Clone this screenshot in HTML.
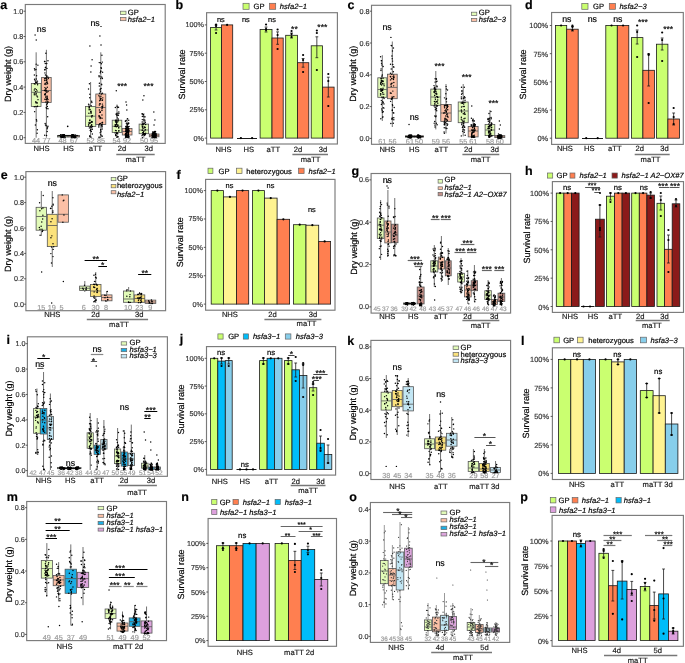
<!DOCTYPE html><html><head><meta charset="utf-8"><style>html,body{margin:0;padding:0;background:#fff;}svg{display:block;font-family:"Liberation Sans", sans-serif;will-change:transform;text-rendering:geometricPrecision;-webkit-font-smoothing:antialiased;}text{stroke:currentColor;stroke-width:0.18px;}</style></head><body><svg width="685" height="663" viewBox="0 0 685 663"><text x="0.3" y="9" font-size="12.5" text-anchor="start" fill="#000" color="#000" font-weight="bold">a</text>
<rect x="25.3" y="4.5" width="139.9" height="138.9" fill="none" stroke="#7a7a7a" stroke-width="1.15"/>
<line x1="23.5" y1="137.7" x2="25.3" y2="137.7" stroke="#333" stroke-width="0.8"/>
<text x="23.3" y="140.2" font-size="7.2" text-anchor="end" fill="#383838" color="#383838">0.0</text>
<line x1="23.5" y1="112.4" x2="25.3" y2="112.4" stroke="#333" stroke-width="0.8"/>
<text x="23.3" y="114.9" font-size="7.2" text-anchor="end" fill="#383838" color="#383838">0.2</text>
<line x1="23.5" y1="87.1" x2="25.3" y2="87.1" stroke="#333" stroke-width="0.8"/>
<text x="23.3" y="89.6" font-size="7.2" text-anchor="end" fill="#383838" color="#383838">0.4</text>
<line x1="23.5" y1="61.8" x2="25.3" y2="61.8" stroke="#333" stroke-width="0.8"/>
<text x="23.3" y="64.3" font-size="7.2" text-anchor="end" fill="#383838" color="#383838">0.6</text>
<line x1="23.5" y1="36.5" x2="25.3" y2="36.5" stroke="#333" stroke-width="0.8"/>
<text x="23.3" y="39" font-size="7.2" text-anchor="end" fill="#383838" color="#383838">0.8</text>
<line x1="23.5" y1="11.2" x2="25.3" y2="11.2" stroke="#333" stroke-width="0.8"/>
<text x="23.3" y="13.7" font-size="7.2" text-anchor="end" fill="#383838" color="#383838">1.0</text>
<text x="10.6" y="74" font-size="9" text-anchor="middle" fill="#000" color="#000" transform="rotate(-90 10.6 74)">Dry weight (g)</text>
<line x1="36.15" y1="52.3" x2="36.15" y2="83.4" stroke="#111" stroke-width="0.6"/>
<line x1="36.15" y1="106.5" x2="36.15" y2="137.7" stroke="#111" stroke-width="0.6"/>
<rect x="31.3" y="83.4" width="9.7" height="23.1" fill="#E2FBB8" stroke="#555" stroke-width="0.8"/>
<line x1="31.3" y1="92.3" x2="41" y2="92.3" stroke="#555" stroke-width="0.8"/>
<circle cx="37.17" cy="102.98" r="0.72" fill="#000"/>
<circle cx="35.95" cy="94.84" r="0.72" fill="#000"/>
<circle cx="34.57" cy="79.27" r="0.72" fill="#000"/>
<circle cx="35.89" cy="102.71" r="0.72" fill="#000"/>
<circle cx="35.94" cy="106.51" r="0.72" fill="#000"/>
<circle cx="37.88" cy="65.13" r="0.72" fill="#000"/>
<circle cx="34.31" cy="106.84" r="0.72" fill="#000"/>
<circle cx="35.69" cy="82.25" r="0.72" fill="#000"/>
<circle cx="34.32" cy="93.15" r="0.72" fill="#000"/>
<circle cx="36.13" cy="93.52" r="0.72" fill="#000"/>
<circle cx="35.06" cy="88.73" r="0.72" fill="#000"/>
<circle cx="34.29" cy="90.09" r="0.72" fill="#000"/>
<circle cx="36.7" cy="121.06" r="0.72" fill="#000"/>
<circle cx="37.55" cy="106.33" r="0.72" fill="#000"/>
<circle cx="37.01" cy="91.09" r="0.72" fill="#000"/>
<circle cx="35.85" cy="82.2" r="0.72" fill="#000"/>
<circle cx="35.39" cy="125.05" r="0.72" fill="#000"/>
<circle cx="37.49" cy="81.15" r="0.72" fill="#000"/>
<circle cx="34.34" cy="74.94" r="0.72" fill="#000"/>
<circle cx="35.82" cy="101.82" r="0.72" fill="#000"/>
<circle cx="36.94" cy="96.08" r="0.72" fill="#000"/>
<circle cx="35.91" cy="69.56" r="0.72" fill="#000"/>
<circle cx="36.23" cy="79.06" r="0.72" fill="#000"/>
<circle cx="34.32" cy="94.71" r="0.72" fill="#000"/>
<circle cx="38.02" cy="99.65" r="0.72" fill="#000"/>
<circle cx="34.87" cy="70.07" r="0.72" fill="#000"/>
<circle cx="37.2" cy="83.06" r="0.72" fill="#000"/>
<circle cx="35.11" cy="80.71" r="0.72" fill="#000"/>
<circle cx="36.45" cy="82.5" r="0.72" fill="#000"/>
<circle cx="36.34" cy="89.62" r="0.72" fill="#000"/>
<circle cx="37.25" cy="106.54" r="0.72" fill="#000"/>
<circle cx="37.08" cy="133.16" r="0.72" fill="#000"/>
<circle cx="36.39" cy="119.79" r="0.72" fill="#000"/>
<circle cx="37.59" cy="84.7" r="0.72" fill="#000"/>
<circle cx="36.17" cy="64.14" r="0.72" fill="#000"/>
<circle cx="35.55" cy="91.64" r="0.72" fill="#000"/>
<circle cx="36.59" cy="75.72" r="0.72" fill="#000"/>
<circle cx="35.1" cy="84.05" r="0.72" fill="#000"/>
<circle cx="37.55" cy="96.9" r="0.72" fill="#000"/>
<circle cx="37.38" cy="129.73" r="0.72" fill="#000"/>
<circle cx="36.82" cy="102.84" r="0.72" fill="#000"/>
<circle cx="34.27" cy="83.79" r="0.72" fill="#000"/>
<circle cx="34.63" cy="111.63" r="0.72" fill="#000"/>
<circle cx="34.48" cy="68.71" r="0.72" fill="#000"/>
<circle cx="35.09" cy="35" r="0.72" fill="#000"/>
<circle cx="36.23" cy="40" r="0.72" fill="#000"/>
<line x1="46.4" y1="49.8" x2="46.4" y2="77.4" stroke="#111" stroke-width="0.6"/>
<line x1="46.4" y1="102.4" x2="46.4" y2="137.7" stroke="#111" stroke-width="0.6"/>
<rect x="41.6" y="77.4" width="9.6" height="25" fill="#FBC0A6" stroke="#555" stroke-width="0.8"/>
<line x1="41.6" y1="90.5" x2="51.2" y2="90.5" stroke="#555" stroke-width="0.8"/>
<circle cx="44.7" cy="135.32" r="0.72" fill="#000"/>
<circle cx="47.31" cy="98.29" r="0.72" fill="#000"/>
<circle cx="46.81" cy="63.42" r="0.72" fill="#000"/>
<circle cx="45.09" cy="69.73" r="0.72" fill="#000"/>
<circle cx="47.26" cy="87.24" r="0.72" fill="#000"/>
<circle cx="46.57" cy="135.4" r="0.72" fill="#000"/>
<circle cx="44.62" cy="84.11" r="0.72" fill="#000"/>
<circle cx="45.7" cy="89.02" r="0.72" fill="#000"/>
<circle cx="46.5" cy="99.69" r="0.72" fill="#000"/>
<circle cx="44.57" cy="61.41" r="0.72" fill="#000"/>
<circle cx="46.44" cy="80.82" r="0.72" fill="#000"/>
<circle cx="45.18" cy="123.56" r="0.72" fill="#000"/>
<circle cx="47.3" cy="128.67" r="0.72" fill="#000"/>
<circle cx="47.51" cy="127.23" r="0.72" fill="#000"/>
<circle cx="48.17" cy="101.92" r="0.72" fill="#000"/>
<circle cx="47.23" cy="96.25" r="0.72" fill="#000"/>
<circle cx="46.36" cy="90.66" r="0.72" fill="#000"/>
<circle cx="47.67" cy="116.77" r="0.72" fill="#000"/>
<circle cx="47.93" cy="99.47" r="0.72" fill="#000"/>
<circle cx="48.01" cy="91.59" r="0.72" fill="#000"/>
<circle cx="45.33" cy="67.72" r="0.72" fill="#000"/>
<circle cx="45.12" cy="94.89" r="0.72" fill="#000"/>
<circle cx="47.98" cy="108.78" r="0.72" fill="#000"/>
<circle cx="47.19" cy="101.33" r="0.72" fill="#000"/>
<circle cx="46.98" cy="68.39" r="0.72" fill="#000"/>
<circle cx="45.28" cy="63.52" r="0.72" fill="#000"/>
<circle cx="46.87" cy="76.29" r="0.72" fill="#000"/>
<circle cx="47.27" cy="97.91" r="0.72" fill="#000"/>
<circle cx="47.34" cy="106.51" r="0.72" fill="#000"/>
<circle cx="45.53" cy="93.72" r="0.72" fill="#000"/>
<circle cx="44.89" cy="99.29" r="0.72" fill="#000"/>
<circle cx="45.42" cy="74.91" r="0.72" fill="#000"/>
<circle cx="46.1" cy="99.41" r="0.72" fill="#000"/>
<circle cx="45.87" cy="53.29" r="0.72" fill="#000"/>
<circle cx="44.8" cy="94.22" r="0.72" fill="#000"/>
<circle cx="47.28" cy="102.7" r="0.72" fill="#000"/>
<circle cx="47.6" cy="83.79" r="0.72" fill="#000"/>
<circle cx="47.14" cy="81.99" r="0.72" fill="#000"/>
<circle cx="48.28" cy="78.48" r="0.72" fill="#000"/>
<circle cx="45.8" cy="78.31" r="0.72" fill="#000"/>
<circle cx="44.91" cy="72.88" r="0.72" fill="#000"/>
<circle cx="46.2" cy="78.17" r="0.72" fill="#000"/>
<circle cx="47.94" cy="126.26" r="0.72" fill="#000"/>
<circle cx="47.19" cy="131.52" r="0.72" fill="#000"/>
<circle cx="47.02" cy="83.04" r="0.72" fill="#000"/>
<circle cx="46.2" cy="79.95" r="0.72" fill="#000"/>
<circle cx="46.73" cy="104.83" r="0.72" fill="#000"/>
<circle cx="45.03" cy="90.27" r="0.72" fill="#000"/>
<circle cx="46.81" cy="108.5" r="0.72" fill="#000"/>
<circle cx="46.62" cy="77.85" r="0.72" fill="#000"/>
<circle cx="44.61" cy="78.82" r="0.72" fill="#000"/>
<circle cx="46.92" cy="79.8" r="0.72" fill="#000"/>
<circle cx="48.07" cy="77.13" r="0.72" fill="#000"/>
<circle cx="46.19" cy="107.7" r="0.72" fill="#000"/>
<circle cx="46.88" cy="92.18" r="0.72" fill="#000"/>
<circle cx="45.47" cy="124.99" r="0.72" fill="#000"/>
<circle cx="44.5" cy="90.55" r="0.72" fill="#000"/>
<circle cx="44.91" cy="87.62" r="0.72" fill="#000"/>
<circle cx="44.86" cy="61.55" r="0.72" fill="#000"/>
<circle cx="45.31" cy="83.19" r="0.72" fill="#000"/>
<circle cx="45.67" cy="67.22" r="0.72" fill="#000"/>
<circle cx="47.96" cy="60.7" r="0.72" fill="#000"/>
<circle cx="46.15" cy="125.8" r="0.72" fill="#000"/>
<circle cx="44.68" cy="69.73" r="0.72" fill="#000"/>
<circle cx="45.18" cy="90.53" r="0.72" fill="#000"/>
<circle cx="45.89" cy="97.47" r="0.72" fill="#000"/>
<circle cx="46.82" cy="76.08" r="0.72" fill="#000"/>
<circle cx="45.91" cy="101.99" r="0.72" fill="#000"/>
<circle cx="44.87" cy="94.53" r="0.72" fill="#000"/>
<circle cx="47.06" cy="98.42" r="0.72" fill="#000"/>
<circle cx="46.06" cy="88.69" r="0.72" fill="#000"/>
<circle cx="46.74" cy="82.61" r="0.72" fill="#000"/>
<circle cx="45.91" cy="84.51" r="0.72" fill="#000"/>
<circle cx="47.38" cy="103.65" r="0.72" fill="#000"/>
<circle cx="45.98" cy="91.69" r="0.72" fill="#000"/>
<circle cx="46" cy="96.24" r="0.72" fill="#000"/>
<circle cx="44.79" cy="80.44" r="0.72" fill="#000"/>
<line x1="62.75" y1="134.6" x2="62.75" y2="135.4" stroke="#111" stroke-width="0.6"/>
<line x1="62.75" y1="137" x2="62.75" y2="137.7" stroke="#111" stroke-width="0.6"/>
<rect x="57.5" y="135.4" width="10.5" height="1.6" fill="#E2FBB8" stroke="#555" stroke-width="0.8"/>
<line x1="57.5" y1="136.2" x2="68" y2="136.2" stroke="#555" stroke-width="0.8"/>
<circle cx="62.2" cy="136.27" r="0.72" fill="#000"/>
<circle cx="60.93" cy="135.2" r="0.72" fill="#000"/>
<circle cx="61.74" cy="136.74" r="0.72" fill="#000"/>
<circle cx="62.63" cy="136.99" r="0.72" fill="#000"/>
<circle cx="63.33" cy="137.27" r="0.72" fill="#000"/>
<circle cx="64.3" cy="136.42" r="0.72" fill="#000"/>
<circle cx="63.47" cy="135.27" r="0.72" fill="#000"/>
<circle cx="63.13" cy="136.61" r="0.72" fill="#000"/>
<circle cx="64.29" cy="135.45" r="0.72" fill="#000"/>
<circle cx="64.34" cy="136.55" r="0.72" fill="#000"/>
<circle cx="62.31" cy="135.36" r="0.72" fill="#000"/>
<circle cx="64.58" cy="137.24" r="0.72" fill="#000"/>
<circle cx="61.22" cy="137.03" r="0.72" fill="#000"/>
<circle cx="62.48" cy="136.94" r="0.72" fill="#000"/>
<circle cx="62.78" cy="134.99" r="0.72" fill="#000"/>
<circle cx="63.11" cy="135.96" r="0.72" fill="#000"/>
<circle cx="63.51" cy="135.35" r="0.72" fill="#000"/>
<circle cx="64.81" cy="137.57" r="0.72" fill="#000"/>
<circle cx="64.26" cy="134.87" r="0.72" fill="#000"/>
<circle cx="63.04" cy="137.61" r="0.72" fill="#000"/>
<circle cx="64.14" cy="134.91" r="0.72" fill="#000"/>
<circle cx="60.92" cy="134.98" r="0.72" fill="#000"/>
<circle cx="61.02" cy="137.69" r="0.72" fill="#000"/>
<circle cx="61.28" cy="137.22" r="0.72" fill="#000"/>
<circle cx="64.32" cy="136.63" r="0.72" fill="#000"/>
<circle cx="60.84" cy="136.38" r="0.72" fill="#000"/>
<circle cx="64.35" cy="135.01" r="0.72" fill="#000"/>
<circle cx="64.84" cy="137.29" r="0.72" fill="#000"/>
<circle cx="63.17" cy="135.52" r="0.72" fill="#000"/>
<circle cx="62.36" cy="135.72" r="0.72" fill="#000"/>
<circle cx="60.83" cy="134.86" r="0.72" fill="#000"/>
<circle cx="64.68" cy="137.16" r="0.72" fill="#000"/>
<circle cx="62.58" cy="137.2" r="0.72" fill="#000"/>
<circle cx="63.15" cy="135.21" r="0.72" fill="#000"/>
<circle cx="64.6" cy="135.2" r="0.72" fill="#000"/>
<circle cx="63.68" cy="135.08" r="0.72" fill="#000"/>
<circle cx="64.76" cy="135.88" r="0.72" fill="#000"/>
<circle cx="60.7" cy="135.16" r="0.72" fill="#000"/>
<circle cx="60.73" cy="136.33" r="0.72" fill="#000"/>
<circle cx="60.9" cy="135.21" r="0.72" fill="#000"/>
<circle cx="63.5" cy="135.11" r="0.72" fill="#000"/>
<circle cx="63.75" cy="136.53" r="0.72" fill="#000"/>
<circle cx="63.49" cy="135.5" r="0.72" fill="#000"/>
<circle cx="62.57" cy="137.12" r="0.72" fill="#000"/>
<circle cx="62.18" cy="135" r="0.72" fill="#000"/>
<circle cx="63.15" cy="135.99" r="0.72" fill="#000"/>
<circle cx="63.89" cy="136" r="0.72" fill="#000"/>
<circle cx="63.74" cy="136.31" r="0.72" fill="#000"/>
<line x1="73.75" y1="134.6" x2="73.75" y2="135.4" stroke="#111" stroke-width="0.6"/>
<line x1="73.75" y1="137" x2="73.75" y2="137.7" stroke="#111" stroke-width="0.6"/>
<rect x="68" y="135.4" width="11.5" height="1.6" fill="#FBC0A6" stroke="#555" stroke-width="0.8"/>
<line x1="68" y1="136.2" x2="79.5" y2="136.2" stroke="#555" stroke-width="0.8"/>
<circle cx="73.27" cy="135.57" r="0.72" fill="#000"/>
<circle cx="73.3" cy="135.51" r="0.72" fill="#000"/>
<circle cx="74.97" cy="137.52" r="0.72" fill="#000"/>
<circle cx="72.72" cy="136.26" r="0.72" fill="#000"/>
<circle cx="72.44" cy="135.57" r="0.72" fill="#000"/>
<circle cx="75.16" cy="137.55" r="0.72" fill="#000"/>
<circle cx="72.88" cy="137.08" r="0.72" fill="#000"/>
<circle cx="75.38" cy="135.26" r="0.72" fill="#000"/>
<circle cx="74.24" cy="137.03" r="0.72" fill="#000"/>
<circle cx="72.27" cy="135.13" r="0.72" fill="#000"/>
<circle cx="75.75" cy="135.54" r="0.72" fill="#000"/>
<circle cx="72.83" cy="137.32" r="0.72" fill="#000"/>
<circle cx="75.51" cy="137.34" r="0.72" fill="#000"/>
<circle cx="73.35" cy="137.29" r="0.72" fill="#000"/>
<circle cx="72.19" cy="135.08" r="0.72" fill="#000"/>
<circle cx="71.65" cy="136.7" r="0.72" fill="#000"/>
<circle cx="72.74" cy="136.4" r="0.72" fill="#000"/>
<circle cx="73.03" cy="135.11" r="0.72" fill="#000"/>
<circle cx="73.35" cy="137.08" r="0.72" fill="#000"/>
<circle cx="72.72" cy="136.41" r="0.72" fill="#000"/>
<circle cx="72.93" cy="136.6" r="0.72" fill="#000"/>
<circle cx="71.91" cy="135.35" r="0.72" fill="#000"/>
<circle cx="74.97" cy="135.77" r="0.72" fill="#000"/>
<circle cx="72.97" cy="134.94" r="0.72" fill="#000"/>
<circle cx="71.65" cy="136.13" r="0.72" fill="#000"/>
<circle cx="75.84" cy="135.35" r="0.72" fill="#000"/>
<circle cx="71.53" cy="135.38" r="0.72" fill="#000"/>
<circle cx="75.02" cy="136.95" r="0.72" fill="#000"/>
<circle cx="74.3" cy="136.91" r="0.72" fill="#000"/>
<circle cx="72.33" cy="137.14" r="0.72" fill="#000"/>
<circle cx="73.21" cy="135.62" r="0.72" fill="#000"/>
<circle cx="71.49" cy="137.17" r="0.72" fill="#000"/>
<circle cx="75.06" cy="135.67" r="0.72" fill="#000"/>
<circle cx="71.9" cy="135.86" r="0.72" fill="#000"/>
<circle cx="72.41" cy="137.23" r="0.72" fill="#000"/>
<circle cx="72.23" cy="135.49" r="0.72" fill="#000"/>
<circle cx="71.64" cy="134.86" r="0.72" fill="#000"/>
<circle cx="76.04" cy="135.8" r="0.72" fill="#000"/>
<circle cx="75.01" cy="136.25" r="0.72" fill="#000"/>
<circle cx="73.65" cy="136.98" r="0.72" fill="#000"/>
<circle cx="71.62" cy="136.06" r="0.72" fill="#000"/>
<circle cx="75.54" cy="135.8" r="0.72" fill="#000"/>
<circle cx="71.6" cy="137.28" r="0.72" fill="#000"/>
<circle cx="72.41" cy="135.79" r="0.72" fill="#000"/>
<circle cx="72.1" cy="136.79" r="0.72" fill="#000"/>
<circle cx="74.05" cy="136.88" r="0.72" fill="#000"/>
<circle cx="75.59" cy="137.21" r="0.72" fill="#000"/>
<circle cx="74.88" cy="135.29" r="0.72" fill="#000"/>
<circle cx="72.42" cy="135.55" r="0.72" fill="#000"/>
<circle cx="75.7" cy="137.61" r="0.72" fill="#000"/>
<circle cx="75.13" cy="136.45" r="0.72" fill="#000"/>
<circle cx="73.88" cy="135.31" r="0.72" fill="#000"/>
<circle cx="72.68" cy="135.24" r="0.72" fill="#000"/>
<circle cx="71.79" cy="137.66" r="0.72" fill="#000"/>
<circle cx="74.52" cy="137.67" r="0.72" fill="#000"/>
<circle cx="72.04" cy="136.84" r="0.72" fill="#000"/>
<circle cx="71.73" cy="137.41" r="0.72" fill="#000"/>
<circle cx="74.07" cy="136.42" r="0.72" fill="#000"/>
<circle cx="72.46" cy="135.36" r="0.72" fill="#000"/>
<circle cx="71.51" cy="136.88" r="0.72" fill="#000"/>
<circle cx="75.18" cy="137.04" r="0.72" fill="#000"/>
<circle cx="73.98" cy="137.59" r="0.72" fill="#000"/>
<circle cx="74.54" cy="137.09" r="0.72" fill="#000"/>
<circle cx="75.01" cy="136.83" r="0.72" fill="#000"/>
<circle cx="71.57" cy="136.24" r="0.72" fill="#000"/>
<circle cx="73.7" cy="136.35" r="0.72" fill="#000"/>
<circle cx="72.09" cy="137.37" r="0.72" fill="#000"/>
<line x1="90.6" y1="82" x2="90.6" y2="106.5" stroke="#111" stroke-width="0.6"/>
<line x1="90.6" y1="126.4" x2="90.6" y2="137.7" stroke="#111" stroke-width="0.6"/>
<rect x="85.4" y="106.5" width="10.4" height="19.9" fill="#E2FBB8" stroke="#555" stroke-width="0.8"/>
<line x1="85.4" y1="116.2" x2="95.8" y2="116.2" stroke="#555" stroke-width="0.8"/>
<circle cx="91.83" cy="102.48" r="0.72" fill="#000"/>
<circle cx="92.36" cy="134.04" r="0.72" fill="#000"/>
<circle cx="92.44" cy="115.77" r="0.72" fill="#000"/>
<circle cx="88.99" cy="105.01" r="0.72" fill="#000"/>
<circle cx="90.78" cy="111.41" r="0.72" fill="#000"/>
<circle cx="89.42" cy="83.82" r="0.72" fill="#000"/>
<circle cx="91.71" cy="124.74" r="0.72" fill="#000"/>
<circle cx="89.1" cy="122.36" r="0.72" fill="#000"/>
<circle cx="88.53" cy="89.09" r="0.72" fill="#000"/>
<circle cx="89.42" cy="127.88" r="0.72" fill="#000"/>
<circle cx="89.72" cy="135.86" r="0.72" fill="#000"/>
<circle cx="91.34" cy="131.46" r="0.72" fill="#000"/>
<circle cx="91.39" cy="125.23" r="0.72" fill="#000"/>
<circle cx="89.76" cy="136.16" r="0.72" fill="#000"/>
<circle cx="89.13" cy="109.8" r="0.72" fill="#000"/>
<circle cx="91.03" cy="112.5" r="0.72" fill="#000"/>
<circle cx="89.93" cy="119.99" r="0.72" fill="#000"/>
<circle cx="90.52" cy="122.79" r="0.72" fill="#000"/>
<circle cx="91.45" cy="116.08" r="0.72" fill="#000"/>
<circle cx="88.62" cy="125.9" r="0.72" fill="#000"/>
<circle cx="88.6" cy="104.14" r="0.72" fill="#000"/>
<circle cx="90.93" cy="129.46" r="0.72" fill="#000"/>
<circle cx="89.27" cy="107.43" r="0.72" fill="#000"/>
<circle cx="91.66" cy="127.76" r="0.72" fill="#000"/>
<circle cx="89.95" cy="136.86" r="0.72" fill="#000"/>
<circle cx="91.75" cy="116.94" r="0.72" fill="#000"/>
<circle cx="91.84" cy="121.39" r="0.72" fill="#000"/>
<circle cx="92.45" cy="126.55" r="0.72" fill="#000"/>
<circle cx="91.06" cy="113.28" r="0.72" fill="#000"/>
<circle cx="92.36" cy="129.18" r="0.72" fill="#000"/>
<circle cx="89.84" cy="94.19" r="0.72" fill="#000"/>
<circle cx="89.14" cy="108.06" r="0.72" fill="#000"/>
<circle cx="89.19" cy="106.45" r="0.72" fill="#000"/>
<circle cx="90.74" cy="126.14" r="0.72" fill="#000"/>
<circle cx="90.99" cy="111.22" r="0.72" fill="#000"/>
<circle cx="90.27" cy="130.47" r="0.72" fill="#000"/>
<circle cx="88.66" cy="124.73" r="0.72" fill="#000"/>
<circle cx="89.06" cy="123.18" r="0.72" fill="#000"/>
<circle cx="91.14" cy="105.75" r="0.72" fill="#000"/>
<circle cx="90.33" cy="127.02" r="0.72" fill="#000"/>
<circle cx="89.75" cy="123.31" r="0.72" fill="#000"/>
<circle cx="92.07" cy="126.39" r="0.72" fill="#000"/>
<circle cx="90.55" cy="130.44" r="0.72" fill="#000"/>
<circle cx="89.73" cy="97.75" r="0.72" fill="#000"/>
<circle cx="90.09" cy="109.42" r="0.72" fill="#000"/>
<circle cx="91.13" cy="137.11" r="0.72" fill="#000"/>
<circle cx="88.89" cy="113.24" r="0.72" fill="#000"/>
<circle cx="92.13" cy="122.06" r="0.72" fill="#000"/>
<circle cx="91.74" cy="122.14" r="0.72" fill="#000"/>
<circle cx="91.68" cy="101.16" r="0.72" fill="#000"/>
<circle cx="89.69" cy="120.52" r="0.72" fill="#000"/>
<circle cx="91.39" cy="121.82" r="0.72" fill="#000"/>
<circle cx="89.91" cy="46" r="0.72" fill="#000"/>
<circle cx="92.08" cy="59.7" r="0.72" fill="#000"/>
<circle cx="91.1" cy="66" r="0.72" fill="#000"/>
<circle cx="90.87" cy="72" r="0.72" fill="#000"/>
<line x1="100.8" y1="52.3" x2="100.8" y2="94" stroke="#111" stroke-width="0.6"/>
<line x1="100.8" y1="124.4" x2="100.8" y2="137.7" stroke="#111" stroke-width="0.6"/>
<rect x="95.8" y="94" width="10" height="30.4" fill="#FBC0A6" stroke="#555" stroke-width="0.8"/>
<line x1="95.8" y1="107.5" x2="105.8" y2="107.5" stroke="#555" stroke-width="0.8"/>
<circle cx="100.74" cy="134.71" r="0.72" fill="#000"/>
<circle cx="101.45" cy="94.01" r="0.72" fill="#000"/>
<circle cx="100.29" cy="117.1" r="0.72" fill="#000"/>
<circle cx="102.01" cy="126.86" r="0.72" fill="#000"/>
<circle cx="100.95" cy="76.87" r="0.72" fill="#000"/>
<circle cx="101.01" cy="67.84" r="0.72" fill="#000"/>
<circle cx="102.01" cy="126.77" r="0.72" fill="#000"/>
<circle cx="100.14" cy="89.97" r="0.72" fill="#000"/>
<circle cx="102.02" cy="118.33" r="0.72" fill="#000"/>
<circle cx="99.59" cy="96.85" r="0.72" fill="#000"/>
<circle cx="102.61" cy="72.19" r="0.72" fill="#000"/>
<circle cx="101.42" cy="68.22" r="0.72" fill="#000"/>
<circle cx="102.44" cy="122.36" r="0.72" fill="#000"/>
<circle cx="101.59" cy="84.34" r="0.72" fill="#000"/>
<circle cx="98.91" cy="137.29" r="0.72" fill="#000"/>
<circle cx="100.02" cy="112.29" r="0.72" fill="#000"/>
<circle cx="102.32" cy="62.11" r="0.72" fill="#000"/>
<circle cx="101.45" cy="63.8" r="0.72" fill="#000"/>
<circle cx="100.73" cy="99.97" r="0.72" fill="#000"/>
<circle cx="102.26" cy="100.38" r="0.72" fill="#000"/>
<circle cx="101.91" cy="55.31" r="0.72" fill="#000"/>
<circle cx="102.42" cy="104.12" r="0.72" fill="#000"/>
<circle cx="100.31" cy="72.8" r="0.72" fill="#000"/>
<circle cx="102.8" cy="97.86" r="0.72" fill="#000"/>
<circle cx="101.79" cy="106.86" r="0.72" fill="#000"/>
<circle cx="99.78" cy="123.82" r="0.72" fill="#000"/>
<circle cx="101.48" cy="135.87" r="0.72" fill="#000"/>
<circle cx="102.13" cy="129.07" r="0.72" fill="#000"/>
<circle cx="100.68" cy="130.04" r="0.72" fill="#000"/>
<circle cx="99.14" cy="76.69" r="0.72" fill="#000"/>
<circle cx="100.75" cy="71.13" r="0.72" fill="#000"/>
<circle cx="98.89" cy="125.75" r="0.72" fill="#000"/>
<circle cx="100.24" cy="111.92" r="0.72" fill="#000"/>
<circle cx="102.51" cy="107.73" r="0.72" fill="#000"/>
<circle cx="102.32" cy="106.48" r="0.72" fill="#000"/>
<circle cx="100.7" cy="71.22" r="0.72" fill="#000"/>
<circle cx="100.31" cy="98.32" r="0.72" fill="#000"/>
<circle cx="100.09" cy="118.46" r="0.72" fill="#000"/>
<circle cx="102.49" cy="93.26" r="0.72" fill="#000"/>
<circle cx="100.08" cy="112.33" r="0.72" fill="#000"/>
<circle cx="101.97" cy="108.84" r="0.72" fill="#000"/>
<circle cx="98.82" cy="127.07" r="0.72" fill="#000"/>
<circle cx="98.92" cy="95.74" r="0.72" fill="#000"/>
<circle cx="101.67" cy="125.17" r="0.72" fill="#000"/>
<circle cx="102.21" cy="122.53" r="0.72" fill="#000"/>
<circle cx="102.59" cy="99.86" r="0.72" fill="#000"/>
<circle cx="101.93" cy="77.15" r="0.72" fill="#000"/>
<circle cx="100.68" cy="129.69" r="0.72" fill="#000"/>
<circle cx="99.38" cy="105" r="0.72" fill="#000"/>
<circle cx="99.38" cy="83.19" r="0.72" fill="#000"/>
<circle cx="99.22" cy="62.61" r="0.72" fill="#000"/>
<circle cx="102.4" cy="78.56" r="0.72" fill="#000"/>
<circle cx="99.31" cy="86.01" r="0.72" fill="#000"/>
<circle cx="101.27" cy="124.93" r="0.72" fill="#000"/>
<circle cx="102.37" cy="136.13" r="0.72" fill="#000"/>
<circle cx="101.97" cy="115.09" r="0.72" fill="#000"/>
<circle cx="102.44" cy="122.68" r="0.72" fill="#000"/>
<circle cx="100.59" cy="117.67" r="0.72" fill="#000"/>
<circle cx="99.05" cy="115.66" r="0.72" fill="#000"/>
<circle cx="99.94" cy="137.32" r="0.72" fill="#000"/>
<circle cx="102.23" cy="124.93" r="0.72" fill="#000"/>
<circle cx="100.52" cy="123.37" r="0.72" fill="#000"/>
<circle cx="99.14" cy="124.55" r="0.72" fill="#000"/>
<circle cx="100.94" cy="131.82" r="0.72" fill="#000"/>
<circle cx="100.28" cy="99.27" r="0.72" fill="#000"/>
<circle cx="101.86" cy="124.19" r="0.72" fill="#000"/>
<circle cx="100.17" cy="132.78" r="0.72" fill="#000"/>
<circle cx="99.26" cy="116.24" r="0.72" fill="#000"/>
<circle cx="100.78" cy="78.61" r="0.72" fill="#000"/>
<circle cx="100.88" cy="96.25" r="0.72" fill="#000"/>
<circle cx="99.4" cy="109.97" r="0.72" fill="#000"/>
<circle cx="101.07" cy="98.59" r="0.72" fill="#000"/>
<circle cx="99.69" cy="100.78" r="0.72" fill="#000"/>
<circle cx="100.48" cy="91.72" r="0.72" fill="#000"/>
<circle cx="99.76" cy="103.62" r="0.72" fill="#000"/>
<circle cx="101.08" cy="88.4" r="0.72" fill="#000"/>
<circle cx="100.32" cy="103.89" r="0.72" fill="#000"/>
<circle cx="102.79" cy="106.08" r="0.72" fill="#000"/>
<circle cx="101.67" cy="84.86" r="0.72" fill="#000"/>
<circle cx="100.29" cy="88.92" r="0.72" fill="#000"/>
<circle cx="99.46" cy="93.31" r="0.72" fill="#000"/>
<circle cx="99.04" cy="75.81" r="0.72" fill="#000"/>
<circle cx="99.26" cy="117.07" r="0.72" fill="#000"/>
<circle cx="100.27" cy="62.78" r="0.72" fill="#000"/>
<circle cx="101.95" cy="110.5" r="0.72" fill="#000"/>
<circle cx="99.92" cy="36" r="0.72" fill="#000"/>
<circle cx="101.01" cy="45" r="0.72" fill="#000"/>
<line x1="117" y1="104.5" x2="117" y2="120.2" stroke="#111" stroke-width="0.6"/>
<line x1="117" y1="132.5" x2="117" y2="137.7" stroke="#111" stroke-width="0.6"/>
<rect x="112.2" y="120.2" width="9.6" height="12.3" fill="#E2FBB8" stroke="#555" stroke-width="0.8"/>
<line x1="112.2" y1="126.3" x2="121.8" y2="126.3" stroke="#555" stroke-width="0.8"/>
<circle cx="117.58" cy="122.06" r="0.72" fill="#000"/>
<circle cx="116.48" cy="126.79" r="0.72" fill="#000"/>
<circle cx="115.22" cy="126.44" r="0.72" fill="#000"/>
<circle cx="115.43" cy="121.06" r="0.72" fill="#000"/>
<circle cx="115.56" cy="130.37" r="0.72" fill="#000"/>
<circle cx="118.72" cy="127.92" r="0.72" fill="#000"/>
<circle cx="118.83" cy="113.51" r="0.72" fill="#000"/>
<circle cx="116.19" cy="130.76" r="0.72" fill="#000"/>
<circle cx="116.26" cy="121.65" r="0.72" fill="#000"/>
<circle cx="117.31" cy="133.06" r="0.72" fill="#000"/>
<circle cx="117.18" cy="113.18" r="0.72" fill="#000"/>
<circle cx="115.87" cy="120.93" r="0.72" fill="#000"/>
<circle cx="116.29" cy="113.93" r="0.72" fill="#000"/>
<circle cx="116.23" cy="114.26" r="0.72" fill="#000"/>
<circle cx="116.02" cy="135.76" r="0.72" fill="#000"/>
<circle cx="118.44" cy="115.17" r="0.72" fill="#000"/>
<circle cx="118.84" cy="111.94" r="0.72" fill="#000"/>
<circle cx="117.99" cy="125.34" r="0.72" fill="#000"/>
<circle cx="115.23" cy="126.21" r="0.72" fill="#000"/>
<circle cx="117.28" cy="117.86" r="0.72" fill="#000"/>
<circle cx="117.75" cy="133.65" r="0.72" fill="#000"/>
<circle cx="116.83" cy="115.82" r="0.72" fill="#000"/>
<circle cx="116.9" cy="137.33" r="0.72" fill="#000"/>
<circle cx="117.77" cy="107.42" r="0.72" fill="#000"/>
<circle cx="118.24" cy="120.13" r="0.72" fill="#000"/>
<circle cx="117.65" cy="124.95" r="0.72" fill="#000"/>
<circle cx="115.73" cy="125.88" r="0.72" fill="#000"/>
<circle cx="118.03" cy="120.93" r="0.72" fill="#000"/>
<circle cx="116.58" cy="123.25" r="0.72" fill="#000"/>
<circle cx="116.8" cy="132.7" r="0.72" fill="#000"/>
<circle cx="118.23" cy="119.07" r="0.72" fill="#000"/>
<circle cx="116.67" cy="133.49" r="0.72" fill="#000"/>
<circle cx="118.76" cy="131.08" r="0.72" fill="#000"/>
<circle cx="115.97" cy="122.37" r="0.72" fill="#000"/>
<circle cx="117.34" cy="126.17" r="0.72" fill="#000"/>
<circle cx="116.69" cy="120.25" r="0.72" fill="#000"/>
<circle cx="118.74" cy="127.17" r="0.72" fill="#000"/>
<circle cx="117.45" cy="115.05" r="0.72" fill="#000"/>
<circle cx="118.53" cy="107.22" r="0.72" fill="#000"/>
<circle cx="118.14" cy="136.87" r="0.72" fill="#000"/>
<circle cx="115.48" cy="125.11" r="0.72" fill="#000"/>
<circle cx="115.34" cy="107.47" r="0.72" fill="#000"/>
<circle cx="116.39" cy="122.2" r="0.72" fill="#000"/>
<circle cx="115.66" cy="120.2" r="0.72" fill="#000"/>
<circle cx="115.18" cy="124.67" r="0.72" fill="#000"/>
<circle cx="115.65" cy="135.26" r="0.72" fill="#000"/>
<circle cx="116.48" cy="124.47" r="0.72" fill="#000"/>
<circle cx="118.89" cy="130.64" r="0.72" fill="#000"/>
<circle cx="115.41" cy="126.15" r="0.72" fill="#000"/>
<circle cx="116.1" cy="124.41" r="0.72" fill="#000"/>
<circle cx="115.17" cy="132.99" r="0.72" fill="#000"/>
<circle cx="115.64" cy="134.77" r="0.72" fill="#000"/>
<circle cx="117.11" cy="106.3" r="0.72" fill="#000"/>
<circle cx="117.75" cy="136.8" r="0.72" fill="#000"/>
<circle cx="116.27" cy="90.8" r="0.72" fill="#000"/>
<line x1="127.15" y1="118.2" x2="127.15" y2="128.4" stroke="#111" stroke-width="0.6"/>
<line x1="127.15" y1="135" x2="127.15" y2="137.7" stroke="#111" stroke-width="0.6"/>
<rect x="122.3" y="128.4" width="9.7" height="6.6" fill="#FBC0A6" stroke="#555" stroke-width="0.8"/>
<line x1="122.3" y1="131.5" x2="132" y2="131.5" stroke="#555" stroke-width="0.8"/>
<circle cx="125.7" cy="134.75" r="0.72" fill="#000"/>
<circle cx="126.17" cy="120.53" r="0.72" fill="#000"/>
<circle cx="127.7" cy="135.35" r="0.72" fill="#000"/>
<circle cx="127.13" cy="131.39" r="0.72" fill="#000"/>
<circle cx="125.56" cy="133.88" r="0.72" fill="#000"/>
<circle cx="126.25" cy="128.53" r="0.72" fill="#000"/>
<circle cx="126.68" cy="134.35" r="0.72" fill="#000"/>
<circle cx="129.06" cy="130.11" r="0.72" fill="#000"/>
<circle cx="126.67" cy="132.49" r="0.72" fill="#000"/>
<circle cx="127.89" cy="123.52" r="0.72" fill="#000"/>
<circle cx="128.71" cy="132.69" r="0.72" fill="#000"/>
<circle cx="125.46" cy="121.36" r="0.72" fill="#000"/>
<circle cx="125.96" cy="136.06" r="0.72" fill="#000"/>
<circle cx="128.04" cy="136.33" r="0.72" fill="#000"/>
<circle cx="126.59" cy="135.53" r="0.72" fill="#000"/>
<circle cx="128.18" cy="135.2" r="0.72" fill="#000"/>
<circle cx="127.93" cy="132.96" r="0.72" fill="#000"/>
<circle cx="127.16" cy="137.16" r="0.72" fill="#000"/>
<circle cx="127.26" cy="129.39" r="0.72" fill="#000"/>
<circle cx="128.71" cy="120.29" r="0.72" fill="#000"/>
<circle cx="126.06" cy="126.44" r="0.72" fill="#000"/>
<circle cx="126.54" cy="128.48" r="0.72" fill="#000"/>
<circle cx="126.67" cy="131.19" r="0.72" fill="#000"/>
<circle cx="125.89" cy="137.33" r="0.72" fill="#000"/>
<circle cx="127.78" cy="129.5" r="0.72" fill="#000"/>
<circle cx="128.18" cy="135.34" r="0.72" fill="#000"/>
<circle cx="128.18" cy="128.49" r="0.72" fill="#000"/>
<circle cx="126.9" cy="129.52" r="0.72" fill="#000"/>
<circle cx="126.94" cy="131.11" r="0.72" fill="#000"/>
<circle cx="126.33" cy="132.28" r="0.72" fill="#000"/>
<circle cx="125.62" cy="128.96" r="0.72" fill="#000"/>
<circle cx="128.34" cy="123.73" r="0.72" fill="#000"/>
<circle cx="129.01" cy="126.49" r="0.72" fill="#000"/>
<circle cx="125.75" cy="128.51" r="0.72" fill="#000"/>
<circle cx="128.1" cy="132.19" r="0.72" fill="#000"/>
<circle cx="125.22" cy="134.77" r="0.72" fill="#000"/>
<circle cx="128.61" cy="135.36" r="0.72" fill="#000"/>
<circle cx="128.16" cy="134.77" r="0.72" fill="#000"/>
<circle cx="125.9" cy="136.33" r="0.72" fill="#000"/>
<circle cx="125.53" cy="135.93" r="0.72" fill="#000"/>
<circle cx="127.05" cy="124.91" r="0.72" fill="#000"/>
<circle cx="127.46" cy="129.21" r="0.72" fill="#000"/>
<circle cx="126.92" cy="129.23" r="0.72" fill="#000"/>
<circle cx="127.04" cy="126.54" r="0.72" fill="#000"/>
<circle cx="126.09" cy="130.78" r="0.72" fill="#000"/>
<circle cx="125.63" cy="131.35" r="0.72" fill="#000"/>
<circle cx="127.58" cy="126.49" r="0.72" fill="#000"/>
<circle cx="126.89" cy="130.8" r="0.72" fill="#000"/>
<circle cx="128.14" cy="134.79" r="0.72" fill="#000"/>
<circle cx="125.99" cy="126.47" r="0.72" fill="#000"/>
<circle cx="128.1" cy="131.87" r="0.72" fill="#000"/>
<circle cx="127.59" cy="118.71" r="0.72" fill="#000"/>
<circle cx="128.81" cy="136.84" r="0.72" fill="#000"/>
<circle cx="126.36" cy="135.39" r="0.72" fill="#000"/>
<circle cx="126.64" cy="128.26" r="0.72" fill="#000"/>
<circle cx="127.21" cy="137.19" r="0.72" fill="#000"/>
<circle cx="128.25" cy="128.13" r="0.72" fill="#000"/>
<circle cx="125.97" cy="133.98" r="0.72" fill="#000"/>
<circle cx="128.5" cy="134.73" r="0.72" fill="#000"/>
<circle cx="127.59" cy="130.32" r="0.72" fill="#000"/>
<circle cx="128.84" cy="136.65" r="0.72" fill="#000"/>
<circle cx="127.56" cy="127.26" r="0.72" fill="#000"/>
<circle cx="127.11" cy="131.22" r="0.72" fill="#000"/>
<circle cx="126.25" cy="127.38" r="0.72" fill="#000"/>
<circle cx="126.26" cy="133.24" r="0.72" fill="#000"/>
<circle cx="128.43" cy="129.17" r="0.72" fill="#000"/>
<circle cx="128.33" cy="130.32" r="0.72" fill="#000"/>
<circle cx="128.66" cy="122.92" r="0.72" fill="#000"/>
<circle cx="128.96" cy="130.78" r="0.72" fill="#000"/>
<circle cx="126.18" cy="136.85" r="0.72" fill="#000"/>
<circle cx="128.43" cy="136.38" r="0.72" fill="#000"/>
<circle cx="128.29" cy="133.55" r="0.72" fill="#000"/>
<circle cx="128.24" cy="132.72" r="0.72" fill="#000"/>
<circle cx="128.26" cy="137.42" r="0.72" fill="#000"/>
<circle cx="127.87" cy="132.43" r="0.72" fill="#000"/>
<circle cx="128.58" cy="131.45" r="0.72" fill="#000"/>
<circle cx="125.57" cy="137.44" r="0.72" fill="#000"/>
<circle cx="127.74" cy="127.55" r="0.72" fill="#000"/>
<circle cx="128.78" cy="128.66" r="0.72" fill="#000"/>
<circle cx="126.63" cy="136.55" r="0.72" fill="#000"/>
<circle cx="128.02" cy="137.07" r="0.72" fill="#000"/>
<circle cx="126.36" cy="123.34" r="0.72" fill="#000"/>
<circle cx="127.23" cy="130.56" r="0.72" fill="#000"/>
<circle cx="126.56" cy="133.16" r="0.72" fill="#000"/>
<circle cx="126.72" cy="130.08" r="0.72" fill="#000"/>
<circle cx="125.6" cy="133.56" r="0.72" fill="#000"/>
<circle cx="125.9" cy="130.33" r="0.72" fill="#000"/>
<circle cx="125.41" cy="120.9" r="0.72" fill="#000"/>
<circle cx="128.41" cy="126.69" r="0.72" fill="#000"/>
<circle cx="128.63" cy="123.41" r="0.72" fill="#000"/>
<circle cx="127.39" cy="124.76" r="0.72" fill="#000"/>
<circle cx="128.82" cy="137.69" r="0.72" fill="#000"/>
<circle cx="126.01" cy="102" r="0.72" fill="#000"/>
<circle cx="126.61" cy="105" r="0.72" fill="#000"/>
<circle cx="126.86" cy="110" r="0.72" fill="#000"/>
<line x1="143.85" y1="113" x2="143.85" y2="124.1" stroke="#111" stroke-width="0.6"/>
<line x1="143.85" y1="133.7" x2="143.85" y2="137.7" stroke="#111" stroke-width="0.6"/>
<rect x="139.1" y="124.1" width="9.5" height="9.6" fill="#E2FBB8" stroke="#555" stroke-width="0.8"/>
<line x1="139.1" y1="130" x2="148.6" y2="130" stroke="#555" stroke-width="0.8"/>
<circle cx="142.48" cy="127.68" r="0.72" fill="#000"/>
<circle cx="143.86" cy="133.71" r="0.72" fill="#000"/>
<circle cx="144.06" cy="133.85" r="0.72" fill="#000"/>
<circle cx="143.39" cy="114.63" r="0.72" fill="#000"/>
<circle cx="144.71" cy="119.89" r="0.72" fill="#000"/>
<circle cx="142.37" cy="126.38" r="0.72" fill="#000"/>
<circle cx="144.19" cy="123.58" r="0.72" fill="#000"/>
<circle cx="144.79" cy="134.85" r="0.72" fill="#000"/>
<circle cx="144.51" cy="126.9" r="0.72" fill="#000"/>
<circle cx="142.28" cy="119.61" r="0.72" fill="#000"/>
<circle cx="143.02" cy="126.11" r="0.72" fill="#000"/>
<circle cx="145.32" cy="134.19" r="0.72" fill="#000"/>
<circle cx="143.39" cy="133.79" r="0.72" fill="#000"/>
<circle cx="143.56" cy="124.33" r="0.72" fill="#000"/>
<circle cx="144.22" cy="133.93" r="0.72" fill="#000"/>
<circle cx="145.35" cy="129.66" r="0.72" fill="#000"/>
<circle cx="142.27" cy="124.18" r="0.72" fill="#000"/>
<circle cx="142.27" cy="113.98" r="0.72" fill="#000"/>
<circle cx="143.55" cy="132.94" r="0.72" fill="#000"/>
<circle cx="142.3" cy="130.23" r="0.72" fill="#000"/>
<circle cx="144.26" cy="116.87" r="0.72" fill="#000"/>
<circle cx="144.06" cy="133.79" r="0.72" fill="#000"/>
<circle cx="142.97" cy="116.55" r="0.72" fill="#000"/>
<circle cx="142.41" cy="137.69" r="0.72" fill="#000"/>
<circle cx="142.85" cy="123.77" r="0.72" fill="#000"/>
<circle cx="143.34" cy="114.68" r="0.72" fill="#000"/>
<circle cx="144.89" cy="121.09" r="0.72" fill="#000"/>
<circle cx="145.23" cy="127.43" r="0.72" fill="#000"/>
<circle cx="143.48" cy="119.89" r="0.72" fill="#000"/>
<circle cx="142.02" cy="135.65" r="0.72" fill="#000"/>
<circle cx="143.6" cy="134.64" r="0.72" fill="#000"/>
<circle cx="143.18" cy="128.36" r="0.72" fill="#000"/>
<circle cx="142.34" cy="130.14" r="0.72" fill="#000"/>
<circle cx="144.92" cy="133.73" r="0.72" fill="#000"/>
<circle cx="144.65" cy="135.31" r="0.72" fill="#000"/>
<circle cx="143.57" cy="131.18" r="0.72" fill="#000"/>
<circle cx="143.47" cy="133.36" r="0.72" fill="#000"/>
<circle cx="143.35" cy="132.36" r="0.72" fill="#000"/>
<circle cx="145.15" cy="116.85" r="0.72" fill="#000"/>
<circle cx="145.66" cy="124.58" r="0.72" fill="#000"/>
<circle cx="145.7" cy="133.19" r="0.72" fill="#000"/>
<circle cx="142.18" cy="113.78" r="0.72" fill="#000"/>
<circle cx="144.27" cy="127.83" r="0.72" fill="#000"/>
<circle cx="142.48" cy="134.74" r="0.72" fill="#000"/>
<circle cx="142.28" cy="116.37" r="0.72" fill="#000"/>
<circle cx="142.2" cy="121.93" r="0.72" fill="#000"/>
<circle cx="144.85" cy="130.86" r="0.72" fill="#000"/>
<circle cx="142.59" cy="132.62" r="0.72" fill="#000"/>
<circle cx="145.29" cy="122.5" r="0.72" fill="#000"/>
<circle cx="142.13" cy="125.05" r="0.72" fill="#000"/>
<circle cx="143.94" cy="95.8" r="0.72" fill="#000"/>
<circle cx="142.86" cy="100" r="0.72" fill="#000"/>
<line x1="154.15" y1="131" x2="154.15" y2="134" stroke="#111" stroke-width="0.6"/>
<line x1="154.15" y1="136.8" x2="154.15" y2="137.7" stroke="#111" stroke-width="0.6"/>
<rect x="149.3" y="134" width="9.7" height="2.8" fill="#FBC0A6" stroke="#555" stroke-width="0.8"/>
<line x1="149.3" y1="135.3" x2="159" y2="135.3" stroke="#555" stroke-width="0.8"/>
<circle cx="154.45" cy="132.81" r="0.72" fill="#000"/>
<circle cx="155.41" cy="136.28" r="0.72" fill="#000"/>
<circle cx="154.23" cy="132" r="0.72" fill="#000"/>
<circle cx="155.91" cy="134.7" r="0.72" fill="#000"/>
<circle cx="155.55" cy="136.82" r="0.72" fill="#000"/>
<circle cx="153.31" cy="132.68" r="0.72" fill="#000"/>
<circle cx="154.87" cy="132.87" r="0.72" fill="#000"/>
<circle cx="155.19" cy="131.89" r="0.72" fill="#000"/>
<circle cx="154.59" cy="137.66" r="0.72" fill="#000"/>
<circle cx="152.73" cy="134.01" r="0.72" fill="#000"/>
<circle cx="153.63" cy="136.99" r="0.72" fill="#000"/>
<circle cx="154.34" cy="137" r="0.72" fill="#000"/>
<circle cx="154.48" cy="134.18" r="0.72" fill="#000"/>
<circle cx="153.08" cy="136.88" r="0.72" fill="#000"/>
<circle cx="154.14" cy="134.1" r="0.72" fill="#000"/>
<circle cx="154.28" cy="137.32" r="0.72" fill="#000"/>
<circle cx="154.41" cy="136.88" r="0.72" fill="#000"/>
<circle cx="152.65" cy="135.68" r="0.72" fill="#000"/>
<circle cx="152.86" cy="136.84" r="0.72" fill="#000"/>
<circle cx="153.89" cy="137.64" r="0.72" fill="#000"/>
<circle cx="153.28" cy="134.69" r="0.72" fill="#000"/>
<circle cx="152.67" cy="132.07" r="0.72" fill="#000"/>
<circle cx="154.73" cy="134.46" r="0.72" fill="#000"/>
<circle cx="154.07" cy="137.45" r="0.72" fill="#000"/>
<circle cx="152.23" cy="135.22" r="0.72" fill="#000"/>
<circle cx="153.45" cy="132.55" r="0.72" fill="#000"/>
<circle cx="154.47" cy="135.25" r="0.72" fill="#000"/>
<circle cx="154.82" cy="136.43" r="0.72" fill="#000"/>
<circle cx="155.74" cy="135.47" r="0.72" fill="#000"/>
<circle cx="152.45" cy="133.21" r="0.72" fill="#000"/>
<circle cx="153.77" cy="135.29" r="0.72" fill="#000"/>
<circle cx="154.3" cy="135.64" r="0.72" fill="#000"/>
<circle cx="153.92" cy="134.46" r="0.72" fill="#000"/>
<circle cx="152.35" cy="137.09" r="0.72" fill="#000"/>
<circle cx="152.41" cy="135.5" r="0.72" fill="#000"/>
<circle cx="153.97" cy="134.3" r="0.72" fill="#000"/>
<circle cx="153.99" cy="137.15" r="0.72" fill="#000"/>
<circle cx="153.94" cy="135.4" r="0.72" fill="#000"/>
<circle cx="154.92" cy="133.81" r="0.72" fill="#000"/>
<circle cx="155.74" cy="135.82" r="0.72" fill="#000"/>
<circle cx="154.61" cy="134.66" r="0.72" fill="#000"/>
<circle cx="154.49" cy="133.3" r="0.72" fill="#000"/>
<circle cx="155.34" cy="137.15" r="0.72" fill="#000"/>
<circle cx="155.54" cy="137.11" r="0.72" fill="#000"/>
<circle cx="152.39" cy="133.79" r="0.72" fill="#000"/>
<circle cx="155.94" cy="137.44" r="0.72" fill="#000"/>
<circle cx="154.81" cy="136.98" r="0.72" fill="#000"/>
<circle cx="155.78" cy="135.67" r="0.72" fill="#000"/>
<circle cx="152.52" cy="134.98" r="0.72" fill="#000"/>
<circle cx="152.58" cy="134.58" r="0.72" fill="#000"/>
<circle cx="154.01" cy="137.57" r="0.72" fill="#000"/>
<circle cx="154.24" cy="133.41" r="0.72" fill="#000"/>
<circle cx="154.37" cy="135.86" r="0.72" fill="#000"/>
<circle cx="154.64" cy="135.02" r="0.72" fill="#000"/>
<circle cx="154.58" cy="132.17" r="0.72" fill="#000"/>
<circle cx="154.74" cy="137.55" r="0.72" fill="#000"/>
<circle cx="152.56" cy="135.19" r="0.72" fill="#000"/>
<circle cx="153.98" cy="134.71" r="0.72" fill="#000"/>
<circle cx="153.31" cy="137.29" r="0.72" fill="#000"/>
<circle cx="154.18" cy="132.99" r="0.72" fill="#000"/>
<circle cx="153.54" cy="135.24" r="0.72" fill="#000"/>
<circle cx="153.94" cy="132.94" r="0.72" fill="#000"/>
<circle cx="154.89" cy="135.34" r="0.72" fill="#000"/>
<circle cx="153.78" cy="133.63" r="0.72" fill="#000"/>
<circle cx="156.06" cy="137.66" r="0.72" fill="#000"/>
<circle cx="155.5" cy="131.58" r="0.72" fill="#000"/>
<circle cx="153.48" cy="136.8" r="0.72" fill="#000"/>
<circle cx="154.58" cy="136.07" r="0.72" fill="#000"/>
<circle cx="152.86" cy="134.52" r="0.72" fill="#000"/>
<circle cx="155.84" cy="136.21" r="0.72" fill="#000"/>
<circle cx="155.9" cy="136.09" r="0.72" fill="#000"/>
<circle cx="153.91" cy="135.6" r="0.72" fill="#000"/>
<circle cx="152.27" cy="137.55" r="0.72" fill="#000"/>
<circle cx="154.44" cy="136.37" r="0.72" fill="#000"/>
<circle cx="155.17" cy="133.64" r="0.72" fill="#000"/>
<circle cx="152.39" cy="137.01" r="0.72" fill="#000"/>
<circle cx="154.4" cy="131.5" r="0.72" fill="#000"/>
<circle cx="154.54" cy="137.07" r="0.72" fill="#000"/>
<circle cx="154.56" cy="134.44" r="0.72" fill="#000"/>
<circle cx="152.33" cy="137.7" r="0.72" fill="#000"/>
<circle cx="153.57" cy="137.18" r="0.72" fill="#000"/>
<circle cx="153.56" cy="135.62" r="0.72" fill="#000"/>
<circle cx="154.95" cy="136.42" r="0.72" fill="#000"/>
<circle cx="156.04" cy="133.47" r="0.72" fill="#000"/>
<circle cx="155.4" cy="136.31" r="0.72" fill="#000"/>
<circle cx="153.99" cy="135.56" r="0.72" fill="#000"/>
<circle cx="152.8" cy="135.21" r="0.72" fill="#000"/>
<circle cx="154.67" cy="136.9" r="0.72" fill="#000"/>
<circle cx="155.29" cy="133.95" r="0.72" fill="#000"/>
<circle cx="152.4" cy="135.05" r="0.72" fill="#000"/>
<circle cx="155.9" cy="134.87" r="0.72" fill="#000"/>
<circle cx="154.68" cy="134.49" r="0.72" fill="#000"/>
<circle cx="155.89" cy="134.52" r="0.72" fill="#000"/>
<circle cx="153.87" cy="135.67" r="0.72" fill="#000"/>
<circle cx="152.84" cy="134.55" r="0.72" fill="#000"/>
<circle cx="153.86" cy="112" r="0.72" fill="#000"/>
<circle cx="154.93" cy="120" r="0.72" fill="#000"/>
<circle cx="154.05" cy="125" r="0.72" fill="#000"/>
<line x1="58.3" y1="135.5" x2="78.1" y2="135.5" stroke="#111" stroke-width="1.1"/>
<circle cx="63.5" cy="135.6" r="1.5" fill="#000"/>
<circle cx="72.9" cy="135.6" r="1.5" fill="#000"/>
<circle cx="67.7" cy="126.4" r="0.8" fill="#000"/>
<text x="36" y="143" font-size="7.3" text-anchor="middle" fill="#9c9c9c" color="#9c9c9c">44</text>
<text x="46.5" y="143" font-size="7.3" text-anchor="middle" fill="#9c9c9c" color="#9c9c9c">77</text>
<text x="62.5" y="143" font-size="7.3" text-anchor="middle" fill="#9c9c9c" color="#9c9c9c">48</text>
<text x="74" y="143" font-size="7.3" text-anchor="middle" fill="#9c9c9c" color="#9c9c9c">67</text>
<text x="90.5" y="143" font-size="7.3" text-anchor="middle" fill="#9c9c9c" color="#9c9c9c">52</text>
<text x="101" y="143" font-size="7.3" text-anchor="middle" fill="#9c9c9c" color="#9c9c9c">85</text>
<text x="116.5" y="143" font-size="7.3" text-anchor="middle" fill="#9c9c9c" color="#9c9c9c">54</text>
<text x="127" y="143" font-size="7.3" text-anchor="middle" fill="#9c9c9c" color="#9c9c9c">92</text>
<text x="144" y="143" font-size="7.3" text-anchor="middle" fill="#9c9c9c" color="#9c9c9c">50</text>
<text x="154" y="143" font-size="7.3" text-anchor="middle" fill="#9c9c9c" color="#9c9c9c">95</text>
<text x="41.5" y="151.4" font-size="7.6" text-anchor="middle" fill="#1a1a1a" color="#1a1a1a">NHS</text>
<text x="68.5" y="151.4" font-size="7.6" text-anchor="middle" fill="#1a1a1a" color="#1a1a1a">HS</text>
<text x="95.5" y="151.4" font-size="7.6" text-anchor="middle" fill="#1a1a1a" color="#1a1a1a">aTT</text>
<text x="122" y="151.4" font-size="7.6" text-anchor="middle" fill="#1a1a1a" color="#1a1a1a">2d</text>
<text x="148.8" y="151.4" font-size="7.6" text-anchor="middle" fill="#1a1a1a" color="#1a1a1a">3d</text>
<line x1="116.3" y1="154.5" x2="154.7" y2="154.5" stroke="#777" stroke-width="1.4"/>
<text x="135.5" y="161.6" font-size="7.6" text-anchor="middle" fill="#1a1a1a" color="#1a1a1a">maTT</text>
<text x="41.5" y="31.7" font-size="8.8" text-anchor="middle" fill="#000" color="#000">ns</text>
<text x="95.1" y="26.4" font-size="8.8" text-anchor="middle" fill="#000" color="#000">ns</text>
<line x1="100.2" y1="26.5" x2="101.8" y2="26.5" stroke="#333" stroke-width="0.9"/>
<text x="122.1" y="89.05" font-size="8.5" text-anchor="middle" fill="#000" color="#000">***</text>
<text x="148.5" y="89.05" font-size="8.5" text-anchor="middle" fill="#000" color="#000">***</text>
<rect x="120.5" y="11.2" width="5.5" height="3.3" fill="#E2FBB8" stroke="#666" stroke-width="0.7"/>
<text x="127.8" y="14.6" font-size="7.6" text-anchor="start" fill="#000" color="#000">GP</text>
<rect x="120.5" y="17.4" width="5.5" height="3.3" fill="#FBC0A6" stroke="#666" stroke-width="0.7"/>
<text x="127.8" y="22.2" font-size="7.6" text-anchor="start" fill="#000" color="#000" font-style="italic">hsfa2−1</text>
<text x="175.5" y="9.1" font-size="12.5" text-anchor="start" fill="#000" color="#000" font-weight="bold">b</text>
<rect x="243" y="3.3" width="6.1" height="6" fill="#CAFF70" stroke="#666" stroke-width="0.7"/>
<text x="253.6" y="8.9" font-size="7.6" text-anchor="start" fill="#000" color="#000">GP</text>
<rect x="269.5" y="3.3" width="6.2" height="6" fill="#FF7F50" stroke="#666" stroke-width="0.7"/>
<text x="279.8" y="8.9" font-size="7.6" text-anchor="start" fill="#000" color="#000" font-style="italic">hsfa2−1</text>
<rect x="206.6" y="12.7" width="130.8" height="131.3" fill="none" stroke="#7a7a7a" stroke-width="1.15"/>
<line x1="204.8" y1="138.1" x2="206.6" y2="138.1" stroke="#333" stroke-width="0.8"/>
<text x="204" y="140.6" font-size="7.2" text-anchor="end" fill="#383838" color="#383838">0%</text>
<line x1="204.8" y1="109.8" x2="206.6" y2="109.8" stroke="#333" stroke-width="0.8"/>
<text x="204" y="112.3" font-size="7.2" text-anchor="end" fill="#383838" color="#383838">25%</text>
<line x1="204.8" y1="81.5" x2="206.6" y2="81.5" stroke="#333" stroke-width="0.8"/>
<text x="204" y="84" font-size="7.2" text-anchor="end" fill="#383838" color="#383838">50%</text>
<line x1="204.8" y1="53.2" x2="206.6" y2="53.2" stroke="#333" stroke-width="0.8"/>
<text x="204" y="55.7" font-size="7.2" text-anchor="end" fill="#383838" color="#383838">75%</text>
<line x1="204.8" y1="24.9" x2="206.6" y2="24.9" stroke="#333" stroke-width="0.8"/>
<text x="204" y="27.4" font-size="7.2" text-anchor="end" fill="#383838" color="#383838">100%</text>
<text x="184.8" y="74.6" font-size="9" text-anchor="middle" fill="#000" color="#000" transform="rotate(-90 184.8 74.6)">Survival rate</text>
<rect x="210.6" y="27.4" width="10.9" height="110.7" fill="#CAFF70" stroke="#1a1a1a" stroke-width="0.8"/>
<line x1="216.05" y1="25" x2="216.05" y2="30" stroke="#1a1a1a" stroke-width="0.8"/>
<line x1="214.65" y1="25" x2="217.45" y2="25" stroke="#1a1a1a" stroke-width="0.8"/>
<line x1="214.65" y1="30" x2="217.45" y2="30" stroke="#1a1a1a" stroke-width="0.8"/>
<circle cx="216.05" cy="24.5" r="1.1" fill="#000"/>
<circle cx="216.05" cy="33" r="1.1" fill="#000"/>
<circle cx="216.05" cy="26" r="1.1" fill="#000"/>
<rect x="221.5" y="24.9" width="11.2" height="113.2" fill="#FF7F50" stroke="#1a1a1a" stroke-width="0.8"/>
<circle cx="227.1" cy="24.9" r="1.1" fill="#000"/>
<rect x="260.1" y="29.4" width="11.9" height="108.7" fill="#CAFF70" stroke="#1a1a1a" stroke-width="0.8"/>
<line x1="266.05" y1="27" x2="266.05" y2="32" stroke="#1a1a1a" stroke-width="0.8"/>
<line x1="264.65" y1="27" x2="267.45" y2="27" stroke="#1a1a1a" stroke-width="0.8"/>
<line x1="264.65" y1="32" x2="267.45" y2="32" stroke="#1a1a1a" stroke-width="0.8"/>
<circle cx="266.05" cy="24.5" r="1.1" fill="#000"/>
<circle cx="266.05" cy="29" r="1.1" fill="#000"/>
<circle cx="266.05" cy="30" r="1.1" fill="#000"/>
<rect x="272" y="38" width="11.2" height="100.1" fill="#FF7F50" stroke="#1a1a1a" stroke-width="0.8"/>
<line x1="277.6" y1="31.9" x2="277.6" y2="44.3" stroke="#1a1a1a" stroke-width="0.8"/>
<line x1="276.2" y1="31.9" x2="279" y2="31.9" stroke="#1a1a1a" stroke-width="0.8"/>
<line x1="276.2" y1="44.3" x2="279" y2="44.3" stroke="#1a1a1a" stroke-width="0.8"/>
<circle cx="277.6" cy="29.5" r="1.1" fill="#000"/>
<circle cx="277.6" cy="35" r="1.1" fill="#000"/>
<circle cx="277.6" cy="49" r="1.1" fill="#000"/>
<rect x="285.7" y="35.3" width="11.7" height="102.8" fill="#CAFF70" stroke="#1a1a1a" stroke-width="0.8"/>
<line x1="291.55" y1="33" x2="291.55" y2="38" stroke="#1a1a1a" stroke-width="0.8"/>
<line x1="290.15" y1="33" x2="292.95" y2="33" stroke="#1a1a1a" stroke-width="0.8"/>
<line x1="290.15" y1="38" x2="292.95" y2="38" stroke="#1a1a1a" stroke-width="0.8"/>
<circle cx="291.55" cy="31" r="1.1" fill="#000"/>
<circle cx="291.55" cy="34" r="1.1" fill="#000"/>
<circle cx="291.55" cy="37" r="1.1" fill="#000"/>
<rect x="297.4" y="62.7" width="11.4" height="75.4" fill="#FF7F50" stroke="#1a1a1a" stroke-width="0.8"/>
<line x1="303.1" y1="58.5" x2="303.1" y2="67.2" stroke="#1a1a1a" stroke-width="0.8"/>
<line x1="301.7" y1="58.5" x2="304.5" y2="58.5" stroke="#1a1a1a" stroke-width="0.8"/>
<line x1="301.7" y1="67.2" x2="304.5" y2="67.2" stroke="#1a1a1a" stroke-width="0.8"/>
<circle cx="303.1" cy="55" r="1.1" fill="#000"/>
<circle cx="303.1" cy="60" r="1.1" fill="#000"/>
<circle cx="303.1" cy="72" r="1.1" fill="#000"/>
<rect x="311.2" y="45.8" width="11.3" height="92.3" fill="#CAFF70" stroke="#1a1a1a" stroke-width="0.8"/>
<line x1="316.85" y1="36.8" x2="316.85" y2="57.7" stroke="#1a1a1a" stroke-width="0.8"/>
<line x1="315.45" y1="36.8" x2="318.25" y2="36.8" stroke="#1a1a1a" stroke-width="0.8"/>
<line x1="315.45" y1="57.7" x2="318.25" y2="57.7" stroke="#1a1a1a" stroke-width="0.8"/>
<circle cx="316.85" cy="30.5" r="1.1" fill="#000"/>
<circle cx="316.85" cy="33" r="1.1" fill="#000"/>
<circle cx="316.85" cy="70" r="1.1" fill="#000"/>
<rect x="322.5" y="87.1" width="11.6" height="51" fill="#FF7F50" stroke="#1a1a1a" stroke-width="0.8"/>
<line x1="328.3" y1="77.2" x2="328.3" y2="97" stroke="#1a1a1a" stroke-width="0.8"/>
<line x1="326.9" y1="77.2" x2="329.7" y2="77.2" stroke="#1a1a1a" stroke-width="0.8"/>
<line x1="326.9" y1="97" x2="329.7" y2="97" stroke="#1a1a1a" stroke-width="0.8"/>
<circle cx="328.3" cy="74" r="1.1" fill="#000"/>
<circle cx="328.3" cy="81" r="1.1" fill="#000"/>
<circle cx="328.3" cy="106" r="1.1" fill="#000"/>
<line x1="237" y1="138.5" x2="257" y2="138.5" stroke="#000" stroke-width="0.9"/>
<circle cx="240.9" cy="138.1" r="1.1" fill="#000"/>
<circle cx="252.1" cy="138.1" r="1.1" fill="#000"/>
<text x="220.9" y="21.7" font-size="7.4" text-anchor="middle" fill="#000" color="#000">ns</text>
<text x="245.9" y="21.7" font-size="7.4" text-anchor="middle" fill="#000" color="#000">ns</text>
<text x="272" y="21.7" font-size="7.4" text-anchor="middle" fill="#000" color="#000">ns</text>
<text x="294.4" y="31.54" font-size="8.5" text-anchor="middle" fill="#000" color="#000">**</text>
<text x="322.3" y="30.25" font-size="8.5" text-anchor="middle" fill="#000" color="#000">***</text>
<text x="223.6" y="151.8" font-size="7.6" text-anchor="middle" fill="#1a1a1a" color="#1a1a1a">NHS</text>
<text x="248.7" y="151.8" font-size="7.6" text-anchor="middle" fill="#1a1a1a" color="#1a1a1a">HS</text>
<text x="273.3" y="151.8" font-size="7.6" text-anchor="middle" fill="#1a1a1a" color="#1a1a1a">aTT</text>
<text x="298.1" y="151.8" font-size="7.6" text-anchor="middle" fill="#1a1a1a" color="#1a1a1a">2d</text>
<text x="322.9" y="151.8" font-size="7.6" text-anchor="middle" fill="#1a1a1a" color="#1a1a1a">3d</text>
<line x1="292.4" y1="154.5" x2="328" y2="154.5" stroke="#777" stroke-width="1.4"/>
<text x="310.6" y="161.6" font-size="7.6" text-anchor="middle" fill="#1a1a1a" color="#1a1a1a">maTT</text>
<text x="347.5" y="8.7" font-size="12.5" text-anchor="start" fill="#000" color="#000" font-weight="bold">c</text>
<rect x="371.5" y="5.3" width="139.3" height="139" fill="none" stroke="#7a7a7a" stroke-width="1.15"/>
<line x1="369.7" y1="138.4" x2="371.5" y2="138.4" stroke="#333" stroke-width="0.8"/>
<text x="369.5" y="140.9" font-size="7.2" text-anchor="end" fill="#383838" color="#383838">0.0</text>
<line x1="369.7" y1="106.6" x2="371.5" y2="106.6" stroke="#333" stroke-width="0.8"/>
<text x="369.5" y="109.1" font-size="7.2" text-anchor="end" fill="#383838" color="#383838">0.2</text>
<line x1="369.7" y1="74.8" x2="371.5" y2="74.8" stroke="#333" stroke-width="0.8"/>
<text x="369.5" y="77.3" font-size="7.2" text-anchor="end" fill="#383838" color="#383838">0.4</text>
<line x1="369.7" y1="43" x2="371.5" y2="43" stroke="#333" stroke-width="0.8"/>
<text x="369.5" y="45.5" font-size="7.2" text-anchor="end" fill="#383838" color="#383838">0.6</text>
<line x1="369.7" y1="11.2" x2="371.5" y2="11.2" stroke="#333" stroke-width="0.8"/>
<text x="369.5" y="13.7" font-size="7.2" text-anchor="end" fill="#383838" color="#383838">0.8</text>
<text x="356" y="73.8" font-size="9" text-anchor="middle" fill="#000" color="#000" transform="rotate(-90 356 73.8)">Dry weight (g)</text>
<line x1="382.3" y1="55.2" x2="382.3" y2="77.8" stroke="#111" stroke-width="0.6"/>
<line x1="382.3" y1="97.3" x2="382.3" y2="121" stroke="#111" stroke-width="0.6"/>
<rect x="377.8" y="77.8" width="9" height="19.5" fill="#E2FBB8" stroke="#555" stroke-width="0.8"/>
<line x1="377.8" y1="89.5" x2="386.8" y2="89.5" stroke="#555" stroke-width="0.8"/>
<circle cx="383.26" cy="111.83" r="0.72" fill="#000"/>
<circle cx="382.79" cy="101.41" r="0.72" fill="#000"/>
<circle cx="382.56" cy="117.14" r="0.72" fill="#000"/>
<circle cx="384.08" cy="85.82" r="0.72" fill="#000"/>
<circle cx="383.92" cy="84.02" r="0.72" fill="#000"/>
<circle cx="381.64" cy="81.87" r="0.72" fill="#000"/>
<circle cx="382.04" cy="103.03" r="0.72" fill="#000"/>
<circle cx="382.27" cy="75.05" r="0.72" fill="#000"/>
<circle cx="380.63" cy="88.98" r="0.72" fill="#000"/>
<circle cx="383" cy="81.51" r="0.72" fill="#000"/>
<circle cx="381.09" cy="91.26" r="0.72" fill="#000"/>
<circle cx="383.04" cy="78.26" r="0.72" fill="#000"/>
<circle cx="381.36" cy="100.6" r="0.72" fill="#000"/>
<circle cx="381.58" cy="90.37" r="0.72" fill="#000"/>
<circle cx="382.66" cy="90.41" r="0.72" fill="#000"/>
<circle cx="382.8" cy="80.78" r="0.72" fill="#000"/>
<circle cx="381.09" cy="68.88" r="0.72" fill="#000"/>
<circle cx="382.98" cy="116.87" r="0.72" fill="#000"/>
<circle cx="381.74" cy="108.98" r="0.72" fill="#000"/>
<circle cx="382.37" cy="89.65" r="0.72" fill="#000"/>
<circle cx="383.52" cy="97.16" r="0.72" fill="#000"/>
<circle cx="380.51" cy="95.04" r="0.72" fill="#000"/>
<circle cx="383.13" cy="66.51" r="0.72" fill="#000"/>
<circle cx="383.25" cy="107.69" r="0.72" fill="#000"/>
<circle cx="380.92" cy="90.81" r="0.72" fill="#000"/>
<circle cx="380.76" cy="84.3" r="0.72" fill="#000"/>
<circle cx="381.43" cy="60.64" r="0.72" fill="#000"/>
<circle cx="381.58" cy="90.71" r="0.72" fill="#000"/>
<circle cx="381.29" cy="78.33" r="0.72" fill="#000"/>
<circle cx="380.59" cy="56.8" r="0.72" fill="#000"/>
<circle cx="380.99" cy="70.59" r="0.72" fill="#000"/>
<circle cx="381.49" cy="80.26" r="0.72" fill="#000"/>
<circle cx="381.21" cy="82.05" r="0.72" fill="#000"/>
<circle cx="382.5" cy="83.68" r="0.72" fill="#000"/>
<circle cx="382.11" cy="110.78" r="0.72" fill="#000"/>
<circle cx="382.78" cy="81.48" r="0.72" fill="#000"/>
<circle cx="383.77" cy="94.32" r="0.72" fill="#000"/>
<circle cx="381.57" cy="84.91" r="0.72" fill="#000"/>
<circle cx="381.49" cy="60.83" r="0.72" fill="#000"/>
<circle cx="383.99" cy="103.88" r="0.72" fill="#000"/>
<circle cx="382.17" cy="94.12" r="0.72" fill="#000"/>
<circle cx="381.26" cy="89.06" r="0.72" fill="#000"/>
<circle cx="382.41" cy="112.23" r="0.72" fill="#000"/>
<circle cx="383.98" cy="108.12" r="0.72" fill="#000"/>
<circle cx="381.56" cy="63.25" r="0.72" fill="#000"/>
<circle cx="384.03" cy="98.49" r="0.72" fill="#000"/>
<circle cx="382.73" cy="92.42" r="0.72" fill="#000"/>
<circle cx="382.6" cy="89.52" r="0.72" fill="#000"/>
<circle cx="380.68" cy="83.32" r="0.72" fill="#000"/>
<circle cx="381.85" cy="76.14" r="0.72" fill="#000"/>
<circle cx="381.42" cy="104.44" r="0.72" fill="#000"/>
<circle cx="380.83" cy="118.76" r="0.72" fill="#000"/>
<circle cx="383.29" cy="102.67" r="0.72" fill="#000"/>
<circle cx="381.71" cy="97.11" r="0.72" fill="#000"/>
<circle cx="380.99" cy="78.82" r="0.72" fill="#000"/>
<circle cx="380.57" cy="93.79" r="0.72" fill="#000"/>
<circle cx="381.01" cy="82.47" r="0.72" fill="#000"/>
<circle cx="382.95" cy="97.34" r="0.72" fill="#000"/>
<circle cx="381.33" cy="80.66" r="0.72" fill="#000"/>
<circle cx="381.91" cy="64.97" r="0.72" fill="#000"/>
<circle cx="383.03" cy="88.25" r="0.72" fill="#000"/>
<line x1="392.3" y1="41.5" x2="392.3" y2="74.2" stroke="#111" stroke-width="0.6"/>
<line x1="392.3" y1="98.7" x2="392.3" y2="127" stroke="#111" stroke-width="0.6"/>
<rect x="387.4" y="74.2" width="9.8" height="24.5" fill="#FBC0A6" stroke="#555" stroke-width="0.8"/>
<line x1="387.4" y1="87.4" x2="397.2" y2="87.4" stroke="#555" stroke-width="0.8"/>
<circle cx="392.83" cy="91.1" r="0.72" fill="#000"/>
<circle cx="393.45" cy="79.49" r="0.72" fill="#000"/>
<circle cx="392.32" cy="110.57" r="0.72" fill="#000"/>
<circle cx="391.79" cy="74.28" r="0.72" fill="#000"/>
<circle cx="393.45" cy="48.09" r="0.72" fill="#000"/>
<circle cx="390.51" cy="79.9" r="0.72" fill="#000"/>
<circle cx="393.77" cy="117.79" r="0.72" fill="#000"/>
<circle cx="391.63" cy="45.8" r="0.72" fill="#000"/>
<circle cx="394.07" cy="77.04" r="0.72" fill="#000"/>
<circle cx="393.54" cy="77.99" r="0.72" fill="#000"/>
<circle cx="392.12" cy="96.93" r="0.72" fill="#000"/>
<circle cx="392.24" cy="58.71" r="0.72" fill="#000"/>
<circle cx="393.73" cy="75.11" r="0.72" fill="#000"/>
<circle cx="391.16" cy="93.32" r="0.72" fill="#000"/>
<circle cx="393.3" cy="123.16" r="0.72" fill="#000"/>
<circle cx="393.2" cy="112.66" r="0.72" fill="#000"/>
<circle cx="393.58" cy="85.87" r="0.72" fill="#000"/>
<circle cx="393.82" cy="96.82" r="0.72" fill="#000"/>
<circle cx="392.11" cy="83.15" r="0.72" fill="#000"/>
<circle cx="391.86" cy="98.57" r="0.72" fill="#000"/>
<circle cx="393.15" cy="76.48" r="0.72" fill="#000"/>
<circle cx="392.27" cy="110.07" r="0.72" fill="#000"/>
<circle cx="391.21" cy="68.98" r="0.72" fill="#000"/>
<circle cx="392.78" cy="64.5" r="0.72" fill="#000"/>
<circle cx="391.7" cy="78.37" r="0.72" fill="#000"/>
<circle cx="392.68" cy="105.84" r="0.72" fill="#000"/>
<circle cx="390.6" cy="76.73" r="0.72" fill="#000"/>
<circle cx="391.81" cy="119.09" r="0.72" fill="#000"/>
<circle cx="393.86" cy="67.35" r="0.72" fill="#000"/>
<circle cx="394.22" cy="107.5" r="0.72" fill="#000"/>
<circle cx="393.8" cy="112.97" r="0.72" fill="#000"/>
<circle cx="391.31" cy="83.4" r="0.72" fill="#000"/>
<circle cx="390.61" cy="101.36" r="0.72" fill="#000"/>
<circle cx="392.23" cy="118.98" r="0.72" fill="#000"/>
<circle cx="391.35" cy="99.31" r="0.72" fill="#000"/>
<circle cx="391.01" cy="84.48" r="0.72" fill="#000"/>
<circle cx="393.86" cy="82.48" r="0.72" fill="#000"/>
<circle cx="392.22" cy="118.03" r="0.72" fill="#000"/>
<circle cx="392.4" cy="97.69" r="0.72" fill="#000"/>
<circle cx="391.17" cy="45.35" r="0.72" fill="#000"/>
<circle cx="393.8" cy="119.71" r="0.72" fill="#000"/>
<circle cx="392.62" cy="61.1" r="0.72" fill="#000"/>
<circle cx="392.43" cy="104.82" r="0.72" fill="#000"/>
<circle cx="390.38" cy="93.02" r="0.72" fill="#000"/>
<circle cx="390.43" cy="73.29" r="0.72" fill="#000"/>
<circle cx="393.68" cy="66.61" r="0.72" fill="#000"/>
<circle cx="391.93" cy="55.98" r="0.72" fill="#000"/>
<circle cx="390.86" cy="123.58" r="0.72" fill="#000"/>
<circle cx="390.44" cy="76.5" r="0.72" fill="#000"/>
<circle cx="393.74" cy="77.65" r="0.72" fill="#000"/>
<circle cx="392.45" cy="50.96" r="0.72" fill="#000"/>
<circle cx="391.2" cy="86.3" r="0.72" fill="#000"/>
<circle cx="391.82" cy="78.71" r="0.72" fill="#000"/>
<circle cx="390.52" cy="64.34" r="0.72" fill="#000"/>
<circle cx="393.38" cy="71.66" r="0.72" fill="#000"/>
<circle cx="392.16" cy="98.75" r="0.72" fill="#000"/>
<circle cx="390.93" cy="37.4" r="0.72" fill="#000"/>
<line x1="409.9" y1="135" x2="409.9" y2="135.8" stroke="#111" stroke-width="0.6"/>
<line x1="409.9" y1="137.2" x2="409.9" y2="137.9" stroke="#111" stroke-width="0.6"/>
<rect x="405.5" y="135.8" width="8.8" height="1.4" fill="#E2FBB8" stroke="#555" stroke-width="0.8"/>
<line x1="405.5" y1="136.5" x2="414.3" y2="136.5" stroke="#555" stroke-width="0.8"/>
<circle cx="408.22" cy="137.25" r="0.72" fill="#000"/>
<circle cx="408.56" cy="137.28" r="0.72" fill="#000"/>
<circle cx="411.27" cy="135.42" r="0.72" fill="#000"/>
<circle cx="409.26" cy="137.14" r="0.72" fill="#000"/>
<circle cx="410.55" cy="135.77" r="0.72" fill="#000"/>
<circle cx="408.31" cy="137.65" r="0.72" fill="#000"/>
<circle cx="409.23" cy="137.55" r="0.72" fill="#000"/>
<circle cx="410.19" cy="136.99" r="0.72" fill="#000"/>
<circle cx="411.52" cy="137.7" r="0.72" fill="#000"/>
<circle cx="410.3" cy="135.64" r="0.72" fill="#000"/>
<circle cx="409.24" cy="137.14" r="0.72" fill="#000"/>
<circle cx="410.43" cy="137.86" r="0.72" fill="#000"/>
<circle cx="410.49" cy="136.96" r="0.72" fill="#000"/>
<circle cx="410.01" cy="135.87" r="0.72" fill="#000"/>
<circle cx="409.92" cy="137.1" r="0.72" fill="#000"/>
<circle cx="410.47" cy="135.47" r="0.72" fill="#000"/>
<circle cx="409.46" cy="137.35" r="0.72" fill="#000"/>
<circle cx="410.24" cy="135.39" r="0.72" fill="#000"/>
<circle cx="410.51" cy="135.48" r="0.72" fill="#000"/>
<circle cx="411.65" cy="135.19" r="0.72" fill="#000"/>
<circle cx="409.56" cy="136.4" r="0.72" fill="#000"/>
<circle cx="409.94" cy="137.86" r="0.72" fill="#000"/>
<circle cx="411.29" cy="135.94" r="0.72" fill="#000"/>
<circle cx="409.37" cy="136.57" r="0.72" fill="#000"/>
<circle cx="408.81" cy="136.3" r="0.72" fill="#000"/>
<circle cx="410.94" cy="136.55" r="0.72" fill="#000"/>
<circle cx="410.58" cy="135.31" r="0.72" fill="#000"/>
<circle cx="411.05" cy="136.38" r="0.72" fill="#000"/>
<circle cx="411.12" cy="137.46" r="0.72" fill="#000"/>
<circle cx="410.2" cy="136.53" r="0.72" fill="#000"/>
<circle cx="409.81" cy="137.68" r="0.72" fill="#000"/>
<circle cx="409.39" cy="135.61" r="0.72" fill="#000"/>
<circle cx="410.28" cy="137.74" r="0.72" fill="#000"/>
<circle cx="409.9" cy="137.2" r="0.72" fill="#000"/>
<circle cx="408.74" cy="135.42" r="0.72" fill="#000"/>
<circle cx="409.09" cy="135.49" r="0.72" fill="#000"/>
<circle cx="409.38" cy="137.15" r="0.72" fill="#000"/>
<circle cx="409.04" cy="136.1" r="0.72" fill="#000"/>
<circle cx="409.11" cy="137.28" r="0.72" fill="#000"/>
<circle cx="408.87" cy="136.46" r="0.72" fill="#000"/>
<circle cx="411.4" cy="136.83" r="0.72" fill="#000"/>
<circle cx="409.47" cy="137.21" r="0.72" fill="#000"/>
<circle cx="408.86" cy="137.21" r="0.72" fill="#000"/>
<circle cx="410.78" cy="136.34" r="0.72" fill="#000"/>
<circle cx="409.02" cy="135.5" r="0.72" fill="#000"/>
<circle cx="408.37" cy="136.17" r="0.72" fill="#000"/>
<circle cx="411.27" cy="135.26" r="0.72" fill="#000"/>
<circle cx="409.9" cy="135.14" r="0.72" fill="#000"/>
<circle cx="409.85" cy="135.12" r="0.72" fill="#000"/>
<circle cx="408.15" cy="136.87" r="0.72" fill="#000"/>
<circle cx="411.12" cy="135.79" r="0.72" fill="#000"/>
<circle cx="408.63" cy="136.55" r="0.72" fill="#000"/>
<circle cx="411.02" cy="137.01" r="0.72" fill="#000"/>
<circle cx="410.39" cy="136.33" r="0.72" fill="#000"/>
<circle cx="411.28" cy="136.92" r="0.72" fill="#000"/>
<circle cx="411.13" cy="135.43" r="0.72" fill="#000"/>
<circle cx="409.12" cy="135.29" r="0.72" fill="#000"/>
<circle cx="409.93" cy="136.97" r="0.72" fill="#000"/>
<circle cx="411.57" cy="135.71" r="0.72" fill="#000"/>
<circle cx="411.22" cy="136.37" r="0.72" fill="#000"/>
<circle cx="410.45" cy="137.4" r="0.72" fill="#000"/>
<circle cx="409.04" cy="124.5" r="0.72" fill="#000"/>
<line x1="418.85" y1="135" x2="418.85" y2="135.8" stroke="#111" stroke-width="0.6"/>
<line x1="418.85" y1="137.2" x2="418.85" y2="137.9" stroke="#111" stroke-width="0.6"/>
<rect x="414.3" y="135.8" width="9.1" height="1.4" fill="#FBC0A6" stroke="#555" stroke-width="0.8"/>
<line x1="414.3" y1="136.5" x2="423.4" y2="136.5" stroke="#555" stroke-width="0.8"/>
<circle cx="420.28" cy="137.85" r="0.72" fill="#000"/>
<circle cx="418.57" cy="136.63" r="0.72" fill="#000"/>
<circle cx="417.73" cy="135.24" r="0.72" fill="#000"/>
<circle cx="418.69" cy="136.11" r="0.72" fill="#000"/>
<circle cx="419.61" cy="135.92" r="0.72" fill="#000"/>
<circle cx="419.7" cy="136.52" r="0.72" fill="#000"/>
<circle cx="419.88" cy="135.88" r="0.72" fill="#000"/>
<circle cx="419.29" cy="135.62" r="0.72" fill="#000"/>
<circle cx="419.8" cy="137.39" r="0.72" fill="#000"/>
<circle cx="419.43" cy="136.6" r="0.72" fill="#000"/>
<circle cx="418.76" cy="135.92" r="0.72" fill="#000"/>
<circle cx="418.66" cy="135.58" r="0.72" fill="#000"/>
<circle cx="417.68" cy="135.29" r="0.72" fill="#000"/>
<circle cx="417.74" cy="136.94" r="0.72" fill="#000"/>
<circle cx="417.17" cy="135.94" r="0.72" fill="#000"/>
<circle cx="420.02" cy="136.6" r="0.72" fill="#000"/>
<circle cx="418.08" cy="136.32" r="0.72" fill="#000"/>
<circle cx="419.03" cy="136.89" r="0.72" fill="#000"/>
<circle cx="419.88" cy="135.95" r="0.72" fill="#000"/>
<circle cx="417.9" cy="135.71" r="0.72" fill="#000"/>
<circle cx="419.19" cy="135.76" r="0.72" fill="#000"/>
<circle cx="420.58" cy="137.27" r="0.72" fill="#000"/>
<circle cx="417.12" cy="136.38" r="0.72" fill="#000"/>
<circle cx="420.57" cy="137.63" r="0.72" fill="#000"/>
<circle cx="418.99" cy="137.85" r="0.72" fill="#000"/>
<circle cx="418.29" cy="137.68" r="0.72" fill="#000"/>
<circle cx="417.73" cy="137.4" r="0.72" fill="#000"/>
<circle cx="417.75" cy="136.45" r="0.72" fill="#000"/>
<circle cx="417.82" cy="137.86" r="0.72" fill="#000"/>
<circle cx="417.65" cy="136.54" r="0.72" fill="#000"/>
<circle cx="417.95" cy="135.71" r="0.72" fill="#000"/>
<circle cx="418.65" cy="137.06" r="0.72" fill="#000"/>
<circle cx="419.99" cy="137.05" r="0.72" fill="#000"/>
<circle cx="418.53" cy="137.63" r="0.72" fill="#000"/>
<circle cx="419.36" cy="135.72" r="0.72" fill="#000"/>
<circle cx="418.52" cy="136.21" r="0.72" fill="#000"/>
<circle cx="419.03" cy="137.53" r="0.72" fill="#000"/>
<circle cx="419.33" cy="137.24" r="0.72" fill="#000"/>
<circle cx="420.07" cy="136.58" r="0.72" fill="#000"/>
<circle cx="417.32" cy="137.13" r="0.72" fill="#000"/>
<circle cx="417.89" cy="135.55" r="0.72" fill="#000"/>
<circle cx="418.67" cy="135.51" r="0.72" fill="#000"/>
<circle cx="418.4" cy="135.03" r="0.72" fill="#000"/>
<circle cx="420.19" cy="137.26" r="0.72" fill="#000"/>
<circle cx="417.66" cy="136.75" r="0.72" fill="#000"/>
<circle cx="417.33" cy="136.39" r="0.72" fill="#000"/>
<circle cx="419.54" cy="135.52" r="0.72" fill="#000"/>
<circle cx="418.95" cy="135.56" r="0.72" fill="#000"/>
<circle cx="417.34" cy="137.06" r="0.72" fill="#000"/>
<circle cx="418.84" cy="137.78" r="0.72" fill="#000"/>
<line x1="435.8" y1="71" x2="435.8" y2="89.1" stroke="#111" stroke-width="0.6"/>
<line x1="435.8" y1="105.3" x2="435.8" y2="129.4" stroke="#111" stroke-width="0.6"/>
<rect x="430.8" y="89.1" width="10" height="16.2" fill="#E2FBB8" stroke="#555" stroke-width="0.8"/>
<line x1="430.8" y1="97" x2="440.8" y2="97" stroke="#555" stroke-width="0.8"/>
<circle cx="434.53" cy="87.3" r="0.72" fill="#000"/>
<circle cx="436.48" cy="108.16" r="0.72" fill="#000"/>
<circle cx="434.41" cy="101.38" r="0.72" fill="#000"/>
<circle cx="436.86" cy="85.92" r="0.72" fill="#000"/>
<circle cx="437.75" cy="103.13" r="0.72" fill="#000"/>
<circle cx="437.63" cy="97.47" r="0.72" fill="#000"/>
<circle cx="435.02" cy="82.12" r="0.72" fill="#000"/>
<circle cx="436.84" cy="106.28" r="0.72" fill="#000"/>
<circle cx="435.11" cy="107.48" r="0.72" fill="#000"/>
<circle cx="435.27" cy="97.88" r="0.72" fill="#000"/>
<circle cx="435.06" cy="127.07" r="0.72" fill="#000"/>
<circle cx="434.19" cy="106.05" r="0.72" fill="#000"/>
<circle cx="437.08" cy="86.82" r="0.72" fill="#000"/>
<circle cx="434.87" cy="125.1" r="0.72" fill="#000"/>
<circle cx="434.17" cy="88.27" r="0.72" fill="#000"/>
<circle cx="434.37" cy="91.6" r="0.72" fill="#000"/>
<circle cx="437.7" cy="99.96" r="0.72" fill="#000"/>
<circle cx="437.79" cy="97.29" r="0.72" fill="#000"/>
<circle cx="434.77" cy="115.91" r="0.72" fill="#000"/>
<circle cx="436.38" cy="79.08" r="0.72" fill="#000"/>
<circle cx="436.98" cy="81.31" r="0.72" fill="#000"/>
<circle cx="437.13" cy="96.7" r="0.72" fill="#000"/>
<circle cx="436.1" cy="92.11" r="0.72" fill="#000"/>
<circle cx="434.8" cy="103.26" r="0.72" fill="#000"/>
<circle cx="435.6" cy="90.04" r="0.72" fill="#000"/>
<circle cx="436.86" cy="96.37" r="0.72" fill="#000"/>
<circle cx="436.65" cy="105.13" r="0.72" fill="#000"/>
<circle cx="436.11" cy="116.09" r="0.72" fill="#000"/>
<circle cx="434.68" cy="95.52" r="0.72" fill="#000"/>
<circle cx="435.14" cy="93.86" r="0.72" fill="#000"/>
<circle cx="436.36" cy="123.29" r="0.72" fill="#000"/>
<circle cx="435.97" cy="93.35" r="0.72" fill="#000"/>
<circle cx="436.33" cy="81.74" r="0.72" fill="#000"/>
<circle cx="435.33" cy="109.64" r="0.72" fill="#000"/>
<circle cx="436.69" cy="110.75" r="0.72" fill="#000"/>
<circle cx="435.65" cy="89.41" r="0.72" fill="#000"/>
<circle cx="437.18" cy="101.81" r="0.72" fill="#000"/>
<circle cx="434.65" cy="87.98" r="0.72" fill="#000"/>
<circle cx="433.99" cy="91.95" r="0.72" fill="#000"/>
<circle cx="437.54" cy="105.82" r="0.72" fill="#000"/>
<circle cx="434" cy="85.62" r="0.72" fill="#000"/>
<circle cx="434.22" cy="123.15" r="0.72" fill="#000"/>
<circle cx="435.82" cy="91.38" r="0.72" fill="#000"/>
<circle cx="435.79" cy="102.04" r="0.72" fill="#000"/>
<circle cx="436.42" cy="78.97" r="0.72" fill="#000"/>
<circle cx="435.44" cy="99.6" r="0.72" fill="#000"/>
<circle cx="437.13" cy="124.7" r="0.72" fill="#000"/>
<circle cx="434.41" cy="92.2" r="0.72" fill="#000"/>
<circle cx="434.93" cy="104.77" r="0.72" fill="#000"/>
<circle cx="436.28" cy="108.91" r="0.72" fill="#000"/>
<circle cx="436.79" cy="94.08" r="0.72" fill="#000"/>
<circle cx="434.75" cy="88.51" r="0.72" fill="#000"/>
<circle cx="434.66" cy="90.12" r="0.72" fill="#000"/>
<circle cx="435.7" cy="116.74" r="0.72" fill="#000"/>
<circle cx="436.56" cy="101.41" r="0.72" fill="#000"/>
<circle cx="434.49" cy="89.85" r="0.72" fill="#000"/>
<circle cx="434.71" cy="121.39" r="0.72" fill="#000"/>
<circle cx="436.52" cy="94.08" r="0.72" fill="#000"/>
<circle cx="435.12" cy="78.66" r="0.72" fill="#000"/>
<line x1="446" y1="84" x2="446" y2="104.5" stroke="#111" stroke-width="0.6"/>
<line x1="446" y1="121.5" x2="446" y2="133.4" stroke="#111" stroke-width="0.6"/>
<rect x="440.8" y="104.5" width="10.4" height="17" fill="#FBC0A6" stroke="#555" stroke-width="0.8"/>
<line x1="440.8" y1="113" x2="451.2" y2="113" stroke="#555" stroke-width="0.8"/>
<circle cx="447.43" cy="120.26" r="0.72" fill="#000"/>
<circle cx="446.57" cy="119.32" r="0.72" fill="#000"/>
<circle cx="444.98" cy="120.7" r="0.72" fill="#000"/>
<circle cx="446.37" cy="111.71" r="0.72" fill="#000"/>
<circle cx="447.38" cy="116.17" r="0.72" fill="#000"/>
<circle cx="446.52" cy="101.86" r="0.72" fill="#000"/>
<circle cx="445.41" cy="122.79" r="0.72" fill="#000"/>
<circle cx="447.97" cy="106.27" r="0.72" fill="#000"/>
<circle cx="446.34" cy="89.09" r="0.72" fill="#000"/>
<circle cx="444.59" cy="107.72" r="0.72" fill="#000"/>
<circle cx="446.26" cy="105.7" r="0.72" fill="#000"/>
<circle cx="447.56" cy="89.95" r="0.72" fill="#000"/>
<circle cx="447.32" cy="107.43" r="0.72" fill="#000"/>
<circle cx="446.25" cy="111.71" r="0.72" fill="#000"/>
<circle cx="446.02" cy="112.9" r="0.72" fill="#000"/>
<circle cx="447.32" cy="105.48" r="0.72" fill="#000"/>
<circle cx="445.62" cy="105.31" r="0.72" fill="#000"/>
<circle cx="445.82" cy="128.01" r="0.72" fill="#000"/>
<circle cx="446.49" cy="108.23" r="0.72" fill="#000"/>
<circle cx="444.46" cy="105.59" r="0.72" fill="#000"/>
<circle cx="447.59" cy="116.14" r="0.72" fill="#000"/>
<circle cx="444.53" cy="123.16" r="0.72" fill="#000"/>
<circle cx="444.62" cy="124.81" r="0.72" fill="#000"/>
<circle cx="446.17" cy="99.37" r="0.72" fill="#000"/>
<circle cx="445.98" cy="109.66" r="0.72" fill="#000"/>
<circle cx="445.78" cy="116.08" r="0.72" fill="#000"/>
<circle cx="444.38" cy="121.26" r="0.72" fill="#000"/>
<circle cx="447.27" cy="125.32" r="0.72" fill="#000"/>
<circle cx="446.46" cy="98.57" r="0.72" fill="#000"/>
<circle cx="447.03" cy="104.77" r="0.72" fill="#000"/>
<circle cx="447.3" cy="106.39" r="0.72" fill="#000"/>
<circle cx="446.08" cy="86.62" r="0.72" fill="#000"/>
<circle cx="445.05" cy="119.21" r="0.72" fill="#000"/>
<circle cx="444.25" cy="127.79" r="0.72" fill="#000"/>
<circle cx="446.84" cy="120.93" r="0.72" fill="#000"/>
<circle cx="445.06" cy="110.75" r="0.72" fill="#000"/>
<circle cx="446.81" cy="114.59" r="0.72" fill="#000"/>
<circle cx="447.5" cy="113.88" r="0.72" fill="#000"/>
<circle cx="444.23" cy="122.7" r="0.72" fill="#000"/>
<circle cx="444.61" cy="124.28" r="0.72" fill="#000"/>
<circle cx="446.91" cy="123.61" r="0.72" fill="#000"/>
<circle cx="445.84" cy="93.81" r="0.72" fill="#000"/>
<circle cx="445.1" cy="118.21" r="0.72" fill="#000"/>
<circle cx="445.07" cy="119.08" r="0.72" fill="#000"/>
<circle cx="443.93" cy="113.27" r="0.72" fill="#000"/>
<circle cx="448" cy="117.14" r="0.72" fill="#000"/>
<circle cx="444.16" cy="112.61" r="0.72" fill="#000"/>
<circle cx="446.01" cy="110.62" r="0.72" fill="#000"/>
<circle cx="447.72" cy="109.84" r="0.72" fill="#000"/>
<circle cx="444.21" cy="124.65" r="0.72" fill="#000"/>
<circle cx="444.46" cy="106.14" r="0.72" fill="#000"/>
<circle cx="444.46" cy="97.86" r="0.72" fill="#000"/>
<circle cx="446.87" cy="128.58" r="0.72" fill="#000"/>
<circle cx="447.68" cy="124.14" r="0.72" fill="#000"/>
<circle cx="444.11" cy="132.01" r="0.72" fill="#000"/>
<circle cx="444.36" cy="133.16" r="0.72" fill="#000"/>
<line x1="463.2" y1="84" x2="463.2" y2="102" stroke="#111" stroke-width="0.6"/>
<line x1="463.2" y1="122.7" x2="463.2" y2="136.4" stroke="#111" stroke-width="0.6"/>
<rect x="458.2" y="102" width="10" height="20.7" fill="#E2FBB8" stroke="#555" stroke-width="0.8"/>
<line x1="458.2" y1="111" x2="468.2" y2="111" stroke="#555" stroke-width="0.8"/>
<circle cx="462.02" cy="90.91" r="0.72" fill="#000"/>
<circle cx="464.31" cy="87.22" r="0.72" fill="#000"/>
<circle cx="463.93" cy="122.92" r="0.72" fill="#000"/>
<circle cx="465.01" cy="97.71" r="0.72" fill="#000"/>
<circle cx="464.58" cy="126.99" r="0.72" fill="#000"/>
<circle cx="461.32" cy="135.9" r="0.72" fill="#000"/>
<circle cx="461.72" cy="124.64" r="0.72" fill="#000"/>
<circle cx="465.03" cy="100.2" r="0.72" fill="#000"/>
<circle cx="461.32" cy="119.13" r="0.72" fill="#000"/>
<circle cx="463.37" cy="125.48" r="0.72" fill="#000"/>
<circle cx="461.23" cy="102.91" r="0.72" fill="#000"/>
<circle cx="464.46" cy="96.73" r="0.72" fill="#000"/>
<circle cx="464.59" cy="127.18" r="0.72" fill="#000"/>
<circle cx="462.2" cy="120.23" r="0.72" fill="#000"/>
<circle cx="462.91" cy="126.65" r="0.72" fill="#000"/>
<circle cx="461.5" cy="87.29" r="0.72" fill="#000"/>
<circle cx="461.38" cy="98.71" r="0.72" fill="#000"/>
<circle cx="464.32" cy="109.66" r="0.72" fill="#000"/>
<circle cx="463.37" cy="123.3" r="0.72" fill="#000"/>
<circle cx="464.97" cy="118.22" r="0.72" fill="#000"/>
<circle cx="461.36" cy="97" r="0.72" fill="#000"/>
<circle cx="461.53" cy="106.96" r="0.72" fill="#000"/>
<circle cx="462.59" cy="121.86" r="0.72" fill="#000"/>
<circle cx="464.3" cy="132.3" r="0.72" fill="#000"/>
<circle cx="462.59" cy="131.28" r="0.72" fill="#000"/>
<circle cx="461.33" cy="110.07" r="0.72" fill="#000"/>
<circle cx="463.29" cy="113.75" r="0.72" fill="#000"/>
<circle cx="464.47" cy="130.07" r="0.72" fill="#000"/>
<circle cx="464.46" cy="114.05" r="0.72" fill="#000"/>
<circle cx="462.92" cy="102.4" r="0.72" fill="#000"/>
<circle cx="461.46" cy="110.86" r="0.72" fill="#000"/>
<circle cx="463.63" cy="104.04" r="0.72" fill="#000"/>
<circle cx="463.92" cy="102.42" r="0.72" fill="#000"/>
<circle cx="464.96" cy="102.47" r="0.72" fill="#000"/>
<circle cx="463.79" cy="121.4" r="0.72" fill="#000"/>
<circle cx="461.6" cy="94.31" r="0.72" fill="#000"/>
<circle cx="462.42" cy="127.41" r="0.72" fill="#000"/>
<circle cx="465.13" cy="114.33" r="0.72" fill="#000"/>
<circle cx="464" cy="118.71" r="0.72" fill="#000"/>
<circle cx="464.13" cy="97.94" r="0.72" fill="#000"/>
<circle cx="461.78" cy="122.94" r="0.72" fill="#000"/>
<circle cx="462.32" cy="103.39" r="0.72" fill="#000"/>
<circle cx="463.2" cy="106.52" r="0.72" fill="#000"/>
<circle cx="464.06" cy="120.92" r="0.72" fill="#000"/>
<circle cx="464.23" cy="106.41" r="0.72" fill="#000"/>
<circle cx="461.35" cy="117.2" r="0.72" fill="#000"/>
<circle cx="463.37" cy="98.29" r="0.72" fill="#000"/>
<circle cx="465.14" cy="135.33" r="0.72" fill="#000"/>
<circle cx="461.66" cy="112.03" r="0.72" fill="#000"/>
<circle cx="461.87" cy="90.97" r="0.72" fill="#000"/>
<circle cx="462.25" cy="102.32" r="0.72" fill="#000"/>
<circle cx="464.48" cy="112.84" r="0.72" fill="#000"/>
<circle cx="462.22" cy="93.16" r="0.72" fill="#000"/>
<circle cx="463.79" cy="125.26" r="0.72" fill="#000"/>
<circle cx="463.09" cy="129.45" r="0.72" fill="#000"/>
<line x1="473.15" y1="118" x2="473.15" y2="126.4" stroke="#111" stroke-width="0.6"/>
<line x1="473.15" y1="136.9" x2="473.15" y2="137.4" stroke="#111" stroke-width="0.6"/>
<rect x="468.2" y="126.4" width="9.9" height="10.5" fill="#FBC0A6" stroke="#555" stroke-width="0.8"/>
<line x1="468.2" y1="131" x2="478.1" y2="131" stroke="#555" stroke-width="0.8"/>
<circle cx="474.96" cy="124.79" r="0.72" fill="#000"/>
<circle cx="474.43" cy="127.09" r="0.72" fill="#000"/>
<circle cx="474.4" cy="130.31" r="0.72" fill="#000"/>
<circle cx="473.12" cy="135.95" r="0.72" fill="#000"/>
<circle cx="473.44" cy="136.04" r="0.72" fill="#000"/>
<circle cx="474.24" cy="135.21" r="0.72" fill="#000"/>
<circle cx="475.1" cy="124.53" r="0.72" fill="#000"/>
<circle cx="473.72" cy="136.63" r="0.72" fill="#000"/>
<circle cx="472.51" cy="132.83" r="0.72" fill="#000"/>
<circle cx="473.25" cy="124.81" r="0.72" fill="#000"/>
<circle cx="472.37" cy="130.52" r="0.72" fill="#000"/>
<circle cx="474.24" cy="126.05" r="0.72" fill="#000"/>
<circle cx="473.97" cy="120.9" r="0.72" fill="#000"/>
<circle cx="471.85" cy="136.87" r="0.72" fill="#000"/>
<circle cx="474.26" cy="136.9" r="0.72" fill="#000"/>
<circle cx="472.82" cy="132.43" r="0.72" fill="#000"/>
<circle cx="474.4" cy="131" r="0.72" fill="#000"/>
<circle cx="474.26" cy="130.19" r="0.72" fill="#000"/>
<circle cx="473.22" cy="130.15" r="0.72" fill="#000"/>
<circle cx="474.2" cy="120.9" r="0.72" fill="#000"/>
<circle cx="472.51" cy="127.36" r="0.72" fill="#000"/>
<circle cx="471.62" cy="130.01" r="0.72" fill="#000"/>
<circle cx="473.9" cy="132.24" r="0.72" fill="#000"/>
<circle cx="473.2" cy="131.27" r="0.72" fill="#000"/>
<circle cx="472.03" cy="125.92" r="0.72" fill="#000"/>
<circle cx="474.71" cy="137.13" r="0.72" fill="#000"/>
<circle cx="471.4" cy="118.3" r="0.72" fill="#000"/>
<circle cx="473.6" cy="137" r="0.72" fill="#000"/>
<circle cx="472.8" cy="132.3" r="0.72" fill="#000"/>
<circle cx="474.72" cy="126.44" r="0.72" fill="#000"/>
<circle cx="473.63" cy="137.24" r="0.72" fill="#000"/>
<circle cx="474.49" cy="128.41" r="0.72" fill="#000"/>
<circle cx="474.65" cy="130.43" r="0.72" fill="#000"/>
<circle cx="471.9" cy="136.83" r="0.72" fill="#000"/>
<circle cx="471.71" cy="137" r="0.72" fill="#000"/>
<circle cx="471.58" cy="135.06" r="0.72" fill="#000"/>
<circle cx="471.29" cy="125.65" r="0.72" fill="#000"/>
<circle cx="473.02" cy="129.68" r="0.72" fill="#000"/>
<circle cx="472.37" cy="137.07" r="0.72" fill="#000"/>
<circle cx="471.76" cy="134.98" r="0.72" fill="#000"/>
<circle cx="473.91" cy="126.38" r="0.72" fill="#000"/>
<circle cx="473.58" cy="136.93" r="0.72" fill="#000"/>
<circle cx="472.89" cy="119.84" r="0.72" fill="#000"/>
<circle cx="472.76" cy="127.72" r="0.72" fill="#000"/>
<circle cx="471.83" cy="136.06" r="0.72" fill="#000"/>
<circle cx="471.25" cy="124.84" r="0.72" fill="#000"/>
<circle cx="473.47" cy="137.35" r="0.72" fill="#000"/>
<circle cx="473.55" cy="125.62" r="0.72" fill="#000"/>
<circle cx="471.97" cy="136.17" r="0.72" fill="#000"/>
<circle cx="474.2" cy="123.84" r="0.72" fill="#000"/>
<circle cx="472" cy="133.07" r="0.72" fill="#000"/>
<circle cx="472.55" cy="120.82" r="0.72" fill="#000"/>
<circle cx="474.77" cy="124.93" r="0.72" fill="#000"/>
<circle cx="471.43" cy="137.09" r="0.72" fill="#000"/>
<circle cx="474.07" cy="124.07" r="0.72" fill="#000"/>
<circle cx="471.69" cy="134.76" r="0.72" fill="#000"/>
<circle cx="473.33" cy="137.39" r="0.72" fill="#000"/>
<circle cx="471.7" cy="133.32" r="0.72" fill="#000"/>
<circle cx="474.87" cy="125.62" r="0.72" fill="#000"/>
<circle cx="474.99" cy="124.89" r="0.72" fill="#000"/>
<circle cx="475.1" cy="129.93" r="0.72" fill="#000"/>
<circle cx="471.77" cy="106" r="0.72" fill="#000"/>
<line x1="489.95" y1="110" x2="489.95" y2="124.4" stroke="#111" stroke-width="0.6"/>
<line x1="489.95" y1="135.6" x2="489.95" y2="137.9" stroke="#111" stroke-width="0.6"/>
<rect x="485.1" y="124.4" width="9.7" height="11.2" fill="#E2FBB8" stroke="#555" stroke-width="0.8"/>
<line x1="485.1" y1="130" x2="494.8" y2="130" stroke="#555" stroke-width="0.8"/>
<circle cx="490.33" cy="125.87" r="0.72" fill="#000"/>
<circle cx="489.81" cy="125.88" r="0.72" fill="#000"/>
<circle cx="489.53" cy="126.79" r="0.72" fill="#000"/>
<circle cx="488.74" cy="135.76" r="0.72" fill="#000"/>
<circle cx="488.38" cy="127.09" r="0.72" fill="#000"/>
<circle cx="491.85" cy="136.11" r="0.72" fill="#000"/>
<circle cx="489.98" cy="134.52" r="0.72" fill="#000"/>
<circle cx="489.06" cy="121.25" r="0.72" fill="#000"/>
<circle cx="488.52" cy="132.01" r="0.72" fill="#000"/>
<circle cx="490.47" cy="133.04" r="0.72" fill="#000"/>
<circle cx="491.54" cy="130.23" r="0.72" fill="#000"/>
<circle cx="489.63" cy="125.79" r="0.72" fill="#000"/>
<circle cx="488.14" cy="128.52" r="0.72" fill="#000"/>
<circle cx="489.46" cy="137.34" r="0.72" fill="#000"/>
<circle cx="491.71" cy="127.28" r="0.72" fill="#000"/>
<circle cx="488.69" cy="136.95" r="0.72" fill="#000"/>
<circle cx="488.75" cy="132.99" r="0.72" fill="#000"/>
<circle cx="488.13" cy="118.57" r="0.72" fill="#000"/>
<circle cx="489.26" cy="134.63" r="0.72" fill="#000"/>
<circle cx="489.56" cy="122.23" r="0.72" fill="#000"/>
<circle cx="490.83" cy="134.03" r="0.72" fill="#000"/>
<circle cx="489.75" cy="120" r="0.72" fill="#000"/>
<circle cx="488.96" cy="131.92" r="0.72" fill="#000"/>
<circle cx="488.91" cy="136.07" r="0.72" fill="#000"/>
<circle cx="489.59" cy="135.61" r="0.72" fill="#000"/>
<circle cx="491.23" cy="118.8" r="0.72" fill="#000"/>
<circle cx="488.02" cy="119.55" r="0.72" fill="#000"/>
<circle cx="489.41" cy="136.22" r="0.72" fill="#000"/>
<circle cx="488.41" cy="126.6" r="0.72" fill="#000"/>
<circle cx="489.16" cy="131.93" r="0.72" fill="#000"/>
<circle cx="488.29" cy="121.15" r="0.72" fill="#000"/>
<circle cx="491.13" cy="135.87" r="0.72" fill="#000"/>
<circle cx="489.25" cy="136.42" r="0.72" fill="#000"/>
<circle cx="491.81" cy="123.52" r="0.72" fill="#000"/>
<circle cx="489.56" cy="118.32" r="0.72" fill="#000"/>
<circle cx="491.07" cy="117.4" r="0.72" fill="#000"/>
<circle cx="490.03" cy="130.85" r="0.72" fill="#000"/>
<circle cx="491.46" cy="122.98" r="0.72" fill="#000"/>
<circle cx="489.55" cy="136.9" r="0.72" fill="#000"/>
<circle cx="491.31" cy="129.56" r="0.72" fill="#000"/>
<circle cx="488.96" cy="113.42" r="0.72" fill="#000"/>
<circle cx="491.22" cy="127.81" r="0.72" fill="#000"/>
<circle cx="490.92" cy="111.46" r="0.72" fill="#000"/>
<circle cx="488.13" cy="119.23" r="0.72" fill="#000"/>
<circle cx="491.41" cy="125.2" r="0.72" fill="#000"/>
<circle cx="491.16" cy="125.05" r="0.72" fill="#000"/>
<circle cx="489.53" cy="128.23" r="0.72" fill="#000"/>
<circle cx="491.07" cy="124.79" r="0.72" fill="#000"/>
<circle cx="490.24" cy="136.19" r="0.72" fill="#000"/>
<circle cx="491.88" cy="135.62" r="0.72" fill="#000"/>
<circle cx="488.25" cy="128.58" r="0.72" fill="#000"/>
<circle cx="489" cy="126.19" r="0.72" fill="#000"/>
<circle cx="489.94" cy="131.53" r="0.72" fill="#000"/>
<circle cx="488.87" cy="123.92" r="0.72" fill="#000"/>
<circle cx="488.8" cy="130.95" r="0.72" fill="#000"/>
<circle cx="489.99" cy="133.7" r="0.72" fill="#000"/>
<circle cx="489.08" cy="131.64" r="0.72" fill="#000"/>
<circle cx="489.67" cy="126.07" r="0.72" fill="#000"/>
<line x1="499.8" y1="134" x2="499.8" y2="135.6" stroke="#111" stroke-width="0.6"/>
<line x1="499.8" y1="137.6" x2="499.8" y2="138.4" stroke="#111" stroke-width="0.6"/>
<rect x="494.8" y="135.6" width="10" height="2" fill="#FBC0A6" stroke="#555" stroke-width="0.8"/>
<line x1="494.8" y1="136.8" x2="504.8" y2="136.8" stroke="#555" stroke-width="0.8"/>
<circle cx="501.18" cy="134.85" r="0.72" fill="#000"/>
<circle cx="499.18" cy="136.62" r="0.72" fill="#000"/>
<circle cx="498.21" cy="137.55" r="0.72" fill="#000"/>
<circle cx="499.2" cy="136.05" r="0.72" fill="#000"/>
<circle cx="500.23" cy="137.79" r="0.72" fill="#000"/>
<circle cx="499.59" cy="137.06" r="0.72" fill="#000"/>
<circle cx="499.43" cy="136.47" r="0.72" fill="#000"/>
<circle cx="498.59" cy="137.98" r="0.72" fill="#000"/>
<circle cx="499.85" cy="134.77" r="0.72" fill="#000"/>
<circle cx="500.94" cy="136.42" r="0.72" fill="#000"/>
<circle cx="500.83" cy="135.35" r="0.72" fill="#000"/>
<circle cx="499.39" cy="135.23" r="0.72" fill="#000"/>
<circle cx="498.2" cy="135.38" r="0.72" fill="#000"/>
<circle cx="498.36" cy="137.82" r="0.72" fill="#000"/>
<circle cx="498.08" cy="136.28" r="0.72" fill="#000"/>
<circle cx="500.42" cy="136.43" r="0.72" fill="#000"/>
<circle cx="500.44" cy="137.47" r="0.72" fill="#000"/>
<circle cx="500.6" cy="137.35" r="0.72" fill="#000"/>
<circle cx="501.66" cy="138.14" r="0.72" fill="#000"/>
<circle cx="501.69" cy="136.16" r="0.72" fill="#000"/>
<circle cx="501.44" cy="137.45" r="0.72" fill="#000"/>
<circle cx="501.46" cy="135.9" r="0.72" fill="#000"/>
<circle cx="500.7" cy="138.27" r="0.72" fill="#000"/>
<circle cx="497.83" cy="137.77" r="0.72" fill="#000"/>
<circle cx="501.6" cy="135.48" r="0.72" fill="#000"/>
<circle cx="498.5" cy="134.09" r="0.72" fill="#000"/>
<circle cx="497.91" cy="136.06" r="0.72" fill="#000"/>
<circle cx="498.31" cy="136.6" r="0.72" fill="#000"/>
<circle cx="497.93" cy="135.93" r="0.72" fill="#000"/>
<circle cx="498.61" cy="138.26" r="0.72" fill="#000"/>
<circle cx="498.77" cy="135.48" r="0.72" fill="#000"/>
<circle cx="500.85" cy="137.36" r="0.72" fill="#000"/>
<circle cx="500.09" cy="135.39" r="0.72" fill="#000"/>
<circle cx="500.94" cy="136.97" r="0.72" fill="#000"/>
<circle cx="498.98" cy="136.24" r="0.72" fill="#000"/>
<circle cx="500.49" cy="137.76" r="0.72" fill="#000"/>
<circle cx="499.8" cy="136.36" r="0.72" fill="#000"/>
<circle cx="499.36" cy="138.06" r="0.72" fill="#000"/>
<circle cx="499.68" cy="136.29" r="0.72" fill="#000"/>
<circle cx="499.1" cy="135.6" r="0.72" fill="#000"/>
<circle cx="499.57" cy="138.31" r="0.72" fill="#000"/>
<circle cx="501.49" cy="136.07" r="0.72" fill="#000"/>
<circle cx="500.41" cy="136.9" r="0.72" fill="#000"/>
<circle cx="500.35" cy="135.66" r="0.72" fill="#000"/>
<circle cx="501.69" cy="136.7" r="0.72" fill="#000"/>
<circle cx="498.22" cy="136.22" r="0.72" fill="#000"/>
<circle cx="498.27" cy="136.24" r="0.72" fill="#000"/>
<circle cx="500.67" cy="135.18" r="0.72" fill="#000"/>
<circle cx="501.5" cy="136.1" r="0.72" fill="#000"/>
<circle cx="501.07" cy="136.34" r="0.72" fill="#000"/>
<circle cx="500.35" cy="136.04" r="0.72" fill="#000"/>
<circle cx="499.37" cy="136.27" r="0.72" fill="#000"/>
<circle cx="500.74" cy="136.92" r="0.72" fill="#000"/>
<circle cx="498.09" cy="138.38" r="0.72" fill="#000"/>
<circle cx="500.99" cy="137.57" r="0.72" fill="#000"/>
<circle cx="498.31" cy="137.71" r="0.72" fill="#000"/>
<circle cx="500.8" cy="137.39" r="0.72" fill="#000"/>
<circle cx="500.74" cy="136.92" r="0.72" fill="#000"/>
<circle cx="501.04" cy="135.81" r="0.72" fill="#000"/>
<circle cx="500.77" cy="135.41" r="0.72" fill="#000"/>
<circle cx="499.37" cy="121" r="0.72" fill="#000"/>
<circle cx="500.29" cy="125" r="0.72" fill="#000"/>
<circle cx="499.37" cy="129" r="0.72" fill="#000"/>
<line x1="405.2" y1="136.5" x2="423.4" y2="136.5" stroke="#111" stroke-width="1.1"/>
<circle cx="410.2" cy="136.4" r="1.5" fill="#000"/>
<circle cx="419.1" cy="136.4" r="1.5" fill="#000"/>
<text x="382.3" y="143.6" font-size="7.3" text-anchor="middle" fill="#9c9c9c" color="#9c9c9c">61</text>
<text x="392.5" y="143.6" font-size="7.3" text-anchor="middle" fill="#9c9c9c" color="#9c9c9c">56</text>
<text x="409.9" y="143.6" font-size="7.3" text-anchor="middle" fill="#9c9c9c" color="#9c9c9c">61</text>
<text x="418.9" y="143.6" font-size="7.3" text-anchor="middle" fill="#9c9c9c" color="#9c9c9c">50</text>
<text x="435.8" y="143.6" font-size="7.3" text-anchor="middle" fill="#9c9c9c" color="#9c9c9c">59</text>
<text x="446" y="143.6" font-size="7.3" text-anchor="middle" fill="#9c9c9c" color="#9c9c9c">56</text>
<text x="463.2" y="143.6" font-size="7.3" text-anchor="middle" fill="#9c9c9c" color="#9c9c9c">55</text>
<text x="473.2" y="143.6" font-size="7.3" text-anchor="middle" fill="#9c9c9c" color="#9c9c9c">61</text>
<text x="490" y="143.6" font-size="7.3" text-anchor="middle" fill="#9c9c9c" color="#9c9c9c">58</text>
<text x="499.8" y="143.6" font-size="7.3" text-anchor="middle" fill="#9c9c9c" color="#9c9c9c">60</text>
<text x="387.4" y="152" font-size="7.6" text-anchor="middle" fill="#1a1a1a" color="#1a1a1a">NHS</text>
<text x="414.3" y="152" font-size="7.6" text-anchor="middle" fill="#1a1a1a" color="#1a1a1a">HS</text>
<text x="441.3" y="152" font-size="7.6" text-anchor="middle" fill="#1a1a1a" color="#1a1a1a">aTT</text>
<text x="468.2" y="152" font-size="7.6" text-anchor="middle" fill="#1a1a1a" color="#1a1a1a">2d</text>
<text x="494.8" y="152" font-size="7.6" text-anchor="middle" fill="#1a1a1a" color="#1a1a1a">3d</text>
<line x1="462.4" y1="154.5" x2="499.3" y2="154.5" stroke="#777" stroke-width="1.4"/>
<text x="480.6" y="161.6" font-size="7.6" text-anchor="middle" fill="#1a1a1a" color="#1a1a1a">maTT</text>
<text x="387.1" y="30.2" font-size="8.8" text-anchor="middle" fill="#000" color="#000">ns</text>
<text x="414.3" y="119.5" font-size="8.8" text-anchor="middle" fill="#000" color="#000">ns</text>
<text x="439.5" y="68.64" font-size="8.5" text-anchor="middle" fill="#000" color="#000">***</text>
<text x="466.6" y="79.94" font-size="8.5" text-anchor="middle" fill="#000" color="#000">***</text>
<text x="493.4" y="105.55" font-size="8.5" text-anchor="middle" fill="#000" color="#000">***</text>
<rect x="471.6" y="12.2" width="5.2" height="3.3" fill="#E2FBB8" stroke="#666" stroke-width="0.7"/>
<text x="478.8" y="15.3" font-size="7.6" text-anchor="start" fill="#000" color="#000">GP</text>
<rect x="471.6" y="18.5" width="5.2" height="2.9" fill="#FBC0A6" stroke="#666" stroke-width="0.7"/>
<text x="478.8" y="21.6" font-size="7.6" text-anchor="start" fill="#000" color="#000" font-style="italic">hsfa2−3</text>
<text x="525" y="8.9" font-size="12.5" text-anchor="start" fill="#000" color="#000" font-weight="bold">d</text>
<rect x="581.8" y="3.5" width="6.2" height="5.8" fill="#CAFF70" stroke="#666" stroke-width="0.7"/>
<text x="593.1" y="9" font-size="7.6" text-anchor="start" fill="#000" color="#000">GP</text>
<rect x="609.3" y="3.5" width="6.1" height="5.8" fill="#FF7F50" stroke="#666" stroke-width="0.7"/>
<text x="619.4" y="9" font-size="7.6" text-anchor="start" fill="#000" color="#000" font-style="italic">hsfa2−3</text>
<rect x="551.6" y="12.5" width="131.7" height="131.9" fill="none" stroke="#7a7a7a" stroke-width="1.15"/>
<line x1="549.8" y1="138.2" x2="551.6" y2="138.2" stroke="#333" stroke-width="0.8"/>
<text x="548.2" y="141.1" font-size="7.4" text-anchor="end" fill="#383838" color="#383838">0%</text>
<line x1="549.8" y1="110.02" x2="551.6" y2="110.02" stroke="#333" stroke-width="0.8"/>
<text x="548.2" y="112.92" font-size="7.4" text-anchor="end" fill="#383838" color="#383838">25%</text>
<line x1="549.8" y1="81.85" x2="551.6" y2="81.85" stroke="#333" stroke-width="0.8"/>
<text x="548.2" y="84.75" font-size="7.4" text-anchor="end" fill="#383838" color="#383838">50%</text>
<line x1="549.8" y1="53.67" x2="551.6" y2="53.67" stroke="#333" stroke-width="0.8"/>
<text x="548.2" y="56.57" font-size="7.4" text-anchor="end" fill="#383838" color="#383838">75%</text>
<line x1="549.8" y1="25.5" x2="551.6" y2="25.5" stroke="#333" stroke-width="0.8"/>
<text x="548.2" y="28.4" font-size="7.4" text-anchor="end" fill="#383838" color="#383838">100%</text>
<text x="526.1" y="74.5" font-size="9" text-anchor="middle" fill="#000" color="#000" transform="rotate(-90 526.1 74.5)">Survival rate</text>
<rect x="555.5" y="25.5" width="11.2" height="112.7" fill="#CAFF70" stroke="#1a1a1a" stroke-width="0.8"/>
<circle cx="561.1" cy="25.5" r="1.1" fill="#000"/>
<rect x="566.7" y="29.2" width="11.5" height="109" fill="#FF7F50" stroke="#1a1a1a" stroke-width="0.8"/>
<line x1="572.45" y1="26.5" x2="572.45" y2="31" stroke="#1a1a1a" stroke-width="0.8"/>
<line x1="571.05" y1="26.5" x2="573.85" y2="26.5" stroke="#1a1a1a" stroke-width="0.8"/>
<line x1="571.05" y1="31" x2="573.85" y2="31" stroke="#1a1a1a" stroke-width="0.8"/>
<circle cx="572.45" cy="25.5" r="1.1" fill="#000"/>
<circle cx="572.45" cy="27" r="1.1" fill="#000"/>
<circle cx="572.45" cy="30" r="1.1" fill="#000"/>
<rect x="605.8" y="25.5" width="11.5" height="112.7" fill="#CAFF70" stroke="#1a1a1a" stroke-width="0.8"/>
<circle cx="611.55" cy="25.5" r="1.1" fill="#000"/>
<rect x="617.3" y="25.5" width="11.5" height="112.7" fill="#FF7F50" stroke="#1a1a1a" stroke-width="0.8"/>
<circle cx="623.05" cy="25.5" r="1.1" fill="#000"/>
<rect x="631.4" y="37.6" width="11.5" height="100.6" fill="#CAFF70" stroke="#1a1a1a" stroke-width="0.8"/>
<line x1="637.15" y1="30" x2="637.15" y2="44" stroke="#1a1a1a" stroke-width="0.8"/>
<line x1="635.75" y1="30" x2="638.55" y2="30" stroke="#1a1a1a" stroke-width="0.8"/>
<line x1="635.75" y1="44" x2="638.55" y2="44" stroke="#1a1a1a" stroke-width="0.8"/>
<circle cx="637.15" cy="25.5" r="1.1" fill="#000"/>
<circle cx="637.15" cy="32" r="1.1" fill="#000"/>
<circle cx="637.15" cy="57" r="1.1" fill="#000"/>
<rect x="642.9" y="70.3" width="11.5" height="67.9" fill="#FF7F50" stroke="#1a1a1a" stroke-width="0.8"/>
<line x1="648.65" y1="54" x2="648.65" y2="86" stroke="#1a1a1a" stroke-width="0.8"/>
<line x1="647.25" y1="54" x2="650.05" y2="54" stroke="#1a1a1a" stroke-width="0.8"/>
<line x1="647.25" y1="86" x2="650.05" y2="86" stroke="#1a1a1a" stroke-width="0.8"/>
<circle cx="648.65" cy="54" r="1.1" fill="#000"/>
<circle cx="648.65" cy="55" r="1.1" fill="#000"/>
<circle cx="648.65" cy="103" r="1.1" fill="#000"/>
<rect x="656.4" y="44.2" width="11.5" height="94" fill="#CAFF70" stroke="#1a1a1a" stroke-width="0.8"/>
<line x1="662.15" y1="38" x2="662.15" y2="50" stroke="#1a1a1a" stroke-width="0.8"/>
<line x1="660.75" y1="38" x2="663.55" y2="38" stroke="#1a1a1a" stroke-width="0.8"/>
<line x1="660.75" y1="50" x2="663.55" y2="50" stroke="#1a1a1a" stroke-width="0.8"/>
<circle cx="662.15" cy="32.5" r="1.1" fill="#000"/>
<circle cx="662.15" cy="40" r="1.1" fill="#000"/>
<circle cx="662.15" cy="61" r="1.1" fill="#000"/>
<rect x="667.9" y="119" width="11.5" height="19.2" fill="#FF7F50" stroke="#1a1a1a" stroke-width="0.8"/>
<line x1="673.65" y1="113" x2="673.65" y2="125" stroke="#1a1a1a" stroke-width="0.8"/>
<line x1="672.25" y1="113" x2="675.05" y2="113" stroke="#1a1a1a" stroke-width="0.8"/>
<line x1="672.25" y1="125" x2="675.05" y2="125" stroke="#1a1a1a" stroke-width="0.8"/>
<circle cx="673.65" cy="108" r="1.1" fill="#000"/>
<circle cx="673.65" cy="117" r="1.1" fill="#000"/>
<circle cx="673.65" cy="124" r="1.1" fill="#000"/>
<line x1="582" y1="138.5" x2="603" y2="138.5" stroke="#000" stroke-width="0.9"/>
<circle cx="586.2" cy="138.2" r="1.1" fill="#000"/>
<circle cx="597.7" cy="138.2" r="1.1" fill="#000"/>
<text x="566.8" y="21.7" font-size="8.8" text-anchor="middle" fill="#000" color="#000">ns</text>
<text x="592.3" y="21.7" font-size="8.8" text-anchor="middle" fill="#000" color="#000">ns</text>
<text x="617.8" y="21.7" font-size="8.8" text-anchor="middle" fill="#000" color="#000">ns</text>
<text x="642.9" y="24.54" font-size="8.5" text-anchor="middle" fill="#000" color="#000">***</text>
<text x="668.1" y="32.24" font-size="8.5" text-anchor="middle" fill="#000" color="#000">***</text>
<text x="564.9" y="151.4" font-size="7.6" text-anchor="middle" fill="#1a1a1a" color="#1a1a1a">NHS</text>
<text x="589.2" y="151.4" font-size="7.6" text-anchor="middle" fill="#1a1a1a" color="#1a1a1a">HS</text>
<text x="614.8" y="151.4" font-size="7.6" text-anchor="middle" fill="#1a1a1a" color="#1a1a1a">aTT</text>
<text x="639.8" y="151.4" font-size="7.6" text-anchor="middle" fill="#1a1a1a" color="#1a1a1a">2d</text>
<text x="664.6" y="151.4" font-size="7.6" text-anchor="middle" fill="#1a1a1a" color="#1a1a1a">3d</text>
<line x1="634.7" y1="154.5" x2="669.7" y2="154.5" stroke="#777" stroke-width="1.4"/>
<text x="650.5" y="161.6" font-size="7.6" text-anchor="middle" fill="#1a1a1a" color="#1a1a1a">maTT</text>
<text x="0.8" y="178.5" font-size="12.5" text-anchor="start" fill="#000" color="#000" font-weight="bold">e</text>
<rect x="25.9" y="171.6" width="139.7" height="139.1" fill="none" stroke="#7a7a7a" stroke-width="1.15"/>
<line x1="24.1" y1="304.2" x2="25.9" y2="304.2" stroke="#333" stroke-width="0.8"/>
<text x="23.9" y="306.7" font-size="7.2" text-anchor="end" fill="#383838" color="#383838">0.0</text>
<line x1="24.1" y1="278.8" x2="25.9" y2="278.8" stroke="#333" stroke-width="0.8"/>
<text x="23.9" y="281.3" font-size="7.2" text-anchor="end" fill="#383838" color="#383838">0.2</text>
<line x1="24.1" y1="253.4" x2="25.9" y2="253.4" stroke="#333" stroke-width="0.8"/>
<text x="23.9" y="255.9" font-size="7.2" text-anchor="end" fill="#383838" color="#383838">0.4</text>
<line x1="24.1" y1="228" x2="25.9" y2="228" stroke="#333" stroke-width="0.8"/>
<text x="23.9" y="230.5" font-size="7.2" text-anchor="end" fill="#383838" color="#383838">0.6</text>
<line x1="24.1" y1="202.6" x2="25.9" y2="202.6" stroke="#333" stroke-width="0.8"/>
<text x="23.9" y="205.1" font-size="7.2" text-anchor="end" fill="#383838" color="#383838">0.8</text>
<line x1="24.1" y1="177.2" x2="25.9" y2="177.2" stroke="#333" stroke-width="0.8"/>
<text x="23.9" y="179.7" font-size="7.2" text-anchor="end" fill="#383838" color="#383838">1.0</text>
<text x="10.6" y="244" font-size="9" text-anchor="middle" fill="#000" color="#000" transform="rotate(-90 10.6 244)">Dry weight (g)</text>
<line x1="41.3" y1="191" x2="41.3" y2="207.3" stroke="#111" stroke-width="0.6"/>
<line x1="41.3" y1="230.2" x2="41.3" y2="236" stroke="#111" stroke-width="0.6"/>
<rect x="36.1" y="207.3" width="10.4" height="22.9" fill="#E2FBB8" stroke="#555" stroke-width="0.8"/>
<line x1="36.1" y1="216.5" x2="46.5" y2="216.5" stroke="#555" stroke-width="0.8"/>
<circle cx="39.35" cy="227.4" r="0.72" fill="#000"/>
<circle cx="41.98" cy="229.33" r="0.72" fill="#000"/>
<circle cx="42.88" cy="215.28" r="0.72" fill="#000"/>
<circle cx="42.95" cy="207.96" r="0.72" fill="#000"/>
<circle cx="41.8" cy="221.98" r="0.72" fill="#000"/>
<circle cx="39.95" cy="229.33" r="0.72" fill="#000"/>
<circle cx="43.24" cy="195.42" r="0.72" fill="#000"/>
<circle cx="42.68" cy="219.05" r="0.72" fill="#000"/>
<circle cx="42.87" cy="230.48" r="0.72" fill="#000"/>
<circle cx="42.37" cy="231.5" r="0.72" fill="#000"/>
<circle cx="39.9" cy="210.82" r="0.72" fill="#000"/>
<circle cx="41.14" cy="226.22" r="0.72" fill="#000"/>
<circle cx="40.1" cy="235.21" r="0.72" fill="#000"/>
<circle cx="41.65" cy="208.77" r="0.72" fill="#000"/>
<circle cx="39.59" cy="202.82" r="0.72" fill="#000"/>
<circle cx="41.67" cy="272" r="0.72" fill="#000"/>
<line x1="52.25" y1="191" x2="52.25" y2="214.3" stroke="#111" stroke-width="0.6"/>
<line x1="52.25" y1="246.6" x2="52.25" y2="267" stroke="#111" stroke-width="0.6"/>
<rect x="47.3" y="214.3" width="9.9" height="32.3" fill="#FBE27C" stroke="#555" stroke-width="0.8"/>
<line x1="47.3" y1="225.5" x2="57.2" y2="225.5" stroke="#555" stroke-width="0.8"/>
<circle cx="50.93" cy="221.75" r="0.72" fill="#000"/>
<circle cx="53" cy="256.6" r="0.72" fill="#000"/>
<circle cx="53.17" cy="204.11" r="0.72" fill="#000"/>
<circle cx="52.89" cy="211.09" r="0.72" fill="#000"/>
<circle cx="50.88" cy="253.6" r="0.72" fill="#000"/>
<circle cx="50.93" cy="237.66" r="0.72" fill="#000"/>
<circle cx="50.51" cy="208.5" r="0.72" fill="#000"/>
<circle cx="53.7" cy="246.84" r="0.72" fill="#000"/>
<circle cx="53.15" cy="249.38" r="0.72" fill="#000"/>
<circle cx="52.92" cy="197.69" r="0.72" fill="#000"/>
<circle cx="53" cy="243.8" r="0.72" fill="#000"/>
<circle cx="51.53" cy="247.05" r="0.72" fill="#000"/>
<circle cx="50.99" cy="208.29" r="0.72" fill="#000"/>
<circle cx="51.46" cy="263.03" r="0.72" fill="#000"/>
<circle cx="51.88" cy="235.87" r="0.72" fill="#000"/>
<circle cx="51.83" cy="206.25" r="0.72" fill="#000"/>
<circle cx="52.09" cy="218.66" r="0.72" fill="#000"/>
<circle cx="53.22" cy="204.96" r="0.72" fill="#000"/>
<circle cx="52.86" cy="212.58" r="0.72" fill="#000"/>
<circle cx="51.69" cy="303" r="0.72" fill="#000"/>
<line x1="63.2" y1="194.9" x2="63.2" y2="194.9" stroke="#111" stroke-width="0.6"/>
<line x1="63.2" y1="222.2" x2="63.2" y2="222.2" stroke="#111" stroke-width="0.6"/>
<rect x="58" y="194.9" width="10.4" height="27.3" fill="#FBC0A6" stroke="#555" stroke-width="0.8"/>
<line x1="58" y1="214.3" x2="68.4" y2="214.3" stroke="#555" stroke-width="0.8"/>
<circle cx="62.26" cy="194.9" r="0.72" fill="#000"/>
<circle cx="63.94" cy="215.01" r="0.72" fill="#000"/>
<circle cx="62.88" cy="222.2" r="0.72" fill="#000"/>
<circle cx="63.22" cy="200.87" r="0.72" fill="#000"/>
<circle cx="63.82" cy="200.33" r="0.72" fill="#000"/>
<circle cx="63.35" cy="281.5" r="0.72" fill="#000"/>
<line x1="84.8" y1="281" x2="84.8" y2="286.1" stroke="#111" stroke-width="0.6"/>
<line x1="84.8" y1="290.5" x2="84.8" y2="292" stroke="#111" stroke-width="0.6"/>
<rect x="79.6" y="286.1" width="10.4" height="4.4" fill="#E2FBB8" stroke="#555" stroke-width="0.8"/>
<line x1="79.6" y1="288.3" x2="90" y2="288.3" stroke="#555" stroke-width="0.8"/>
<circle cx="83.32" cy="289.16" r="0.72" fill="#000"/>
<circle cx="86.02" cy="289.06" r="0.72" fill="#000"/>
<circle cx="82.8" cy="288.29" r="0.72" fill="#000"/>
<circle cx="86.27" cy="287.74" r="0.72" fill="#000"/>
<circle cx="84.53" cy="285.31" r="0.72" fill="#000"/>
<circle cx="86.13" cy="289.84" r="0.72" fill="#000"/>
<line x1="95.75" y1="272" x2="95.75" y2="284.4" stroke="#111" stroke-width="0.6"/>
<line x1="95.75" y1="296.4" x2="95.75" y2="303" stroke="#111" stroke-width="0.6"/>
<rect x="90.5" y="284.4" width="10.5" height="12" fill="#FBE27C" stroke="#555" stroke-width="0.8"/>
<line x1="90.5" y1="291" x2="101" y2="291" stroke="#555" stroke-width="0.8"/>
<circle cx="97.27" cy="290.9" r="0.72" fill="#000"/>
<circle cx="93.77" cy="287.1" r="0.72" fill="#000"/>
<circle cx="94.31" cy="284.51" r="0.72" fill="#000"/>
<circle cx="96.56" cy="284.32" r="0.72" fill="#000"/>
<circle cx="96.55" cy="289.26" r="0.72" fill="#000"/>
<circle cx="97.18" cy="285.28" r="0.72" fill="#000"/>
<circle cx="93.94" cy="275.33" r="0.72" fill="#000"/>
<circle cx="94.1" cy="295.91" r="0.72" fill="#000"/>
<circle cx="93.8" cy="284.17" r="0.72" fill="#000"/>
<circle cx="97.5" cy="290.13" r="0.72" fill="#000"/>
<circle cx="94.69" cy="287.5" r="0.72" fill="#000"/>
<circle cx="97.08" cy="292.48" r="0.72" fill="#000"/>
<circle cx="96.65" cy="284.85" r="0.72" fill="#000"/>
<circle cx="95.03" cy="281.61" r="0.72" fill="#000"/>
<circle cx="96.13" cy="300.02" r="0.72" fill="#000"/>
<circle cx="95.56" cy="277.18" r="0.72" fill="#000"/>
<circle cx="95.1" cy="300.43" r="0.72" fill="#000"/>
<circle cx="93.83" cy="301.66" r="0.72" fill="#000"/>
<circle cx="93.71" cy="287.08" r="0.72" fill="#000"/>
<circle cx="95.93" cy="300.15" r="0.72" fill="#000"/>
<circle cx="94.49" cy="298.13" r="0.72" fill="#000"/>
<circle cx="97.17" cy="288.48" r="0.72" fill="#000"/>
<circle cx="95.47" cy="274.28" r="0.72" fill="#000"/>
<circle cx="94.16" cy="291.88" r="0.72" fill="#000"/>
<circle cx="97.16" cy="292.11" r="0.72" fill="#000"/>
<circle cx="96.36" cy="277.95" r="0.72" fill="#000"/>
<circle cx="94.8" cy="284.48" r="0.72" fill="#000"/>
<circle cx="94.46" cy="281.37" r="0.72" fill="#000"/>
<circle cx="94.82" cy="301.59" r="0.72" fill="#000"/>
<circle cx="93.92" cy="297.56" r="0.72" fill="#000"/>
<line x1="106.75" y1="291" x2="106.75" y2="294.9" stroke="#111" stroke-width="0.6"/>
<line x1="106.75" y1="300.8" x2="106.75" y2="302" stroke="#111" stroke-width="0.6"/>
<rect x="101.5" y="294.9" width="10.5" height="5.9" fill="#FBC0A6" stroke="#555" stroke-width="0.8"/>
<line x1="101.5" y1="297.5" x2="112" y2="297.5" stroke="#555" stroke-width="0.8"/>
<circle cx="104.99" cy="297.78" r="0.72" fill="#000"/>
<circle cx="104.7" cy="295.33" r="0.72" fill="#000"/>
<circle cx="105.96" cy="295.59" r="0.72" fill="#000"/>
<circle cx="107.27" cy="291.53" r="0.72" fill="#000"/>
<circle cx="107.75" cy="299.59" r="0.72" fill="#000"/>
<circle cx="107.66" cy="299.9" r="0.72" fill="#000"/>
<circle cx="107.59" cy="297.31" r="0.72" fill="#000"/>
<circle cx="105.71" cy="300.92" r="0.72" fill="#000"/>
<line x1="128.65" y1="287" x2="128.65" y2="291" stroke="#111" stroke-width="0.6"/>
<line x1="128.65" y1="302.3" x2="128.65" y2="303" stroke="#111" stroke-width="0.6"/>
<rect x="123.4" y="291" width="10.5" height="11.3" fill="#E2FBB8" stroke="#555" stroke-width="0.8"/>
<line x1="123.4" y1="299" x2="133.9" y2="299" stroke="#555" stroke-width="0.8"/>
<circle cx="129.02" cy="302.51" r="0.72" fill="#000"/>
<circle cx="128.72" cy="302.4" r="0.72" fill="#000"/>
<circle cx="126.69" cy="290.87" r="0.72" fill="#000"/>
<circle cx="130.02" cy="294.62" r="0.72" fill="#000"/>
<circle cx="130.41" cy="302.35" r="0.72" fill="#000"/>
<circle cx="130.47" cy="290.92" r="0.72" fill="#000"/>
<circle cx="128.56" cy="302.01" r="0.72" fill="#000"/>
<circle cx="126.86" cy="296.26" r="0.72" fill="#000"/>
<circle cx="127.01" cy="289.78" r="0.72" fill="#000"/>
<circle cx="129.82" cy="296.72" r="0.72" fill="#000"/>
<line x1="139.55" y1="292" x2="139.55" y2="294.9" stroke="#111" stroke-width="0.6"/>
<line x1="139.55" y1="302.3" x2="139.55" y2="303" stroke="#111" stroke-width="0.6"/>
<rect x="134.3" y="294.9" width="10.5" height="7.4" fill="#FBE27C" stroke="#555" stroke-width="0.8"/>
<line x1="134.3" y1="298.5" x2="144.8" y2="298.5" stroke="#555" stroke-width="0.8"/>
<circle cx="139.36" cy="298.08" r="0.72" fill="#000"/>
<circle cx="139.1" cy="298.69" r="0.72" fill="#000"/>
<circle cx="137.55" cy="298" r="0.72" fill="#000"/>
<circle cx="141.51" cy="296.85" r="0.72" fill="#000"/>
<circle cx="141.3" cy="298.95" r="0.72" fill="#000"/>
<circle cx="138.42" cy="302.64" r="0.72" fill="#000"/>
<circle cx="141.47" cy="293.57" r="0.72" fill="#000"/>
<circle cx="140.34" cy="297.67" r="0.72" fill="#000"/>
<circle cx="140.65" cy="294.04" r="0.72" fill="#000"/>
<circle cx="141.29" cy="301.12" r="0.72" fill="#000"/>
<circle cx="138.97" cy="297.37" r="0.72" fill="#000"/>
<circle cx="138.51" cy="298.9" r="0.72" fill="#000"/>
<circle cx="141.34" cy="294.69" r="0.72" fill="#000"/>
<circle cx="140.58" cy="302.4" r="0.72" fill="#000"/>
<circle cx="140.28" cy="302.66" r="0.72" fill="#000"/>
<circle cx="138.45" cy="300.62" r="0.72" fill="#000"/>
<circle cx="139.69" cy="293.3" r="0.72" fill="#000"/>
<circle cx="140.72" cy="297.21" r="0.72" fill="#000"/>
<circle cx="140.81" cy="300.3" r="0.72" fill="#000"/>
<circle cx="138.32" cy="294.19" r="0.72" fill="#000"/>
<circle cx="141.59" cy="302.02" r="0.72" fill="#000"/>
<circle cx="141.57" cy="293.78" r="0.72" fill="#000"/>
<circle cx="137.8" cy="294.54" r="0.72" fill="#000"/>
<line x1="150.5" y1="300" x2="150.5" y2="300.1" stroke="#111" stroke-width="0.6"/>
<line x1="150.5" y1="303.4" x2="150.5" y2="303.5" stroke="#111" stroke-width="0.6"/>
<rect x="145.2" y="300.1" width="10.6" height="3.3" fill="#FBC0A6" stroke="#555" stroke-width="0.8"/>
<line x1="145.2" y1="302" x2="155.8" y2="302" stroke="#555" stroke-width="0.8"/>
<circle cx="151.4" cy="300.03" r="0.72" fill="#000"/>
<circle cx="149.2" cy="303.2" r="0.72" fill="#000"/>
<circle cx="152.48" cy="303.41" r="0.72" fill="#000"/>
<circle cx="151.13" cy="303.41" r="0.72" fill="#000"/>
<circle cx="151.99" cy="301.79" r="0.72" fill="#000"/>
<circle cx="148.69" cy="300.82" r="0.72" fill="#000"/>
<circle cx="149.07" cy="301.75" r="0.72" fill="#000"/>
<circle cx="149.62" cy="302.4" r="0.72" fill="#000"/>
<circle cx="151.95" cy="301.21" r="0.72" fill="#000"/>
<text x="41.2" y="310.2" font-size="7.3" text-anchor="middle" fill="#9c9c9c" color="#9c9c9c">15</text>
<text x="51.7" y="310.2" font-size="7.3" text-anchor="middle" fill="#9c9c9c" color="#9c9c9c">19</text>
<text x="61.6" y="310.2" font-size="7.3" text-anchor="middle" fill="#9c9c9c" color="#9c9c9c">5</text>
<text x="83.9" y="310.2" font-size="7.3" text-anchor="middle" fill="#9c9c9c" color="#9c9c9c">6</text>
<text x="95.5" y="310.2" font-size="7.3" text-anchor="middle" fill="#9c9c9c" color="#9c9c9c">30</text>
<text x="106" y="310.2" font-size="7.3" text-anchor="middle" fill="#9c9c9c" color="#9c9c9c">8</text>
<text x="128" y="310.2" font-size="7.3" text-anchor="middle" fill="#9c9c9c" color="#9c9c9c">10</text>
<text x="139.3" y="310.2" font-size="7.3" text-anchor="middle" fill="#9c9c9c" color="#9c9c9c">23</text>
<text x="150.3" y="310.2" font-size="7.3" text-anchor="middle" fill="#9c9c9c" color="#9c9c9c">9</text>
<text x="52.2" y="317.1" font-size="7.6" text-anchor="middle" fill="#1a1a1a" color="#1a1a1a">NHS</text>
<text x="95.5" y="317.1" font-size="7.6" text-anchor="middle" fill="#1a1a1a" color="#1a1a1a">2d</text>
<text x="139.3" y="317.1" font-size="7.6" text-anchor="middle" fill="#1a1a1a" color="#1a1a1a">3d</text>
<line x1="86.8" y1="319.5" x2="148.1" y2="319.5" stroke="#777" stroke-width="1.4"/>
<text x="119" y="326.7" font-size="7.6" text-anchor="middle" fill="#1a1a1a" color="#1a1a1a">maTT</text>
<text x="52.3" y="186" font-size="8.8" text-anchor="middle" fill="#000" color="#000">ns</text>
<line x1="84.6" y1="260.5" x2="107" y2="260.5" stroke="#000" stroke-width="1"/>
<text x="95.8" y="261.65" font-size="8.5" text-anchor="middle" fill="#000" color="#000">**</text>
<line x1="98.3" y1="266.5" x2="107" y2="266.5" stroke="#000" stroke-width="1"/>
<text x="102.6" y="268.15" font-size="8.5" text-anchor="middle" fill="#000" color="#000">*</text>
<line x1="138.1" y1="274.5" x2="151.3" y2="274.5" stroke="#000" stroke-width="1"/>
<text x="144.7" y="276.15" font-size="8.5" text-anchor="middle" fill="#000" color="#000">**</text>
<rect x="111.2" y="177.4" width="4.7" height="3.3" fill="#E2FBB8" stroke="#666" stroke-width="0.7"/>
<text x="116.9" y="181.2" font-size="7.6" text-anchor="start" fill="#000" color="#000">GP</text>
<rect x="111.2" y="184.5" width="4.7" height="3.3" fill="#FBE27C" stroke="#666" stroke-width="0.7"/>
<text x="116.9" y="188.2" font-size="7.6" text-anchor="start" fill="#000" color="#000">heterozygous</text>
<rect x="111.2" y="190.7" width="4.7" height="3.1" fill="#FBC0A6" stroke="#666" stroke-width="0.7"/>
<text x="116.9" y="197" font-size="7.6" text-anchor="start" fill="#000" color="#000" font-style="italic">hsfa2−1</text>
<text x="176.4" y="178.7" font-size="12.5" text-anchor="start" fill="#000" color="#000" font-weight="bold">f</text>
<rect x="208" y="168.2" width="4.9" height="5.4" fill="#CAFF70" stroke="#666" stroke-width="0.7"/>
<text x="218.6" y="174.3" font-size="7.6" text-anchor="start" fill="#000" color="#000">GP</text>
<rect x="236.5" y="168.2" width="5.5" height="5.4" fill="#FFF391" stroke="#666" stroke-width="0.7"/>
<text x="246.3" y="174.3" font-size="7.6" text-anchor="start" fill="#000" color="#000">heterozygous</text>
<rect x="298.6" y="168.2" width="5.5" height="5.4" fill="#FF7F50" stroke="#666" stroke-width="0.7"/>
<text x="308.5" y="174.3" font-size="7.6" text-anchor="start" fill="#000" color="#000" font-style="italic">hsfa2−1</text>
<rect x="205.6" y="179.4" width="129.4" height="130.8" fill="none" stroke="#7a7a7a" stroke-width="1.15"/>
<line x1="203.8" y1="304.1" x2="205.6" y2="304.1" stroke="#333" stroke-width="0.8"/>
<text x="203" y="306.6" font-size="7.2" text-anchor="end" fill="#383838" color="#383838">0%</text>
<line x1="203.8" y1="275.73" x2="205.6" y2="275.73" stroke="#333" stroke-width="0.8"/>
<text x="203" y="278.23" font-size="7.2" text-anchor="end" fill="#383838" color="#383838">25%</text>
<line x1="203.8" y1="247.35" x2="205.6" y2="247.35" stroke="#333" stroke-width="0.8"/>
<text x="203" y="249.85" font-size="7.2" text-anchor="end" fill="#383838" color="#383838">50%</text>
<line x1="203.8" y1="218.98" x2="205.6" y2="218.98" stroke="#333" stroke-width="0.8"/>
<text x="203" y="221.48" font-size="7.2" text-anchor="end" fill="#383838" color="#383838">75%</text>
<line x1="203.8" y1="190.6" x2="205.6" y2="190.6" stroke="#333" stroke-width="0.8"/>
<text x="203" y="193.1" font-size="7.2" text-anchor="end" fill="#383838" color="#383838">100%</text>
<text x="183" y="242.2" font-size="9" text-anchor="middle" fill="#000" color="#000" transform="rotate(-90 183 242.2)">Survival rate</text>
<rect x="211.2" y="190.6" width="12.3" height="113.5" fill="#CAFF70" stroke="#1a1a1a" stroke-width="0.8"/>
<circle cx="217.35" cy="190.6" r="1.1" fill="#000"/>
<rect x="223.5" y="196.9" width="12.9" height="107.2" fill="#FFF391" stroke="#1a1a1a" stroke-width="0.8"/>
<circle cx="229.95" cy="196.9" r="1.1" fill="#000"/>
<rect x="236.4" y="190.6" width="12.3" height="113.5" fill="#FF7F50" stroke="#1a1a1a" stroke-width="0.8"/>
<circle cx="242.55" cy="190.6" r="1.1" fill="#000"/>
<rect x="252.4" y="190.6" width="12" height="113.5" fill="#CAFF70" stroke="#1a1a1a" stroke-width="0.8"/>
<circle cx="258.4" cy="190.6" r="1.1" fill="#000"/>
<rect x="264.4" y="198.1" width="12.7" height="106" fill="#FFF391" stroke="#1a1a1a" stroke-width="0.8"/>
<circle cx="270.75" cy="198.1" r="1.1" fill="#000"/>
<rect x="277.1" y="219.3" width="12.5" height="84.8" fill="#FF7F50" stroke="#1a1a1a" stroke-width="0.8"/>
<circle cx="283.35" cy="219.3" r="1.1" fill="#000"/>
<rect x="293.4" y="224.7" width="12.6" height="79.4" fill="#CAFF70" stroke="#1a1a1a" stroke-width="0.8"/>
<circle cx="299.7" cy="224.7" r="1.1" fill="#000"/>
<rect x="306" y="225.2" width="12.7" height="78.9" fill="#FFF391" stroke="#1a1a1a" stroke-width="0.8"/>
<circle cx="312.35" cy="225.2" r="1.1" fill="#000"/>
<rect x="318.7" y="241.4" width="11.9" height="62.7" fill="#FF7F50" stroke="#1a1a1a" stroke-width="0.8"/>
<circle cx="324.65" cy="241.4" r="1.1" fill="#000"/>
<text x="229.5" y="188" font-size="7.4" text-anchor="middle" fill="#000" color="#000">ns</text>
<text x="270.5" y="188" font-size="7.4" text-anchor="middle" fill="#000" color="#000">ns</text>
<text x="311.9" y="212.3" font-size="7.4" text-anchor="middle" fill="#000" color="#000">ns</text>
<text x="229.9" y="317.1" font-size="7.6" text-anchor="middle" fill="#1a1a1a" color="#1a1a1a">NHS</text>
<text x="272.5" y="317.1" font-size="7.6" text-anchor="middle" fill="#1a1a1a" color="#1a1a1a">2d</text>
<text x="313.1" y="317.1" font-size="7.6" text-anchor="middle" fill="#1a1a1a" color="#1a1a1a">3d</text>
<line x1="264.4" y1="319.5" x2="321.4" y2="319.5" stroke="#777" stroke-width="1.4"/>
<text x="306.5" y="326.2" font-size="7.6" text-anchor="middle" fill="#1a1a1a" color="#1a1a1a">maTT</text>
<text x="351.5" y="174.7" font-size="12.5" text-anchor="start" fill="#000" color="#000" font-weight="bold">g</text>
<rect x="371.1" y="173.5" width="139.5" height="139.6" fill="none" stroke="#7a7a7a" stroke-width="1.15"/>
<line x1="369.3" y1="306.9" x2="371.1" y2="306.9" stroke="#333" stroke-width="0.8"/>
<text x="369.1" y="309.4" font-size="7.2" text-anchor="end" fill="#383838" color="#383838">0.0</text>
<line x1="369.3" y1="264.56" x2="371.1" y2="264.56" stroke="#333" stroke-width="0.8"/>
<text x="369.1" y="267.06" font-size="7.2" text-anchor="end" fill="#383838" color="#383838">0.2</text>
<line x1="369.3" y1="222.22" x2="371.1" y2="222.22" stroke="#333" stroke-width="0.8"/>
<text x="369.1" y="224.72" font-size="7.2" text-anchor="end" fill="#383838" color="#383838">0.4</text>
<line x1="369.3" y1="179.88" x2="371.1" y2="179.88" stroke="#333" stroke-width="0.8"/>
<text x="369.1" y="182.38" font-size="7.2" text-anchor="end" fill="#383838" color="#383838">0.6</text>
<text x="356.6" y="246.7" font-size="9" text-anchor="middle" fill="#000" color="#000" transform="rotate(-90 356.6 246.7)">Dry weight (g)</text>
<line x1="380.65" y1="200" x2="380.65" y2="218" stroke="#111" stroke-width="0.6"/>
<line x1="380.65" y1="238.4" x2="380.65" y2="260" stroke="#111" stroke-width="0.6"/>
<rect x="377.3" y="218" width="6.7" height="20.4" fill="#E2FBB8" stroke="#555" stroke-width="0.8"/>
<line x1="377.3" y1="225.2" x2="384" y2="225.2" stroke="#555" stroke-width="0.8"/>
<circle cx="380.02" cy="229.79" r="0.72" fill="#000"/>
<circle cx="380.2" cy="246.43" r="0.72" fill="#000"/>
<circle cx="381.61" cy="254.36" r="0.72" fill="#000"/>
<circle cx="380.36" cy="206.55" r="0.72" fill="#000"/>
<circle cx="379.33" cy="234.18" r="0.72" fill="#000"/>
<circle cx="380.13" cy="240.5" r="0.72" fill="#000"/>
<circle cx="380.68" cy="214.22" r="0.72" fill="#000"/>
<circle cx="380.92" cy="213.1" r="0.72" fill="#000"/>
<circle cx="379.36" cy="224.16" r="0.72" fill="#000"/>
<circle cx="379.96" cy="208.64" r="0.72" fill="#000"/>
<circle cx="379.65" cy="237.2" r="0.72" fill="#000"/>
<circle cx="379.86" cy="257.32" r="0.72" fill="#000"/>
<circle cx="381.04" cy="240.99" r="0.72" fill="#000"/>
<circle cx="380.63" cy="224.5" r="0.72" fill="#000"/>
<circle cx="381.04" cy="234.84" r="0.72" fill="#000"/>
<circle cx="379.55" cy="229.39" r="0.72" fill="#000"/>
<circle cx="380.15" cy="225.95" r="0.72" fill="#000"/>
<circle cx="381.4" cy="217.82" r="0.72" fill="#000"/>
<circle cx="379.76" cy="216.21" r="0.72" fill="#000"/>
<circle cx="381.83" cy="217.69" r="0.72" fill="#000"/>
<circle cx="380.34" cy="213.15" r="0.72" fill="#000"/>
<circle cx="379.67" cy="238.18" r="0.72" fill="#000"/>
<circle cx="380.8" cy="241.5" r="0.72" fill="#000"/>
<circle cx="380.6" cy="202.84" r="0.72" fill="#000"/>
<circle cx="381.83" cy="237.22" r="0.72" fill="#000"/>
<circle cx="381.27" cy="215.38" r="0.72" fill="#000"/>
<circle cx="380.31" cy="219.39" r="0.72" fill="#000"/>
<circle cx="381.11" cy="228.05" r="0.72" fill="#000"/>
<circle cx="379.32" cy="248.64" r="0.72" fill="#000"/>
<circle cx="381.69" cy="230.81" r="0.72" fill="#000"/>
<circle cx="380.59" cy="232.76" r="0.72" fill="#000"/>
<circle cx="380.09" cy="235.72" r="0.72" fill="#000"/>
<circle cx="381.05" cy="229.26" r="0.72" fill="#000"/>
<circle cx="380.03" cy="228.6" r="0.72" fill="#000"/>
<circle cx="381.58" cy="238.93" r="0.72" fill="#000"/>
<circle cx="380.16" cy="222.18" r="0.72" fill="#000"/>
<circle cx="379.62" cy="212.21" r="0.72" fill="#000"/>
<circle cx="380.74" cy="219.46" r="0.72" fill="#000"/>
<circle cx="381.56" cy="204.6" r="0.72" fill="#000"/>
<circle cx="379.96" cy="216.17" r="0.72" fill="#000"/>
<circle cx="381.73" cy="229.62" r="0.72" fill="#000"/>
<circle cx="380.82" cy="226.17" r="0.72" fill="#000"/>
<circle cx="380.29" cy="221.67" r="0.72" fill="#000"/>
<circle cx="381.1" cy="246.01" r="0.72" fill="#000"/>
<circle cx="380.82" cy="229.98" r="0.72" fill="#000"/>
<line x1="387.9" y1="190" x2="387.9" y2="221" stroke="#111" stroke-width="0.6"/>
<line x1="387.9" y1="242.9" x2="387.9" y2="256" stroke="#111" stroke-width="0.6"/>
<rect x="384.8" y="221" width="6.2" height="21.9" fill="#FBC0A6" stroke="#555" stroke-width="0.8"/>
<line x1="384.8" y1="232" x2="391" y2="232" stroke="#555" stroke-width="0.8"/>
<circle cx="388.67" cy="233.19" r="0.72" fill="#000"/>
<circle cx="388.38" cy="228.03" r="0.72" fill="#000"/>
<circle cx="387.67" cy="228.87" r="0.72" fill="#000"/>
<circle cx="388.23" cy="224.67" r="0.72" fill="#000"/>
<circle cx="388.23" cy="250.97" r="0.72" fill="#000"/>
<circle cx="387.02" cy="230.49" r="0.72" fill="#000"/>
<circle cx="387.38" cy="204.95" r="0.72" fill="#000"/>
<circle cx="389.09" cy="246.13" r="0.72" fill="#000"/>
<circle cx="388.22" cy="216.32" r="0.72" fill="#000"/>
<circle cx="387.3" cy="236.61" r="0.72" fill="#000"/>
<circle cx="386.8" cy="223.86" r="0.72" fill="#000"/>
<circle cx="387.62" cy="221.31" r="0.72" fill="#000"/>
<circle cx="387.71" cy="255.97" r="0.72" fill="#000"/>
<circle cx="386.82" cy="228.58" r="0.72" fill="#000"/>
<circle cx="388.19" cy="234.61" r="0.72" fill="#000"/>
<circle cx="387.71" cy="231.68" r="0.72" fill="#000"/>
<circle cx="387.64" cy="223.96" r="0.72" fill="#000"/>
<circle cx="388.27" cy="236.03" r="0.72" fill="#000"/>
<circle cx="389.03" cy="208.09" r="0.72" fill="#000"/>
<circle cx="387.59" cy="225.46" r="0.72" fill="#000"/>
<circle cx="388.55" cy="244.09" r="0.72" fill="#000"/>
<circle cx="387.81" cy="253.54" r="0.72" fill="#000"/>
<circle cx="388.42" cy="240.09" r="0.72" fill="#000"/>
<circle cx="388.17" cy="244.29" r="0.72" fill="#000"/>
<circle cx="387.17" cy="203.11" r="0.72" fill="#000"/>
<circle cx="387.68" cy="249.18" r="0.72" fill="#000"/>
<circle cx="387.27" cy="226.63" r="0.72" fill="#000"/>
<circle cx="387.02" cy="229.8" r="0.72" fill="#000"/>
<circle cx="388.13" cy="255.25" r="0.72" fill="#000"/>
<circle cx="387.05" cy="234.11" r="0.72" fill="#000"/>
<circle cx="387.89" cy="223.8" r="0.72" fill="#000"/>
<circle cx="387.24" cy="227.13" r="0.72" fill="#000"/>
<circle cx="388.1" cy="241.38" r="0.72" fill="#000"/>
<circle cx="387.98" cy="251.53" r="0.72" fill="#000"/>
<circle cx="386.99" cy="222.27" r="0.72" fill="#000"/>
<circle cx="388.97" cy="206.22" r="0.72" fill="#000"/>
<circle cx="388.25" cy="223.88" r="0.72" fill="#000"/>
<circle cx="388.11" cy="188" r="0.72" fill="#000"/>
<circle cx="387.01" cy="186" r="0.72" fill="#000"/>
<circle cx="387.59" cy="182" r="0.72" fill="#000"/>
<line x1="394.75" y1="198" x2="394.75" y2="224.2" stroke="#111" stroke-width="0.6"/>
<line x1="394.75" y1="242.7" x2="394.75" y2="256" stroke="#111" stroke-width="0.6"/>
<rect x="391.5" y="224.2" width="6.5" height="18.5" fill="#C49088" stroke="#555" stroke-width="0.8"/>
<line x1="391.5" y1="235" x2="398" y2="235" stroke="#555" stroke-width="0.8"/>
<circle cx="395.97" cy="244.06" r="0.72" fill="#000"/>
<circle cx="395.78" cy="232.8" r="0.72" fill="#000"/>
<circle cx="393.87" cy="233.6" r="0.72" fill="#000"/>
<circle cx="393.9" cy="255.75" r="0.72" fill="#000"/>
<circle cx="394.8" cy="232.94" r="0.72" fill="#000"/>
<circle cx="394.98" cy="246.01" r="0.72" fill="#000"/>
<circle cx="393.65" cy="228.13" r="0.72" fill="#000"/>
<circle cx="395.05" cy="216.56" r="0.72" fill="#000"/>
<circle cx="394.34" cy="245.56" r="0.72" fill="#000"/>
<circle cx="394.25" cy="241.7" r="0.72" fill="#000"/>
<circle cx="395.24" cy="232.09" r="0.72" fill="#000"/>
<circle cx="395.35" cy="227.4" r="0.72" fill="#000"/>
<circle cx="393.49" cy="216.88" r="0.72" fill="#000"/>
<circle cx="394.4" cy="226.08" r="0.72" fill="#000"/>
<circle cx="395.65" cy="255.81" r="0.72" fill="#000"/>
<circle cx="395.78" cy="234.67" r="0.72" fill="#000"/>
<circle cx="395.31" cy="231.58" r="0.72" fill="#000"/>
<circle cx="394.39" cy="232.97" r="0.72" fill="#000"/>
<circle cx="393.7" cy="248.36" r="0.72" fill="#000"/>
<circle cx="393.75" cy="236.09" r="0.72" fill="#000"/>
<circle cx="394.83" cy="208.63" r="0.72" fill="#000"/>
<circle cx="393.8" cy="236.31" r="0.72" fill="#000"/>
<circle cx="394.13" cy="236.35" r="0.72" fill="#000"/>
<circle cx="395.97" cy="255.85" r="0.72" fill="#000"/>
<circle cx="394.93" cy="255" r="0.72" fill="#000"/>
<circle cx="393.62" cy="246.82" r="0.72" fill="#000"/>
<circle cx="394.12" cy="254.62" r="0.72" fill="#000"/>
<circle cx="395.3" cy="228.54" r="0.72" fill="#000"/>
<circle cx="393.55" cy="239.25" r="0.72" fill="#000"/>
<circle cx="394.71" cy="238.67" r="0.72" fill="#000"/>
<circle cx="395.22" cy="224.75" r="0.72" fill="#000"/>
<circle cx="395.02" cy="229.41" r="0.72" fill="#000"/>
<circle cx="395.52" cy="224.88" r="0.72" fill="#000"/>
<circle cx="393.71" cy="217.52" r="0.72" fill="#000"/>
<circle cx="394.78" cy="242.04" r="0.72" fill="#000"/>
<circle cx="394.35" cy="241.53" r="0.72" fill="#000"/>
<line x1="406.6" y1="302.5" x2="406.6" y2="303" stroke="#111" stroke-width="0.6"/>
<line x1="406.6" y1="304.2" x2="406.6" y2="305" stroke="#111" stroke-width="0.6"/>
<rect x="403.5" y="303" width="6.2" height="1.2" fill="#E2FBB8" stroke="#555" stroke-width="0.8"/>
<line x1="403.5" y1="303.6" x2="409.7" y2="303.6" stroke="#555" stroke-width="0.8"/>
<circle cx="407.62" cy="303.35" r="0.72" fill="#000"/>
<circle cx="407.22" cy="303.1" r="0.72" fill="#000"/>
<circle cx="405.54" cy="303.24" r="0.72" fill="#000"/>
<circle cx="406.88" cy="302.95" r="0.72" fill="#000"/>
<circle cx="407.52" cy="304.01" r="0.72" fill="#000"/>
<circle cx="407.03" cy="303.33" r="0.72" fill="#000"/>
<circle cx="407.53" cy="304.91" r="0.72" fill="#000"/>
<circle cx="406.88" cy="302.71" r="0.72" fill="#000"/>
<circle cx="406.57" cy="303.77" r="0.72" fill="#000"/>
<circle cx="405.45" cy="304.08" r="0.72" fill="#000"/>
<circle cx="407.76" cy="303.4" r="0.72" fill="#000"/>
<circle cx="407.7" cy="303.69" r="0.72" fill="#000"/>
<circle cx="406.34" cy="302.98" r="0.72" fill="#000"/>
<circle cx="406.27" cy="303.44" r="0.72" fill="#000"/>
<circle cx="407.8" cy="303.09" r="0.72" fill="#000"/>
<circle cx="406.68" cy="302.9" r="0.72" fill="#000"/>
<circle cx="407.76" cy="303.27" r="0.72" fill="#000"/>
<circle cx="407.2" cy="304.49" r="0.72" fill="#000"/>
<circle cx="406.27" cy="304.21" r="0.72" fill="#000"/>
<circle cx="406.7" cy="303.41" r="0.72" fill="#000"/>
<circle cx="407.52" cy="303.15" r="0.72" fill="#000"/>
<circle cx="405.68" cy="303.96" r="0.72" fill="#000"/>
<circle cx="405.45" cy="303.59" r="0.72" fill="#000"/>
<circle cx="406.34" cy="303.21" r="0.72" fill="#000"/>
<circle cx="406.62" cy="303.93" r="0.72" fill="#000"/>
<circle cx="406.54" cy="303.71" r="0.72" fill="#000"/>
<circle cx="406.8" cy="303.93" r="0.72" fill="#000"/>
<circle cx="406.35" cy="303.65" r="0.72" fill="#000"/>
<circle cx="406.9" cy="304.17" r="0.72" fill="#000"/>
<circle cx="406.44" cy="304.51" r="0.72" fill="#000"/>
<circle cx="406.56" cy="303.8" r="0.72" fill="#000"/>
<circle cx="406.82" cy="304.01" r="0.72" fill="#000"/>
<circle cx="406.4" cy="304.18" r="0.72" fill="#000"/>
<circle cx="405.49" cy="304.45" r="0.72" fill="#000"/>
<circle cx="407.3" cy="302.79" r="0.72" fill="#000"/>
<circle cx="406.38" cy="303.44" r="0.72" fill="#000"/>
<circle cx="407.35" cy="303.88" r="0.72" fill="#000"/>
<circle cx="405.39" cy="303.17" r="0.72" fill="#000"/>
<circle cx="407.47" cy="302.71" r="0.72" fill="#000"/>
<line x1="412.8" y1="302.5" x2="412.8" y2="303" stroke="#111" stroke-width="0.6"/>
<line x1="412.8" y1="304.2" x2="412.8" y2="305" stroke="#111" stroke-width="0.6"/>
<rect x="409.7" y="303" width="6.2" height="1.2" fill="#FBC0A6" stroke="#555" stroke-width="0.8"/>
<line x1="409.7" y1="303.6" x2="415.9" y2="303.6" stroke="#555" stroke-width="0.8"/>
<circle cx="412.56" cy="303.76" r="0.72" fill="#000"/>
<circle cx="414.01" cy="304.2" r="0.72" fill="#000"/>
<circle cx="413.55" cy="302.94" r="0.72" fill="#000"/>
<circle cx="413.18" cy="303.98" r="0.72" fill="#000"/>
<circle cx="412.65" cy="304.03" r="0.72" fill="#000"/>
<circle cx="413.25" cy="302.61" r="0.72" fill="#000"/>
<circle cx="411.82" cy="303.08" r="0.72" fill="#000"/>
<circle cx="412.1" cy="303.71" r="0.72" fill="#000"/>
<circle cx="413.47" cy="303.98" r="0.72" fill="#000"/>
<circle cx="413.4" cy="303.26" r="0.72" fill="#000"/>
<circle cx="412.32" cy="302.77" r="0.72" fill="#000"/>
<circle cx="412" cy="303.58" r="0.72" fill="#000"/>
<circle cx="412.09" cy="303.56" r="0.72" fill="#000"/>
<circle cx="413.23" cy="303.34" r="0.72" fill="#000"/>
<circle cx="413.56" cy="304.21" r="0.72" fill="#000"/>
<circle cx="413.76" cy="304.03" r="0.72" fill="#000"/>
<circle cx="412.97" cy="303.77" r="0.72" fill="#000"/>
<circle cx="413.19" cy="304.15" r="0.72" fill="#000"/>
<circle cx="412.2" cy="304.27" r="0.72" fill="#000"/>
<circle cx="412.48" cy="304.37" r="0.72" fill="#000"/>
<circle cx="412.3" cy="303.99" r="0.72" fill="#000"/>
<circle cx="413.84" cy="303.13" r="0.72" fill="#000"/>
<circle cx="412.39" cy="303.2" r="0.72" fill="#000"/>
<circle cx="413.97" cy="302.95" r="0.72" fill="#000"/>
<circle cx="412.35" cy="303.81" r="0.72" fill="#000"/>
<circle cx="413.41" cy="302.57" r="0.72" fill="#000"/>
<circle cx="413.65" cy="302.89" r="0.72" fill="#000"/>
<circle cx="413.37" cy="304.98" r="0.72" fill="#000"/>
<circle cx="413.11" cy="303.39" r="0.72" fill="#000"/>
<circle cx="412.52" cy="303.47" r="0.72" fill="#000"/>
<circle cx="413.24" cy="303.5" r="0.72" fill="#000"/>
<circle cx="413.08" cy="304.67" r="0.72" fill="#000"/>
<circle cx="413.46" cy="304.18" r="0.72" fill="#000"/>
<circle cx="412.96" cy="302.82" r="0.72" fill="#000"/>
<circle cx="411.62" cy="303.36" r="0.72" fill="#000"/>
<circle cx="413.17" cy="304.41" r="0.72" fill="#000"/>
<circle cx="413.99" cy="304.5" r="0.72" fill="#000"/>
<circle cx="411.67" cy="304.52" r="0.72" fill="#000"/>
<circle cx="411.62" cy="304.54" r="0.72" fill="#000"/>
<circle cx="413.98" cy="302.87" r="0.72" fill="#000"/>
<circle cx="411.84" cy="302.79" r="0.72" fill="#000"/>
<circle cx="413.63" cy="303.88" r="0.72" fill="#000"/>
<line x1="420.65" y1="267" x2="420.65" y2="287" stroke="#111" stroke-width="0.6"/>
<line x1="420.65" y1="303.9" x2="420.65" y2="306" stroke="#111" stroke-width="0.6"/>
<rect x="417.2" y="287" width="6.9" height="16.9" fill="#C49088" stroke="#555" stroke-width="0.8"/>
<line x1="417.2" y1="296" x2="424.1" y2="296" stroke="#555" stroke-width="0.8"/>
<circle cx="421.6" cy="291.86" r="0.72" fill="#000"/>
<circle cx="420.79" cy="295.94" r="0.72" fill="#000"/>
<circle cx="421.75" cy="297.81" r="0.72" fill="#000"/>
<circle cx="420" cy="296.48" r="0.72" fill="#000"/>
<circle cx="419.4" cy="282.06" r="0.72" fill="#000"/>
<circle cx="421.64" cy="295.93" r="0.72" fill="#000"/>
<circle cx="419.65" cy="305.53" r="0.72" fill="#000"/>
<circle cx="420.28" cy="296.75" r="0.72" fill="#000"/>
<circle cx="421.02" cy="302.58" r="0.72" fill="#000"/>
<circle cx="421.2" cy="295.05" r="0.72" fill="#000"/>
<circle cx="420.19" cy="305.42" r="0.72" fill="#000"/>
<circle cx="420.02" cy="305.38" r="0.72" fill="#000"/>
<circle cx="419.99" cy="294.27" r="0.72" fill="#000"/>
<circle cx="421.53" cy="303.9" r="0.72" fill="#000"/>
<circle cx="420.46" cy="300.72" r="0.72" fill="#000"/>
<circle cx="420.43" cy="303.65" r="0.72" fill="#000"/>
<circle cx="419.93" cy="304.38" r="0.72" fill="#000"/>
<circle cx="420.86" cy="274.49" r="0.72" fill="#000"/>
<circle cx="419.29" cy="282.32" r="0.72" fill="#000"/>
<circle cx="420.52" cy="276.08" r="0.72" fill="#000"/>
<circle cx="419.63" cy="305.64" r="0.72" fill="#000"/>
<circle cx="420.46" cy="299.73" r="0.72" fill="#000"/>
<circle cx="422" cy="282.4" r="0.72" fill="#000"/>
<circle cx="421.76" cy="305.99" r="0.72" fill="#000"/>
<circle cx="419.72" cy="278.66" r="0.72" fill="#000"/>
<circle cx="420.61" cy="304.74" r="0.72" fill="#000"/>
<circle cx="420.66" cy="292.58" r="0.72" fill="#000"/>
<circle cx="419.68" cy="276.9" r="0.72" fill="#000"/>
<circle cx="420.82" cy="286.32" r="0.72" fill="#000"/>
<circle cx="421.47" cy="304.13" r="0.72" fill="#000"/>
<circle cx="419.75" cy="269.52" r="0.72" fill="#000"/>
<circle cx="419.63" cy="284.74" r="0.72" fill="#000"/>
<circle cx="419.93" cy="285.62" r="0.72" fill="#000"/>
<circle cx="419.65" cy="304.09" r="0.72" fill="#000"/>
<circle cx="421.2" cy="305.69" r="0.72" fill="#000"/>
<circle cx="420.83" cy="282.53" r="0.72" fill="#000"/>
<circle cx="420.58" cy="286.13" r="0.72" fill="#000"/>
<circle cx="420.72" cy="290.7" r="0.72" fill="#000"/>
<circle cx="420" cy="304.51" r="0.72" fill="#000"/>
<circle cx="419.29" cy="299.17" r="0.72" fill="#000"/>
<circle cx="421.27" cy="289.74" r="0.72" fill="#000"/>
<circle cx="419.53" cy="282.96" r="0.72" fill="#000"/>
<circle cx="421.78" cy="291.65" r="0.72" fill="#000"/>
<circle cx="420.86" cy="305.42" r="0.72" fill="#000"/>
<circle cx="420.79" cy="296.95" r="0.72" fill="#000"/>
<circle cx="419.43" cy="290.47" r="0.72" fill="#000"/>
<circle cx="421.28" cy="289.69" r="0.72" fill="#000"/>
<circle cx="421.71" cy="304.09" r="0.72" fill="#000"/>
<line x1="434.3" y1="245" x2="434.3" y2="260.8" stroke="#111" stroke-width="0.6"/>
<line x1="434.3" y1="272" x2="434.3" y2="287" stroke="#111" stroke-width="0.6"/>
<rect x="430.8" y="260.8" width="7" height="11.2" fill="#E2FBB8" stroke="#555" stroke-width="0.8"/>
<line x1="430.8" y1="266" x2="437.8" y2="266" stroke="#555" stroke-width="0.8"/>
<circle cx="433.59" cy="265.67" r="0.72" fill="#000"/>
<circle cx="435.31" cy="263.67" r="0.72" fill="#000"/>
<circle cx="435.49" cy="258.23" r="0.72" fill="#000"/>
<circle cx="433.26" cy="266.05" r="0.72" fill="#000"/>
<circle cx="433.92" cy="272.47" r="0.72" fill="#000"/>
<circle cx="434.18" cy="268.96" r="0.72" fill="#000"/>
<circle cx="435.26" cy="255.77" r="0.72" fill="#000"/>
<circle cx="435.37" cy="276.12" r="0.72" fill="#000"/>
<circle cx="435.64" cy="257.73" r="0.72" fill="#000"/>
<circle cx="434.25" cy="264.37" r="0.72" fill="#000"/>
<circle cx="433.46" cy="264.06" r="0.72" fill="#000"/>
<circle cx="435.35" cy="286.42" r="0.72" fill="#000"/>
<circle cx="433.77" cy="276.65" r="0.72" fill="#000"/>
<circle cx="433.23" cy="260.99" r="0.72" fill="#000"/>
<circle cx="434.73" cy="265.45" r="0.72" fill="#000"/>
<circle cx="435.28" cy="248.96" r="0.72" fill="#000"/>
<circle cx="433.94" cy="266.16" r="0.72" fill="#000"/>
<circle cx="435.61" cy="271.1" r="0.72" fill="#000"/>
<circle cx="435.17" cy="271.08" r="0.72" fill="#000"/>
<circle cx="435.41" cy="274.9" r="0.72" fill="#000"/>
<circle cx="433" cy="254.89" r="0.72" fill="#000"/>
<circle cx="433.71" cy="250.54" r="0.72" fill="#000"/>
<circle cx="435.18" cy="275.74" r="0.72" fill="#000"/>
<circle cx="434.01" cy="262.08" r="0.72" fill="#000"/>
<circle cx="434.79" cy="262.52" r="0.72" fill="#000"/>
<circle cx="434.94" cy="250.7" r="0.72" fill="#000"/>
<circle cx="433.18" cy="248.97" r="0.72" fill="#000"/>
<circle cx="435.21" cy="259.95" r="0.72" fill="#000"/>
<circle cx="434.98" cy="248.11" r="0.72" fill="#000"/>
<circle cx="433.15" cy="269.53" r="0.72" fill="#000"/>
<circle cx="433.5" cy="277.79" r="0.72" fill="#000"/>
<circle cx="434.87" cy="263.76" r="0.72" fill="#000"/>
<circle cx="435.01" cy="261.68" r="0.72" fill="#000"/>
<circle cx="433.49" cy="262.69" r="0.72" fill="#000"/>
<circle cx="433.1" cy="263.54" r="0.72" fill="#000"/>
<circle cx="434" cy="262.15" r="0.72" fill="#000"/>
<circle cx="434.44" cy="283.89" r="0.72" fill="#000"/>
<circle cx="433.65" cy="271.21" r="0.72" fill="#000"/>
<circle cx="434.07" cy="256.17" r="0.72" fill="#000"/>
<circle cx="433.2" cy="270.86" r="0.72" fill="#000"/>
<circle cx="433.69" cy="268.53" r="0.72" fill="#000"/>
<circle cx="434.93" cy="261.72" r="0.72" fill="#000"/>
<circle cx="435.26" cy="253.6" r="0.72" fill="#000"/>
<circle cx="434.63" cy="300" r="0.72" fill="#000"/>
<line x1="441.4" y1="236" x2="441.4" y2="257.1" stroke="#111" stroke-width="0.6"/>
<line x1="441.4" y1="269" x2="441.4" y2="282" stroke="#111" stroke-width="0.6"/>
<rect x="438.3" y="257.1" width="6.2" height="11.9" fill="#FBC0A6" stroke="#555" stroke-width="0.8"/>
<line x1="438.3" y1="262" x2="444.5" y2="262" stroke="#555" stroke-width="0.8"/>
<circle cx="442.57" cy="266.22" r="0.72" fill="#000"/>
<circle cx="441.23" cy="268.34" r="0.72" fill="#000"/>
<circle cx="440.67" cy="256.06" r="0.72" fill="#000"/>
<circle cx="440.25" cy="259.2" r="0.72" fill="#000"/>
<circle cx="440.4" cy="258.56" r="0.72" fill="#000"/>
<circle cx="442.35" cy="261.87" r="0.72" fill="#000"/>
<circle cx="442.41" cy="264.83" r="0.72" fill="#000"/>
<circle cx="440.54" cy="243.04" r="0.72" fill="#000"/>
<circle cx="442.56" cy="257.18" r="0.72" fill="#000"/>
<circle cx="441.77" cy="278.86" r="0.72" fill="#000"/>
<circle cx="440.26" cy="272.81" r="0.72" fill="#000"/>
<circle cx="442.16" cy="262.28" r="0.72" fill="#000"/>
<circle cx="441.03" cy="267.29" r="0.72" fill="#000"/>
<circle cx="442.32" cy="264.3" r="0.72" fill="#000"/>
<circle cx="441.25" cy="253.55" r="0.72" fill="#000"/>
<circle cx="442.32" cy="257.39" r="0.72" fill="#000"/>
<circle cx="440.63" cy="242.31" r="0.72" fill="#000"/>
<circle cx="442.52" cy="252.92" r="0.72" fill="#000"/>
<circle cx="441.89" cy="263.61" r="0.72" fill="#000"/>
<circle cx="441.11" cy="268.54" r="0.72" fill="#000"/>
<circle cx="442.24" cy="279.93" r="0.72" fill="#000"/>
<circle cx="441.37" cy="262.51" r="0.72" fill="#000"/>
<circle cx="440.91" cy="262.83" r="0.72" fill="#000"/>
<circle cx="441.85" cy="253.26" r="0.72" fill="#000"/>
<circle cx="441.05" cy="278.63" r="0.72" fill="#000"/>
<circle cx="440.34" cy="254.05" r="0.72" fill="#000"/>
<circle cx="440.51" cy="249.26" r="0.72" fill="#000"/>
<circle cx="441.81" cy="266.26" r="0.72" fill="#000"/>
<circle cx="441.65" cy="255.84" r="0.72" fill="#000"/>
<circle cx="441.43" cy="264.77" r="0.72" fill="#000"/>
<circle cx="442.04" cy="276.02" r="0.72" fill="#000"/>
<circle cx="440.72" cy="265.31" r="0.72" fill="#000"/>
<circle cx="442.18" cy="266.11" r="0.72" fill="#000"/>
<circle cx="442.52" cy="272.28" r="0.72" fill="#000"/>
<circle cx="442.2" cy="252.83" r="0.72" fill="#000"/>
<circle cx="441.7" cy="269.36" r="0.72" fill="#000"/>
<circle cx="441.04" cy="252.37" r="0.72" fill="#000"/>
<circle cx="442.22" cy="270.59" r="0.72" fill="#000"/>
<circle cx="440.4" cy="258.29" r="0.72" fill="#000"/>
<circle cx="440.88" cy="269.15" r="0.72" fill="#000"/>
<circle cx="442.49" cy="246.42" r="0.72" fill="#000"/>
<circle cx="441.88" cy="273.62" r="0.72" fill="#000"/>
<circle cx="442.48" cy="276.94" r="0.72" fill="#000"/>
<circle cx="440.75" cy="263.88" r="0.72" fill="#000"/>
<circle cx="440.95" cy="265.88" r="0.72" fill="#000"/>
<line x1="448.25" y1="248" x2="448.25" y2="260.8" stroke="#111" stroke-width="0.6"/>
<line x1="448.25" y1="275.8" x2="448.25" y2="285" stroke="#111" stroke-width="0.6"/>
<rect x="445.3" y="260.8" width="5.9" height="15" fill="#C49088" stroke="#555" stroke-width="0.8"/>
<line x1="445.3" y1="268" x2="451.2" y2="268" stroke="#555" stroke-width="0.8"/>
<circle cx="448.83" cy="260.34" r="0.72" fill="#000"/>
<circle cx="448.44" cy="276.33" r="0.72" fill="#000"/>
<circle cx="449.1" cy="264.78" r="0.72" fill="#000"/>
<circle cx="447.92" cy="275.41" r="0.72" fill="#000"/>
<circle cx="448.91" cy="258.98" r="0.72" fill="#000"/>
<circle cx="447.32" cy="271.8" r="0.72" fill="#000"/>
<circle cx="448.5" cy="262.2" r="0.72" fill="#000"/>
<circle cx="448.32" cy="263.68" r="0.72" fill="#000"/>
<circle cx="448.31" cy="268.84" r="0.72" fill="#000"/>
<circle cx="449.36" cy="260" r="0.72" fill="#000"/>
<circle cx="448.47" cy="257.66" r="0.72" fill="#000"/>
<circle cx="447.36" cy="272.55" r="0.72" fill="#000"/>
<circle cx="448.84" cy="279.32" r="0.72" fill="#000"/>
<circle cx="448.07" cy="250.81" r="0.72" fill="#000"/>
<circle cx="448.82" cy="262.64" r="0.72" fill="#000"/>
<circle cx="447.17" cy="270.71" r="0.72" fill="#000"/>
<circle cx="449.04" cy="278.69" r="0.72" fill="#000"/>
<circle cx="448.84" cy="276.21" r="0.72" fill="#000"/>
<circle cx="448.91" cy="259.23" r="0.72" fill="#000"/>
<circle cx="449.36" cy="269.66" r="0.72" fill="#000"/>
<circle cx="448.15" cy="266.43" r="0.72" fill="#000"/>
<circle cx="447.97" cy="258.85" r="0.72" fill="#000"/>
<circle cx="447.14" cy="259.59" r="0.72" fill="#000"/>
<circle cx="449.09" cy="251.22" r="0.72" fill="#000"/>
<circle cx="448.97" cy="253.58" r="0.72" fill="#000"/>
<circle cx="449.13" cy="266.04" r="0.72" fill="#000"/>
<circle cx="447.23" cy="259.06" r="0.72" fill="#000"/>
<circle cx="449.33" cy="272.71" r="0.72" fill="#000"/>
<circle cx="448.45" cy="265.15" r="0.72" fill="#000"/>
<circle cx="448.84" cy="268.86" r="0.72" fill="#000"/>
<circle cx="447.67" cy="276.29" r="0.72" fill="#000"/>
<circle cx="448.83" cy="261.9" r="0.72" fill="#000"/>
<circle cx="447.85" cy="272.86" r="0.72" fill="#000"/>
<circle cx="448.06" cy="257.53" r="0.72" fill="#000"/>
<circle cx="449.25" cy="273.36" r="0.72" fill="#000"/>
<circle cx="449.34" cy="271.11" r="0.72" fill="#000"/>
<circle cx="447.11" cy="272.12" r="0.72" fill="#000"/>
<line x1="461.05" y1="258" x2="461.05" y2="273.3" stroke="#111" stroke-width="0.6"/>
<line x1="461.05" y1="282" x2="461.05" y2="293" stroke="#111" stroke-width="0.6"/>
<rect x="457.7" y="273.3" width="6.7" height="8.7" fill="#E2FBB8" stroke="#555" stroke-width="0.8"/>
<line x1="457.7" y1="277" x2="464.4" y2="277" stroke="#555" stroke-width="0.8"/>
<circle cx="460.16" cy="261.75" r="0.72" fill="#000"/>
<circle cx="462.16" cy="265.84" r="0.72" fill="#000"/>
<circle cx="460.82" cy="291.11" r="0.72" fill="#000"/>
<circle cx="461.94" cy="287.26" r="0.72" fill="#000"/>
<circle cx="460.89" cy="278.07" r="0.72" fill="#000"/>
<circle cx="460.82" cy="276.71" r="0.72" fill="#000"/>
<circle cx="460.54" cy="274.54" r="0.72" fill="#000"/>
<circle cx="461.73" cy="269.93" r="0.72" fill="#000"/>
<circle cx="459.99" cy="271.55" r="0.72" fill="#000"/>
<circle cx="459.89" cy="278.71" r="0.72" fill="#000"/>
<circle cx="460.71" cy="289.22" r="0.72" fill="#000"/>
<circle cx="459.79" cy="274.12" r="0.72" fill="#000"/>
<circle cx="460.11" cy="275.43" r="0.72" fill="#000"/>
<circle cx="461.59" cy="280.29" r="0.72" fill="#000"/>
<circle cx="461.1" cy="272.66" r="0.72" fill="#000"/>
<circle cx="460.04" cy="274.04" r="0.72" fill="#000"/>
<circle cx="462.2" cy="278.96" r="0.72" fill="#000"/>
<circle cx="461.44" cy="277.55" r="0.72" fill="#000"/>
<circle cx="460.21" cy="275.71" r="0.72" fill="#000"/>
<circle cx="460.29" cy="291.39" r="0.72" fill="#000"/>
<circle cx="460.84" cy="277.52" r="0.72" fill="#000"/>
<circle cx="460.66" cy="260.96" r="0.72" fill="#000"/>
<circle cx="459.86" cy="287.31" r="0.72" fill="#000"/>
<circle cx="460.05" cy="289.15" r="0.72" fill="#000"/>
<circle cx="460.27" cy="268.01" r="0.72" fill="#000"/>
<circle cx="462.28" cy="290.61" r="0.72" fill="#000"/>
<circle cx="461.38" cy="281.32" r="0.72" fill="#000"/>
<circle cx="460.02" cy="273.81" r="0.72" fill="#000"/>
<circle cx="461.89" cy="260.77" r="0.72" fill="#000"/>
<circle cx="461.34" cy="263.78" r="0.72" fill="#000"/>
<circle cx="460.04" cy="266.06" r="0.72" fill="#000"/>
<circle cx="461.73" cy="292.12" r="0.72" fill="#000"/>
<circle cx="461.54" cy="282.31" r="0.72" fill="#000"/>
<circle cx="461.74" cy="288.91" r="0.72" fill="#000"/>
<circle cx="461.01" cy="292.75" r="0.72" fill="#000"/>
<circle cx="461.6" cy="268.51" r="0.72" fill="#000"/>
<circle cx="460.39" cy="276.66" r="0.72" fill="#000"/>
<circle cx="461.91" cy="283.72" r="0.72" fill="#000"/>
<circle cx="460.48" cy="282.5" r="0.72" fill="#000"/>
<circle cx="461.51" cy="261.21" r="0.72" fill="#000"/>
<circle cx="462.1" cy="274.26" r="0.72" fill="#000"/>
<circle cx="461.28" cy="281.6" r="0.72" fill="#000"/>
<circle cx="461.24" cy="278.06" r="0.72" fill="#000"/>
<circle cx="460.49" cy="278.03" r="0.72" fill="#000"/>
<circle cx="461.7" cy="272.84" r="0.72" fill="#000"/>
<circle cx="461.12" cy="279.05" r="0.72" fill="#000"/>
<circle cx="461.64" cy="283.04" r="0.72" fill="#000"/>
<line x1="467.8" y1="270" x2="467.8" y2="285.2" stroke="#111" stroke-width="0.6"/>
<line x1="467.8" y1="296.9" x2="467.8" y2="304" stroke="#111" stroke-width="0.6"/>
<rect x="464.4" y="285.2" width="6.8" height="11.7" fill="#FBC0A6" stroke="#555" stroke-width="0.8"/>
<line x1="464.4" y1="290" x2="471.2" y2="290" stroke="#555" stroke-width="0.8"/>
<circle cx="467.69" cy="298.35" r="0.72" fill="#000"/>
<circle cx="466.86" cy="296.84" r="0.72" fill="#000"/>
<circle cx="468.38" cy="281.17" r="0.72" fill="#000"/>
<circle cx="467.53" cy="289.65" r="0.72" fill="#000"/>
<circle cx="467.19" cy="288.94" r="0.72" fill="#000"/>
<circle cx="466.7" cy="299.38" r="0.72" fill="#000"/>
<circle cx="469.12" cy="289.25" r="0.72" fill="#000"/>
<circle cx="468.53" cy="290.47" r="0.72" fill="#000"/>
<circle cx="468.84" cy="294.6" r="0.72" fill="#000"/>
<circle cx="468.97" cy="297.42" r="0.72" fill="#000"/>
<circle cx="468.61" cy="294.56" r="0.72" fill="#000"/>
<circle cx="468.54" cy="282.81" r="0.72" fill="#000"/>
<circle cx="469.06" cy="298.45" r="0.72" fill="#000"/>
<circle cx="466.77" cy="278.19" r="0.72" fill="#000"/>
<circle cx="468.81" cy="303.86" r="0.72" fill="#000"/>
<circle cx="467.51" cy="282.57" r="0.72" fill="#000"/>
<circle cx="468.54" cy="296.05" r="0.72" fill="#000"/>
<circle cx="466.85" cy="284.01" r="0.72" fill="#000"/>
<circle cx="468.88" cy="288.39" r="0.72" fill="#000"/>
<circle cx="466.94" cy="286.27" r="0.72" fill="#000"/>
<circle cx="469.09" cy="295.7" r="0.72" fill="#000"/>
<circle cx="467.03" cy="293.01" r="0.72" fill="#000"/>
<circle cx="468.48" cy="298.13" r="0.72" fill="#000"/>
<circle cx="467.6" cy="291.9" r="0.72" fill="#000"/>
<circle cx="467.71" cy="295.98" r="0.72" fill="#000"/>
<circle cx="467.3" cy="275.59" r="0.72" fill="#000"/>
<circle cx="469.07" cy="299.93" r="0.72" fill="#000"/>
<circle cx="467.38" cy="285.04" r="0.72" fill="#000"/>
<circle cx="466.57" cy="284.33" r="0.72" fill="#000"/>
<circle cx="467.09" cy="271.33" r="0.72" fill="#000"/>
<circle cx="466.64" cy="288.12" r="0.72" fill="#000"/>
<circle cx="468.81" cy="293.02" r="0.72" fill="#000"/>
<circle cx="468.43" cy="277.93" r="0.72" fill="#000"/>
<circle cx="467.98" cy="294.23" r="0.72" fill="#000"/>
<circle cx="466.79" cy="281.13" r="0.72" fill="#000"/>
<circle cx="467.66" cy="291.49" r="0.72" fill="#000"/>
<circle cx="468.09" cy="278.51" r="0.72" fill="#000"/>
<circle cx="467.14" cy="296.22" r="0.72" fill="#000"/>
<circle cx="468.82" cy="300.13" r="0.72" fill="#000"/>
<circle cx="469.15" cy="299.54" r="0.72" fill="#000"/>
<circle cx="467.28" cy="297.56" r="0.72" fill="#000"/>
<circle cx="467.87" cy="290.54" r="0.72" fill="#000"/>
<circle cx="467.43" cy="284.22" r="0.72" fill="#000"/>
<circle cx="468.29" cy="299.35" r="0.72" fill="#000"/>
<circle cx="467.09" cy="293.95" r="0.72" fill="#000"/>
<circle cx="468.6" cy="277.89" r="0.72" fill="#000"/>
<line x1="474.4" y1="265" x2="474.4" y2="280.7" stroke="#111" stroke-width="0.6"/>
<line x1="474.4" y1="290.7" x2="474.4" y2="302" stroke="#111" stroke-width="0.6"/>
<rect x="471.2" y="280.7" width="6.4" height="10" fill="#C49088" stroke="#555" stroke-width="0.8"/>
<line x1="471.2" y1="285" x2="477.6" y2="285" stroke="#555" stroke-width="0.8"/>
<circle cx="473.14" cy="286.9" r="0.72" fill="#000"/>
<circle cx="475.68" cy="299.46" r="0.72" fill="#000"/>
<circle cx="473.26" cy="282.69" r="0.72" fill="#000"/>
<circle cx="474.89" cy="280.94" r="0.72" fill="#000"/>
<circle cx="475.07" cy="288.86" r="0.72" fill="#000"/>
<circle cx="474.01" cy="282.37" r="0.72" fill="#000"/>
<circle cx="473.61" cy="287.18" r="0.72" fill="#000"/>
<circle cx="474.24" cy="289.58" r="0.72" fill="#000"/>
<circle cx="474.82" cy="301.71" r="0.72" fill="#000"/>
<circle cx="473.75" cy="282.18" r="0.72" fill="#000"/>
<circle cx="473.88" cy="275.5" r="0.72" fill="#000"/>
<circle cx="474.13" cy="284.21" r="0.72" fill="#000"/>
<circle cx="473.88" cy="283.19" r="0.72" fill="#000"/>
<circle cx="474.57" cy="285.64" r="0.72" fill="#000"/>
<circle cx="473.36" cy="293.01" r="0.72" fill="#000"/>
<circle cx="474.59" cy="282.86" r="0.72" fill="#000"/>
<circle cx="473.36" cy="283.91" r="0.72" fill="#000"/>
<circle cx="474.72" cy="296.82" r="0.72" fill="#000"/>
<circle cx="473.21" cy="279.29" r="0.72" fill="#000"/>
<circle cx="474.91" cy="285.42" r="0.72" fill="#000"/>
<circle cx="473.91" cy="275.42" r="0.72" fill="#000"/>
<circle cx="475.64" cy="289.44" r="0.72" fill="#000"/>
<circle cx="473.45" cy="285.37" r="0.72" fill="#000"/>
<circle cx="474.72" cy="271.19" r="0.72" fill="#000"/>
<circle cx="475.34" cy="285.37" r="0.72" fill="#000"/>
<circle cx="473.94" cy="286.05" r="0.72" fill="#000"/>
<circle cx="474.38" cy="289.37" r="0.72" fill="#000"/>
<circle cx="474.28" cy="294.22" r="0.72" fill="#000"/>
<circle cx="474.84" cy="275.37" r="0.72" fill="#000"/>
<circle cx="474.2" cy="280.84" r="0.72" fill="#000"/>
<circle cx="474.65" cy="283.18" r="0.72" fill="#000"/>
<circle cx="474.86" cy="279.83" r="0.72" fill="#000"/>
<circle cx="474.34" cy="273.28" r="0.72" fill="#000"/>
<circle cx="474.49" cy="281.73" r="0.72" fill="#000"/>
<circle cx="475.01" cy="272.74" r="0.72" fill="#000"/>
<circle cx="475.3" cy="272.77" r="0.72" fill="#000"/>
<circle cx="473.94" cy="283.39" r="0.72" fill="#000"/>
<circle cx="475.63" cy="271.88" r="0.72" fill="#000"/>
<circle cx="474.32" cy="285.2" r="0.72" fill="#000"/>
<circle cx="473.54" cy="271.9" r="0.72" fill="#000"/>
<circle cx="474.59" cy="278.6" r="0.72" fill="#000"/>
<circle cx="474.27" cy="294.08" r="0.72" fill="#000"/>
<circle cx="475.24" cy="281.97" r="0.72" fill="#000"/>
<circle cx="475.45" cy="281.47" r="0.72" fill="#000"/>
<circle cx="475.39" cy="282.16" r="0.72" fill="#000"/>
<circle cx="473.16" cy="285.23" r="0.72" fill="#000"/>
<line x1="488.05" y1="280" x2="488.05" y2="290.7" stroke="#111" stroke-width="0.6"/>
<line x1="488.05" y1="299.4" x2="488.05" y2="305" stroke="#111" stroke-width="0.6"/>
<rect x="484.8" y="290.7" width="6.5" height="8.7" fill="#E2FBB8" stroke="#555" stroke-width="0.8"/>
<line x1="484.8" y1="295" x2="491.3" y2="295" stroke="#555" stroke-width="0.8"/>
<circle cx="489.32" cy="295.87" r="0.72" fill="#000"/>
<circle cx="487.72" cy="295.43" r="0.72" fill="#000"/>
<circle cx="488.31" cy="288.53" r="0.72" fill="#000"/>
<circle cx="487.64" cy="302.94" r="0.72" fill="#000"/>
<circle cx="488.55" cy="296.21" r="0.72" fill="#000"/>
<circle cx="487.91" cy="297.74" r="0.72" fill="#000"/>
<circle cx="487.58" cy="299.65" r="0.72" fill="#000"/>
<circle cx="487.41" cy="294.33" r="0.72" fill="#000"/>
<circle cx="488.96" cy="292.62" r="0.72" fill="#000"/>
<circle cx="488.04" cy="285.7" r="0.72" fill="#000"/>
<circle cx="489.1" cy="298.9" r="0.72" fill="#000"/>
<circle cx="489.23" cy="283.47" r="0.72" fill="#000"/>
<circle cx="487.84" cy="291.18" r="0.72" fill="#000"/>
<circle cx="487.13" cy="298.1" r="0.72" fill="#000"/>
<circle cx="486.86" cy="294.54" r="0.72" fill="#000"/>
<circle cx="489.02" cy="286.96" r="0.72" fill="#000"/>
<circle cx="488.8" cy="300.25" r="0.72" fill="#000"/>
<circle cx="486.96" cy="298.97" r="0.72" fill="#000"/>
<circle cx="486.9" cy="299.23" r="0.72" fill="#000"/>
<circle cx="487.69" cy="293.39" r="0.72" fill="#000"/>
<circle cx="488.89" cy="300.05" r="0.72" fill="#000"/>
<circle cx="487.13" cy="298.31" r="0.72" fill="#000"/>
<circle cx="486.78" cy="299.28" r="0.72" fill="#000"/>
<circle cx="488.25" cy="284.12" r="0.72" fill="#000"/>
<circle cx="488.51" cy="296.13" r="0.72" fill="#000"/>
<circle cx="488.91" cy="283.02" r="0.72" fill="#000"/>
<circle cx="488.85" cy="295.86" r="0.72" fill="#000"/>
<circle cx="488.04" cy="301.86" r="0.72" fill="#000"/>
<circle cx="488.3" cy="298.35" r="0.72" fill="#000"/>
<circle cx="488.57" cy="304.76" r="0.72" fill="#000"/>
<circle cx="487.2" cy="294.88" r="0.72" fill="#000"/>
<circle cx="488.49" cy="298.16" r="0.72" fill="#000"/>
<circle cx="487.81" cy="295.24" r="0.72" fill="#000"/>
<circle cx="487.67" cy="303.81" r="0.72" fill="#000"/>
<circle cx="488.22" cy="292.34" r="0.72" fill="#000"/>
<circle cx="488.69" cy="291.01" r="0.72" fill="#000"/>
<circle cx="486.83" cy="285.47" r="0.72" fill="#000"/>
<circle cx="486.91" cy="295.8" r="0.72" fill="#000"/>
<circle cx="486.83" cy="291.06" r="0.72" fill="#000"/>
<circle cx="488.41" cy="288.74" r="0.72" fill="#000"/>
<circle cx="486.78" cy="293.78" r="0.72" fill="#000"/>
<circle cx="487.24" cy="301.84" r="0.72" fill="#000"/>
<circle cx="487.75" cy="293.12" r="0.72" fill="#000"/>
<circle cx="488.77" cy="282.21" r="0.72" fill="#000"/>
<circle cx="488.37" cy="292.04" r="0.72" fill="#000"/>
<circle cx="488.51" cy="299.29" r="0.72" fill="#000"/>
<line x1="494.4" y1="294" x2="494.4" y2="299.4" stroke="#111" stroke-width="0.6"/>
<line x1="494.4" y1="304.4" x2="494.4" y2="306" stroke="#111" stroke-width="0.6"/>
<rect x="491.3" y="299.4" width="6.2" height="5" fill="#FBC0A6" stroke="#555" stroke-width="0.8"/>
<line x1="491.3" y1="302" x2="497.5" y2="302" stroke="#555" stroke-width="0.8"/>
<circle cx="494.56" cy="301.91" r="0.72" fill="#000"/>
<circle cx="494.37" cy="302.33" r="0.72" fill="#000"/>
<circle cx="493.43" cy="296.07" r="0.72" fill="#000"/>
<circle cx="493.22" cy="303.3" r="0.72" fill="#000"/>
<circle cx="494.53" cy="301.51" r="0.72" fill="#000"/>
<circle cx="495.48" cy="303.68" r="0.72" fill="#000"/>
<circle cx="495.33" cy="296.07" r="0.72" fill="#000"/>
<circle cx="495.14" cy="304.99" r="0.72" fill="#000"/>
<circle cx="493.73" cy="305.9" r="0.72" fill="#000"/>
<circle cx="493.83" cy="303.41" r="0.72" fill="#000"/>
<circle cx="495.05" cy="299.64" r="0.72" fill="#000"/>
<circle cx="494.68" cy="300.25" r="0.72" fill="#000"/>
<circle cx="493.36" cy="303.32" r="0.72" fill="#000"/>
<circle cx="493.51" cy="304.51" r="0.72" fill="#000"/>
<circle cx="494.37" cy="303.23" r="0.72" fill="#000"/>
<circle cx="495.29" cy="296.3" r="0.72" fill="#000"/>
<circle cx="495.15" cy="301.45" r="0.72" fill="#000"/>
<circle cx="494.94" cy="299.69" r="0.72" fill="#000"/>
<circle cx="494.01" cy="301.45" r="0.72" fill="#000"/>
<circle cx="495.45" cy="300.08" r="0.72" fill="#000"/>
<circle cx="493.9" cy="305.13" r="0.72" fill="#000"/>
<circle cx="494.17" cy="300.69" r="0.72" fill="#000"/>
<circle cx="493.4" cy="303.15" r="0.72" fill="#000"/>
<circle cx="494.49" cy="305.79" r="0.72" fill="#000"/>
<circle cx="493.7" cy="295.28" r="0.72" fill="#000"/>
<circle cx="494.95" cy="299.95" r="0.72" fill="#000"/>
<circle cx="495.09" cy="302.87" r="0.72" fill="#000"/>
<circle cx="494.62" cy="302.8" r="0.72" fill="#000"/>
<circle cx="494.76" cy="297.94" r="0.72" fill="#000"/>
<circle cx="493.67" cy="304.38" r="0.72" fill="#000"/>
<circle cx="495.19" cy="300.59" r="0.72" fill="#000"/>
<circle cx="493.49" cy="305.98" r="0.72" fill="#000"/>
<circle cx="493.43" cy="303.17" r="0.72" fill="#000"/>
<circle cx="493.84" cy="302.23" r="0.72" fill="#000"/>
<circle cx="493.49" cy="301.77" r="0.72" fill="#000"/>
<circle cx="493.58" cy="305" r="0.72" fill="#000"/>
<circle cx="494.74" cy="301.22" r="0.72" fill="#000"/>
<circle cx="493.33" cy="301.24" r="0.72" fill="#000"/>
<circle cx="495.13" cy="297.52" r="0.72" fill="#000"/>
<circle cx="494.71" cy="297.64" r="0.72" fill="#000"/>
<circle cx="494.12" cy="302.03" r="0.72" fill="#000"/>
<circle cx="493.16" cy="301.46" r="0.72" fill="#000"/>
<circle cx="493.46" cy="302.28" r="0.72" fill="#000"/>
<circle cx="494.36" cy="303.45" r="0.72" fill="#000"/>
<circle cx="493.16" cy="304.78" r="0.72" fill="#000"/>
<circle cx="494.36" cy="303.19" r="0.72" fill="#000"/>
<circle cx="494.07" cy="303.7" r="0.72" fill="#000"/>
<line x1="501.4" y1="278" x2="501.4" y2="293.2" stroke="#111" stroke-width="0.6"/>
<line x1="501.4" y1="301.4" x2="501.4" y2="306" stroke="#111" stroke-width="0.6"/>
<rect x="498" y="293.2" width="6.8" height="8.2" fill="#C49088" stroke="#555" stroke-width="0.8"/>
<line x1="498" y1="297" x2="504.8" y2="297" stroke="#555" stroke-width="0.8"/>
<circle cx="500.35" cy="303.34" r="0.72" fill="#000"/>
<circle cx="502.42" cy="295.73" r="0.72" fill="#000"/>
<circle cx="501.24" cy="302.58" r="0.72" fill="#000"/>
<circle cx="501.25" cy="300.78" r="0.72" fill="#000"/>
<circle cx="500.05" cy="297.32" r="0.72" fill="#000"/>
<circle cx="502.28" cy="282.41" r="0.72" fill="#000"/>
<circle cx="501.18" cy="301.02" r="0.72" fill="#000"/>
<circle cx="502.41" cy="301.36" r="0.72" fill="#000"/>
<circle cx="502.38" cy="301.26" r="0.72" fill="#000"/>
<circle cx="502.04" cy="303.6" r="0.72" fill="#000"/>
<circle cx="500.1" cy="285.87" r="0.72" fill="#000"/>
<circle cx="500.33" cy="292.78" r="0.72" fill="#000"/>
<circle cx="501.12" cy="287.96" r="0.72" fill="#000"/>
<circle cx="502.16" cy="289.17" r="0.72" fill="#000"/>
<circle cx="501.74" cy="297" r="0.72" fill="#000"/>
<circle cx="500.19" cy="300.71" r="0.72" fill="#000"/>
<circle cx="500.46" cy="301.71" r="0.72" fill="#000"/>
<circle cx="500.82" cy="304.08" r="0.72" fill="#000"/>
<circle cx="501.99" cy="285.48" r="0.72" fill="#000"/>
<circle cx="500.34" cy="296.27" r="0.72" fill="#000"/>
<circle cx="501.49" cy="283.32" r="0.72" fill="#000"/>
<circle cx="500.66" cy="299.07" r="0.72" fill="#000"/>
<circle cx="502.44" cy="281.59" r="0.72" fill="#000"/>
<circle cx="500.39" cy="297.17" r="0.72" fill="#000"/>
<circle cx="500.42" cy="302.32" r="0.72" fill="#000"/>
<circle cx="501.73" cy="291.43" r="0.72" fill="#000"/>
<circle cx="502.53" cy="290.09" r="0.72" fill="#000"/>
<circle cx="502.64" cy="293.9" r="0.72" fill="#000"/>
<circle cx="502.4" cy="290.3" r="0.72" fill="#000"/>
<circle cx="501.37" cy="298.59" r="0.72" fill="#000"/>
<circle cx="501.59" cy="304.04" r="0.72" fill="#000"/>
<circle cx="501.42" cy="304.46" r="0.72" fill="#000"/>
<circle cx="501.56" cy="284.68" r="0.72" fill="#000"/>
<circle cx="502.28" cy="297.93" r="0.72" fill="#000"/>
<circle cx="501.89" cy="304.87" r="0.72" fill="#000"/>
<circle cx="501.09" cy="304.5" r="0.72" fill="#000"/>
<circle cx="500.46" cy="282.26" r="0.72" fill="#000"/>
<circle cx="500.31" cy="283.28" r="0.72" fill="#000"/>
<circle cx="502.7" cy="299.65" r="0.72" fill="#000"/>
<circle cx="500.55" cy="293.47" r="0.72" fill="#000"/>
<circle cx="500.61" cy="281.38" r="0.72" fill="#000"/>
<circle cx="500.08" cy="304.62" r="0.72" fill="#000"/>
<circle cx="501.08" cy="301.68" r="0.72" fill="#000"/>
<line x1="404.6" y1="303.5" x2="416" y2="303.5" stroke="#111" stroke-width="1.1"/>
<circle cx="407.2" cy="303.6" r="1.3" fill="#000"/>
<circle cx="413.8" cy="303.6" r="1.3" fill="#000"/>
<text x="377" y="311.2" font-size="6.5" text-anchor="middle" fill="#9c9c9c" color="#9c9c9c">45</text>
<text x="385.6" y="311.2" font-size="6.5" text-anchor="middle" fill="#9c9c9c" color="#9c9c9c">37</text>
<text x="394.1" y="311.2" font-size="6.5" text-anchor="middle" fill="#9c9c9c" color="#9c9c9c">36</text>
<text x="404.8" y="311.2" font-size="6.5" text-anchor="middle" fill="#9c9c9c" color="#9c9c9c">39</text>
<text x="413" y="311.2" font-size="6.5" text-anchor="middle" fill="#9c9c9c" color="#9c9c9c">42</text>
<text x="422.8" y="311.2" font-size="6.5" text-anchor="middle" fill="#9c9c9c" color="#9c9c9c">48</text>
<text x="432.4" y="311.2" font-size="6.5" text-anchor="middle" fill="#9c9c9c" color="#9c9c9c">43</text>
<text x="441" y="311.2" font-size="6.5" text-anchor="middle" fill="#9c9c9c" color="#9c9c9c">45</text>
<text x="449.6" y="311.2" font-size="6.5" text-anchor="middle" fill="#9c9c9c" color="#9c9c9c">37</text>
<text x="459" y="311.2" font-size="6.5" text-anchor="middle" fill="#9c9c9c" color="#9c9c9c">47</text>
<text x="467.6" y="311.2" font-size="6.5" text-anchor="middle" fill="#9c9c9c" color="#9c9c9c">46</text>
<text x="476.2" y="311.2" font-size="6.5" text-anchor="middle" fill="#9c9c9c" color="#9c9c9c">46</text>
<text x="485.6" y="311.2" font-size="6.5" text-anchor="middle" fill="#9c9c9c" color="#9c9c9c">46</text>
<text x="494.3" y="311.2" font-size="6.5" text-anchor="middle" fill="#9c9c9c" color="#9c9c9c">47</text>
<text x="503" y="311.2" font-size="6.5" text-anchor="middle" fill="#9c9c9c" color="#9c9c9c">43</text>
<text x="387.3" y="318.9" font-size="7.6" text-anchor="middle" fill="#1a1a1a" color="#1a1a1a">NHS</text>
<text x="413.4" y="318.9" font-size="7.6" text-anchor="middle" fill="#1a1a1a" color="#1a1a1a">HS</text>
<text x="440.8" y="318.9" font-size="7.6" text-anchor="middle" fill="#1a1a1a" color="#1a1a1a">aTT</text>
<text x="467.4" y="318.9" font-size="7.6" text-anchor="middle" fill="#1a1a1a" color="#1a1a1a">2d</text>
<text x="494.3" y="318.9" font-size="7.6" text-anchor="middle" fill="#1a1a1a" color="#1a1a1a">3d</text>
<line x1="462.4" y1="320.5" x2="499.3" y2="320.5" stroke="#777" stroke-width="1.4"/>
<text x="480.6" y="328.2" font-size="7.6" text-anchor="middle" fill="#1a1a1a" color="#1a1a1a">maTT</text>
<text x="387.3" y="183" font-size="8.8" text-anchor="middle" fill="#000" color="#000">ns</text>
<line x1="407.7" y1="260.5" x2="422.1" y2="260.5" stroke="#666" stroke-width="1.2"/>
<text x="414.9" y="261.95" font-size="8.5" text-anchor="middle" fill="#000" color="#000">***</text>
<line x1="414.7" y1="266.5" x2="422.1" y2="266.5" stroke="#666" stroke-width="1.2"/>
<text x="418.4" y="268.15" font-size="8.5" text-anchor="middle" fill="#000" color="#000">***</text>
<line x1="430.8" y1="219.5" x2="439.6" y2="219.5" stroke="#666" stroke-width="1.2"/>
<text x="435.2" y="220.95" font-size="8.5" text-anchor="middle" fill="#000" color="#000">**</text>
<line x1="440.8" y1="219.5" x2="450.8" y2="219.5" stroke="#666" stroke-width="1.2"/>
<text x="445.8" y="220.95" font-size="8.5" text-anchor="middle" fill="#000" color="#000">***</text>
<line x1="460.7" y1="244.5" x2="474.4" y2="244.5" stroke="#666" stroke-width="1.2"/>
<text x="467.5" y="245.75" font-size="8.5" text-anchor="middle" fill="#000" color="#000">***</text>
<line x1="454.5" y1="252.5" x2="465.7" y2="252.5" stroke="#666" stroke-width="1.2"/>
<text x="460.1" y="254.25" font-size="8.5" text-anchor="middle" fill="#000" color="#000">***</text>
<line x1="466.9" y1="252.5" x2="476.4" y2="252.5" stroke="#666" stroke-width="1.2"/>
<text x="471.6" y="254.25" font-size="8.5" text-anchor="middle" fill="#000" color="#000">***</text>
<line x1="481.9" y1="270.5" x2="491.8" y2="270.5" stroke="#666" stroke-width="1.2"/>
<text x="486.8" y="272.45" font-size="8.5" text-anchor="middle" fill="#000" color="#000">***</text>
<line x1="494.3" y1="270.5" x2="504.3" y2="270.5" stroke="#666" stroke-width="1.2"/>
<text x="499.3" y="272.45" font-size="8.5" text-anchor="middle" fill="#000" color="#000">***</text>
<rect x="438.1" y="179.5" width="4.5" height="3.6" fill="#E2FBB8" stroke="#666" stroke-width="0.7"/>
<text x="444.6" y="181.8" font-size="7.6" text-anchor="start" fill="#000" color="#000">GP</text>
<rect x="438.1" y="186.8" width="4.5" height="2.8" fill="#FBC0A6" stroke="#666" stroke-width="0.7"/>
<text x="444.6" y="189.6" font-size="7.6" text-anchor="start" fill="#000" color="#000" font-style="italic">hsfa2−1</text>
<rect x="438.1" y="192.4" width="4.5" height="3.4" fill="#C49088" stroke="#666" stroke-width="0.7"/>
<text x="444.6" y="196.9" font-size="7.6" text-anchor="start" fill="#000" color="#000" font-style="italic">hsfa2−1 A2−OX#7</text>
<text x="525" y="174.6" font-size="12.5" text-anchor="start" fill="#000" color="#000" font-weight="bold">h</text>
<rect x="547.4" y="173" width="5.3" height="5.1" fill="#CAFF70" stroke="#666" stroke-width="0.7"/>
<text x="556.6" y="178.4" font-size="7.6" text-anchor="start" fill="#000" color="#000">GP</text>
<rect x="570" y="173" width="4.9" height="5.1" fill="#FF7F50" stroke="#666" stroke-width="0.7"/>
<text x="579.6" y="178.4" font-size="7.6" text-anchor="start" fill="#000" color="#000" font-style="italic">hsfa2−1</text>
<rect x="612" y="173" width="5.3" height="5.1" fill="#8B1A1A" stroke="#666" stroke-width="0.7"/>
<text x="621.5" y="178.4" font-size="7.6" text-anchor="start" fill="#000" color="#000" font-style="italic">hsfa2−1 A2−OX#7</text>
<rect x="552.4" y="181.6" width="131.1" height="130.8" fill="none" stroke="#7a7a7a" stroke-width="1.15"/>
<line x1="550.6" y1="306.5" x2="552.4" y2="306.5" stroke="#333" stroke-width="0.8"/>
<text x="549" y="309.5" font-size="7.4" text-anchor="end" fill="#383838" color="#383838">0%</text>
<line x1="550.6" y1="278.15" x2="552.4" y2="278.15" stroke="#333" stroke-width="0.8"/>
<text x="549" y="281.15" font-size="7.4" text-anchor="end" fill="#383838" color="#383838">25%</text>
<line x1="550.6" y1="249.8" x2="552.4" y2="249.8" stroke="#333" stroke-width="0.8"/>
<text x="549" y="252.8" font-size="7.4" text-anchor="end" fill="#383838" color="#383838">50%</text>
<line x1="550.6" y1="221.45" x2="552.4" y2="221.45" stroke="#333" stroke-width="0.8"/>
<text x="549" y="224.45" font-size="7.4" text-anchor="end" fill="#383838" color="#383838">75%</text>
<line x1="550.6" y1="193.1" x2="552.4" y2="193.1" stroke="#333" stroke-width="0.8"/>
<text x="549" y="196.1" font-size="7.4" text-anchor="end" fill="#383838" color="#383838">100%</text>
<text x="529.6" y="238.4" font-size="9" text-anchor="middle" fill="#000" color="#000" transform="rotate(-90 529.6 238.4)">Survival rate</text>
<rect x="556.3" y="193.1" width="7.6" height="113.4" fill="#CAFF70" stroke="#1a1a1a" stroke-width="0.8"/>
<circle cx="560.1" cy="193.1" r="1.1" fill="#000"/>
<rect x="563.9" y="193.1" width="7.6" height="113.4" fill="#FF7F50" stroke="#1a1a1a" stroke-width="0.8"/>
<circle cx="567.7" cy="193.1" r="1.1" fill="#000"/>
<rect x="571.5" y="193.1" width="7.6" height="113.4" fill="#8B1A1A" stroke="#1a1a1a" stroke-width="0.8"/>
<circle cx="575.3" cy="193.1" r="1.1" fill="#000"/>
<rect x="595.5" y="219.2" width="8.8" height="87.3" fill="#8B1A1A" stroke="#1a1a1a" stroke-width="0.8"/>
<line x1="599.9" y1="205" x2="599.9" y2="237" stroke="#1a1a1a" stroke-width="0.8"/>
<line x1="598.5" y1="205" x2="601.3" y2="205" stroke="#1a1a1a" stroke-width="0.8"/>
<line x1="598.5" y1="237" x2="601.3" y2="237" stroke="#1a1a1a" stroke-width="0.8"/>
<circle cx="599.9" cy="205" r="1.1" fill="#000"/>
<circle cx="599.9" cy="228" r="1.1" fill="#000"/>
<circle cx="599.9" cy="230" r="1.1" fill="#000"/>
<rect x="606.4" y="196.2" width="8.1" height="110.3" fill="#CAFF70" stroke="#1a1a1a" stroke-width="0.8"/>
<line x1="610.45" y1="193" x2="610.45" y2="200" stroke="#1a1a1a" stroke-width="0.8"/>
<line x1="609.05" y1="193" x2="611.85" y2="193" stroke="#1a1a1a" stroke-width="0.8"/>
<line x1="609.05" y1="200" x2="611.85" y2="200" stroke="#1a1a1a" stroke-width="0.8"/>
<circle cx="610.45" cy="193" r="1.1" fill="#000"/>
<circle cx="610.45" cy="202" r="1.1" fill="#000"/>
<rect x="614.5" y="193.1" width="7.6" height="113.4" fill="#FF7F50" stroke="#1a1a1a" stroke-width="0.8"/>
<circle cx="618.3" cy="193.1" r="1.1" fill="#000"/>
<rect x="622.1" y="193.1" width="7.6" height="113.4" fill="#8B1A1A" stroke="#1a1a1a" stroke-width="0.8"/>
<circle cx="625.9" cy="193.1" r="1.1" fill="#000"/>
<rect x="631.7" y="193.1" width="7.6" height="113.4" fill="#CAFF70" stroke="#1a1a1a" stroke-width="0.8"/>
<circle cx="635.5" cy="193.1" r="1.1" fill="#000"/>
<rect x="639.3" y="193.1" width="7.6" height="113.4" fill="#FF7F50" stroke="#1a1a1a" stroke-width="0.8"/>
<circle cx="643.1" cy="193.1" r="1.1" fill="#000"/>
<rect x="646.9" y="195.1" width="7.5" height="111.4" fill="#8B1A1A" stroke="#1a1a1a" stroke-width="0.8"/>
<line x1="650.65" y1="193" x2="650.65" y2="198" stroke="#1a1a1a" stroke-width="0.8"/>
<line x1="649.25" y1="193" x2="652.05" y2="193" stroke="#1a1a1a" stroke-width="0.8"/>
<line x1="649.25" y1="198" x2="652.05" y2="198" stroke="#1a1a1a" stroke-width="0.8"/>
<circle cx="650.65" cy="192" r="1.1" fill="#000"/>
<circle cx="650.65" cy="198" r="1.1" fill="#000"/>
<rect x="657" y="203.3" width="7.6" height="103.2" fill="#CAFF70" stroke="#1a1a1a" stroke-width="0.8"/>
<line x1="660.8" y1="196" x2="660.8" y2="210" stroke="#1a1a1a" stroke-width="0.8"/>
<line x1="659.4" y1="196" x2="662.2" y2="196" stroke="#1a1a1a" stroke-width="0.8"/>
<line x1="659.4" y1="210" x2="662.2" y2="210" stroke="#1a1a1a" stroke-width="0.8"/>
<circle cx="660.8" cy="193" r="1.1" fill="#000"/>
<circle cx="660.8" cy="200" r="1.1" fill="#000"/>
<circle cx="660.8" cy="216" r="1.1" fill="#000"/>
<rect x="664.6" y="249.3" width="7.6" height="57.2" fill="#FF7F50" stroke="#1a1a1a" stroke-width="0.8"/>
<line x1="668.4" y1="235" x2="668.4" y2="263" stroke="#1a1a1a" stroke-width="0.8"/>
<line x1="667" y1="235" x2="669.8" y2="235" stroke="#1a1a1a" stroke-width="0.8"/>
<line x1="667" y1="263" x2="669.8" y2="263" stroke="#1a1a1a" stroke-width="0.8"/>
<circle cx="668.4" cy="230" r="1.1" fill="#000"/>
<circle cx="668.4" cy="240" r="1.1" fill="#000"/>
<circle cx="668.4" cy="272" r="1.1" fill="#000"/>
<rect x="672.2" y="203.8" width="7.6" height="102.7" fill="#8B1A1A" stroke="#1a1a1a" stroke-width="0.8"/>
<line x1="676" y1="200" x2="676" y2="207" stroke="#1a1a1a" stroke-width="0.8"/>
<line x1="674.6" y1="200" x2="677.4" y2="200" stroke="#1a1a1a" stroke-width="0.8"/>
<line x1="674.6" y1="207" x2="677.4" y2="207" stroke="#1a1a1a" stroke-width="0.8"/>
<circle cx="676" cy="199" r="1.1" fill="#000"/>
<circle cx="676" cy="206" r="1.1" fill="#000"/>
<line x1="581" y1="306.5" x2="594.5" y2="306.5" stroke="#000" stroke-width="0.9"/>
<circle cx="583.5" cy="306.5" r="1.1" fill="#000"/>
<circle cx="590" cy="306.5" r="1.1" fill="#000"/>
<text x="567" y="190.2" font-size="7.7" text-anchor="middle" fill="#000" color="#000">ns</text>
<text x="617.9" y="190.2" font-size="7.7" text-anchor="middle" fill="#000" color="#000">ns</text>
<text x="643.7" y="190.2" font-size="7.7" text-anchor="middle" fill="#000" color="#000">ns</text>
<line x1="585.1" y1="187.5" x2="600" y2="187.5" stroke="#555" stroke-width="1"/>
<text x="592.1" y="188.18" font-size="7.5" text-anchor="middle" fill="#000" color="#000">***</text>
<line x1="594.3" y1="192.5" x2="600" y2="192.5" stroke="#555" stroke-width="1"/>
<text x="596" y="193.28" font-size="7.5" text-anchor="middle" fill="#000" color="#000">***</text>
<circle cx="600" cy="193" r="1" fill="#000"/>
<line x1="659" y1="187.5" x2="669" y2="187.5" stroke="#555" stroke-width="1"/>
<text x="663" y="189.15" font-size="8.5" text-anchor="middle" fill="#000" color="#000">***</text>
<line x1="669.5" y1="187.5" x2="679.5" y2="187.5" stroke="#555" stroke-width="1"/>
<text x="675" y="189.15" font-size="8.5" text-anchor="middle" fill="#000" color="#000">***</text>
<text x="570" y="319.2" font-size="7.6" text-anchor="middle" fill="#1a1a1a" color="#1a1a1a">NHS</text>
<text x="593" y="319.2" font-size="7.6" text-anchor="middle" fill="#1a1a1a" color="#1a1a1a">HS</text>
<text x="615.3" y="319.2" font-size="7.6" text-anchor="middle" fill="#1a1a1a" color="#1a1a1a">aTT</text>
<text x="640.3" y="319.2" font-size="7.6" text-anchor="middle" fill="#1a1a1a" color="#1a1a1a">2d</text>
<text x="664.6" y="319.2" font-size="7.6" text-anchor="middle" fill="#1a1a1a" color="#1a1a1a">3d</text>
<line x1="635.7" y1="320.5" x2="669.7" y2="320.5" stroke="#777" stroke-width="1.4"/>
<text x="651.8" y="328.4" font-size="7.6" text-anchor="middle" fill="#1a1a1a" color="#1a1a1a">maTT</text>
<text x="6.5" y="343.7" font-size="12.5" text-anchor="start" fill="#000" color="#000" font-weight="bold">i</text>
<rect x="27.4" y="336.8" width="140" height="139.5" fill="none" stroke="#7a7a7a" stroke-width="1.15"/>
<line x1="25.6" y1="470.6" x2="27.4" y2="470.6" stroke="#333" stroke-width="0.8"/>
<text x="25.4" y="473.1" font-size="7.2" text-anchor="end" fill="#383838" color="#383838">0.0</text>
<line x1="25.6" y1="445.22" x2="27.4" y2="445.22" stroke="#333" stroke-width="0.8"/>
<text x="25.4" y="447.72" font-size="7.2" text-anchor="end" fill="#383838" color="#383838">0.2</text>
<line x1="25.6" y1="419.84" x2="27.4" y2="419.84" stroke="#333" stroke-width="0.8"/>
<text x="25.4" y="422.34" font-size="7.2" text-anchor="end" fill="#383838" color="#383838">0.4</text>
<line x1="25.6" y1="394.46" x2="27.4" y2="394.46" stroke="#333" stroke-width="0.8"/>
<text x="25.4" y="396.96" font-size="7.2" text-anchor="end" fill="#383838" color="#383838">0.6</text>
<line x1="25.6" y1="369.08" x2="27.4" y2="369.08" stroke="#333" stroke-width="0.8"/>
<text x="25.4" y="371.58" font-size="7.2" text-anchor="end" fill="#383838" color="#383838">0.8</text>
<line x1="25.6" y1="343.7" x2="27.4" y2="343.7" stroke="#333" stroke-width="0.8"/>
<text x="25.4" y="346.2" font-size="7.2" text-anchor="end" fill="#383838" color="#383838">1.0</text>
<text x="12.1" y="408.6" font-size="9" text-anchor="middle" fill="#000" color="#000" transform="rotate(-90 12.1 408.6)">Dry weight (g)</text>
<line x1="36.95" y1="388.5" x2="36.95" y2="408.4" stroke="#111" stroke-width="0.6"/>
<line x1="36.95" y1="433.3" x2="36.95" y2="454.4" stroke="#111" stroke-width="0.6"/>
<rect x="33.6" y="408.4" width="6.7" height="24.9" fill="#E2FBB8" stroke="#555" stroke-width="0.8"/>
<line x1="33.6" y1="417" x2="40.3" y2="417" stroke="#555" stroke-width="0.8"/>
<circle cx="37.51" cy="421.89" r="0.72" fill="#000"/>
<circle cx="37.04" cy="439.07" r="0.72" fill="#000"/>
<circle cx="37.87" cy="422.1" r="0.72" fill="#000"/>
<circle cx="38.12" cy="452.46" r="0.72" fill="#000"/>
<circle cx="38.15" cy="414.41" r="0.72" fill="#000"/>
<circle cx="37.27" cy="394.74" r="0.72" fill="#000"/>
<circle cx="36.56" cy="436.44" r="0.72" fill="#000"/>
<circle cx="36.16" cy="432.73" r="0.72" fill="#000"/>
<circle cx="35.88" cy="410.37" r="0.72" fill="#000"/>
<circle cx="37.02" cy="408.5" r="0.72" fill="#000"/>
<circle cx="37.16" cy="417.56" r="0.72" fill="#000"/>
<circle cx="36.26" cy="426.86" r="0.72" fill="#000"/>
<circle cx="37.59" cy="417.6" r="0.72" fill="#000"/>
<circle cx="38.1" cy="415.32" r="0.72" fill="#000"/>
<circle cx="37.42" cy="438.62" r="0.72" fill="#000"/>
<circle cx="36.18" cy="391.42" r="0.72" fill="#000"/>
<circle cx="35.71" cy="389.87" r="0.72" fill="#000"/>
<circle cx="35.62" cy="420.37" r="0.72" fill="#000"/>
<circle cx="37.69" cy="454.1" r="0.72" fill="#000"/>
<circle cx="37.88" cy="451.99" r="0.72" fill="#000"/>
<circle cx="36.78" cy="412.33" r="0.72" fill="#000"/>
<circle cx="37.65" cy="406.44" r="0.72" fill="#000"/>
<circle cx="36.67" cy="412.16" r="0.72" fill="#000"/>
<circle cx="37.73" cy="416.86" r="0.72" fill="#000"/>
<circle cx="38.28" cy="403.83" r="0.72" fill="#000"/>
<circle cx="38.26" cy="422.94" r="0.72" fill="#000"/>
<circle cx="37.67" cy="406.02" r="0.72" fill="#000"/>
<circle cx="37.13" cy="415.33" r="0.72" fill="#000"/>
<circle cx="35.64" cy="418.02" r="0.72" fill="#000"/>
<circle cx="35.8" cy="453.13" r="0.72" fill="#000"/>
<circle cx="36.47" cy="415.36" r="0.72" fill="#000"/>
<circle cx="37.21" cy="417.13" r="0.72" fill="#000"/>
<circle cx="37.52" cy="411.4" r="0.72" fill="#000"/>
<circle cx="36.07" cy="428.12" r="0.72" fill="#000"/>
<circle cx="36.86" cy="434.51" r="0.72" fill="#000"/>
<circle cx="37.71" cy="449.63" r="0.72" fill="#000"/>
<circle cx="36.11" cy="407.54" r="0.72" fill="#000"/>
<circle cx="35.87" cy="452.55" r="0.72" fill="#000"/>
<circle cx="37.95" cy="406.81" r="0.72" fill="#000"/>
<circle cx="37.51" cy="437.22" r="0.72" fill="#000"/>
<circle cx="38.01" cy="416.74" r="0.72" fill="#000"/>
<circle cx="37.86" cy="416.5" r="0.72" fill="#000"/>
<line x1="43.55" y1="372" x2="43.55" y2="408.4" stroke="#111" stroke-width="0.6"/>
<line x1="43.55" y1="434" x2="43.55" y2="470" stroke="#111" stroke-width="0.6"/>
<rect x="40.3" y="408.4" width="6.5" height="25.6" fill="#1CAEE4" stroke="#555" stroke-width="0.8"/>
<line x1="40.3" y1="420" x2="46.8" y2="420" stroke="#555" stroke-width="0.8"/>
<circle cx="43.7" cy="394.64" r="0.72" fill="#000"/>
<circle cx="42.66" cy="429.76" r="0.72" fill="#000"/>
<circle cx="43.83" cy="427.93" r="0.72" fill="#000"/>
<circle cx="43.18" cy="441.16" r="0.72" fill="#000"/>
<circle cx="42.45" cy="411.79" r="0.72" fill="#000"/>
<circle cx="43.76" cy="389.6" r="0.72" fill="#000"/>
<circle cx="44.27" cy="469.75" r="0.72" fill="#000"/>
<circle cx="44.59" cy="418.23" r="0.72" fill="#000"/>
<circle cx="42.89" cy="429.49" r="0.72" fill="#000"/>
<circle cx="44.75" cy="422.67" r="0.72" fill="#000"/>
<circle cx="43.16" cy="404.77" r="0.72" fill="#000"/>
<circle cx="43.77" cy="430.67" r="0.72" fill="#000"/>
<circle cx="42.41" cy="381.04" r="0.72" fill="#000"/>
<circle cx="42.94" cy="416.26" r="0.72" fill="#000"/>
<circle cx="42.83" cy="466.3" r="0.72" fill="#000"/>
<circle cx="42.73" cy="413.24" r="0.72" fill="#000"/>
<circle cx="44.79" cy="392.43" r="0.72" fill="#000"/>
<circle cx="42.6" cy="422.1" r="0.72" fill="#000"/>
<circle cx="42.88" cy="444.28" r="0.72" fill="#000"/>
<circle cx="42.29" cy="405.54" r="0.72" fill="#000"/>
<circle cx="43.34" cy="431.51" r="0.72" fill="#000"/>
<circle cx="44.71" cy="432.24" r="0.72" fill="#000"/>
<circle cx="42.32" cy="413.42" r="0.72" fill="#000"/>
<circle cx="44.17" cy="403.15" r="0.72" fill="#000"/>
<circle cx="43" cy="391.5" r="0.72" fill="#000"/>
<circle cx="43.47" cy="403.68" r="0.72" fill="#000"/>
<circle cx="44.39" cy="392.65" r="0.72" fill="#000"/>
<circle cx="44.75" cy="440.7" r="0.72" fill="#000"/>
<circle cx="42.91" cy="445.09" r="0.72" fill="#000"/>
<circle cx="43.79" cy="397.22" r="0.72" fill="#000"/>
<circle cx="44.08" cy="469.11" r="0.72" fill="#000"/>
<circle cx="42.45" cy="384.42" r="0.72" fill="#000"/>
<circle cx="44.02" cy="440.11" r="0.72" fill="#000"/>
<circle cx="44.03" cy="413.89" r="0.72" fill="#000"/>
<circle cx="44.84" cy="410.2" r="0.72" fill="#000"/>
<circle cx="44.3" cy="417.63" r="0.72" fill="#000"/>
<circle cx="42.85" cy="428.72" r="0.72" fill="#000"/>
<circle cx="42.53" cy="402.67" r="0.72" fill="#000"/>
<circle cx="43.53" cy="430.07" r="0.72" fill="#000"/>
<circle cx="42.65" cy="410.1" r="0.72" fill="#000"/>
<circle cx="43.6" cy="469.5" r="0.72" fill="#000"/>
<circle cx="44.71" cy="382.83" r="0.72" fill="#000"/>
<circle cx="44.48" cy="402.11" r="0.72" fill="#000"/>
<circle cx="43.47" cy="426.26" r="0.72" fill="#000"/>
<circle cx="44.11" cy="412.84" r="0.72" fill="#000"/>
<circle cx="43.24" cy="412.66" r="0.72" fill="#000"/>
<circle cx="42.83" cy="419.73" r="0.72" fill="#000"/>
<line x1="50.4" y1="393.5" x2="50.4" y2="416.4" stroke="#111" stroke-width="0.6"/>
<line x1="50.4" y1="439.5" x2="50.4" y2="470" stroke="#111" stroke-width="0.6"/>
<rect x="47.3" y="416.4" width="6.2" height="23.1" fill="#C2E6F4" stroke="#555" stroke-width="0.8"/>
<line x1="47.3" y1="428" x2="53.5" y2="428" stroke="#555" stroke-width="0.8"/>
<circle cx="50.41" cy="427.72" r="0.72" fill="#000"/>
<circle cx="51.12" cy="462.77" r="0.72" fill="#000"/>
<circle cx="51.42" cy="401.03" r="0.72" fill="#000"/>
<circle cx="49.41" cy="429.86" r="0.72" fill="#000"/>
<circle cx="49.47" cy="435.85" r="0.72" fill="#000"/>
<circle cx="50.03" cy="423.92" r="0.72" fill="#000"/>
<circle cx="49.61" cy="427.6" r="0.72" fill="#000"/>
<circle cx="49.91" cy="424.65" r="0.72" fill="#000"/>
<circle cx="50.93" cy="409.68" r="0.72" fill="#000"/>
<circle cx="50.76" cy="425.28" r="0.72" fill="#000"/>
<circle cx="49.23" cy="457.34" r="0.72" fill="#000"/>
<circle cx="51.55" cy="438.66" r="0.72" fill="#000"/>
<circle cx="49.17" cy="421.32" r="0.72" fill="#000"/>
<circle cx="51.6" cy="418.07" r="0.72" fill="#000"/>
<circle cx="49.23" cy="446.92" r="0.72" fill="#000"/>
<circle cx="51.4" cy="455.91" r="0.72" fill="#000"/>
<circle cx="51.15" cy="436.28" r="0.72" fill="#000"/>
<circle cx="50.9" cy="411.5" r="0.72" fill="#000"/>
<circle cx="49.41" cy="438.43" r="0.72" fill="#000"/>
<circle cx="50.36" cy="424.95" r="0.72" fill="#000"/>
<circle cx="50.19" cy="440.55" r="0.72" fill="#000"/>
<circle cx="50.68" cy="425.11" r="0.72" fill="#000"/>
<circle cx="50.41" cy="410.79" r="0.72" fill="#000"/>
<circle cx="51.18" cy="439.24" r="0.72" fill="#000"/>
<circle cx="50.13" cy="398.64" r="0.72" fill="#000"/>
<circle cx="50.22" cy="401.93" r="0.72" fill="#000"/>
<circle cx="51.25" cy="419.62" r="0.72" fill="#000"/>
<circle cx="49.56" cy="445.31" r="0.72" fill="#000"/>
<circle cx="49.7" cy="432.93" r="0.72" fill="#000"/>
<circle cx="49.38" cy="415.16" r="0.72" fill="#000"/>
<circle cx="50.7" cy="411.96" r="0.72" fill="#000"/>
<circle cx="49.51" cy="404.38" r="0.72" fill="#000"/>
<circle cx="51.43" cy="442.88" r="0.72" fill="#000"/>
<circle cx="50.36" cy="448.46" r="0.72" fill="#000"/>
<circle cx="51.16" cy="421.72" r="0.72" fill="#000"/>
<circle cx="51.57" cy="421.18" r="0.72" fill="#000"/>
<circle cx="50.69" cy="429.99" r="0.72" fill="#000"/>
<circle cx="51.14" cy="414.15" r="0.72" fill="#000"/>
<circle cx="51.62" cy="424.29" r="0.72" fill="#000"/>
<circle cx="49.87" cy="449.69" r="0.72" fill="#000"/>
<circle cx="49.72" cy="435.4" r="0.72" fill="#000"/>
<circle cx="49.68" cy="418.92" r="0.72" fill="#000"/>
<circle cx="49.5" cy="442.09" r="0.72" fill="#000"/>
<circle cx="51.58" cy="414.83" r="0.72" fill="#000"/>
<circle cx="51.22" cy="467.06" r="0.72" fill="#000"/>
<line x1="61.45" y1="467" x2="61.45" y2="467.5" stroke="#111" stroke-width="0.6"/>
<line x1="61.45" y1="468.7" x2="61.45" y2="469" stroke="#111" stroke-width="0.6"/>
<rect x="57.5" y="467.5" width="7.9" height="1.2" fill="#E2FBB8" stroke="#555" stroke-width="0.8"/>
<line x1="57.5" y1="468.1" x2="65.4" y2="468.1" stroke="#555" stroke-width="0.8"/>
<circle cx="60.15" cy="468.53" r="0.72" fill="#000"/>
<circle cx="61.92" cy="467.56" r="0.72" fill="#000"/>
<circle cx="62.46" cy="467.87" r="0.72" fill="#000"/>
<circle cx="60.82" cy="467.68" r="0.72" fill="#000"/>
<circle cx="61.85" cy="468.81" r="0.72" fill="#000"/>
<circle cx="61.28" cy="468.74" r="0.72" fill="#000"/>
<circle cx="59.93" cy="468.44" r="0.72" fill="#000"/>
<circle cx="61.68" cy="468.78" r="0.72" fill="#000"/>
<circle cx="60.87" cy="468.62" r="0.72" fill="#000"/>
<circle cx="61.75" cy="468.63" r="0.72" fill="#000"/>
<circle cx="62.75" cy="467.78" r="0.72" fill="#000"/>
<circle cx="61.62" cy="467.38" r="0.72" fill="#000"/>
<circle cx="61.04" cy="468.72" r="0.72" fill="#000"/>
<circle cx="61.83" cy="468.87" r="0.72" fill="#000"/>
<circle cx="61.64" cy="467.32" r="0.72" fill="#000"/>
<circle cx="60.73" cy="468.64" r="0.72" fill="#000"/>
<circle cx="60.37" cy="467.88" r="0.72" fill="#000"/>
<circle cx="60.09" cy="467.36" r="0.72" fill="#000"/>
<circle cx="60.72" cy="468.56" r="0.72" fill="#000"/>
<circle cx="60.38" cy="467.29" r="0.72" fill="#000"/>
<circle cx="60.66" cy="468.87" r="0.72" fill="#000"/>
<circle cx="62.37" cy="467.24" r="0.72" fill="#000"/>
<circle cx="61.87" cy="468.02" r="0.72" fill="#000"/>
<circle cx="60.03" cy="467.13" r="0.72" fill="#000"/>
<circle cx="61.33" cy="468.21" r="0.72" fill="#000"/>
<circle cx="62.09" cy="467.82" r="0.72" fill="#000"/>
<circle cx="60.03" cy="467.48" r="0.72" fill="#000"/>
<circle cx="61.28" cy="467.36" r="0.72" fill="#000"/>
<circle cx="60.87" cy="467.95" r="0.72" fill="#000"/>
<circle cx="60.16" cy="468.5" r="0.72" fill="#000"/>
<circle cx="62.88" cy="468.58" r="0.72" fill="#000"/>
<circle cx="62.13" cy="467.33" r="0.72" fill="#000"/>
<circle cx="61.42" cy="467.81" r="0.72" fill="#000"/>
<circle cx="61.73" cy="468.56" r="0.72" fill="#000"/>
<circle cx="62.53" cy="468.23" r="0.72" fill="#000"/>
<circle cx="62.31" cy="467.46" r="0.72" fill="#000"/>
<line x1="69.35" y1="467" x2="69.35" y2="467.5" stroke="#111" stroke-width="0.6"/>
<line x1="69.35" y1="468.7" x2="69.35" y2="469" stroke="#111" stroke-width="0.6"/>
<rect x="65.4" y="467.5" width="7.9" height="1.2" fill="#1CAEE4" stroke="#555" stroke-width="0.8"/>
<line x1="65.4" y1="468.1" x2="73.3" y2="468.1" stroke="#555" stroke-width="0.8"/>
<circle cx="67.89" cy="467.47" r="0.72" fill="#000"/>
<circle cx="68.78" cy="468.69" r="0.72" fill="#000"/>
<circle cx="69.51" cy="468.1" r="0.72" fill="#000"/>
<circle cx="69.49" cy="467.37" r="0.72" fill="#000"/>
<circle cx="69.25" cy="468.75" r="0.72" fill="#000"/>
<circle cx="69.68" cy="468.9" r="0.72" fill="#000"/>
<circle cx="67.91" cy="468.63" r="0.72" fill="#000"/>
<circle cx="69.35" cy="468.73" r="0.72" fill="#000"/>
<circle cx="67.81" cy="467.34" r="0.72" fill="#000"/>
<circle cx="68.69" cy="468.01" r="0.72" fill="#000"/>
<circle cx="70.08" cy="467.65" r="0.72" fill="#000"/>
<circle cx="67.86" cy="467.32" r="0.72" fill="#000"/>
<circle cx="70.07" cy="469" r="0.72" fill="#000"/>
<circle cx="69.76" cy="468.35" r="0.72" fill="#000"/>
<circle cx="69.72" cy="468.16" r="0.72" fill="#000"/>
<circle cx="68.78" cy="467.82" r="0.72" fill="#000"/>
<circle cx="70.8" cy="467.87" r="0.72" fill="#000"/>
<circle cx="68.32" cy="468.82" r="0.72" fill="#000"/>
<circle cx="67.82" cy="468.94" r="0.72" fill="#000"/>
<circle cx="70.46" cy="468.7" r="0.72" fill="#000"/>
<circle cx="69.78" cy="467.48" r="0.72" fill="#000"/>
<circle cx="70.58" cy="468.13" r="0.72" fill="#000"/>
<circle cx="68.89" cy="468.24" r="0.72" fill="#000"/>
<circle cx="68.63" cy="467.27" r="0.72" fill="#000"/>
<circle cx="69.69" cy="468.6" r="0.72" fill="#000"/>
<circle cx="68.74" cy="468.89" r="0.72" fill="#000"/>
<circle cx="70.66" cy="468.67" r="0.72" fill="#000"/>
<circle cx="69.63" cy="468.78" r="0.72" fill="#000"/>
<circle cx="68.6" cy="468.77" r="0.72" fill="#000"/>
<circle cx="69.05" cy="468.1" r="0.72" fill="#000"/>
<circle cx="68.19" cy="468.93" r="0.72" fill="#000"/>
<circle cx="70.79" cy="468.05" r="0.72" fill="#000"/>
<circle cx="70.38" cy="468.8" r="0.72" fill="#000"/>
<circle cx="70.64" cy="467.59" r="0.72" fill="#000"/>
<circle cx="70.65" cy="468.49" r="0.72" fill="#000"/>
<circle cx="67.9" cy="467.91" r="0.72" fill="#000"/>
<circle cx="70.52" cy="468.63" r="0.72" fill="#000"/>
<circle cx="69.88" cy="467.94" r="0.72" fill="#000"/>
<circle cx="70.73" cy="467.52" r="0.72" fill="#000"/>
<circle cx="70.62" cy="467.23" r="0.72" fill="#000"/>
<circle cx="69.91" cy="468.69" r="0.72" fill="#000"/>
<circle cx="69.69" cy="468.78" r="0.72" fill="#000"/>
<line x1="77.15" y1="467" x2="77.15" y2="467.5" stroke="#111" stroke-width="0.6"/>
<line x1="77.15" y1="468.7" x2="77.15" y2="469" stroke="#111" stroke-width="0.6"/>
<rect x="73.3" y="467.5" width="7.7" height="1.2" fill="#C2E6F4" stroke="#555" stroke-width="0.8"/>
<line x1="73.3" y1="468.1" x2="81" y2="468.1" stroke="#555" stroke-width="0.8"/>
<circle cx="75.94" cy="468.24" r="0.72" fill="#000"/>
<circle cx="77.03" cy="468.74" r="0.72" fill="#000"/>
<circle cx="77.4" cy="468.96" r="0.72" fill="#000"/>
<circle cx="78.22" cy="467.34" r="0.72" fill="#000"/>
<circle cx="77.46" cy="468.32" r="0.72" fill="#000"/>
<circle cx="75.63" cy="468.02" r="0.72" fill="#000"/>
<circle cx="77.52" cy="467.3" r="0.72" fill="#000"/>
<circle cx="77.72" cy="468.61" r="0.72" fill="#000"/>
<circle cx="76.89" cy="467.2" r="0.72" fill="#000"/>
<circle cx="76.11" cy="468.78" r="0.72" fill="#000"/>
<circle cx="78.16" cy="467.67" r="0.72" fill="#000"/>
<circle cx="78.52" cy="467.21" r="0.72" fill="#000"/>
<circle cx="78.34" cy="467.9" r="0.72" fill="#000"/>
<circle cx="76.89" cy="467.81" r="0.72" fill="#000"/>
<circle cx="77.32" cy="468.78" r="0.72" fill="#000"/>
<circle cx="76.72" cy="467.8" r="0.72" fill="#000"/>
<circle cx="78.01" cy="467.44" r="0.72" fill="#000"/>
<circle cx="76.1" cy="468.04" r="0.72" fill="#000"/>
<circle cx="78.6" cy="467.25" r="0.72" fill="#000"/>
<circle cx="76.67" cy="468.96" r="0.72" fill="#000"/>
<circle cx="76.03" cy="468.92" r="0.72" fill="#000"/>
<circle cx="78.66" cy="468.72" r="0.72" fill="#000"/>
<circle cx="77.25" cy="467.81" r="0.72" fill="#000"/>
<circle cx="77.9" cy="468.39" r="0.72" fill="#000"/>
<circle cx="77.17" cy="468.42" r="0.72" fill="#000"/>
<circle cx="77.86" cy="467.34" r="0.72" fill="#000"/>
<circle cx="76.31" cy="468.86" r="0.72" fill="#000"/>
<circle cx="76.97" cy="467.3" r="0.72" fill="#000"/>
<circle cx="76.38" cy="468.26" r="0.72" fill="#000"/>
<circle cx="77.66" cy="468.8" r="0.72" fill="#000"/>
<circle cx="77.71" cy="467.87" r="0.72" fill="#000"/>
<circle cx="76.05" cy="468.11" r="0.72" fill="#000"/>
<circle cx="76.11" cy="467.31" r="0.72" fill="#000"/>
<circle cx="75.82" cy="467.74" r="0.72" fill="#000"/>
<circle cx="76.59" cy="467.73" r="0.72" fill="#000"/>
<circle cx="78.14" cy="468.62" r="0.72" fill="#000"/>
<circle cx="76.88" cy="467.43" r="0.72" fill="#000"/>
<circle cx="76.82" cy="467.53" r="0.72" fill="#000"/>
<line x1="90.2" y1="413" x2="90.2" y2="432.8" stroke="#111" stroke-width="0.6"/>
<line x1="90.2" y1="448.2" x2="90.2" y2="470" stroke="#111" stroke-width="0.6"/>
<rect x="87.1" y="432.8" width="6.2" height="15.4" fill="#E2FBB8" stroke="#555" stroke-width="0.8"/>
<line x1="87.1" y1="440" x2="93.3" y2="440" stroke="#555" stroke-width="0.8"/>
<circle cx="91.04" cy="448.44" r="0.72" fill="#000"/>
<circle cx="89.13" cy="432.99" r="0.72" fill="#000"/>
<circle cx="91" cy="428.03" r="0.72" fill="#000"/>
<circle cx="91.1" cy="449.33" r="0.72" fill="#000"/>
<circle cx="90.1" cy="445.42" r="0.72" fill="#000"/>
<circle cx="89.48" cy="429.79" r="0.72" fill="#000"/>
<circle cx="89.39" cy="446.43" r="0.72" fill="#000"/>
<circle cx="89.94" cy="434.1" r="0.72" fill="#000"/>
<circle cx="91.3" cy="440.19" r="0.72" fill="#000"/>
<circle cx="90.85" cy="439.39" r="0.72" fill="#000"/>
<circle cx="91.05" cy="420.62" r="0.72" fill="#000"/>
<circle cx="90.26" cy="451.93" r="0.72" fill="#000"/>
<circle cx="90.63" cy="423.83" r="0.72" fill="#000"/>
<circle cx="90.89" cy="425.02" r="0.72" fill="#000"/>
<circle cx="90.9" cy="443.64" r="0.72" fill="#000"/>
<circle cx="90.95" cy="431.61" r="0.72" fill="#000"/>
<circle cx="89.21" cy="433.65" r="0.72" fill="#000"/>
<circle cx="90.9" cy="435.57" r="0.72" fill="#000"/>
<circle cx="91.23" cy="465.11" r="0.72" fill="#000"/>
<circle cx="90.56" cy="430.52" r="0.72" fill="#000"/>
<circle cx="90.95" cy="448.69" r="0.72" fill="#000"/>
<circle cx="90.96" cy="436.5" r="0.72" fill="#000"/>
<circle cx="89.78" cy="429.95" r="0.72" fill="#000"/>
<circle cx="90.63" cy="443.87" r="0.72" fill="#000"/>
<circle cx="90.75" cy="426.54" r="0.72" fill="#000"/>
<circle cx="90.88" cy="429.02" r="0.72" fill="#000"/>
<circle cx="89.71" cy="447.18" r="0.72" fill="#000"/>
<circle cx="90.86" cy="453.23" r="0.72" fill="#000"/>
<circle cx="89.51" cy="438.41" r="0.72" fill="#000"/>
<circle cx="90.04" cy="437.53" r="0.72" fill="#000"/>
<circle cx="91.16" cy="439.36" r="0.72" fill="#000"/>
<circle cx="91.36" cy="433.94" r="0.72" fill="#000"/>
<circle cx="89.09" cy="437.08" r="0.72" fill="#000"/>
<circle cx="91.39" cy="455.14" r="0.72" fill="#000"/>
<circle cx="89.51" cy="441.64" r="0.72" fill="#000"/>
<circle cx="89.29" cy="428.77" r="0.72" fill="#000"/>
<circle cx="89.95" cy="441.34" r="0.72" fill="#000"/>
<circle cx="90.85" cy="441.67" r="0.72" fill="#000"/>
<circle cx="89.94" cy="454.08" r="0.72" fill="#000"/>
<circle cx="89.22" cy="448.57" r="0.72" fill="#000"/>
<circle cx="90.8" cy="448.18" r="0.72" fill="#000"/>
<circle cx="89.6" cy="423.78" r="0.72" fill="#000"/>
<circle cx="90.97" cy="436.63" r="0.72" fill="#000"/>
<circle cx="89.64" cy="417.28" r="0.72" fill="#000"/>
<line x1="97.2" y1="418" x2="97.2" y2="445.2" stroke="#111" stroke-width="0.6"/>
<line x1="97.2" y1="454.4" x2="97.2" y2="470" stroke="#111" stroke-width="0.6"/>
<rect x="94.1" y="445.2" width="6.2" height="9.2" fill="#1CAEE4" stroke="#555" stroke-width="0.8"/>
<line x1="94.1" y1="450" x2="100.3" y2="450" stroke="#555" stroke-width="0.8"/>
<circle cx="98.04" cy="446.94" r="0.72" fill="#000"/>
<circle cx="96.79" cy="430.7" r="0.72" fill="#000"/>
<circle cx="97.72" cy="431.93" r="0.72" fill="#000"/>
<circle cx="96.64" cy="448.55" r="0.72" fill="#000"/>
<circle cx="97.23" cy="466.76" r="0.72" fill="#000"/>
<circle cx="97.63" cy="454.89" r="0.72" fill="#000"/>
<circle cx="97.34" cy="446.92" r="0.72" fill="#000"/>
<circle cx="96.65" cy="445.46" r="0.72" fill="#000"/>
<circle cx="97.97" cy="439.08" r="0.72" fill="#000"/>
<circle cx="98.38" cy="451.21" r="0.72" fill="#000"/>
<circle cx="96.82" cy="456.41" r="0.72" fill="#000"/>
<circle cx="97.15" cy="450.68" r="0.72" fill="#000"/>
<circle cx="98.26" cy="431.08" r="0.72" fill="#000"/>
<circle cx="98.03" cy="454.32" r="0.72" fill="#000"/>
<circle cx="98.34" cy="462.94" r="0.72" fill="#000"/>
<circle cx="98.3" cy="453.99" r="0.72" fill="#000"/>
<circle cx="96.25" cy="450.11" r="0.72" fill="#000"/>
<circle cx="98.29" cy="423.08" r="0.72" fill="#000"/>
<circle cx="96" cy="449.15" r="0.72" fill="#000"/>
<circle cx="98.19" cy="441.27" r="0.72" fill="#000"/>
<circle cx="96.93" cy="447.84" r="0.72" fill="#000"/>
<circle cx="96.83" cy="447.32" r="0.72" fill="#000"/>
<circle cx="98.38" cy="428.13" r="0.72" fill="#000"/>
<circle cx="97.65" cy="447.91" r="0.72" fill="#000"/>
<circle cx="97.02" cy="450.18" r="0.72" fill="#000"/>
<circle cx="96.58" cy="449.01" r="0.72" fill="#000"/>
<circle cx="96.05" cy="431.95" r="0.72" fill="#000"/>
<circle cx="96.83" cy="456.44" r="0.72" fill="#000"/>
<circle cx="95.99" cy="450.7" r="0.72" fill="#000"/>
<circle cx="96.05" cy="443.5" r="0.72" fill="#000"/>
<circle cx="96.51" cy="452.47" r="0.72" fill="#000"/>
<circle cx="96.88" cy="462.03" r="0.72" fill="#000"/>
<circle cx="98" cy="446.92" r="0.72" fill="#000"/>
<circle cx="96.45" cy="446.74" r="0.72" fill="#000"/>
<circle cx="96.83" cy="447.94" r="0.72" fill="#000"/>
<circle cx="97.82" cy="460.29" r="0.72" fill="#000"/>
<circle cx="97.63" cy="453.11" r="0.72" fill="#000"/>
<circle cx="97.81" cy="435.84" r="0.72" fill="#000"/>
<circle cx="97.34" cy="447.78" r="0.72" fill="#000"/>
<circle cx="97.03" cy="450.55" r="0.72" fill="#000"/>
<circle cx="96.16" cy="447.76" r="0.72" fill="#000"/>
<circle cx="96.7" cy="451.86" r="0.72" fill="#000"/>
<circle cx="96.56" cy="446.29" r="0.72" fill="#000"/>
<circle cx="96.2" cy="469.13" r="0.72" fill="#000"/>
<circle cx="96" cy="443.89" r="0.72" fill="#000"/>
<circle cx="97.51" cy="446.91" r="0.72" fill="#000"/>
<circle cx="97.34" cy="434.48" r="0.72" fill="#000"/>
<circle cx="97.66" cy="453.06" r="0.72" fill="#000"/>
<circle cx="97.89" cy="434.08" r="0.72" fill="#000"/>
<circle cx="98.42" cy="461.48" r="0.72" fill="#000"/>
<circle cx="96.25" cy="366" r="0.72" fill="#000"/>
<line x1="103.9" y1="420" x2="103.9" y2="439.5" stroke="#111" stroke-width="0.6"/>
<line x1="103.9" y1="449" x2="103.9" y2="465" stroke="#111" stroke-width="0.6"/>
<rect x="100.8" y="439.5" width="6.2" height="9.5" fill="#C2E6F4" stroke="#555" stroke-width="0.8"/>
<line x1="100.8" y1="444" x2="107" y2="444" stroke="#555" stroke-width="0.8"/>
<circle cx="104.9" cy="441.3" r="0.72" fill="#000"/>
<circle cx="104.39" cy="433.27" r="0.72" fill="#000"/>
<circle cx="103" cy="458.8" r="0.72" fill="#000"/>
<circle cx="103.01" cy="450.04" r="0.72" fill="#000"/>
<circle cx="104.32" cy="443.4" r="0.72" fill="#000"/>
<circle cx="103.81" cy="441.06" r="0.72" fill="#000"/>
<circle cx="104.9" cy="449.42" r="0.72" fill="#000"/>
<circle cx="103.2" cy="447.85" r="0.72" fill="#000"/>
<circle cx="105.08" cy="464.75" r="0.72" fill="#000"/>
<circle cx="104.6" cy="438.93" r="0.72" fill="#000"/>
<circle cx="103.6" cy="444.23" r="0.72" fill="#000"/>
<circle cx="103.88" cy="444.26" r="0.72" fill="#000"/>
<circle cx="103.72" cy="440.82" r="0.72" fill="#000"/>
<circle cx="102.71" cy="447.6" r="0.72" fill="#000"/>
<circle cx="102.87" cy="444.76" r="0.72" fill="#000"/>
<circle cx="105.08" cy="446.22" r="0.72" fill="#000"/>
<circle cx="103.81" cy="439.73" r="0.72" fill="#000"/>
<circle cx="104.21" cy="442.61" r="0.72" fill="#000"/>
<circle cx="104.36" cy="442.79" r="0.72" fill="#000"/>
<circle cx="103.49" cy="433.94" r="0.72" fill="#000"/>
<circle cx="105.04" cy="445.48" r="0.72" fill="#000"/>
<circle cx="104.7" cy="463.49" r="0.72" fill="#000"/>
<circle cx="103.26" cy="442.56" r="0.72" fill="#000"/>
<circle cx="104.42" cy="446.81" r="0.72" fill="#000"/>
<circle cx="103.43" cy="440" r="0.72" fill="#000"/>
<circle cx="103.16" cy="444.81" r="0.72" fill="#000"/>
<circle cx="104.51" cy="458.37" r="0.72" fill="#000"/>
<circle cx="103" cy="443.99" r="0.72" fill="#000"/>
<circle cx="105.04" cy="448.73" r="0.72" fill="#000"/>
<circle cx="103" cy="435.46" r="0.72" fill="#000"/>
<circle cx="103.4" cy="462.83" r="0.72" fill="#000"/>
<circle cx="104.86" cy="429.13" r="0.72" fill="#000"/>
<circle cx="104.93" cy="447.86" r="0.72" fill="#000"/>
<circle cx="102.77" cy="446.56" r="0.72" fill="#000"/>
<circle cx="103.63" cy="441.4" r="0.72" fill="#000"/>
<circle cx="103.97" cy="427" r="0.72" fill="#000"/>
<circle cx="104.39" cy="446.06" r="0.72" fill="#000"/>
<circle cx="102.75" cy="447.73" r="0.72" fill="#000"/>
<circle cx="103.44" cy="453.33" r="0.72" fill="#000"/>
<circle cx="103.76" cy="453.24" r="0.72" fill="#000"/>
<circle cx="104.67" cy="431.29" r="0.72" fill="#000"/>
<circle cx="103.43" cy="443.25" r="0.72" fill="#000"/>
<circle cx="103.41" cy="441.25" r="0.72" fill="#000"/>
<circle cx="104.48" cy="448.73" r="0.72" fill="#000"/>
<circle cx="103.17" cy="462.59" r="0.72" fill="#000"/>
<circle cx="103.12" cy="450.1" r="0.72" fill="#000"/>
<circle cx="103.78" cy="446.5" r="0.72" fill="#000"/>
<line x1="117.6" y1="428" x2="117.6" y2="449" stroke="#111" stroke-width="0.6"/>
<line x1="117.6" y1="463.6" x2="117.6" y2="470" stroke="#111" stroke-width="0.6"/>
<rect x="114.5" y="449" width="6.2" height="14.6" fill="#E2FBB8" stroke="#555" stroke-width="0.8"/>
<line x1="114.5" y1="456" x2="120.7" y2="456" stroke="#555" stroke-width="0.8"/>
<circle cx="118.83" cy="457.86" r="0.72" fill="#000"/>
<circle cx="116.73" cy="461.44" r="0.72" fill="#000"/>
<circle cx="117.1" cy="462.08" r="0.72" fill="#000"/>
<circle cx="118.49" cy="432.49" r="0.72" fill="#000"/>
<circle cx="116.72" cy="449.05" r="0.72" fill="#000"/>
<circle cx="117.74" cy="460.47" r="0.72" fill="#000"/>
<circle cx="117.38" cy="463.88" r="0.72" fill="#000"/>
<circle cx="118.19" cy="461.22" r="0.72" fill="#000"/>
<circle cx="118.56" cy="463.61" r="0.72" fill="#000"/>
<circle cx="116.59" cy="452.28" r="0.72" fill="#000"/>
<circle cx="117.23" cy="460.51" r="0.72" fill="#000"/>
<circle cx="118.44" cy="445.25" r="0.72" fill="#000"/>
<circle cx="117.35" cy="442.49" r="0.72" fill="#000"/>
<circle cx="118.76" cy="466" r="0.72" fill="#000"/>
<circle cx="118.8" cy="464.87" r="0.72" fill="#000"/>
<circle cx="118.6" cy="466.6" r="0.72" fill="#000"/>
<circle cx="117.87" cy="456.5" r="0.72" fill="#000"/>
<circle cx="118.25" cy="460.73" r="0.72" fill="#000"/>
<circle cx="118.35" cy="452.87" r="0.72" fill="#000"/>
<circle cx="117.72" cy="452.53" r="0.72" fill="#000"/>
<circle cx="117.13" cy="450.95" r="0.72" fill="#000"/>
<circle cx="116.53" cy="447.38" r="0.72" fill="#000"/>
<circle cx="116.83" cy="465.72" r="0.72" fill="#000"/>
<circle cx="118.07" cy="445.26" r="0.72" fill="#000"/>
<circle cx="116.67" cy="461.53" r="0.72" fill="#000"/>
<circle cx="118.72" cy="453.55" r="0.72" fill="#000"/>
<circle cx="116.51" cy="466.36" r="0.72" fill="#000"/>
<circle cx="117.3" cy="452.69" r="0.72" fill="#000"/>
<circle cx="118.22" cy="463.77" r="0.72" fill="#000"/>
<circle cx="116.37" cy="464" r="0.72" fill="#000"/>
<circle cx="118.56" cy="469.55" r="0.72" fill="#000"/>
<circle cx="116.57" cy="439.67" r="0.72" fill="#000"/>
<circle cx="118.81" cy="460.72" r="0.72" fill="#000"/>
<circle cx="116.99" cy="460.55" r="0.72" fill="#000"/>
<circle cx="118.69" cy="457.54" r="0.72" fill="#000"/>
<circle cx="116.46" cy="447.12" r="0.72" fill="#000"/>
<circle cx="117.37" cy="453.77" r="0.72" fill="#000"/>
<circle cx="118.69" cy="455.86" r="0.72" fill="#000"/>
<circle cx="117.17" cy="449.58" r="0.72" fill="#000"/>
<circle cx="116.61" cy="468.98" r="0.72" fill="#000"/>
<circle cx="116.76" cy="455.63" r="0.72" fill="#000"/>
<circle cx="118.27" cy="456.94" r="0.72" fill="#000"/>
<circle cx="117.63" cy="446.56" r="0.72" fill="#000"/>
<circle cx="117.83" cy="455.1" r="0.72" fill="#000"/>
<circle cx="118.66" cy="447.17" r="0.72" fill="#000"/>
<circle cx="118.47" cy="452.42" r="0.72" fill="#000"/>
<circle cx="116.49" cy="461.54" r="0.72" fill="#000"/>
<circle cx="118.12" cy="453.72" r="0.72" fill="#000"/>
<circle cx="118.11" cy="461.52" r="0.72" fill="#000"/>
<circle cx="116.85" cy="452.06" r="0.72" fill="#000"/>
<line x1="124.3" y1="430" x2="124.3" y2="452" stroke="#111" stroke-width="0.6"/>
<line x1="124.3" y1="466.1" x2="124.3" y2="470" stroke="#111" stroke-width="0.6"/>
<rect x="121.2" y="452" width="6.2" height="14.1" fill="#1CAEE4" stroke="#555" stroke-width="0.8"/>
<line x1="121.2" y1="459" x2="127.4" y2="459" stroke="#555" stroke-width="0.8"/>
<circle cx="124.7" cy="453.31" r="0.72" fill="#000"/>
<circle cx="123.94" cy="446.74" r="0.72" fill="#000"/>
<circle cx="125.09" cy="464.53" r="0.72" fill="#000"/>
<circle cx="123.24" cy="455.85" r="0.72" fill="#000"/>
<circle cx="124.74" cy="433.24" r="0.72" fill="#000"/>
<circle cx="123.98" cy="469.24" r="0.72" fill="#000"/>
<circle cx="124.97" cy="466.38" r="0.72" fill="#000"/>
<circle cx="123.12" cy="461.58" r="0.72" fill="#000"/>
<circle cx="123.59" cy="451.03" r="0.72" fill="#000"/>
<circle cx="123.08" cy="457.98" r="0.72" fill="#000"/>
<circle cx="125.5" cy="461.18" r="0.72" fill="#000"/>
<circle cx="124.14" cy="469.07" r="0.72" fill="#000"/>
<circle cx="124.96" cy="468.73" r="0.72" fill="#000"/>
<circle cx="123.9" cy="462.56" r="0.72" fill="#000"/>
<circle cx="123.98" cy="454.48" r="0.72" fill="#000"/>
<circle cx="125.23" cy="456.5" r="0.72" fill="#000"/>
<circle cx="125.44" cy="443.14" r="0.72" fill="#000"/>
<circle cx="123.91" cy="466.19" r="0.72" fill="#000"/>
<circle cx="125.44" cy="443.24" r="0.72" fill="#000"/>
<circle cx="124.74" cy="451.07" r="0.72" fill="#000"/>
<circle cx="124.06" cy="452.79" r="0.72" fill="#000"/>
<circle cx="124.96" cy="459.86" r="0.72" fill="#000"/>
<circle cx="123.38" cy="447.87" r="0.72" fill="#000"/>
<circle cx="123.81" cy="469.97" r="0.72" fill="#000"/>
<circle cx="124.63" cy="447.51" r="0.72" fill="#000"/>
<circle cx="123.94" cy="457.36" r="0.72" fill="#000"/>
<circle cx="124.77" cy="464.3" r="0.72" fill="#000"/>
<circle cx="123.36" cy="430.91" r="0.72" fill="#000"/>
<circle cx="124.04" cy="462.42" r="0.72" fill="#000"/>
<circle cx="124.85" cy="466.45" r="0.72" fill="#000"/>
<circle cx="124.8" cy="469.21" r="0.72" fill="#000"/>
<circle cx="124" cy="456.43" r="0.72" fill="#000"/>
<circle cx="125.44" cy="456.28" r="0.72" fill="#000"/>
<circle cx="123.54" cy="462.82" r="0.72" fill="#000"/>
<circle cx="123.97" cy="453.09" r="0.72" fill="#000"/>
<circle cx="123.48" cy="468.72" r="0.72" fill="#000"/>
<circle cx="124.06" cy="454.93" r="0.72" fill="#000"/>
<circle cx="123.21" cy="464.17" r="0.72" fill="#000"/>
<circle cx="124.71" cy="442.41" r="0.72" fill="#000"/>
<circle cx="124.23" cy="466.76" r="0.72" fill="#000"/>
<circle cx="124.27" cy="468.27" r="0.72" fill="#000"/>
<circle cx="124.68" cy="460.2" r="0.72" fill="#000"/>
<circle cx="124.03" cy="455.65" r="0.72" fill="#000"/>
<circle cx="124.8" cy="456.79" r="0.72" fill="#000"/>
<circle cx="123.97" cy="467.09" r="0.72" fill="#000"/>
<circle cx="123.71" cy="449.94" r="0.72" fill="#000"/>
<circle cx="125.04" cy="466.19" r="0.72" fill="#000"/>
<circle cx="123.58" cy="459.26" r="0.72" fill="#000"/>
<circle cx="124.32" cy="437.66" r="0.72" fill="#000"/>
<circle cx="123.9" cy="455.21" r="0.72" fill="#000"/>
<circle cx="125.11" cy="458.1" r="0.72" fill="#000"/>
<circle cx="123.09" cy="460.75" r="0.72" fill="#000"/>
<circle cx="125.12" cy="459.05" r="0.72" fill="#000"/>
<circle cx="123.17" cy="455.47" r="0.72" fill="#000"/>
<circle cx="123.72" cy="469.29" r="0.72" fill="#000"/>
<line x1="131.3" y1="424.6" x2="131.3" y2="453.2" stroke="#111" stroke-width="0.6"/>
<line x1="131.3" y1="465.6" x2="131.3" y2="470" stroke="#111" stroke-width="0.6"/>
<rect x="128.2" y="453.2" width="6.2" height="12.4" fill="#C2E6F4" stroke="#555" stroke-width="0.8"/>
<line x1="128.2" y1="459" x2="134.4" y2="459" stroke="#555" stroke-width="0.8"/>
<circle cx="131.76" cy="455.34" r="0.72" fill="#000"/>
<circle cx="132.15" cy="464.97" r="0.72" fill="#000"/>
<circle cx="132.11" cy="442.68" r="0.72" fill="#000"/>
<circle cx="130.98" cy="460.68" r="0.72" fill="#000"/>
<circle cx="130.6" cy="465.15" r="0.72" fill="#000"/>
<circle cx="130.28" cy="468.71" r="0.72" fill="#000"/>
<circle cx="131.41" cy="467.15" r="0.72" fill="#000"/>
<circle cx="132.44" cy="460.11" r="0.72" fill="#000"/>
<circle cx="132" cy="462.29" r="0.72" fill="#000"/>
<circle cx="131.13" cy="468.32" r="0.72" fill="#000"/>
<circle cx="130.99" cy="457.97" r="0.72" fill="#000"/>
<circle cx="130.59" cy="469.04" r="0.72" fill="#000"/>
<circle cx="132.37" cy="453.75" r="0.72" fill="#000"/>
<circle cx="130.52" cy="458.05" r="0.72" fill="#000"/>
<circle cx="131.14" cy="464.87" r="0.72" fill="#000"/>
<circle cx="131.36" cy="450.18" r="0.72" fill="#000"/>
<circle cx="131.56" cy="468.74" r="0.72" fill="#000"/>
<circle cx="131.74" cy="451.22" r="0.72" fill="#000"/>
<circle cx="132.1" cy="464.35" r="0.72" fill="#000"/>
<circle cx="131.16" cy="468.2" r="0.72" fill="#000"/>
<circle cx="130.51" cy="460.94" r="0.72" fill="#000"/>
<circle cx="132.24" cy="447.84" r="0.72" fill="#000"/>
<circle cx="131.43" cy="460.4" r="0.72" fill="#000"/>
<circle cx="130.08" cy="441.33" r="0.72" fill="#000"/>
<circle cx="130.45" cy="469.46" r="0.72" fill="#000"/>
<circle cx="130.08" cy="467.85" r="0.72" fill="#000"/>
<circle cx="130.99" cy="438.49" r="0.72" fill="#000"/>
<circle cx="131.67" cy="463.52" r="0.72" fill="#000"/>
<circle cx="131.11" cy="460.25" r="0.72" fill="#000"/>
<circle cx="131.76" cy="466.18" r="0.72" fill="#000"/>
<circle cx="130.72" cy="469.37" r="0.72" fill="#000"/>
<circle cx="130.43" cy="466.07" r="0.72" fill="#000"/>
<circle cx="131.08" cy="451.47" r="0.72" fill="#000"/>
<circle cx="131.08" cy="454.43" r="0.72" fill="#000"/>
<circle cx="131.26" cy="468.01" r="0.72" fill="#000"/>
<circle cx="130.64" cy="435.76" r="0.72" fill="#000"/>
<circle cx="131.68" cy="462.3" r="0.72" fill="#000"/>
<circle cx="132.44" cy="460.21" r="0.72" fill="#000"/>
<circle cx="132.46" cy="455.19" r="0.72" fill="#000"/>
<circle cx="132.13" cy="451.48" r="0.72" fill="#000"/>
<circle cx="130.71" cy="465.48" r="0.72" fill="#000"/>
<circle cx="131.93" cy="455.99" r="0.72" fill="#000"/>
<circle cx="131.98" cy="458.7" r="0.72" fill="#000"/>
<circle cx="130.45" cy="438.88" r="0.72" fill="#000"/>
<circle cx="131.65" cy="469.14" r="0.72" fill="#000"/>
<circle cx="130.91" cy="431.94" r="0.72" fill="#000"/>
<circle cx="130.75" cy="459.42" r="0.72" fill="#000"/>
<circle cx="132.47" cy="442.71" r="0.72" fill="#000"/>
<circle cx="130.41" cy="453.67" r="0.72" fill="#000"/>
<line x1="144.75" y1="455" x2="144.75" y2="463.2" stroke="#111" stroke-width="0.6"/>
<line x1="144.75" y1="468.1" x2="144.75" y2="470" stroke="#111" stroke-width="0.6"/>
<rect x="141.4" y="463.2" width="6.7" height="4.9" fill="#E2FBB8" stroke="#555" stroke-width="0.8"/>
<line x1="141.4" y1="466" x2="148.1" y2="466" stroke="#555" stroke-width="0.8"/>
<circle cx="144.91" cy="465.97" r="0.72" fill="#000"/>
<circle cx="146" cy="462.18" r="0.72" fill="#000"/>
<circle cx="144.94" cy="462.22" r="0.72" fill="#000"/>
<circle cx="146.08" cy="467.31" r="0.72" fill="#000"/>
<circle cx="143.58" cy="461.22" r="0.72" fill="#000"/>
<circle cx="145.11" cy="469.17" r="0.72" fill="#000"/>
<circle cx="145.03" cy="466.05" r="0.72" fill="#000"/>
<circle cx="145.4" cy="465.22" r="0.72" fill="#000"/>
<circle cx="145.22" cy="469.32" r="0.72" fill="#000"/>
<circle cx="143.59" cy="469.5" r="0.72" fill="#000"/>
<circle cx="145.84" cy="463.37" r="0.72" fill="#000"/>
<circle cx="143.89" cy="458.3" r="0.72" fill="#000"/>
<circle cx="144.7" cy="466.18" r="0.72" fill="#000"/>
<circle cx="144.18" cy="466.4" r="0.72" fill="#000"/>
<circle cx="145.83" cy="468.09" r="0.72" fill="#000"/>
<circle cx="144.94" cy="469.73" r="0.72" fill="#000"/>
<circle cx="145.04" cy="465.05" r="0.72" fill="#000"/>
<circle cx="143.6" cy="468.54" r="0.72" fill="#000"/>
<circle cx="145.66" cy="469.33" r="0.72" fill="#000"/>
<circle cx="144.27" cy="464.65" r="0.72" fill="#000"/>
<circle cx="144.92" cy="465" r="0.72" fill="#000"/>
<circle cx="144.71" cy="469.91" r="0.72" fill="#000"/>
<circle cx="143.43" cy="467.92" r="0.72" fill="#000"/>
<circle cx="145.02" cy="466.52" r="0.72" fill="#000"/>
<circle cx="145.59" cy="469.26" r="0.72" fill="#000"/>
<circle cx="145.78" cy="469.88" r="0.72" fill="#000"/>
<circle cx="145.47" cy="461.28" r="0.72" fill="#000"/>
<circle cx="144.51" cy="465.77" r="0.72" fill="#000"/>
<circle cx="145.65" cy="468.33" r="0.72" fill="#000"/>
<circle cx="144.89" cy="465.46" r="0.72" fill="#000"/>
<circle cx="145.56" cy="466.73" r="0.72" fill="#000"/>
<circle cx="145.88" cy="468.69" r="0.72" fill="#000"/>
<circle cx="143.89" cy="462.17" r="0.72" fill="#000"/>
<circle cx="145.12" cy="466.94" r="0.72" fill="#000"/>
<circle cx="145.47" cy="466.09" r="0.72" fill="#000"/>
<circle cx="143.66" cy="468.13" r="0.72" fill="#000"/>
<circle cx="145.74" cy="463.22" r="0.72" fill="#000"/>
<circle cx="144.91" cy="469.49" r="0.72" fill="#000"/>
<circle cx="143.59" cy="465.46" r="0.72" fill="#000"/>
<circle cx="145.42" cy="468.34" r="0.72" fill="#000"/>
<circle cx="144.44" cy="463.97" r="0.72" fill="#000"/>
<circle cx="143.51" cy="467.81" r="0.72" fill="#000"/>
<circle cx="144.78" cy="465.28" r="0.72" fill="#000"/>
<circle cx="144.39" cy="467.12" r="0.72" fill="#000"/>
<circle cx="144.1" cy="458.45" r="0.72" fill="#000"/>
<circle cx="145.77" cy="464.77" r="0.72" fill="#000"/>
<circle cx="145.99" cy="463.24" r="0.72" fill="#000"/>
<circle cx="145.22" cy="467.81" r="0.72" fill="#000"/>
<circle cx="144.66" cy="468.75" r="0.72" fill="#000"/>
<circle cx="144.64" cy="468.75" r="0.72" fill="#000"/>
<circle cx="144.13" cy="466.31" r="0.72" fill="#000"/>
<circle cx="145.55" cy="418.4" r="0.72" fill="#000"/>
<circle cx="144.19" cy="432" r="0.72" fill="#000"/>
<circle cx="145.51" cy="440" r="0.72" fill="#000"/>
<line x1="151.2" y1="462" x2="151.2" y2="467" stroke="#111" stroke-width="0.6"/>
<line x1="151.2" y1="469.5" x2="151.2" y2="470" stroke="#111" stroke-width="0.6"/>
<rect x="148.1" y="467" width="6.2" height="2.5" fill="#1CAEE4" stroke="#555" stroke-width="0.8"/>
<line x1="148.1" y1="468" x2="154.3" y2="468" stroke="#555" stroke-width="0.8"/>
<circle cx="151.36" cy="469.7" r="0.72" fill="#000"/>
<circle cx="150.84" cy="467.28" r="0.72" fill="#000"/>
<circle cx="150.36" cy="467.3" r="0.72" fill="#000"/>
<circle cx="150.26" cy="468.38" r="0.72" fill="#000"/>
<circle cx="152.21" cy="464.74" r="0.72" fill="#000"/>
<circle cx="151.57" cy="466.28" r="0.72" fill="#000"/>
<circle cx="152.43" cy="469.96" r="0.72" fill="#000"/>
<circle cx="150.69" cy="467.74" r="0.72" fill="#000"/>
<circle cx="152.24" cy="468.92" r="0.72" fill="#000"/>
<circle cx="152.24" cy="467.42" r="0.72" fill="#000"/>
<circle cx="152.18" cy="467.2" r="0.72" fill="#000"/>
<circle cx="151.37" cy="467.04" r="0.72" fill="#000"/>
<circle cx="150.77" cy="467.97" r="0.72" fill="#000"/>
<circle cx="152.34" cy="469.96" r="0.72" fill="#000"/>
<circle cx="151.67" cy="469.32" r="0.72" fill="#000"/>
<circle cx="151.59" cy="465.85" r="0.72" fill="#000"/>
<circle cx="152.23" cy="469.58" r="0.72" fill="#000"/>
<circle cx="151.22" cy="469.76" r="0.72" fill="#000"/>
<circle cx="151" cy="469.4" r="0.72" fill="#000"/>
<circle cx="151.49" cy="469.48" r="0.72" fill="#000"/>
<circle cx="150.99" cy="467.04" r="0.72" fill="#000"/>
<circle cx="150.3" cy="469.96" r="0.72" fill="#000"/>
<circle cx="151.7" cy="469.47" r="0.72" fill="#000"/>
<circle cx="151.52" cy="463.51" r="0.72" fill="#000"/>
<circle cx="151.73" cy="467.1" r="0.72" fill="#000"/>
<circle cx="150.5" cy="469.48" r="0.72" fill="#000"/>
<circle cx="150.63" cy="467.88" r="0.72" fill="#000"/>
<circle cx="150.79" cy="469.66" r="0.72" fill="#000"/>
<circle cx="150" cy="464.34" r="0.72" fill="#000"/>
<circle cx="151.27" cy="468.68" r="0.72" fill="#000"/>
<circle cx="151.32" cy="469.48" r="0.72" fill="#000"/>
<circle cx="152.33" cy="467.82" r="0.72" fill="#000"/>
<circle cx="152.12" cy="467.01" r="0.72" fill="#000"/>
<circle cx="150.71" cy="466.74" r="0.72" fill="#000"/>
<circle cx="150.66" cy="469.51" r="0.72" fill="#000"/>
<circle cx="151.97" cy="468.1" r="0.72" fill="#000"/>
<circle cx="151.53" cy="468.22" r="0.72" fill="#000"/>
<circle cx="150.32" cy="469.47" r="0.72" fill="#000"/>
<circle cx="151.89" cy="468.81" r="0.72" fill="#000"/>
<circle cx="151.16" cy="468.17" r="0.72" fill="#000"/>
<circle cx="151.65" cy="467.46" r="0.72" fill="#000"/>
<circle cx="151.68" cy="467.99" r="0.72" fill="#000"/>
<circle cx="150.97" cy="468.2" r="0.72" fill="#000"/>
<circle cx="149.96" cy="469.58" r="0.72" fill="#000"/>
<circle cx="150.05" cy="467.87" r="0.72" fill="#000"/>
<circle cx="150.47" cy="465.39" r="0.72" fill="#000"/>
<circle cx="151.57" cy="463.78" r="0.72" fill="#000"/>
<circle cx="150.57" cy="468.71" r="0.72" fill="#000"/>
<circle cx="150.15" cy="469.94" r="0.72" fill="#000"/>
<circle cx="152.3" cy="469.54" r="0.72" fill="#000"/>
<circle cx="151.59" cy="469.57" r="0.72" fill="#000"/>
<circle cx="150.64" cy="469.45" r="0.72" fill="#000"/>
<circle cx="150.56" cy="464.8" r="0.72" fill="#000"/>
<circle cx="152.21" cy="467.53" r="0.72" fill="#000"/>
<circle cx="150.72" cy="442" r="0.72" fill="#000"/>
<circle cx="150.83" cy="450" r="0.72" fill="#000"/>
<line x1="157.4" y1="462" x2="157.4" y2="467" stroke="#111" stroke-width="0.6"/>
<line x1="157.4" y1="469.5" x2="157.4" y2="470" stroke="#111" stroke-width="0.6"/>
<rect x="154.3" y="467" width="6.2" height="2.5" fill="#C2E6F4" stroke="#555" stroke-width="0.8"/>
<line x1="154.3" y1="468" x2="160.5" y2="468" stroke="#555" stroke-width="0.8"/>
<circle cx="156.85" cy="463.43" r="0.72" fill="#000"/>
<circle cx="157.4" cy="467.04" r="0.72" fill="#000"/>
<circle cx="158.23" cy="469.67" r="0.72" fill="#000"/>
<circle cx="156.19" cy="469.5" r="0.72" fill="#000"/>
<circle cx="157.29" cy="469.4" r="0.72" fill="#000"/>
<circle cx="156.27" cy="469.8" r="0.72" fill="#000"/>
<circle cx="156.56" cy="468.61" r="0.72" fill="#000"/>
<circle cx="156.9" cy="468.67" r="0.72" fill="#000"/>
<circle cx="156.35" cy="464.32" r="0.72" fill="#000"/>
<circle cx="157.03" cy="468.97" r="0.72" fill="#000"/>
<circle cx="156.85" cy="466.29" r="0.72" fill="#000"/>
<circle cx="157.28" cy="469.51" r="0.72" fill="#000"/>
<circle cx="158.39" cy="467.43" r="0.72" fill="#000"/>
<circle cx="157.33" cy="468.95" r="0.72" fill="#000"/>
<circle cx="156.2" cy="469.93" r="0.72" fill="#000"/>
<circle cx="157.96" cy="469.73" r="0.72" fill="#000"/>
<circle cx="157.95" cy="468.8" r="0.72" fill="#000"/>
<circle cx="156.26" cy="469.75" r="0.72" fill="#000"/>
<circle cx="156.48" cy="465.92" r="0.72" fill="#000"/>
<circle cx="157.62" cy="469.51" r="0.72" fill="#000"/>
<circle cx="156.58" cy="466.84" r="0.72" fill="#000"/>
<circle cx="157.36" cy="468.69" r="0.72" fill="#000"/>
<circle cx="157.8" cy="469.55" r="0.72" fill="#000"/>
<circle cx="157.07" cy="469.33" r="0.72" fill="#000"/>
<circle cx="158.47" cy="468.28" r="0.72" fill="#000"/>
<circle cx="156.95" cy="469.77" r="0.72" fill="#000"/>
<circle cx="157.32" cy="466.63" r="0.72" fill="#000"/>
<circle cx="158.61" cy="468.97" r="0.72" fill="#000"/>
<circle cx="156.96" cy="467.13" r="0.72" fill="#000"/>
<circle cx="157.41" cy="468.62" r="0.72" fill="#000"/>
<circle cx="157.75" cy="469.56" r="0.72" fill="#000"/>
<circle cx="157.39" cy="463.46" r="0.72" fill="#000"/>
<circle cx="157.13" cy="467.06" r="0.72" fill="#000"/>
<circle cx="158.18" cy="467" r="0.72" fill="#000"/>
<circle cx="156.77" cy="469.54" r="0.72" fill="#000"/>
<circle cx="157.99" cy="469.19" r="0.72" fill="#000"/>
<circle cx="158.14" cy="469.67" r="0.72" fill="#000"/>
<circle cx="156.9" cy="464.27" r="0.72" fill="#000"/>
<circle cx="157.75" cy="465.04" r="0.72" fill="#000"/>
<circle cx="157.78" cy="467.04" r="0.72" fill="#000"/>
<circle cx="158.08" cy="466.34" r="0.72" fill="#000"/>
<circle cx="156.23" cy="469.66" r="0.72" fill="#000"/>
<circle cx="158.11" cy="466.84" r="0.72" fill="#000"/>
<circle cx="157.44" cy="469.73" r="0.72" fill="#000"/>
<circle cx="157.38" cy="469.11" r="0.72" fill="#000"/>
<circle cx="158.02" cy="469.86" r="0.72" fill="#000"/>
<circle cx="156.2" cy="467.73" r="0.72" fill="#000"/>
<circle cx="156.79" cy="466.18" r="0.72" fill="#000"/>
<circle cx="158.6" cy="469.57" r="0.72" fill="#000"/>
<circle cx="156.66" cy="464.81" r="0.72" fill="#000"/>
<circle cx="158.41" cy="469.75" r="0.72" fill="#000"/>
<circle cx="157.07" cy="469.23" r="0.72" fill="#000"/>
<circle cx="156.87" cy="455" r="0.72" fill="#000"/>
<circle cx="158.34" cy="460" r="0.72" fill="#000"/>
<line x1="60.1" y1="468.5" x2="80.6" y2="468.5" stroke="#111" stroke-width="1.1"/>
<circle cx="63.8" cy="468.4" r="1.5" fill="#000"/>
<circle cx="70.1" cy="468.4" r="1.5" fill="#000"/>
<circle cx="76.4" cy="468.4" r="1.5" fill="#000"/>
<text x="33.1" y="474.5" font-size="6.6" text-anchor="middle" fill="#9c9c9c" color="#9c9c9c">42</text>
<text x="42.6" y="474.5" font-size="6.6" text-anchor="middle" fill="#9c9c9c" color="#9c9c9c">47</text>
<text x="50.7" y="474.5" font-size="6.6" text-anchor="middle" fill="#9c9c9c" color="#9c9c9c">45</text>
<text x="61.2" y="474.5" font-size="6.6" text-anchor="middle" fill="#9c9c9c" color="#9c9c9c">36</text>
<text x="69.9" y="474.5" font-size="6.6" text-anchor="middle" fill="#9c9c9c" color="#9c9c9c">42</text>
<text x="78.7" y="474.5" font-size="6.6" text-anchor="middle" fill="#9c9c9c" color="#9c9c9c">38</text>
<text x="89" y="474.5" font-size="6.6" text-anchor="middle" fill="#9c9c9c" color="#9c9c9c">44</text>
<text x="97.1" y="474.5" font-size="6.6" text-anchor="middle" fill="#9c9c9c" color="#9c9c9c">50</text>
<text x="105.8" y="474.5" font-size="6.6" text-anchor="middle" fill="#9c9c9c" color="#9c9c9c">47</text>
<text x="115.2" y="474.5" font-size="6.6" text-anchor="middle" fill="#9c9c9c" color="#9c9c9c">50</text>
<text x="123.6" y="474.5" font-size="6.6" text-anchor="middle" fill="#9c9c9c" color="#9c9c9c">55</text>
<text x="131.7" y="474.5" font-size="6.6" text-anchor="middle" fill="#9c9c9c" color="#9c9c9c">49</text>
<text x="142.6" y="474.5" font-size="6.6" text-anchor="middle" fill="#9c9c9c" color="#9c9c9c">51</text>
<text x="150.9" y="474.5" font-size="6.6" text-anchor="middle" fill="#9c9c9c" color="#9c9c9c">54</text>
<text x="159" y="474.5" font-size="6.6" text-anchor="middle" fill="#9c9c9c" color="#9c9c9c">52</text>
<text x="43.6" y="482.7" font-size="7.6" text-anchor="middle" fill="#1a1a1a" color="#1a1a1a">NHS</text>
<text x="70.4" y="482.7" font-size="7.6" text-anchor="middle" fill="#1a1a1a" color="#1a1a1a">HS</text>
<text x="97.1" y="482.7" font-size="7.6" text-anchor="middle" fill="#1a1a1a" color="#1a1a1a">aTT</text>
<text x="124" y="482.7" font-size="7.6" text-anchor="middle" fill="#1a1a1a" color="#1a1a1a">2d</text>
<text x="150.9" y="482.7" font-size="7.6" text-anchor="middle" fill="#1a1a1a" color="#1a1a1a">3d</text>
<line x1="118.1" y1="485.5" x2="156.9" y2="485.5" stroke="#777" stroke-width="1.4"/>
<text x="137.1" y="494.5" font-size="7.6" text-anchor="middle" fill="#1a1a1a" color="#1a1a1a">maTT</text>
<line x1="37.3" y1="358.5" x2="49.8" y2="358.5" stroke="#000" stroke-width="1"/>
<text x="43.6" y="359.65" font-size="8.5" text-anchor="middle" fill="#000" color="#000">*</text>
<text x="39.8" y="367.1" font-size="8.8" text-anchor="middle" fill="#000" color="#000">ns</text>
<line x1="37.3" y1="368.5" x2="43.6" y2="368.5" stroke="#555" stroke-width="1"/>
<text x="97.1" y="352.2" font-size="8.8" text-anchor="middle" fill="#000" color="#000">ns</text>
<line x1="90.8" y1="354.5" x2="103.3" y2="354.5" stroke="#888" stroke-width="1.2"/>
<text x="93.3" y="363.55" font-size="8.5" text-anchor="middle" fill="#000" color="#000">*</text>
<line x1="90.8" y1="361.5" x2="97.1" y2="361.5" stroke="#555" stroke-width="1"/>
<text x="70.4" y="465.8" font-size="8.8" text-anchor="middle" fill="#000" color="#000">ns</text>
<text x="124.4" y="409.9" font-size="8.8" text-anchor="middle" fill="#000" color="#000">ns</text>
<line x1="144.3" y1="411.5" x2="157.3" y2="411.5" stroke="#000" stroke-width="1"/>
<text x="150.8" y="412.75" font-size="8.5" text-anchor="middle" fill="#000" color="#000">***</text>
<line x1="144.3" y1="418.5" x2="150.6" y2="418.5" stroke="#000" stroke-width="1"/>
<text x="147.5" y="420.05" font-size="8.5" text-anchor="middle" fill="#000" color="#000">**</text>
<rect x="121.2" y="341.8" width="5.5" height="3.3" fill="#E2FBB8" stroke="#666" stroke-width="0.7"/>
<text x="129.6" y="345.1" font-size="7.6" text-anchor="start" fill="#000" color="#000">GP</text>
<rect x="121.2" y="348.4" width="5.5" height="3.3" fill="#1CAEE4" stroke="#666" stroke-width="0.7"/>
<text x="129.6" y="351.8" font-size="7.6" text-anchor="start" fill="#000" color="#000" font-style="italic">hsfa3−1</text>
<rect x="121.2" y="354.6" width="5.5" height="3.3" fill="#C2E6F4" stroke="#666" stroke-width="0.7"/>
<text x="129.6" y="358.3" font-size="7.6" text-anchor="start" fill="#000" color="#000" font-style="italic">hsfa3−3</text>
<text x="179.7" y="342.5" font-size="12.5" text-anchor="start" fill="#000" color="#000" font-weight="bold">j</text>
<rect x="217.9" y="333.9" width="5.2" height="5.2" fill="#CAFF70" stroke="#666" stroke-width="0.7"/>
<text x="228.2" y="339.4" font-size="7.6" text-anchor="start" fill="#000" color="#000">GP</text>
<rect x="243.3" y="333.9" width="5.2" height="5.2" fill="#00BDFA" stroke="#666" stroke-width="0.7"/>
<text x="252.9" y="339.4" font-size="7.6" text-anchor="start" fill="#000" color="#000" font-style="italic">hsfa3−1</text>
<rect x="285.3" y="333.9" width="5.6" height="5.2" fill="#87CEEB" stroke="#666" stroke-width="0.7"/>
<text x="295.8" y="339.4" font-size="7.6" text-anchor="start" fill="#000" color="#000" font-style="italic">hsfa3−3</text>
<rect x="206.5" y="346.6" width="129.1" height="128.5" fill="none" stroke="#7a7a7a" stroke-width="1.15"/>
<line x1="204.7" y1="469.4" x2="206.5" y2="469.4" stroke="#333" stroke-width="0.8"/>
<text x="203.9" y="471.9" font-size="7.2" text-anchor="end" fill="#383838" color="#383838">0%</text>
<line x1="204.7" y1="441.62" x2="206.5" y2="441.62" stroke="#333" stroke-width="0.8"/>
<text x="203.9" y="444.12" font-size="7.2" text-anchor="end" fill="#383838" color="#383838">25%</text>
<line x1="204.7" y1="413.85" x2="206.5" y2="413.85" stroke="#333" stroke-width="0.8"/>
<text x="203.9" y="416.35" font-size="7.2" text-anchor="end" fill="#383838" color="#383838">50%</text>
<line x1="204.7" y1="386.07" x2="206.5" y2="386.07" stroke="#333" stroke-width="0.8"/>
<text x="203.9" y="388.57" font-size="7.2" text-anchor="end" fill="#383838" color="#383838">75%</text>
<line x1="204.7" y1="358.3" x2="206.5" y2="358.3" stroke="#333" stroke-width="0.8"/>
<text x="203.9" y="360.8" font-size="7.2" text-anchor="end" fill="#383838" color="#383838">100%</text>
<text x="184.5" y="409.6" font-size="9" text-anchor="middle" fill="#000" color="#000" transform="rotate(-90 184.5 409.6)">Survival rate</text>
<rect x="210.6" y="358.3" width="7.2" height="111.1" fill="#CAFF70" stroke="#1a1a1a" stroke-width="0.8"/>
<circle cx="214.2" cy="358.3" r="1.1" fill="#000"/>
<rect x="217.8" y="361.1" width="7.5" height="108.3" fill="#00BDFA" stroke="#1a1a1a" stroke-width="0.8"/>
<line x1="221.55" y1="358" x2="221.55" y2="364" stroke="#1a1a1a" stroke-width="0.8"/>
<line x1="220.15" y1="358" x2="222.95" y2="358" stroke="#1a1a1a" stroke-width="0.8"/>
<line x1="220.15" y1="364" x2="222.95" y2="364" stroke="#1a1a1a" stroke-width="0.8"/>
<circle cx="221.55" cy="358" r="1.1" fill="#000"/>
<circle cx="221.55" cy="366" r="1.1" fill="#000"/>
<rect x="225.3" y="360.6" width="6.9" height="108.8" fill="#87CEEB" stroke="#1a1a1a" stroke-width="0.8"/>
<line x1="228.75" y1="358" x2="228.75" y2="364" stroke="#1a1a1a" stroke-width="0.8"/>
<line x1="227.35" y1="358" x2="230.15" y2="358" stroke="#1a1a1a" stroke-width="0.8"/>
<line x1="227.35" y1="364" x2="230.15" y2="364" stroke="#1a1a1a" stroke-width="0.8"/>
<circle cx="228.75" cy="358" r="1.1" fill="#000"/>
<circle cx="228.75" cy="366" r="1.1" fill="#000"/>
<rect x="259.6" y="360.6" width="7.5" height="108.8" fill="#CAFF70" stroke="#1a1a1a" stroke-width="0.8"/>
<line x1="263.35" y1="358" x2="263.35" y2="364" stroke="#1a1a1a" stroke-width="0.8"/>
<line x1="261.95" y1="358" x2="264.75" y2="358" stroke="#1a1a1a" stroke-width="0.8"/>
<line x1="261.95" y1="364" x2="264.75" y2="364" stroke="#1a1a1a" stroke-width="0.8"/>
<circle cx="263.35" cy="358" r="1.1" fill="#000"/>
<circle cx="263.35" cy="364" r="1.1" fill="#000"/>
<rect x="267.1" y="358.3" width="7.4" height="111.1" fill="#00BDFA" stroke="#1a1a1a" stroke-width="0.8"/>
<circle cx="270.8" cy="358.3" r="1.1" fill="#000"/>
<rect x="274.5" y="358.3" width="7.5" height="111.1" fill="#87CEEB" stroke="#1a1a1a" stroke-width="0.8"/>
<circle cx="278.25" cy="358.3" r="1.1" fill="#000"/>
<rect x="284.5" y="360.6" width="7.5" height="108.8" fill="#CAFF70" stroke="#1a1a1a" stroke-width="0.8"/>
<line x1="288.25" y1="358" x2="288.25" y2="364" stroke="#1a1a1a" stroke-width="0.8"/>
<line x1="286.85" y1="358" x2="289.65" y2="358" stroke="#1a1a1a" stroke-width="0.8"/>
<line x1="286.85" y1="364" x2="289.65" y2="364" stroke="#1a1a1a" stroke-width="0.8"/>
<circle cx="288.25" cy="358" r="1.1" fill="#000"/>
<circle cx="288.25" cy="364" r="1.1" fill="#000"/>
<rect x="292" y="369.8" width="7.4" height="99.6" fill="#00BDFA" stroke="#1a1a1a" stroke-width="0.8"/>
<line x1="295.7" y1="363" x2="295.7" y2="377" stroke="#1a1a1a" stroke-width="0.8"/>
<line x1="294.3" y1="363" x2="297.1" y2="363" stroke="#1a1a1a" stroke-width="0.8"/>
<line x1="294.3" y1="377" x2="297.1" y2="377" stroke="#1a1a1a" stroke-width="0.8"/>
<circle cx="295.7" cy="357" r="1.1" fill="#000"/>
<circle cx="295.7" cy="381" r="1.1" fill="#000"/>
<rect x="299.4" y="375.5" width="7.5" height="93.9" fill="#87CEEB" stroke="#1a1a1a" stroke-width="0.8"/>
<line x1="303.15" y1="364" x2="303.15" y2="388" stroke="#1a1a1a" stroke-width="0.8"/>
<line x1="301.75" y1="364" x2="304.55" y2="364" stroke="#1a1a1a" stroke-width="0.8"/>
<line x1="301.75" y1="388" x2="304.55" y2="388" stroke="#1a1a1a" stroke-width="0.8"/>
<circle cx="303.15" cy="363" r="1.1" fill="#000"/>
<circle cx="303.15" cy="365" r="1.1" fill="#000"/>
<circle cx="303.15" cy="397" r="1.1" fill="#000"/>
<rect x="309.4" y="387.7" width="7.4" height="81.7" fill="#CAFF70" stroke="#1a1a1a" stroke-width="0.8"/>
<line x1="313.1" y1="384" x2="313.1" y2="391" stroke="#1a1a1a" stroke-width="0.8"/>
<line x1="311.7" y1="384" x2="314.5" y2="384" stroke="#1a1a1a" stroke-width="0.8"/>
<line x1="311.7" y1="391" x2="314.5" y2="391" stroke="#1a1a1a" stroke-width="0.8"/>
<circle cx="313.1" cy="382" r="1.1" fill="#000"/>
<circle cx="313.1" cy="384" r="1.1" fill="#000"/>
<circle cx="313.1" cy="395" r="1.1" fill="#000"/>
<rect x="316.8" y="443.2" width="7.5" height="26.2" fill="#00BDFA" stroke="#1a1a1a" stroke-width="0.8"/>
<line x1="320.55" y1="436" x2="320.55" y2="450" stroke="#1a1a1a" stroke-width="0.8"/>
<line x1="319.15" y1="436" x2="321.95" y2="436" stroke="#1a1a1a" stroke-width="0.8"/>
<line x1="319.15" y1="450" x2="321.95" y2="450" stroke="#1a1a1a" stroke-width="0.8"/>
<circle cx="320.55" cy="430" r="1.1" fill="#000"/>
<circle cx="320.55" cy="448" r="1.1" fill="#000"/>
<circle cx="320.55" cy="451" r="1.1" fill="#000"/>
<rect x="324.3" y="454.4" width="7.5" height="15" fill="#87CEEB" stroke="#1a1a1a" stroke-width="0.8"/>
<line x1="328.05" y1="445" x2="328.05" y2="463" stroke="#1a1a1a" stroke-width="0.8"/>
<line x1="326.65" y1="445" x2="329.45" y2="445" stroke="#1a1a1a" stroke-width="0.8"/>
<line x1="326.65" y1="463" x2="329.45" y2="463" stroke="#1a1a1a" stroke-width="0.8"/>
<circle cx="328.05" cy="439" r="1.1" fill="#000"/>
<circle cx="328.05" cy="463" r="1.1" fill="#000"/>
<line x1="236.5" y1="469.5" x2="256.5" y2="469.5" stroke="#000" stroke-width="0.9"/>
<circle cx="240" cy="469.4" r="1.1" fill="#000"/>
<circle cx="246.5" cy="469.4" r="1.1" fill="#000"/>
<circle cx="253" cy="469.4" r="1.1" fill="#000"/>
<text x="221" y="355.2" font-size="7.7" text-anchor="middle" fill="#000" color="#000">ns</text>
<text x="244.7" y="466.6" font-size="7.7" text-anchor="middle" fill="#000" color="#000">ns</text>
<text x="271" y="355.2" font-size="7.7" text-anchor="middle" fill="#000" color="#000">ns</text>
<line x1="288.3" y1="355.5" x2="294.5" y2="355.5" stroke="#444" stroke-width="1"/>
<text x="291.4" y="357.05" font-size="8.5" text-anchor="middle" fill="#000" color="#000">*</text>
<line x1="313.3" y1="374.5" x2="327.6" y2="374.5" stroke="#444" stroke-width="1"/>
<text x="320.4" y="376.15" font-size="8.5" text-anchor="middle" fill="#000" color="#000">***</text>
<line x1="313.3" y1="380.5" x2="318.9" y2="380.5" stroke="#444" stroke-width="1"/>
<text x="316.8" y="382.05" font-size="8.5" text-anchor="middle" fill="#000" color="#000">***</text>
<text x="219.8" y="484" font-size="7.6" text-anchor="middle" fill="#1a1a1a" color="#1a1a1a">NHS</text>
<text x="244.7" y="484" font-size="7.6" text-anchor="middle" fill="#1a1a1a" color="#1a1a1a">HS</text>
<text x="271.5" y="484" font-size="7.6" text-anchor="middle" fill="#1a1a1a" color="#1a1a1a">aTT</text>
<text x="295.7" y="484" font-size="7.6" text-anchor="middle" fill="#1a1a1a" color="#1a1a1a">2d</text>
<text x="320.6" y="484" font-size="7.6" text-anchor="middle" fill="#1a1a1a" color="#1a1a1a">3d</text>
<line x1="290.7" y1="485.5" x2="325.5" y2="485.5" stroke="#777" stroke-width="1.4"/>
<text x="308.1" y="492.8" font-size="7.6" text-anchor="middle" fill="#1a1a1a" color="#1a1a1a">maTT</text>
<text x="347.3" y="345.3" font-size="12.5" text-anchor="start" fill="#000" color="#000" font-weight="bold">k</text>
<rect x="370.9" y="340.4" width="139.7" height="139.1" fill="none" stroke="#7a7a7a" stroke-width="1.15"/>
<line x1="369.1" y1="473.6" x2="370.9" y2="473.6" stroke="#333" stroke-width="0.8"/>
<text x="368.9" y="476.1" font-size="7.2" text-anchor="end" fill="#383838" color="#383838">0.0</text>
<line x1="369.1" y1="441.92" x2="370.9" y2="441.92" stroke="#333" stroke-width="0.8"/>
<text x="368.9" y="444.42" font-size="7.2" text-anchor="end" fill="#383838" color="#383838">0.2</text>
<line x1="369.1" y1="410.24" x2="370.9" y2="410.24" stroke="#333" stroke-width="0.8"/>
<text x="368.9" y="412.74" font-size="7.2" text-anchor="end" fill="#383838" color="#383838">0.4</text>
<line x1="369.1" y1="378.56" x2="370.9" y2="378.56" stroke="#333" stroke-width="0.8"/>
<text x="368.9" y="381.06" font-size="7.2" text-anchor="end" fill="#383838" color="#383838">0.6</text>
<line x1="369.1" y1="346.88" x2="370.9" y2="346.88" stroke="#333" stroke-width="0.8"/>
<text x="368.9" y="349.38" font-size="7.2" text-anchor="end" fill="#383838" color="#383838">0.8</text>
<text x="355.6" y="412.4" font-size="9" text-anchor="middle" fill="#000" color="#000" transform="rotate(-90 355.6 412.4)">Dry weight (g)</text>
<line x1="386.3" y1="375" x2="386.3" y2="392.2" stroke="#111" stroke-width="0.6"/>
<line x1="386.3" y1="410.1" x2="386.3" y2="438" stroke="#111" stroke-width="0.6"/>
<rect x="381.1" y="392.2" width="10.4" height="17.9" fill="#E2FBB8" stroke="#555" stroke-width="0.8"/>
<line x1="381.1" y1="400.9" x2="391.5" y2="400.9" stroke="#555" stroke-width="0.8"/>
<circle cx="387.43" cy="400.34" r="0.72" fill="#000"/>
<circle cx="386.02" cy="389.26" r="0.72" fill="#000"/>
<circle cx="384.55" cy="422.41" r="0.72" fill="#000"/>
<circle cx="388.1" cy="393.06" r="0.72" fill="#000"/>
<circle cx="385.51" cy="416.84" r="0.72" fill="#000"/>
<circle cx="384.96" cy="413.63" r="0.72" fill="#000"/>
<circle cx="386.83" cy="398.41" r="0.72" fill="#000"/>
<circle cx="388.2" cy="413.79" r="0.72" fill="#000"/>
<circle cx="387.62" cy="391.16" r="0.72" fill="#000"/>
<circle cx="384.74" cy="403.81" r="0.72" fill="#000"/>
<circle cx="387.44" cy="399.28" r="0.72" fill="#000"/>
<circle cx="387.72" cy="381.4" r="0.72" fill="#000"/>
<circle cx="386.08" cy="414.4" r="0.72" fill="#000"/>
<circle cx="384.75" cy="391.17" r="0.72" fill="#000"/>
<circle cx="386.75" cy="391.87" r="0.72" fill="#000"/>
<circle cx="386.33" cy="389.76" r="0.72" fill="#000"/>
<circle cx="386.42" cy="402.77" r="0.72" fill="#000"/>
<circle cx="385.73" cy="407.49" r="0.72" fill="#000"/>
<circle cx="387.61" cy="405.83" r="0.72" fill="#000"/>
<circle cx="385.27" cy="426.08" r="0.72" fill="#000"/>
<circle cx="387.19" cy="434.76" r="0.72" fill="#000"/>
<circle cx="386.27" cy="421.83" r="0.72" fill="#000"/>
<circle cx="387.03" cy="380.45" r="0.72" fill="#000"/>
<circle cx="387.36" cy="412.77" r="0.72" fill="#000"/>
<circle cx="384.43" cy="379.84" r="0.72" fill="#000"/>
<circle cx="385.51" cy="381.92" r="0.72" fill="#000"/>
<circle cx="387.33" cy="388.29" r="0.72" fill="#000"/>
<circle cx="384.27" cy="383.9" r="0.72" fill="#000"/>
<circle cx="386.41" cy="395.65" r="0.72" fill="#000"/>
<circle cx="385.84" cy="381.73" r="0.72" fill="#000"/>
<circle cx="387.19" cy="418.59" r="0.72" fill="#000"/>
<circle cx="386.2" cy="388.4" r="0.72" fill="#000"/>
<circle cx="384.89" cy="388.9" r="0.72" fill="#000"/>
<circle cx="384.42" cy="433.48" r="0.72" fill="#000"/>
<circle cx="384.61" cy="396.65" r="0.72" fill="#000"/>
<circle cx="384.73" cy="403.68" r="0.72" fill="#000"/>
<circle cx="385.89" cy="409.13" r="0.72" fill="#000"/>
<circle cx="385.65" cy="385.99" r="0.72" fill="#000"/>
<circle cx="386.15" cy="466.4" r="0.72" fill="#000"/>
<line x1="397.25" y1="375" x2="397.25" y2="390.5" stroke="#111" stroke-width="0.6"/>
<line x1="397.25" y1="406.7" x2="397.25" y2="435" stroke="#111" stroke-width="0.6"/>
<rect x="392.3" y="390.5" width="9.9" height="16.2" fill="#FBE27C" stroke="#555" stroke-width="0.8"/>
<line x1="392.3" y1="399.5" x2="402.2" y2="399.5" stroke="#555" stroke-width="0.8"/>
<circle cx="399.09" cy="380.81" r="0.72" fill="#000"/>
<circle cx="397.9" cy="417.22" r="0.72" fill="#000"/>
<circle cx="396.41" cy="394.09" r="0.72" fill="#000"/>
<circle cx="399.12" cy="381.12" r="0.72" fill="#000"/>
<circle cx="395.62" cy="393.63" r="0.72" fill="#000"/>
<circle cx="397.14" cy="414.38" r="0.72" fill="#000"/>
<circle cx="396.87" cy="400.83" r="0.72" fill="#000"/>
<circle cx="396.47" cy="397.47" r="0.72" fill="#000"/>
<circle cx="397.96" cy="403.84" r="0.72" fill="#000"/>
<circle cx="396.83" cy="389.38" r="0.72" fill="#000"/>
<circle cx="396.87" cy="397.35" r="0.72" fill="#000"/>
<circle cx="397.11" cy="375.76" r="0.72" fill="#000"/>
<circle cx="395.36" cy="383.19" r="0.72" fill="#000"/>
<circle cx="397.51" cy="375.94" r="0.72" fill="#000"/>
<circle cx="395.99" cy="391.06" r="0.72" fill="#000"/>
<circle cx="397.98" cy="392.94" r="0.72" fill="#000"/>
<circle cx="397.85" cy="383.44" r="0.72" fill="#000"/>
<circle cx="398.74" cy="398.57" r="0.72" fill="#000"/>
<circle cx="398.01" cy="404.59" r="0.72" fill="#000"/>
<circle cx="395.6" cy="375.72" r="0.72" fill="#000"/>
<circle cx="399.02" cy="396.1" r="0.72" fill="#000"/>
<circle cx="395.74" cy="429.21" r="0.72" fill="#000"/>
<circle cx="398.47" cy="388.3" r="0.72" fill="#000"/>
<circle cx="395.98" cy="408.9" r="0.72" fill="#000"/>
<circle cx="398.8" cy="425.77" r="0.72" fill="#000"/>
<circle cx="395.82" cy="404.91" r="0.72" fill="#000"/>
<circle cx="396.61" cy="430.83" r="0.72" fill="#000"/>
<circle cx="398" cy="399.39" r="0.72" fill="#000"/>
<circle cx="396.37" cy="391.43" r="0.72" fill="#000"/>
<circle cx="398.98" cy="407.95" r="0.72" fill="#000"/>
<circle cx="395.71" cy="393.81" r="0.72" fill="#000"/>
<circle cx="396.53" cy="431.41" r="0.72" fill="#000"/>
<circle cx="398.78" cy="401.08" r="0.72" fill="#000"/>
<circle cx="398.66" cy="400.76" r="0.72" fill="#000"/>
<circle cx="398.45" cy="399.72" r="0.72" fill="#000"/>
<circle cx="397.89" cy="394.93" r="0.72" fill="#000"/>
<circle cx="396.59" cy="385.65" r="0.72" fill="#000"/>
<circle cx="397.96" cy="412.31" r="0.72" fill="#000"/>
<circle cx="395.49" cy="415.32" r="0.72" fill="#000"/>
<circle cx="395.86" cy="391.57" r="0.72" fill="#000"/>
<circle cx="396.73" cy="396.05" r="0.72" fill="#000"/>
<circle cx="397.95" cy="401.27" r="0.72" fill="#000"/>
<circle cx="397.89" cy="383.46" r="0.72" fill="#000"/>
<circle cx="397.43" cy="379.5" r="0.72" fill="#000"/>
<circle cx="398.18" cy="401.45" r="0.72" fill="#000"/>
<circle cx="396.43" cy="466.4" r="0.72" fill="#000"/>
<line x1="408.2" y1="378" x2="408.2" y2="386.7" stroke="#111" stroke-width="0.6"/>
<line x1="408.2" y1="410.9" x2="408.2" y2="437" stroke="#111" stroke-width="0.6"/>
<rect x="403" y="386.7" width="10.4" height="24.2" fill="#C2E6F4" stroke="#555" stroke-width="0.8"/>
<line x1="403" y1="404.2" x2="413.4" y2="404.2" stroke="#555" stroke-width="0.8"/>
<circle cx="406.83" cy="401.61" r="0.72" fill="#000"/>
<circle cx="407.72" cy="384.45" r="0.72" fill="#000"/>
<circle cx="406.3" cy="384.18" r="0.72" fill="#000"/>
<circle cx="408.28" cy="384.53" r="0.72" fill="#000"/>
<circle cx="407.69" cy="428.4" r="0.72" fill="#000"/>
<circle cx="409.49" cy="389.8" r="0.72" fill="#000"/>
<circle cx="407.96" cy="384.46" r="0.72" fill="#000"/>
<circle cx="408.33" cy="381.53" r="0.72" fill="#000"/>
<circle cx="408.74" cy="401.73" r="0.72" fill="#000"/>
<circle cx="406.5" cy="381.75" r="0.72" fill="#000"/>
<circle cx="408.24" cy="403.34" r="0.72" fill="#000"/>
<circle cx="407.78" cy="383.25" r="0.72" fill="#000"/>
<circle cx="406.98" cy="413.45" r="0.72" fill="#000"/>
<circle cx="407.92" cy="384.6" r="0.72" fill="#000"/>
<circle cx="408.9" cy="383.32" r="0.72" fill="#000"/>
<circle cx="408.78" cy="431.23" r="0.72" fill="#000"/>
<circle cx="407.98" cy="409.63" r="0.72" fill="#000"/>
<circle cx="408.96" cy="385.99" r="0.72" fill="#000"/>
<circle cx="408.62" cy="404.68" r="0.72" fill="#000"/>
<circle cx="408.34" cy="425.01" r="0.72" fill="#000"/>
<circle cx="407.78" cy="422.27" r="0.72" fill="#000"/>
<circle cx="406.84" cy="435.12" r="0.72" fill="#000"/>
<circle cx="409.79" cy="407.47" r="0.72" fill="#000"/>
<circle cx="408.97" cy="392.86" r="0.72" fill="#000"/>
<circle cx="407.98" cy="414.4" r="0.72" fill="#000"/>
<circle cx="407.85" cy="381.52" r="0.72" fill="#000"/>
<circle cx="407.08" cy="398.31" r="0.72" fill="#000"/>
<circle cx="406.74" cy="396.12" r="0.72" fill="#000"/>
<circle cx="407.86" cy="390.34" r="0.72" fill="#000"/>
<circle cx="407.84" cy="404.32" r="0.72" fill="#000"/>
<circle cx="407.36" cy="391.25" r="0.72" fill="#000"/>
<circle cx="408.06" cy="381.33" r="0.72" fill="#000"/>
<circle cx="408.04" cy="431.38" r="0.72" fill="#000"/>
<circle cx="407.06" cy="425.58" r="0.72" fill="#000"/>
<line x1="429.6" y1="414" x2="429.6" y2="438.8" stroke="#111" stroke-width="0.6"/>
<line x1="429.6" y1="448.7" x2="429.6" y2="465" stroke="#111" stroke-width="0.6"/>
<rect x="424.6" y="438.8" width="10" height="9.9" fill="#E2FBB8" stroke="#555" stroke-width="0.8"/>
<line x1="424.6" y1="444" x2="434.6" y2="444" stroke="#555" stroke-width="0.8"/>
<circle cx="430.48" cy="454.58" r="0.72" fill="#000"/>
<circle cx="427.91" cy="423.86" r="0.72" fill="#000"/>
<circle cx="429.13" cy="421.02" r="0.72" fill="#000"/>
<circle cx="428.07" cy="462.34" r="0.72" fill="#000"/>
<circle cx="430.91" cy="441" r="0.72" fill="#000"/>
<circle cx="428.03" cy="441.03" r="0.72" fill="#000"/>
<circle cx="428.33" cy="443.98" r="0.72" fill="#000"/>
<circle cx="430.49" cy="446.06" r="0.72" fill="#000"/>
<circle cx="429.89" cy="446.58" r="0.72" fill="#000"/>
<circle cx="429.08" cy="451.37" r="0.72" fill="#000"/>
<circle cx="430.07" cy="437.99" r="0.72" fill="#000"/>
<circle cx="428.73" cy="441.28" r="0.72" fill="#000"/>
<circle cx="431.15" cy="448.57" r="0.72" fill="#000"/>
<circle cx="430.43" cy="455.82" r="0.72" fill="#000"/>
<circle cx="428.18" cy="443.57" r="0.72" fill="#000"/>
<circle cx="428" cy="441.3" r="0.72" fill="#000"/>
<circle cx="430.85" cy="449.48" r="0.72" fill="#000"/>
<circle cx="429.54" cy="419.85" r="0.72" fill="#000"/>
<circle cx="429.85" cy="464.72" r="0.72" fill="#000"/>
<circle cx="428.77" cy="459.12" r="0.72" fill="#000"/>
<circle cx="429.18" cy="432.2" r="0.72" fill="#000"/>
<circle cx="430.6" cy="454.38" r="0.72" fill="#000"/>
<circle cx="427.78" cy="443.2" r="0.72" fill="#000"/>
<circle cx="429.77" cy="436.85" r="0.72" fill="#000"/>
<circle cx="428.52" cy="432.66" r="0.72" fill="#000"/>
<circle cx="430.19" cy="444.53" r="0.72" fill="#000"/>
<circle cx="428.92" cy="443.53" r="0.72" fill="#000"/>
<circle cx="428.91" cy="433.61" r="0.72" fill="#000"/>
<circle cx="429.75" cy="436.48" r="0.72" fill="#000"/>
<circle cx="431.28" cy="452.25" r="0.72" fill="#000"/>
<circle cx="430.87" cy="442.4" r="0.72" fill="#000"/>
<circle cx="431.09" cy="444.88" r="0.72" fill="#000"/>
<circle cx="428.98" cy="458.61" r="0.72" fill="#000"/>
<circle cx="427.87" cy="445.05" r="0.72" fill="#000"/>
<circle cx="430.11" cy="447.53" r="0.72" fill="#000"/>
<line x1="440.55" y1="410" x2="440.55" y2="437" stroke="#111" stroke-width="0.6"/>
<line x1="440.55" y1="450.2" x2="440.55" y2="472" stroke="#111" stroke-width="0.6"/>
<rect x="435.3" y="437" width="10.5" height="13.2" fill="#FBE27C" stroke="#555" stroke-width="0.8"/>
<line x1="435.3" y1="443" x2="445.8" y2="443" stroke="#555" stroke-width="0.8"/>
<circle cx="441.52" cy="468.44" r="0.72" fill="#000"/>
<circle cx="441.45" cy="441.36" r="0.72" fill="#000"/>
<circle cx="439.15" cy="450.31" r="0.72" fill="#000"/>
<circle cx="441.2" cy="451.56" r="0.72" fill="#000"/>
<circle cx="442.07" cy="445.52" r="0.72" fill="#000"/>
<circle cx="439.8" cy="425.37" r="0.72" fill="#000"/>
<circle cx="440.17" cy="430.43" r="0.72" fill="#000"/>
<circle cx="439.54" cy="444.08" r="0.72" fill="#000"/>
<circle cx="438.87" cy="444.51" r="0.72" fill="#000"/>
<circle cx="441.93" cy="433.65" r="0.72" fill="#000"/>
<circle cx="442.33" cy="442.48" r="0.72" fill="#000"/>
<circle cx="439.29" cy="450.09" r="0.72" fill="#000"/>
<circle cx="441.25" cy="450.54" r="0.72" fill="#000"/>
<circle cx="441.11" cy="460.16" r="0.72" fill="#000"/>
<circle cx="439.2" cy="471.9" r="0.72" fill="#000"/>
<circle cx="440.04" cy="413.91" r="0.72" fill="#000"/>
<circle cx="441.07" cy="439.12" r="0.72" fill="#000"/>
<circle cx="438.49" cy="439.03" r="0.72" fill="#000"/>
<circle cx="438.75" cy="453.68" r="0.72" fill="#000"/>
<circle cx="441.1" cy="432.12" r="0.72" fill="#000"/>
<circle cx="441.47" cy="428.54" r="0.72" fill="#000"/>
<circle cx="441.36" cy="448.12" r="0.72" fill="#000"/>
<circle cx="441.98" cy="468.95" r="0.72" fill="#000"/>
<circle cx="441.53" cy="428.29" r="0.72" fill="#000"/>
<circle cx="442.3" cy="413.15" r="0.72" fill="#000"/>
<circle cx="440.35" cy="443.39" r="0.72" fill="#000"/>
<circle cx="440.93" cy="444.63" r="0.72" fill="#000"/>
<circle cx="439.74" cy="461.72" r="0.72" fill="#000"/>
<circle cx="441.12" cy="436.33" r="0.72" fill="#000"/>
<circle cx="441.35" cy="450.26" r="0.72" fill="#000"/>
<circle cx="439.84" cy="439.15" r="0.72" fill="#000"/>
<circle cx="439.34" cy="438.13" r="0.72" fill="#000"/>
<circle cx="441.81" cy="440.29" r="0.72" fill="#000"/>
<circle cx="438.68" cy="439.64" r="0.72" fill="#000"/>
<circle cx="440.68" cy="421.15" r="0.72" fill="#000"/>
<circle cx="440.5" cy="439.59" r="0.72" fill="#000"/>
<circle cx="440.81" cy="448.68" r="0.72" fill="#000"/>
<circle cx="442.43" cy="444.26" r="0.72" fill="#000"/>
<circle cx="439.36" cy="442.2" r="0.72" fill="#000"/>
<circle cx="441.02" cy="447.21" r="0.72" fill="#000"/>
<circle cx="439.01" cy="448.86" r="0.72" fill="#000"/>
<circle cx="442.29" cy="447.24" r="0.72" fill="#000"/>
<circle cx="440.81" cy="437.15" r="0.72" fill="#000"/>
<circle cx="439.91" cy="437.39" r="0.72" fill="#000"/>
<circle cx="439.2" cy="450.5" r="0.72" fill="#000"/>
<circle cx="439.74" cy="447.53" r="0.72" fill="#000"/>
<circle cx="438.5" cy="431.33" r="0.72" fill="#000"/>
<circle cx="441.81" cy="438.57" r="0.72" fill="#000"/>
<circle cx="440.51" cy="402" r="0.72" fill="#000"/>
<line x1="451.75" y1="417" x2="451.75" y2="433.3" stroke="#111" stroke-width="0.6"/>
<line x1="451.75" y1="446.2" x2="451.75" y2="458" stroke="#111" stroke-width="0.6"/>
<rect x="446.5" y="433.3" width="10.5" height="12.9" fill="#C2E6F4" stroke="#555" stroke-width="0.8"/>
<line x1="446.5" y1="440" x2="457" y2="440" stroke="#555" stroke-width="0.8"/>
<circle cx="452.97" cy="449.2" r="0.72" fill="#000"/>
<circle cx="452.88" cy="448.8" r="0.72" fill="#000"/>
<circle cx="451.11" cy="435.41" r="0.72" fill="#000"/>
<circle cx="452.42" cy="447.18" r="0.72" fill="#000"/>
<circle cx="451.46" cy="435.48" r="0.72" fill="#000"/>
<circle cx="453.35" cy="439.24" r="0.72" fill="#000"/>
<circle cx="453.8" cy="447.92" r="0.72" fill="#000"/>
<circle cx="453.08" cy="432.9" r="0.72" fill="#000"/>
<circle cx="453.55" cy="424.11" r="0.72" fill="#000"/>
<circle cx="450.14" cy="452.6" r="0.72" fill="#000"/>
<circle cx="453.35" cy="454.53" r="0.72" fill="#000"/>
<circle cx="452.74" cy="457.63" r="0.72" fill="#000"/>
<circle cx="451.77" cy="440.17" r="0.72" fill="#000"/>
<circle cx="453.12" cy="452.62" r="0.72" fill="#000"/>
<circle cx="453.7" cy="428.88" r="0.72" fill="#000"/>
<circle cx="452.58" cy="456.96" r="0.72" fill="#000"/>
<circle cx="450.87" cy="438.7" r="0.72" fill="#000"/>
<circle cx="450.11" cy="434.94" r="0.72" fill="#000"/>
<circle cx="453.29" cy="443.4" r="0.72" fill="#000"/>
<circle cx="449.71" cy="452.04" r="0.72" fill="#000"/>
<circle cx="453.3" cy="434.04" r="0.72" fill="#000"/>
<circle cx="451.55" cy="442.63" r="0.72" fill="#000"/>
<circle cx="452.41" cy="431.8" r="0.72" fill="#000"/>
<circle cx="451.14" cy="441.49" r="0.72" fill="#000"/>
<circle cx="450.67" cy="448.33" r="0.72" fill="#000"/>
<circle cx="450" cy="449.95" r="0.72" fill="#000"/>
<circle cx="451.72" cy="456.77" r="0.72" fill="#000"/>
<circle cx="451.08" cy="444.47" r="0.72" fill="#000"/>
<circle cx="453.35" cy="433.86" r="0.72" fill="#000"/>
<circle cx="451.18" cy="434.85" r="0.72" fill="#000"/>
<circle cx="450.54" cy="433.27" r="0.72" fill="#000"/>
<circle cx="453.27" cy="424.43" r="0.72" fill="#000"/>
<circle cx="453.17" cy="442.12" r="0.72" fill="#000"/>
<circle cx="449.69" cy="427.38" r="0.72" fill="#000"/>
<circle cx="452.85" cy="442.23" r="0.72" fill="#000"/>
<circle cx="452.79" cy="419.67" r="0.72" fill="#000"/>
<line x1="473.4" y1="449" x2="473.4" y2="461.4" stroke="#111" stroke-width="0.6"/>
<line x1="473.4" y1="471.4" x2="473.4" y2="473" stroke="#111" stroke-width="0.6"/>
<rect x="468.2" y="461.4" width="10.4" height="10" fill="#E2FBB8" stroke="#555" stroke-width="0.8"/>
<line x1="468.2" y1="468" x2="478.6" y2="468" stroke="#555" stroke-width="0.8"/>
<circle cx="471.39" cy="460.65" r="0.72" fill="#000"/>
<circle cx="471.56" cy="472.64" r="0.72" fill="#000"/>
<circle cx="472.1" cy="472.61" r="0.72" fill="#000"/>
<circle cx="473.2" cy="471.83" r="0.72" fill="#000"/>
<circle cx="474.43" cy="458.93" r="0.72" fill="#000"/>
<circle cx="471.89" cy="466.24" r="0.72" fill="#000"/>
<circle cx="471.63" cy="466.31" r="0.72" fill="#000"/>
<circle cx="472.06" cy="469.55" r="0.72" fill="#000"/>
<circle cx="474.39" cy="461.77" r="0.72" fill="#000"/>
<circle cx="474.42" cy="463.22" r="0.72" fill="#000"/>
<circle cx="473.85" cy="466.93" r="0.72" fill="#000"/>
<circle cx="471.96" cy="465.65" r="0.72" fill="#000"/>
<circle cx="472.34" cy="463.44" r="0.72" fill="#000"/>
<circle cx="472.21" cy="470.32" r="0.72" fill="#000"/>
<circle cx="471.87" cy="464.09" r="0.72" fill="#000"/>
<circle cx="474.51" cy="472.9" r="0.72" fill="#000"/>
<circle cx="473.2" cy="472.14" r="0.72" fill="#000"/>
<circle cx="472.32" cy="467.93" r="0.72" fill="#000"/>
<circle cx="474.1" cy="456.04" r="0.72" fill="#000"/>
<circle cx="471.9" cy="472.33" r="0.72" fill="#000"/>
<circle cx="473.56" cy="459.28" r="0.72" fill="#000"/>
<circle cx="473.56" cy="462.34" r="0.72" fill="#000"/>
<circle cx="474.35" cy="457.13" r="0.72" fill="#000"/>
<circle cx="472.22" cy="460.04" r="0.72" fill="#000"/>
<circle cx="471.8" cy="472.5" r="0.72" fill="#000"/>
<circle cx="474.59" cy="464.34" r="0.72" fill="#000"/>
<circle cx="474.38" cy="451.47" r="0.72" fill="#000"/>
<circle cx="472.48" cy="470.04" r="0.72" fill="#000"/>
<circle cx="473.24" cy="464.71" r="0.72" fill="#000"/>
<line x1="484.35" y1="449" x2="484.35" y2="463.5" stroke="#111" stroke-width="0.6"/>
<line x1="484.35" y1="471.4" x2="484.35" y2="473" stroke="#111" stroke-width="0.6"/>
<rect x="479.4" y="463.5" width="9.9" height="7.9" fill="#FBE27C" stroke="#555" stroke-width="0.8"/>
<line x1="479.4" y1="469" x2="489.3" y2="469" stroke="#555" stroke-width="0.8"/>
<circle cx="486.22" cy="468.09" r="0.72" fill="#000"/>
<circle cx="483.59" cy="458.36" r="0.72" fill="#000"/>
<circle cx="485.36" cy="471.39" r="0.72" fill="#000"/>
<circle cx="485.18" cy="468.2" r="0.72" fill="#000"/>
<circle cx="483.61" cy="471.71" r="0.72" fill="#000"/>
<circle cx="486.02" cy="468.16" r="0.72" fill="#000"/>
<circle cx="483.84" cy="453.45" r="0.72" fill="#000"/>
<circle cx="484.32" cy="464.77" r="0.72" fill="#000"/>
<circle cx="483.33" cy="465.64" r="0.72" fill="#000"/>
<circle cx="483.3" cy="470.26" r="0.72" fill="#000"/>
<circle cx="483.52" cy="457.37" r="0.72" fill="#000"/>
<circle cx="485.71" cy="469.65" r="0.72" fill="#000"/>
<circle cx="485.25" cy="462.51" r="0.72" fill="#000"/>
<circle cx="484.61" cy="465.35" r="0.72" fill="#000"/>
<circle cx="485.96" cy="461.54" r="0.72" fill="#000"/>
<circle cx="485.04" cy="472.95" r="0.72" fill="#000"/>
<circle cx="484.34" cy="461.68" r="0.72" fill="#000"/>
<circle cx="484.4" cy="472.75" r="0.72" fill="#000"/>
<circle cx="484.8" cy="466.51" r="0.72" fill="#000"/>
<circle cx="483.91" cy="458.51" r="0.72" fill="#000"/>
<circle cx="486.08" cy="460.55" r="0.72" fill="#000"/>
<circle cx="483.96" cy="471.41" r="0.72" fill="#000"/>
<circle cx="484.82" cy="458.97" r="0.72" fill="#000"/>
<circle cx="485.78" cy="466.54" r="0.72" fill="#000"/>
<circle cx="486.01" cy="462.42" r="0.72" fill="#000"/>
<circle cx="486" cy="472.73" r="0.72" fill="#000"/>
<circle cx="484.01" cy="472.86" r="0.72" fill="#000"/>
<circle cx="485.41" cy="467.02" r="0.72" fill="#000"/>
<circle cx="484.07" cy="472.35" r="0.72" fill="#000"/>
<circle cx="482.63" cy="464.54" r="0.72" fill="#000"/>
<circle cx="483.95" cy="463.5" r="0.72" fill="#000"/>
<circle cx="482.98" cy="471" r="0.72" fill="#000"/>
<circle cx="486.02" cy="470.6" r="0.72" fill="#000"/>
<circle cx="483.71" cy="459.01" r="0.72" fill="#000"/>
<circle cx="482.77" cy="465.73" r="0.72" fill="#000"/>
<circle cx="485.79" cy="472.73" r="0.72" fill="#000"/>
<circle cx="482.61" cy="468.53" r="0.72" fill="#000"/>
<circle cx="484.78" cy="451.94" r="0.72" fill="#000"/>
<circle cx="485.98" cy="471.23" r="0.72" fill="#000"/>
<circle cx="485.47" cy="470.77" r="0.72" fill="#000"/>
<circle cx="485.85" cy="470.29" r="0.72" fill="#000"/>
<circle cx="483.58" cy="468.79" r="0.72" fill="#000"/>
<circle cx="482.91" cy="467.13" r="0.72" fill="#000"/>
<circle cx="483.32" cy="472.41" r="0.72" fill="#000"/>
<circle cx="483.78" cy="464.02" r="0.72" fill="#000"/>
<circle cx="486.21" cy="461.97" r="0.72" fill="#000"/>
<circle cx="485.84" cy="457.91" r="0.72" fill="#000"/>
<circle cx="483.78" cy="461.79" r="0.72" fill="#000"/>
<circle cx="483.94" cy="471.59" r="0.72" fill="#000"/>
<circle cx="484.81" cy="466.47" r="0.72" fill="#000"/>
<circle cx="484.68" cy="471.42" r="0.72" fill="#000"/>
<circle cx="485.31" cy="469.98" r="0.72" fill="#000"/>
<circle cx="484.94" cy="472.93" r="0.72" fill="#000"/>
<circle cx="484.18" cy="469.18" r="0.72" fill="#000"/>
<circle cx="485.91" cy="464.35" r="0.72" fill="#000"/>
<circle cx="483.24" cy="464.61" r="0.72" fill="#000"/>
<circle cx="485.33" cy="463.94" r="0.72" fill="#000"/>
<circle cx="483.66" cy="465.88" r="0.72" fill="#000"/>
<line x1="495.55" y1="461" x2="495.55" y2="467.4" stroke="#111" stroke-width="0.6"/>
<line x1="495.55" y1="472.4" x2="495.55" y2="473" stroke="#111" stroke-width="0.6"/>
<rect x="490.6" y="467.4" width="9.9" height="5" fill="#C2E6F4" stroke="#555" stroke-width="0.8"/>
<line x1="490.6" y1="470" x2="500.5" y2="470" stroke="#555" stroke-width="0.8"/>
<circle cx="497.06" cy="471.48" r="0.72" fill="#000"/>
<circle cx="494.35" cy="468.78" r="0.72" fill="#000"/>
<circle cx="494.37" cy="468.47" r="0.72" fill="#000"/>
<circle cx="494.32" cy="472.47" r="0.72" fill="#000"/>
<circle cx="493.97" cy="472.94" r="0.72" fill="#000"/>
<circle cx="495.12" cy="472.34" r="0.72" fill="#000"/>
<circle cx="496.13" cy="466.13" r="0.72" fill="#000"/>
<circle cx="496.79" cy="471.01" r="0.72" fill="#000"/>
<circle cx="496.43" cy="469.13" r="0.72" fill="#000"/>
<circle cx="494.37" cy="472.96" r="0.72" fill="#000"/>
<circle cx="497.48" cy="472.64" r="0.72" fill="#000"/>
<circle cx="497.14" cy="472.63" r="0.72" fill="#000"/>
<circle cx="495.18" cy="472.43" r="0.72" fill="#000"/>
<circle cx="495.31" cy="472.49" r="0.72" fill="#000"/>
<circle cx="496.68" cy="464.42" r="0.72" fill="#000"/>
<circle cx="495.75" cy="470.39" r="0.72" fill="#000"/>
<circle cx="496.7" cy="471.36" r="0.72" fill="#000"/>
<circle cx="495.67" cy="472.47" r="0.72" fill="#000"/>
<circle cx="496" cy="471.07" r="0.72" fill="#000"/>
<circle cx="494.57" cy="472.44" r="0.72" fill="#000"/>
<circle cx="496.12" cy="472.03" r="0.72" fill="#000"/>
<circle cx="495.34" cy="471.09" r="0.72" fill="#000"/>
<circle cx="496.47" cy="471.31" r="0.72" fill="#000"/>
<circle cx="495.1" cy="468.86" r="0.72" fill="#000"/>
<circle cx="494.25" cy="468.33" r="0.72" fill="#000"/>
<circle cx="495.88" cy="467.29" r="0.72" fill="#000"/>
<circle cx="497.21" cy="467.55" r="0.72" fill="#000"/>
<text x="386.3" y="478" font-size="7.3" text-anchor="middle" fill="#9c9c9c" color="#9c9c9c">38</text>
<text x="397.25" y="478" font-size="7.3" text-anchor="middle" fill="#9c9c9c" color="#9c9c9c">45</text>
<text x="408.2" y="478" font-size="7.3" text-anchor="middle" fill="#9c9c9c" color="#9c9c9c">34</text>
<text x="429.6" y="478" font-size="7.3" text-anchor="middle" fill="#9c9c9c" color="#9c9c9c">35</text>
<text x="440.55" y="478" font-size="7.3" text-anchor="middle" fill="#9c9c9c" color="#9c9c9c">48</text>
<text x="451.75" y="478" font-size="7.3" text-anchor="middle" fill="#9c9c9c" color="#9c9c9c">36</text>
<text x="473.4" y="478" font-size="7.3" text-anchor="middle" fill="#9c9c9c" color="#9c9c9c">29</text>
<text x="484.35" y="478" font-size="7.3" text-anchor="middle" fill="#9c9c9c" color="#9c9c9c">58</text>
<text x="495.55" y="478" font-size="7.3" text-anchor="middle" fill="#9c9c9c" color="#9c9c9c">27</text>
<text x="397.2" y="488.9" font-size="7.6" text-anchor="middle" fill="#1a1a1a" color="#1a1a1a">NHS</text>
<text x="440.8" y="488.9" font-size="7.6" text-anchor="middle" fill="#1a1a1a" color="#1a1a1a">aTT</text>
<text x="484.4" y="488.9" font-size="7.6" text-anchor="middle" fill="#1a1a1a" color="#1a1a1a">maTT 3d</text>
<text x="397.2" y="370.1" font-size="8.8" text-anchor="middle" fill="#000" color="#000">ns</text>
<text x="440.8" y="397" font-size="8.8" text-anchor="middle" fill="#000" color="#000">ns</text>
<line x1="474.4" y1="437.5" x2="495.5" y2="437.5" stroke="#555" stroke-width="1"/>
<text x="484.5" y="438.65" font-size="8.5" text-anchor="middle" fill="#000" color="#000">*</text>
<line x1="486" y1="445.5" x2="495.5" y2="445.5" stroke="#555" stroke-width="1"/>
<text x="490.5" y="446.65" font-size="8.5" text-anchor="middle" fill="#000" color="#000">*</text>
<rect x="453.1" y="346" width="5.6" height="3.6" fill="#E2FBB8" stroke="#666" stroke-width="0.7"/>
<text x="460.6" y="349.9" font-size="7.6" text-anchor="start" fill="#000" color="#000">GP</text>
<rect x="453.1" y="352.5" width="5.6" height="3.7" fill="#FBE27C" stroke="#666" stroke-width="0.7"/>
<text x="460.6" y="356.5" font-size="7.6" text-anchor="start" fill="#000" color="#000">heterozygous</text>
<rect x="453.1" y="359.1" width="5.6" height="3.5" fill="#C2E6F4" stroke="#666" stroke-width="0.7"/>
<text x="460.6" y="363.2" font-size="7.6" text-anchor="start" fill="#000" color="#000" font-style="italic">hsfa3−3</text>
<text x="521.1" y="344.9" font-size="12.5" text-anchor="start" fill="#000" color="#000" font-weight="bold">l</text>
<rect x="553.9" y="337.2" width="5.5" height="5.6" fill="#CAFF70" stroke="#666" stroke-width="0.7"/>
<text x="563.2" y="343.2" font-size="7.6" text-anchor="start" fill="#000" color="#000">GP</text>
<rect x="577.6" y="337.2" width="5.5" height="5.6" fill="#FFF391" stroke="#666" stroke-width="0.7"/>
<text x="588.3" y="343.2" font-size="7.6" text-anchor="start" fill="#000" color="#000">heterozygous</text>
<rect x="640.6" y="337.2" width="5.9" height="5.6" fill="#87CEEB" stroke="#666" stroke-width="0.7"/>
<text x="650.5" y="343.2" font-size="7.6" text-anchor="start" fill="#000" color="#000" font-style="italic">hsfa3−3</text>
<rect x="552.4" y="347.8" width="131.2" height="131.7" fill="none" stroke="#7a7a7a" stroke-width="1.15"/>
<line x1="550.6" y1="473.4" x2="552.4" y2="473.4" stroke="#333" stroke-width="0.8"/>
<text x="549" y="476.4" font-size="7.4" text-anchor="end" fill="#383838" color="#383838">0%</text>
<line x1="550.6" y1="444.9" x2="552.4" y2="444.9" stroke="#333" stroke-width="0.8"/>
<text x="549" y="447.9" font-size="7.4" text-anchor="end" fill="#383838" color="#383838">25%</text>
<line x1="550.6" y1="416.4" x2="552.4" y2="416.4" stroke="#333" stroke-width="0.8"/>
<text x="549" y="419.4" font-size="7.4" text-anchor="end" fill="#383838" color="#383838">50%</text>
<line x1="550.6" y1="387.9" x2="552.4" y2="387.9" stroke="#333" stroke-width="0.8"/>
<text x="549" y="390.9" font-size="7.4" text-anchor="end" fill="#383838" color="#383838">75%</text>
<line x1="550.6" y1="359.4" x2="552.4" y2="359.4" stroke="#333" stroke-width="0.8"/>
<text x="549" y="362.4" font-size="7.4" text-anchor="end" fill="#383838" color="#383838">100%</text>
<text x="529.5" y="413.6" font-size="9" text-anchor="middle" fill="#000" color="#000" transform="rotate(-90 529.5 413.6)">Survival rate</text>
<rect x="558.5" y="359.4" width="12.3" height="114" fill="#CAFF70" stroke="#1a1a1a" stroke-width="0.8"/>
<circle cx="564.65" cy="359.4" r="1.1" fill="#000"/>
<rect x="570.8" y="359.4" width="12.5" height="114" fill="#FFF391" stroke="#1a1a1a" stroke-width="0.8"/>
<circle cx="577.05" cy="359.4" r="1.1" fill="#000"/>
<rect x="583.3" y="359.4" width="12.3" height="114" fill="#87CEEB" stroke="#1a1a1a" stroke-width="0.8"/>
<circle cx="589.45" cy="359.4" r="1.1" fill="#000"/>
<rect x="599.4" y="359.4" width="12.3" height="114" fill="#CAFF70" stroke="#1a1a1a" stroke-width="0.8"/>
<circle cx="605.55" cy="359.4" r="1.1" fill="#000"/>
<rect x="611.7" y="361.9" width="12.5" height="111.5" fill="#FFF391" stroke="#1a1a1a" stroke-width="0.8"/>
<line x1="617.95" y1="359.4" x2="617.95" y2="364.5" stroke="#1a1a1a" stroke-width="0.8"/>
<line x1="616.55" y1="359.4" x2="619.35" y2="359.4" stroke="#1a1a1a" stroke-width="0.8"/>
<line x1="616.55" y1="364.5" x2="619.35" y2="364.5" stroke="#1a1a1a" stroke-width="0.8"/>
<circle cx="617.95" cy="359.4" r="1.1" fill="#000"/>
<circle cx="617.95" cy="364.5" r="1.1" fill="#000"/>
<rect x="624.2" y="359.4" width="12.3" height="114" fill="#87CEEB" stroke="#1a1a1a" stroke-width="0.8"/>
<circle cx="630.35" cy="359.4" r="1.1" fill="#000"/>
<rect x="640.3" y="390.6" width="12.8" height="82.8" fill="#CAFF70" stroke="#1a1a1a" stroke-width="0.8"/>
<line x1="646.7" y1="383.5" x2="646.7" y2="397.5" stroke="#1a1a1a" stroke-width="0.8"/>
<line x1="645.3" y1="383.5" x2="648.1" y2="383.5" stroke="#1a1a1a" stroke-width="0.8"/>
<line x1="645.3" y1="397.5" x2="648.1" y2="397.5" stroke="#1a1a1a" stroke-width="0.8"/>
<circle cx="646.7" cy="383.5" r="1.1" fill="#000"/>
<circle cx="646.7" cy="397.5" r="1.1" fill="#000"/>
<rect x="653.1" y="395.7" width="12.2" height="77.7" fill="#FFF391" stroke="#1a1a1a" stroke-width="0.8"/>
<line x1="659.2" y1="378.5" x2="659.2" y2="413" stroke="#1a1a1a" stroke-width="0.8"/>
<line x1="657.8" y1="378.5" x2="660.6" y2="378.5" stroke="#1a1a1a" stroke-width="0.8"/>
<line x1="657.8" y1="413" x2="660.6" y2="413" stroke="#1a1a1a" stroke-width="0.8"/>
<circle cx="659.2" cy="378.5" r="1.1" fill="#000"/>
<circle cx="659.2" cy="413" r="1.1" fill="#000"/>
<rect x="665.3" y="424" width="12.6" height="49.4" fill="#87CEEB" stroke="#1a1a1a" stroke-width="0.8"/>
<line x1="671.6" y1="413" x2="671.6" y2="435" stroke="#1a1a1a" stroke-width="0.8"/>
<line x1="670.2" y1="413" x2="673" y2="413" stroke="#1a1a1a" stroke-width="0.8"/>
<line x1="670.2" y1="435" x2="673" y2="435" stroke="#1a1a1a" stroke-width="0.8"/>
<circle cx="671.6" cy="413" r="1.1" fill="#000"/>
<circle cx="671.6" cy="435" r="1.1" fill="#000"/>
<text x="576.9" y="357.3" font-size="7.8" text-anchor="middle" fill="#000" color="#000">ns</text>
<text x="617.3" y="357.3" font-size="7.8" text-anchor="middle" fill="#000" color="#000">ns</text>
<text x="658.2" y="373.7" font-size="7.8" text-anchor="middle" fill="#000" color="#000">ns</text>
<text x="576.9" y="487.4" font-size="7.6" text-anchor="middle" fill="#1a1a1a" color="#1a1a1a">NHS</text>
<text x="617.3" y="487.4" font-size="7.6" text-anchor="middle" fill="#1a1a1a" color="#1a1a1a">aTT</text>
<text x="657.7" y="487.4" font-size="7.6" text-anchor="middle" fill="#1a1a1a" color="#1a1a1a">maTT 3d</text>
<text x="6.8" y="500.6" font-size="12.5" text-anchor="start" fill="#000" color="#000" font-weight="bold">m</text>
<rect x="26.7" y="501.5" width="139.8" height="139.1" fill="none" stroke="#7a7a7a" stroke-width="1.15"/>
<line x1="24.9" y1="634.4" x2="26.7" y2="634.4" stroke="#333" stroke-width="0.8"/>
<text x="24.7" y="636.9" font-size="7.2" text-anchor="end" fill="#383838" color="#383838">0.0</text>
<line x1="24.9" y1="602.72" x2="26.7" y2="602.72" stroke="#333" stroke-width="0.8"/>
<text x="24.7" y="605.22" font-size="7.2" text-anchor="end" fill="#383838" color="#383838">0.2</text>
<line x1="24.9" y1="571.04" x2="26.7" y2="571.04" stroke="#333" stroke-width="0.8"/>
<text x="24.7" y="573.54" font-size="7.2" text-anchor="end" fill="#383838" color="#383838">0.4</text>
<line x1="24.9" y1="539.36" x2="26.7" y2="539.36" stroke="#333" stroke-width="0.8"/>
<text x="24.7" y="541.86" font-size="7.2" text-anchor="end" fill="#383838" color="#383838">0.6</text>
<line x1="24.9" y1="507.68" x2="26.7" y2="507.68" stroke="#333" stroke-width="0.8"/>
<text x="24.7" y="510.18" font-size="7.2" text-anchor="end" fill="#383838" color="#383838">0.8</text>
<text x="11.8" y="574.6" font-size="9" text-anchor="middle" fill="#000" color="#000" transform="rotate(-90 11.8 574.6)">Dry weight (g)</text>
<line x1="46.85" y1="543.1" x2="46.85" y2="560.4" stroke="#111" stroke-width="0.6"/>
<line x1="46.85" y1="578.1" x2="46.85" y2="596.3" stroke="#111" stroke-width="0.6"/>
<rect x="41.3" y="560.4" width="11.1" height="17.7" fill="#E2FBB8" stroke="#555" stroke-width="0.8"/>
<line x1="41.3" y1="568.5" x2="52.4" y2="568.5" stroke="#555" stroke-width="0.8"/>
<circle cx="48.86" cy="549.46" r="0.72" fill="#000"/>
<circle cx="48.81" cy="555.7" r="0.72" fill="#000"/>
<circle cx="45.62" cy="574.43" r="0.72" fill="#000"/>
<circle cx="47.91" cy="566.08" r="0.72" fill="#000"/>
<circle cx="46.04" cy="589.68" r="0.72" fill="#000"/>
<circle cx="45.6" cy="565.47" r="0.72" fill="#000"/>
<circle cx="45.14" cy="554.63" r="0.72" fill="#000"/>
<circle cx="47.74" cy="575.95" r="0.72" fill="#000"/>
<circle cx="46.62" cy="575.75" r="0.72" fill="#000"/>
<circle cx="47.69" cy="574.65" r="0.72" fill="#000"/>
<circle cx="47.05" cy="567.19" r="0.72" fill="#000"/>
<circle cx="45.02" cy="589.72" r="0.72" fill="#000"/>
<circle cx="45.91" cy="566.74" r="0.72" fill="#000"/>
<circle cx="45.25" cy="587.63" r="0.72" fill="#000"/>
<circle cx="46.76" cy="570.61" r="0.72" fill="#000"/>
<circle cx="45.88" cy="572.61" r="0.72" fill="#000"/>
<circle cx="46.86" cy="583.25" r="0.72" fill="#000"/>
<circle cx="48.63" cy="582.78" r="0.72" fill="#000"/>
<circle cx="45.68" cy="555.08" r="0.72" fill="#000"/>
<circle cx="48.27" cy="569.73" r="0.72" fill="#000"/>
<circle cx="48.73" cy="575.39" r="0.72" fill="#000"/>
<circle cx="45.68" cy="571.8" r="0.72" fill="#000"/>
<circle cx="45.73" cy="577.69" r="0.72" fill="#000"/>
<circle cx="47.33" cy="572.86" r="0.72" fill="#000"/>
<circle cx="46.7" cy="595.72" r="0.72" fill="#000"/>
<circle cx="45.3" cy="575.21" r="0.72" fill="#000"/>
<circle cx="48.3" cy="564.34" r="0.72" fill="#000"/>
<circle cx="47.08" cy="574.78" r="0.72" fill="#000"/>
<circle cx="46.17" cy="557.6" r="0.72" fill="#000"/>
<circle cx="47.43" cy="573.53" r="0.72" fill="#000"/>
<circle cx="45.35" cy="563.67" r="0.72" fill="#000"/>
<circle cx="45.96" cy="572.39" r="0.72" fill="#000"/>
<circle cx="45.66" cy="568.55" r="0.72" fill="#000"/>
<circle cx="46.86" cy="557.11" r="0.72" fill="#000"/>
<circle cx="46.7" cy="572.42" r="0.72" fill="#000"/>
<circle cx="45.26" cy="591.58" r="0.72" fill="#000"/>
<circle cx="45.09" cy="570.3" r="0.72" fill="#000"/>
<circle cx="44.86" cy="573.13" r="0.72" fill="#000"/>
<circle cx="48.64" cy="562.78" r="0.72" fill="#000"/>
<circle cx="48.27" cy="557.74" r="0.72" fill="#000"/>
<circle cx="46.22" cy="574.88" r="0.72" fill="#000"/>
<circle cx="45.87" cy="561.83" r="0.72" fill="#000"/>
<circle cx="46.83" cy="574.82" r="0.72" fill="#000"/>
<circle cx="45.97" cy="571.13" r="0.72" fill="#000"/>
<circle cx="45.58" cy="582.46" r="0.72" fill="#000"/>
<circle cx="47.49" cy="570.71" r="0.72" fill="#000"/>
<circle cx="47.53" cy="570.02" r="0.72" fill="#000"/>
<circle cx="46.54" cy="565.9" r="0.72" fill="#000"/>
<circle cx="45.81" cy="579.44" r="0.72" fill="#000"/>
<circle cx="48.28" cy="626.7" r="0.72" fill="#000"/>
<line x1="58.65" y1="562.1" x2="58.65" y2="575.6" stroke="#111" stroke-width="0.6"/>
<line x1="58.65" y1="585.7" x2="58.65" y2="601.4" stroke="#111" stroke-width="0.6"/>
<rect x="53.2" y="575.6" width="10.9" height="10.1" fill="#FBC0A6" stroke="#555" stroke-width="0.8"/>
<line x1="53.2" y1="579.9" x2="64.1" y2="579.9" stroke="#555" stroke-width="0.8"/>
<circle cx="58.2" cy="581.5" r="0.72" fill="#000"/>
<circle cx="58.75" cy="594.04" r="0.72" fill="#000"/>
<circle cx="60.17" cy="588.78" r="0.72" fill="#000"/>
<circle cx="60.69" cy="582.43" r="0.72" fill="#000"/>
<circle cx="59.98" cy="593.86" r="0.72" fill="#000"/>
<circle cx="60.22" cy="579.93" r="0.72" fill="#000"/>
<circle cx="57.47" cy="591.28" r="0.72" fill="#000"/>
<circle cx="56.97" cy="579.94" r="0.72" fill="#000"/>
<circle cx="58.78" cy="594.63" r="0.72" fill="#000"/>
<circle cx="58.27" cy="578.86" r="0.72" fill="#000"/>
<circle cx="58.07" cy="578.98" r="0.72" fill="#000"/>
<circle cx="56.51" cy="574.83" r="0.72" fill="#000"/>
<circle cx="56.51" cy="584.24" r="0.72" fill="#000"/>
<circle cx="58.79" cy="581.29" r="0.72" fill="#000"/>
<circle cx="59.58" cy="583.21" r="0.72" fill="#000"/>
<circle cx="58.11" cy="582.79" r="0.72" fill="#000"/>
<circle cx="59.31" cy="581.43" r="0.72" fill="#000"/>
<circle cx="57.3" cy="587.4" r="0.72" fill="#000"/>
<circle cx="59.91" cy="577.44" r="0.72" fill="#000"/>
<circle cx="59.47" cy="589.9" r="0.72" fill="#000"/>
<circle cx="59.83" cy="598.64" r="0.72" fill="#000"/>
<circle cx="57.89" cy="573.9" r="0.72" fill="#000"/>
<circle cx="58.23" cy="568.27" r="0.72" fill="#000"/>
<circle cx="56.48" cy="580.62" r="0.72" fill="#000"/>
<circle cx="60.43" cy="580.62" r="0.72" fill="#000"/>
<circle cx="58.18" cy="566.44" r="0.72" fill="#000"/>
<circle cx="60.24" cy="586.32" r="0.72" fill="#000"/>
<circle cx="58.93" cy="582.41" r="0.72" fill="#000"/>
<circle cx="57.82" cy="590" r="0.72" fill="#000"/>
<circle cx="57.85" cy="578.4" r="0.72" fill="#000"/>
<circle cx="57.25" cy="568.37" r="0.72" fill="#000"/>
<circle cx="60.64" cy="586.18" r="0.72" fill="#000"/>
<circle cx="59.67" cy="583.33" r="0.72" fill="#000"/>
<circle cx="56.51" cy="596.89" r="0.72" fill="#000"/>
<circle cx="59.91" cy="600.78" r="0.72" fill="#000"/>
<circle cx="56.57" cy="564.27" r="0.72" fill="#000"/>
<circle cx="57.15" cy="582.89" r="0.72" fill="#000"/>
<circle cx="58.94" cy="573.47" r="0.72" fill="#000"/>
<circle cx="59.63" cy="573.91" r="0.72" fill="#000"/>
<circle cx="58.97" cy="582.28" r="0.72" fill="#000"/>
<circle cx="57.09" cy="588.4" r="0.72" fill="#000"/>
<circle cx="57.18" cy="580.15" r="0.72" fill="#000"/>
<circle cx="58.11" cy="593.49" r="0.72" fill="#000"/>
<circle cx="57.04" cy="576.51" r="0.72" fill="#000"/>
<circle cx="58.81" cy="587.27" r="0.72" fill="#000"/>
<circle cx="58.9" cy="606.5" r="0.72" fill="#000"/>
<circle cx="59.53" cy="625.5" r="0.72" fill="#000"/>
<line x1="70.8" y1="544.4" x2="70.8" y2="569.2" stroke="#111" stroke-width="0.6"/>
<line x1="70.8" y1="593.3" x2="70.8" y2="625.5" stroke="#111" stroke-width="0.6"/>
<rect x="65.1" y="569.2" width="11.4" height="24.1" fill="#1CAEE4" stroke="#555" stroke-width="0.8"/>
<line x1="65.1" y1="578.6" x2="76.5" y2="578.6" stroke="#555" stroke-width="0.8"/>
<circle cx="69.9" cy="562.6" r="0.72" fill="#000"/>
<circle cx="71.99" cy="614.68" r="0.72" fill="#000"/>
<circle cx="71.87" cy="589.34" r="0.72" fill="#000"/>
<circle cx="70.57" cy="550.85" r="0.72" fill="#000"/>
<circle cx="70.25" cy="608.39" r="0.72" fill="#000"/>
<circle cx="70.02" cy="552.09" r="0.72" fill="#000"/>
<circle cx="70.29" cy="605.41" r="0.72" fill="#000"/>
<circle cx="70.58" cy="607.12" r="0.72" fill="#000"/>
<circle cx="70.77" cy="583.56" r="0.72" fill="#000"/>
<circle cx="71.36" cy="591.66" r="0.72" fill="#000"/>
<circle cx="70.33" cy="567.08" r="0.72" fill="#000"/>
<circle cx="70.26" cy="613.03" r="0.72" fill="#000"/>
<circle cx="71.29" cy="592.53" r="0.72" fill="#000"/>
<circle cx="70.41" cy="589.74" r="0.72" fill="#000"/>
<circle cx="69.45" cy="580.88" r="0.72" fill="#000"/>
<circle cx="70.62" cy="562.99" r="0.72" fill="#000"/>
<circle cx="71.68" cy="577.24" r="0.72" fill="#000"/>
<circle cx="71.4" cy="593.97" r="0.72" fill="#000"/>
<circle cx="72.06" cy="625.14" r="0.72" fill="#000"/>
<circle cx="72.39" cy="611.25" r="0.72" fill="#000"/>
<circle cx="71.78" cy="555.22" r="0.72" fill="#000"/>
<circle cx="69.61" cy="561.39" r="0.72" fill="#000"/>
<circle cx="72.1" cy="617.75" r="0.72" fill="#000"/>
<circle cx="69.36" cy="573.29" r="0.72" fill="#000"/>
<circle cx="71.92" cy="577.4" r="0.72" fill="#000"/>
<circle cx="68.77" cy="593.17" r="0.72" fill="#000"/>
<circle cx="70.81" cy="590.31" r="0.72" fill="#000"/>
<circle cx="71.42" cy="566.87" r="0.72" fill="#000"/>
<circle cx="72.99" cy="570.43" r="0.72" fill="#000"/>
<circle cx="69.02" cy="581.69" r="0.72" fill="#000"/>
<circle cx="69.27" cy="557.69" r="0.72" fill="#000"/>
<circle cx="71.29" cy="564.06" r="0.72" fill="#000"/>
<circle cx="72.39" cy="624.16" r="0.72" fill="#000"/>
<circle cx="71.56" cy="581.83" r="0.72" fill="#000"/>
<circle cx="70.57" cy="607.77" r="0.72" fill="#000"/>
<circle cx="72.33" cy="574.64" r="0.72" fill="#000"/>
<circle cx="72.97" cy="587.01" r="0.72" fill="#000"/>
<line x1="83" y1="547" x2="83" y2="572.3" stroke="#111" stroke-width="0.6"/>
<line x1="83" y1="587.5" x2="83" y2="605.2" stroke="#111" stroke-width="0.6"/>
<rect x="77.3" y="572.3" width="11.4" height="15.2" fill="#DDA6DD" stroke="#555" stroke-width="0.8"/>
<line x1="77.3" y1="578.6" x2="88.7" y2="578.6" stroke="#555" stroke-width="0.8"/>
<circle cx="82.58" cy="573.63" r="0.72" fill="#000"/>
<circle cx="80.89" cy="586" r="0.72" fill="#000"/>
<circle cx="84.61" cy="560.06" r="0.72" fill="#000"/>
<circle cx="82.24" cy="577.43" r="0.72" fill="#000"/>
<circle cx="82.71" cy="572.33" r="0.72" fill="#000"/>
<circle cx="81.04" cy="581.38" r="0.72" fill="#000"/>
<circle cx="84.85" cy="579.11" r="0.72" fill="#000"/>
<circle cx="84.32" cy="574.46" r="0.72" fill="#000"/>
<circle cx="83.33" cy="586.15" r="0.72" fill="#000"/>
<circle cx="84.23" cy="585.04" r="0.72" fill="#000"/>
<circle cx="81.66" cy="584.48" r="0.72" fill="#000"/>
<circle cx="84.41" cy="564.23" r="0.72" fill="#000"/>
<circle cx="84.23" cy="578.35" r="0.72" fill="#000"/>
<circle cx="83.63" cy="567.16" r="0.72" fill="#000"/>
<circle cx="82.94" cy="570.59" r="0.72" fill="#000"/>
<circle cx="80.87" cy="561.03" r="0.72" fill="#000"/>
<circle cx="84.46" cy="589.42" r="0.72" fill="#000"/>
<circle cx="81.5" cy="597.77" r="0.72" fill="#000"/>
<circle cx="81.05" cy="578.25" r="0.72" fill="#000"/>
<circle cx="82.25" cy="581.01" r="0.72" fill="#000"/>
<circle cx="83.59" cy="573.64" r="0.72" fill="#000"/>
<circle cx="81.76" cy="577.65" r="0.72" fill="#000"/>
<circle cx="84.87" cy="567.84" r="0.72" fill="#000"/>
<circle cx="85.12" cy="572.18" r="0.72" fill="#000"/>
<circle cx="82.93" cy="557.57" r="0.72" fill="#000"/>
<circle cx="82.75" cy="587.38" r="0.72" fill="#000"/>
<circle cx="81.33" cy="587.81" r="0.72" fill="#000"/>
<circle cx="82.33" cy="576.2" r="0.72" fill="#000"/>
<circle cx="82.64" cy="578.9" r="0.72" fill="#000"/>
<circle cx="82.34" cy="573.25" r="0.72" fill="#000"/>
<circle cx="80.76" cy="578.88" r="0.72" fill="#000"/>
<circle cx="83.89" cy="552.28" r="0.72" fill="#000"/>
<circle cx="81.92" cy="587.28" r="0.72" fill="#000"/>
<circle cx="82.25" cy="583.71" r="0.72" fill="#000"/>
<circle cx="85.14" cy="582.01" r="0.72" fill="#000"/>
<circle cx="83.99" cy="593.21" r="0.72" fill="#000"/>
<circle cx="81.79" cy="560.98" r="0.72" fill="#000"/>
<circle cx="80.98" cy="585.66" r="0.72" fill="#000"/>
<circle cx="81.39" cy="564.43" r="0.72" fill="#000"/>
<circle cx="84.26" cy="571" r="0.72" fill="#000"/>
<circle cx="85.17" cy="574.22" r="0.72" fill="#000"/>
<circle cx="84.38" cy="566.17" r="0.72" fill="#000"/>
<circle cx="81.34" cy="573.24" r="0.72" fill="#000"/>
<circle cx="84.69" cy="560.47" r="0.72" fill="#000"/>
<circle cx="83.77" cy="572" r="0.72" fill="#000"/>
<circle cx="80.85" cy="584.32" r="0.72" fill="#000"/>
<circle cx="83.07" cy="570.29" r="0.72" fill="#000"/>
<circle cx="83.21" cy="579.9" r="0.72" fill="#000"/>
<circle cx="82.27" cy="585.88" r="0.72" fill="#000"/>
<circle cx="82.17" cy="621.7" r="0.72" fill="#000"/>
<line x1="110.55" y1="601.4" x2="110.55" y2="609" stroke="#111" stroke-width="0.6"/>
<line x1="110.55" y1="618.4" x2="110.55" y2="629.3" stroke="#111" stroke-width="0.6"/>
<rect x="105.1" y="609" width="10.9" height="9.4" fill="#E2FBB8" stroke="#555" stroke-width="0.8"/>
<line x1="105.1" y1="613.6" x2="116" y2="613.6" stroke="#555" stroke-width="0.8"/>
<circle cx="109.14" cy="623.39" r="0.72" fill="#000"/>
<circle cx="111.8" cy="621.89" r="0.72" fill="#000"/>
<circle cx="112.59" cy="610.56" r="0.72" fill="#000"/>
<circle cx="110.44" cy="618.48" r="0.72" fill="#000"/>
<circle cx="108.81" cy="611.15" r="0.72" fill="#000"/>
<circle cx="109.2" cy="610.33" r="0.72" fill="#000"/>
<circle cx="109.66" cy="621.25" r="0.72" fill="#000"/>
<circle cx="112.29" cy="610" r="0.72" fill="#000"/>
<circle cx="112.68" cy="607.33" r="0.72" fill="#000"/>
<circle cx="110.46" cy="614.34" r="0.72" fill="#000"/>
<circle cx="110.31" cy="624.09" r="0.72" fill="#000"/>
<circle cx="111.82" cy="614.01" r="0.72" fill="#000"/>
<circle cx="110.6" cy="622.32" r="0.72" fill="#000"/>
<circle cx="110.13" cy="622.23" r="0.72" fill="#000"/>
<circle cx="111.73" cy="608.45" r="0.72" fill="#000"/>
<circle cx="110.69" cy="619.51" r="0.72" fill="#000"/>
<circle cx="109.4" cy="617.82" r="0.72" fill="#000"/>
<circle cx="110.42" cy="607.5" r="0.72" fill="#000"/>
<circle cx="110.9" cy="613.44" r="0.72" fill="#000"/>
<circle cx="110.42" cy="607.68" r="0.72" fill="#000"/>
<circle cx="108.46" cy="610.49" r="0.72" fill="#000"/>
<circle cx="110.43" cy="617.97" r="0.72" fill="#000"/>
<circle cx="111.57" cy="613.46" r="0.72" fill="#000"/>
<circle cx="111.02" cy="621.37" r="0.72" fill="#000"/>
<circle cx="110.07" cy="616.87" r="0.72" fill="#000"/>
<circle cx="111.92" cy="610.93" r="0.72" fill="#000"/>
<circle cx="112.59" cy="619.76" r="0.72" fill="#000"/>
<circle cx="108.51" cy="609.66" r="0.72" fill="#000"/>
<circle cx="110.85" cy="615.75" r="0.72" fill="#000"/>
<circle cx="109.11" cy="619.81" r="0.72" fill="#000"/>
<circle cx="110.43" cy="622.59" r="0.72" fill="#000"/>
<circle cx="108.6" cy="618.4" r="0.72" fill="#000"/>
<circle cx="108.77" cy="612.35" r="0.72" fill="#000"/>
<circle cx="109.94" cy="605.91" r="0.72" fill="#000"/>
<circle cx="111.69" cy="613.1" r="0.72" fill="#000"/>
<circle cx="108.44" cy="629.01" r="0.72" fill="#000"/>
<circle cx="112.42" cy="607.74" r="0.72" fill="#000"/>
<circle cx="110.29" cy="604.61" r="0.72" fill="#000"/>
<circle cx="110.59" cy="619.21" r="0.72" fill="#000"/>
<circle cx="108.71" cy="612.06" r="0.72" fill="#000"/>
<circle cx="111.86" cy="614.5" r="0.72" fill="#000"/>
<circle cx="109.62" cy="620.82" r="0.72" fill="#000"/>
<circle cx="111.79" cy="613.9" r="0.72" fill="#000"/>
<circle cx="112.54" cy="606.1" r="0.72" fill="#000"/>
<circle cx="109.82" cy="627.94" r="0.72" fill="#000"/>
<circle cx="111.11" cy="602.58" r="0.72" fill="#000"/>
<circle cx="112.72" cy="613.84" r="0.72" fill="#000"/>
<circle cx="111.3" cy="611.51" r="0.72" fill="#000"/>
<circle cx="111.92" cy="611.56" r="0.72" fill="#000"/>
<circle cx="110.2" cy="616.26" r="0.72" fill="#000"/>
<circle cx="110.21" cy="617.52" r="0.72" fill="#000"/>
<circle cx="109.04" cy="590" r="0.72" fill="#000"/>
<line x1="122.5" y1="611.5" x2="122.5" y2="623" stroke="#111" stroke-width="0.6"/>
<line x1="122.5" y1="631.1" x2="122.5" y2="633.1" stroke="#111" stroke-width="0.6"/>
<rect x="117" y="623" width="11" height="8.1" fill="#FBC0A6" stroke="#555" stroke-width="0.8"/>
<line x1="117" y1="626.2" x2="128" y2="626.2" stroke="#555" stroke-width="0.8"/>
<circle cx="123.86" cy="631.38" r="0.72" fill="#000"/>
<circle cx="121.84" cy="628.97" r="0.72" fill="#000"/>
<circle cx="120.32" cy="620.09" r="0.72" fill="#000"/>
<circle cx="122.52" cy="615.25" r="0.72" fill="#000"/>
<circle cx="123.61" cy="632.21" r="0.72" fill="#000"/>
<circle cx="121.12" cy="626.97" r="0.72" fill="#000"/>
<circle cx="124.37" cy="624.16" r="0.72" fill="#000"/>
<circle cx="122.65" cy="627.91" r="0.72" fill="#000"/>
<circle cx="123.12" cy="630.23" r="0.72" fill="#000"/>
<circle cx="121.01" cy="631.31" r="0.72" fill="#000"/>
<circle cx="122.91" cy="629.36" r="0.72" fill="#000"/>
<circle cx="122.6" cy="626.77" r="0.72" fill="#000"/>
<circle cx="124.57" cy="628.05" r="0.72" fill="#000"/>
<circle cx="123.66" cy="628.2" r="0.72" fill="#000"/>
<circle cx="122.68" cy="631.76" r="0.72" fill="#000"/>
<circle cx="123.68" cy="620.42" r="0.72" fill="#000"/>
<circle cx="122.96" cy="616.33" r="0.72" fill="#000"/>
<circle cx="122.31" cy="620.73" r="0.72" fill="#000"/>
<circle cx="121.62" cy="621.14" r="0.72" fill="#000"/>
<circle cx="122.17" cy="623.81" r="0.72" fill="#000"/>
<circle cx="121.09" cy="627.98" r="0.72" fill="#000"/>
<circle cx="124.42" cy="626.41" r="0.72" fill="#000"/>
<circle cx="122.92" cy="627.12" r="0.72" fill="#000"/>
<circle cx="122.88" cy="622.54" r="0.72" fill="#000"/>
<circle cx="121.07" cy="624.93" r="0.72" fill="#000"/>
<circle cx="122.35" cy="622.71" r="0.72" fill="#000"/>
<circle cx="123.33" cy="616.74" r="0.72" fill="#000"/>
<circle cx="121.72" cy="628.34" r="0.72" fill="#000"/>
<circle cx="124.43" cy="622.37" r="0.72" fill="#000"/>
<circle cx="122.83" cy="616.06" r="0.72" fill="#000"/>
<circle cx="123.82" cy="627.27" r="0.72" fill="#000"/>
<circle cx="122.61" cy="631.41" r="0.72" fill="#000"/>
<circle cx="122.33" cy="631.87" r="0.72" fill="#000"/>
<circle cx="122.95" cy="623.59" r="0.72" fill="#000"/>
<circle cx="123.78" cy="629.17" r="0.72" fill="#000"/>
<circle cx="124.22" cy="624.28" r="0.72" fill="#000"/>
<circle cx="121.84" cy="627.27" r="0.72" fill="#000"/>
<circle cx="123.71" cy="627.23" r="0.72" fill="#000"/>
<circle cx="124.19" cy="627.54" r="0.72" fill="#000"/>
<circle cx="124.59" cy="624.17" r="0.72" fill="#000"/>
<circle cx="124.33" cy="624.55" r="0.72" fill="#000"/>
<circle cx="124.19" cy="631.14" r="0.72" fill="#000"/>
<circle cx="122.87" cy="624.69" r="0.72" fill="#000"/>
<circle cx="122.32" cy="631.97" r="0.72" fill="#000"/>
<circle cx="120.7" cy="626.76" r="0.72" fill="#000"/>
<circle cx="124.63" cy="630.68" r="0.72" fill="#000"/>
<circle cx="122.39" cy="631.7" r="0.72" fill="#000"/>
<circle cx="121.25" cy="631.73" r="0.72" fill="#000"/>
<circle cx="124.46" cy="626.77" r="0.72" fill="#000"/>
<line x1="134.65" y1="605.2" x2="134.65" y2="617.9" stroke="#111" stroke-width="0.6"/>
<line x1="134.65" y1="626.3" x2="134.65" y2="633.1" stroke="#111" stroke-width="0.6"/>
<rect x="129.2" y="617.9" width="10.9" height="8.4" fill="#1CAEE4" stroke="#555" stroke-width="0.8"/>
<line x1="129.2" y1="621.7" x2="140.1" y2="621.7" stroke="#555" stroke-width="0.8"/>
<circle cx="134.46" cy="614.34" r="0.72" fill="#000"/>
<circle cx="134.53" cy="613.29" r="0.72" fill="#000"/>
<circle cx="135.2" cy="619.02" r="0.72" fill="#000"/>
<circle cx="134.82" cy="623.58" r="0.72" fill="#000"/>
<circle cx="134.15" cy="624.33" r="0.72" fill="#000"/>
<circle cx="134.56" cy="624.62" r="0.72" fill="#000"/>
<circle cx="135.21" cy="605.48" r="0.72" fill="#000"/>
<circle cx="135.23" cy="619.37" r="0.72" fill="#000"/>
<circle cx="134.31" cy="619.95" r="0.72" fill="#000"/>
<circle cx="135.7" cy="621.32" r="0.72" fill="#000"/>
<circle cx="135.33" cy="625.26" r="0.72" fill="#000"/>
<circle cx="135.25" cy="609.32" r="0.72" fill="#000"/>
<circle cx="134.07" cy="622.66" r="0.72" fill="#000"/>
<circle cx="134.63" cy="626.6" r="0.72" fill="#000"/>
<circle cx="134.43" cy="617.62" r="0.72" fill="#000"/>
<circle cx="135.91" cy="622.28" r="0.72" fill="#000"/>
<circle cx="135.56" cy="612.05" r="0.72" fill="#000"/>
<circle cx="134.59" cy="623.95" r="0.72" fill="#000"/>
<circle cx="136.61" cy="619.46" r="0.72" fill="#000"/>
<circle cx="135.84" cy="622.85" r="0.72" fill="#000"/>
<circle cx="134.72" cy="624.65" r="0.72" fill="#000"/>
<circle cx="132.9" cy="631.87" r="0.72" fill="#000"/>
<circle cx="135.53" cy="611.66" r="0.72" fill="#000"/>
<circle cx="136.11" cy="630.44" r="0.72" fill="#000"/>
<circle cx="136.32" cy="621.07" r="0.72" fill="#000"/>
<circle cx="136.7" cy="614.38" r="0.72" fill="#000"/>
<circle cx="133.55" cy="616.73" r="0.72" fill="#000"/>
<circle cx="136.77" cy="622.02" r="0.72" fill="#000"/>
<circle cx="135.42" cy="629.39" r="0.72" fill="#000"/>
<circle cx="135.66" cy="613.95" r="0.72" fill="#000"/>
<circle cx="136.23" cy="622.69" r="0.72" fill="#000"/>
<circle cx="134.73" cy="627.07" r="0.72" fill="#000"/>
<circle cx="133.94" cy="615.7" r="0.72" fill="#000"/>
<circle cx="135.99" cy="617.83" r="0.72" fill="#000"/>
<circle cx="133.2" cy="618.09" r="0.72" fill="#000"/>
<circle cx="135.62" cy="618.76" r="0.72" fill="#000"/>
<circle cx="132.96" cy="627.47" r="0.72" fill="#000"/>
<circle cx="135.08" cy="630.57" r="0.72" fill="#000"/>
<circle cx="135.94" cy="620.54" r="0.72" fill="#000"/>
<circle cx="133.32" cy="626.95" r="0.72" fill="#000"/>
<circle cx="136.13" cy="618.43" r="0.72" fill="#000"/>
<circle cx="136.53" cy="623.01" r="0.72" fill="#000"/>
<circle cx="132.98" cy="623.93" r="0.72" fill="#000"/>
<circle cx="136.7" cy="609.54" r="0.72" fill="#000"/>
<circle cx="135.16" cy="610.69" r="0.72" fill="#000"/>
<circle cx="134.99" cy="619.83" r="0.72" fill="#000"/>
<circle cx="134.76" cy="620.44" r="0.72" fill="#000"/>
<circle cx="133.11" cy="624.82" r="0.72" fill="#000"/>
<circle cx="135.26" cy="628.43" r="0.72" fill="#000"/>
<line x1="146.55" y1="606.5" x2="146.55" y2="620.9" stroke="#111" stroke-width="0.6"/>
<line x1="146.55" y1="633.1" x2="146.55" y2="634" stroke="#111" stroke-width="0.6"/>
<rect x="141.1" y="620.9" width="10.9" height="12.2" fill="#DDA6DD" stroke="#555" stroke-width="0.8"/>
<line x1="141.1" y1="626.7" x2="152" y2="626.7" stroke="#555" stroke-width="0.8"/>
<circle cx="146.83" cy="628.51" r="0.72" fill="#000"/>
<circle cx="148.47" cy="621.26" r="0.72" fill="#000"/>
<circle cx="147.28" cy="624.55" r="0.72" fill="#000"/>
<circle cx="148.52" cy="633.3" r="0.72" fill="#000"/>
<circle cx="147.45" cy="632.62" r="0.72" fill="#000"/>
<circle cx="144.84" cy="632.15" r="0.72" fill="#000"/>
<circle cx="148.63" cy="628.12" r="0.72" fill="#000"/>
<circle cx="147.56" cy="632.5" r="0.72" fill="#000"/>
<circle cx="146.01" cy="614.46" r="0.72" fill="#000"/>
<circle cx="145.48" cy="627.07" r="0.72" fill="#000"/>
<circle cx="144.63" cy="625.42" r="0.72" fill="#000"/>
<circle cx="145.6" cy="612.05" r="0.72" fill="#000"/>
<circle cx="148.01" cy="629.69" r="0.72" fill="#000"/>
<circle cx="147.93" cy="633.25" r="0.72" fill="#000"/>
<circle cx="148.46" cy="633.53" r="0.72" fill="#000"/>
<circle cx="145.35" cy="612.67" r="0.72" fill="#000"/>
<circle cx="148.52" cy="633.21" r="0.72" fill="#000"/>
<circle cx="145.01" cy="633.72" r="0.72" fill="#000"/>
<circle cx="145.33" cy="631.27" r="0.72" fill="#000"/>
<circle cx="147.33" cy="627.85" r="0.72" fill="#000"/>
<circle cx="146.88" cy="626.17" r="0.72" fill="#000"/>
<circle cx="146.02" cy="617.26" r="0.72" fill="#000"/>
<circle cx="145.41" cy="622.21" r="0.72" fill="#000"/>
<circle cx="145.22" cy="613.25" r="0.72" fill="#000"/>
<circle cx="148.09" cy="633.18" r="0.72" fill="#000"/>
<circle cx="148.72" cy="617.12" r="0.72" fill="#000"/>
<circle cx="147.71" cy="629.46" r="0.72" fill="#000"/>
<circle cx="145.69" cy="633.36" r="0.72" fill="#000"/>
<circle cx="146.8" cy="625.28" r="0.72" fill="#000"/>
<circle cx="144.62" cy="622.8" r="0.72" fill="#000"/>
<circle cx="144.57" cy="623.93" r="0.72" fill="#000"/>
<circle cx="148.16" cy="624.9" r="0.72" fill="#000"/>
<circle cx="145.82" cy="617.82" r="0.72" fill="#000"/>
<circle cx="144.49" cy="633.66" r="0.72" fill="#000"/>
<circle cx="144.69" cy="612.22" r="0.72" fill="#000"/>
<circle cx="146.82" cy="633.89" r="0.72" fill="#000"/>
<circle cx="148.08" cy="633.11" r="0.72" fill="#000"/>
<circle cx="145.51" cy="623.7" r="0.72" fill="#000"/>
<circle cx="146.4" cy="630.52" r="0.72" fill="#000"/>
<circle cx="144.38" cy="633.28" r="0.72" fill="#000"/>
<circle cx="147.55" cy="633.41" r="0.72" fill="#000"/>
<circle cx="145.22" cy="613.74" r="0.72" fill="#000"/>
<circle cx="145.24" cy="613.05" r="0.72" fill="#000"/>
<circle cx="146.35" cy="622.55" r="0.72" fill="#000"/>
<circle cx="147.28" cy="633.17" r="0.72" fill="#000"/>
<circle cx="146.25" cy="625.46" r="0.72" fill="#000"/>
<circle cx="144.99" cy="626.39" r="0.72" fill="#000"/>
<circle cx="144.8" cy="627.99" r="0.72" fill="#000"/>
<circle cx="147.21" cy="623.22" r="0.72" fill="#000"/>
<circle cx="145.16" cy="621.45" r="0.72" fill="#000"/>
<circle cx="148.04" cy="628.56" r="0.72" fill="#000"/>
<circle cx="148.45" cy="633.28" r="0.72" fill="#000"/>
<text x="46.85" y="639.5" font-size="7.3" text-anchor="middle" fill="#9c9c9c" color="#9c9c9c">49</text>
<text x="58.65" y="639.5" font-size="7.3" text-anchor="middle" fill="#9c9c9c" color="#9c9c9c">45</text>
<text x="70.8" y="639.5" font-size="7.3" text-anchor="middle" fill="#9c9c9c" color="#9c9c9c">37</text>
<text x="83" y="639.5" font-size="7.3" text-anchor="middle" fill="#9c9c9c" color="#9c9c9c">49</text>
<text x="110.55" y="639.5" font-size="7.3" text-anchor="middle" fill="#9c9c9c" color="#9c9c9c">51</text>
<text x="122.5" y="639.5" font-size="7.3" text-anchor="middle" fill="#9c9c9c" color="#9c9c9c">49</text>
<text x="134.65" y="639.5" font-size="7.3" text-anchor="middle" fill="#9c9c9c" color="#9c9c9c">49</text>
<text x="146.55" y="639.5" font-size="7.3" text-anchor="middle" fill="#9c9c9c" color="#9c9c9c">52</text>
<text x="64.6" y="649.4" font-size="7.6" text-anchor="middle" fill="#1a1a1a" color="#1a1a1a">NHS</text>
<text x="128" y="649.4" font-size="7.6" text-anchor="middle" fill="#1a1a1a" color="#1a1a1a">maTT 2d</text>
<line x1="45.6" y1="523.5" x2="82.3" y2="523.5" stroke="#000" stroke-width="1"/>
<text x="57.6" y="524.35" font-size="8.5" text-anchor="middle" fill="#000" color="#000">**</text>
<line x1="45.6" y1="530.5" x2="69.7" y2="530.5" stroke="#000" stroke-width="1"/>
<text x="57.6" y="531.75" font-size="8.5" text-anchor="middle" fill="#000" color="#000">**</text>
<line x1="45.6" y1="538.5" x2="57" y2="538.5" stroke="#000" stroke-width="1"/>
<text x="51.3" y="539.85" font-size="8.5" text-anchor="middle" fill="#000" color="#000">***</text>
<line x1="108.9" y1="569.5" x2="147.5" y2="569.5" stroke="#000" stroke-width="1"/>
<text x="120" y="570.54" font-size="8.5" text-anchor="middle" fill="#000" color="#000">***</text>
<line x1="108.9" y1="577.5" x2="134.8" y2="577.5" stroke="#000" stroke-width="1"/>
<text x="120" y="579.14" font-size="8.5" text-anchor="middle" fill="#000" color="#000">***</text>
<line x1="108.9" y1="586.5" x2="121.6" y2="586.5" stroke="#888" stroke-width="1.2"/>
<text x="114.6" y="587.94" font-size="8.5" text-anchor="middle" fill="#000" color="#000">***</text>
<line x1="123.4" y1="586.5" x2="133.8" y2="586.5" stroke="#888" stroke-width="1.2"/>
<text x="127.3" y="587.94" font-size="8.5" text-anchor="middle" fill="#000" color="#000">**</text>
<line x1="136.1" y1="586.5" x2="147.5" y2="586.5" stroke="#888" stroke-width="1.2"/>
<text x="140" y="587.94" font-size="8.5" text-anchor="middle" fill="#000" color="#000">**</text>
<rect x="98.1" y="506.6" width="5.6" height="3.1" fill="#E2FBB8" stroke="#666" stroke-width="0.7"/>
<text x="106.5" y="510.7" font-size="7.6" text-anchor="start" fill="#000" color="#000">GP</text>
<rect x="98.1" y="514.3" width="5.6" height="3" fill="#FBC0A6" stroke="#666" stroke-width="0.7"/>
<text x="106.5" y="517.8" font-size="7.6" text-anchor="start" fill="#000" color="#000" font-style="italic">hsfa2−1</text>
<rect x="98.1" y="521.4" width="5.6" height="3.3" fill="#1CAEE4" stroke="#666" stroke-width="0.7"/>
<text x="106.5" y="524.7" font-size="7.6" text-anchor="start" fill="#000" color="#000" font-style="italic">hsfa3−1</text>
<rect x="98.1" y="528.1" width="5.6" height="3" fill="#DDA6DD" stroke="#666" stroke-width="0.7"/>
<text x="106.5" y="531.6" font-size="7.6" text-anchor="start" fill="#000" color="#000" font-style="italic">hsfa2−1 hsfa3−1</text>
<text x="181.2" y="500.8" font-size="12.5" text-anchor="start" fill="#000" color="#000" font-weight="bold">n</text>
<rect x="211.7" y="499.4" width="5.2" height="5.2" fill="#CAFF70" stroke="#666" stroke-width="0.7"/>
<text x="219.7" y="504.5" font-size="7.6" text-anchor="start" fill="#000" color="#000">GP</text>
<rect x="233" y="499.4" width="5.3" height="5.2" fill="#FF7F50" stroke="#666" stroke-width="0.7"/>
<text x="242.7" y="504.5" font-size="7.6" text-anchor="start" fill="#000" color="#000" font-style="italic">hsfa2−1</text>
<rect x="275.1" y="499.4" width="5.2" height="5.2" fill="#00BDFA" stroke="#666" stroke-width="0.7"/>
<text x="284.7" y="504.5" font-size="7.6" text-anchor="start" fill="#000" color="#000" font-style="italic">hsfa3−1</text>
<rect x="211.7" y="509.4" width="5.2" height="5.2" fill="#DDA0DD" stroke="#666" stroke-width="0.7"/>
<text x="219.9" y="514.5" font-size="7.6" text-anchor="start" fill="#000" color="#000" font-style="italic">hsfa2−1 hsfa3−1</text>
<rect x="208.1" y="518.5" width="128.4" height="127.8" fill="none" stroke="#7a7a7a" stroke-width="1.15"/>
<line x1="206.3" y1="640.6" x2="208.1" y2="640.6" stroke="#333" stroke-width="0.8"/>
<text x="205.5" y="643.1" font-size="7.2" text-anchor="end" fill="#383838" color="#383838">0%</text>
<line x1="206.3" y1="616.3" x2="208.1" y2="616.3" stroke="#333" stroke-width="0.8"/>
<text x="205.5" y="618.8" font-size="7.2" text-anchor="end" fill="#383838" color="#383838">25%</text>
<line x1="206.3" y1="592" x2="208.1" y2="592" stroke="#333" stroke-width="0.8"/>
<text x="205.5" y="594.5" font-size="7.2" text-anchor="end" fill="#383838" color="#383838">50%</text>
<line x1="206.3" y1="567.7" x2="208.1" y2="567.7" stroke="#333" stroke-width="0.8"/>
<text x="205.5" y="570.2" font-size="7.2" text-anchor="end" fill="#383838" color="#383838">75%</text>
<line x1="206.3" y1="543.4" x2="208.1" y2="543.4" stroke="#333" stroke-width="0.8"/>
<text x="205.5" y="545.9" font-size="7.2" text-anchor="end" fill="#383838" color="#383838">100%</text>
<text x="184.5" y="574.6" font-size="9" text-anchor="middle" fill="#000" color="#000" transform="rotate(-90 184.5 574.6)">Survival rate</text>
<rect x="216.4" y="545.7" width="13.1" height="94.9" fill="#CAFF70" stroke="#1a1a1a" stroke-width="0.8"/>
<line x1="222.95" y1="543" x2="222.95" y2="548.5" stroke="#1a1a1a" stroke-width="0.8"/>
<line x1="221.55" y1="543" x2="224.35" y2="543" stroke="#1a1a1a" stroke-width="0.8"/>
<line x1="221.55" y1="548.5" x2="224.35" y2="548.5" stroke="#1a1a1a" stroke-width="0.8"/>
<circle cx="222.95" cy="543" r="1.1" fill="#000"/>
<circle cx="222.95" cy="548" r="1.1" fill="#000"/>
<circle cx="222.95" cy="550" r="1.1" fill="#000"/>
<rect x="229.5" y="545.7" width="13.5" height="94.9" fill="#FF7F50" stroke="#1a1a1a" stroke-width="0.8"/>
<line x1="236.25" y1="543" x2="236.25" y2="548.5" stroke="#1a1a1a" stroke-width="0.8"/>
<line x1="234.85" y1="543" x2="237.65" y2="543" stroke="#1a1a1a" stroke-width="0.8"/>
<line x1="234.85" y1="548.5" x2="237.65" y2="548.5" stroke="#1a1a1a" stroke-width="0.8"/>
<circle cx="236.25" cy="543" r="1.1" fill="#000"/>
<circle cx="236.25" cy="548" r="1.1" fill="#000"/>
<circle cx="236.25" cy="550" r="1.1" fill="#000"/>
<rect x="243" y="543.4" width="13.1" height="97.2" fill="#00BDFA" stroke="#1a1a1a" stroke-width="0.8"/>
<circle cx="249.55" cy="543.4" r="1.1" fill="#000"/>
<rect x="256.1" y="543.4" width="13.2" height="97.2" fill="#DDA0DD" stroke="#1a1a1a" stroke-width="0.8"/>
<circle cx="262.7" cy="543.4" r="1.1" fill="#000"/>
<rect x="275.1" y="543.4" width="13.5" height="97.2" fill="#CAFF70" stroke="#1a1a1a" stroke-width="0.8"/>
<circle cx="281.85" cy="543.4" r="1.1" fill="#000"/>
<rect x="288.6" y="560.4" width="12.6" height="80.2" fill="#FF7F50" stroke="#1a1a1a" stroke-width="0.8"/>
<line x1="294.9" y1="551.3" x2="294.9" y2="569.5" stroke="#1a1a1a" stroke-width="0.8"/>
<line x1="293.5" y1="551.3" x2="296.3" y2="551.3" stroke="#1a1a1a" stroke-width="0.8"/>
<line x1="293.5" y1="569.5" x2="296.3" y2="569.5" stroke="#1a1a1a" stroke-width="0.8"/>
<circle cx="294.9" cy="543.9" r="1.1" fill="#000"/>
<circle cx="294.9" cy="565" r="1.1" fill="#000"/>
<circle cx="294.9" cy="572" r="1.1" fill="#000"/>
<rect x="301.2" y="549.4" width="13.5" height="91.2" fill="#00BDFA" stroke="#1a1a1a" stroke-width="0.8"/>
<line x1="307.95" y1="546.2" x2="307.95" y2="552.6" stroke="#1a1a1a" stroke-width="0.8"/>
<line x1="306.55" y1="546.2" x2="309.35" y2="546.2" stroke="#1a1a1a" stroke-width="0.8"/>
<line x1="306.55" y1="552.6" x2="309.35" y2="552.6" stroke="#1a1a1a" stroke-width="0.8"/>
<circle cx="307.95" cy="543.6" r="1.1" fill="#000"/>
<circle cx="307.95" cy="550" r="1.1" fill="#000"/>
<circle cx="307.95" cy="554.3" r="1.1" fill="#000"/>
<rect x="314.7" y="579.4" width="13.1" height="61.2" fill="#DDA0DD" stroke="#1a1a1a" stroke-width="0.8"/>
<line x1="321.25" y1="573" x2="321.25" y2="586" stroke="#1a1a1a" stroke-width="0.8"/>
<line x1="319.85" y1="573" x2="322.65" y2="573" stroke="#1a1a1a" stroke-width="0.8"/>
<line x1="319.85" y1="586" x2="322.65" y2="586" stroke="#1a1a1a" stroke-width="0.8"/>
<circle cx="321.25" cy="570" r="1.1" fill="#000"/>
<circle cx="321.25" cy="578" r="1.1" fill="#000"/>
<circle cx="321.25" cy="589" r="1.1" fill="#000"/>
<text x="242.2" y="537.8" font-size="7.8" text-anchor="middle" fill="#000" color="#000">ns</text>
<line x1="280.7" y1="526.5" x2="322.6" y2="526.5" stroke="#666" stroke-width="1"/>
<text x="301.7" y="527.49" font-size="7" text-anchor="middle" fill="#000" color="#000">***</text>
<line x1="298.6" y1="531.5" x2="322.6" y2="531.5" stroke="#666" stroke-width="1"/>
<text x="310.7" y="532.49" font-size="7" text-anchor="middle" fill="#000" color="#000">*</text>
<line x1="280.7" y1="536.5" x2="295.5" y2="536.5" stroke="#666" stroke-width="1"/>
<text x="287.4" y="537.59" font-size="7" text-anchor="middle" fill="#000" color="#000">**</text>
<line x1="310.9" y1="536.5" x2="322.6" y2="536.5" stroke="#666" stroke-width="1"/>
<text x="316.5" y="537.59" font-size="7" text-anchor="middle" fill="#000" color="#000">***</text>
<text x="244.7" y="655" font-size="7.6" text-anchor="middle" fill="#1a1a1a" color="#1a1a1a">NHS</text>
<text x="299.2" y="655" font-size="7.6" text-anchor="middle" fill="#1a1a1a" color="#1a1a1a">maTT 2d</text>
<text x="349.3" y="501" font-size="12.5" text-anchor="start" fill="#000" color="#000" font-weight="bold">o</text>
<rect x="370.4" y="502.5" width="139.3" height="139.9" fill="none" stroke="#7a7a7a" stroke-width="1.15"/>
<line x1="368.6" y1="636.4" x2="370.4" y2="636.4" stroke="#333" stroke-width="0.8"/>
<text x="368.4" y="638.9" font-size="7.2" text-anchor="end" fill="#383838" color="#383838">0.0</text>
<line x1="368.6" y1="604.65" x2="370.4" y2="604.65" stroke="#333" stroke-width="0.8"/>
<text x="368.4" y="607.15" font-size="7.2" text-anchor="end" fill="#383838" color="#383838">0.1</text>
<line x1="368.6" y1="572.9" x2="370.4" y2="572.9" stroke="#333" stroke-width="0.8"/>
<text x="368.4" y="575.4" font-size="7.2" text-anchor="end" fill="#383838" color="#383838">0.2</text>
<line x1="368.6" y1="541.15" x2="370.4" y2="541.15" stroke="#333" stroke-width="0.8"/>
<text x="368.4" y="543.65" font-size="7.2" text-anchor="end" fill="#383838" color="#383838">0.3</text>
<line x1="368.6" y1="509.4" x2="370.4" y2="509.4" stroke="#333" stroke-width="0.8"/>
<text x="368.4" y="511.9" font-size="7.2" text-anchor="end" fill="#383838" color="#383838">0.4</text>
<text x="355.7" y="568.2" font-size="9" text-anchor="middle" fill="#000" color="#000" transform="rotate(-90 355.7 568.2)">Dry weight (g)</text>
<line x1="384.3" y1="525" x2="384.3" y2="560.4" stroke="#555" stroke-width="0.6"/>
<line x1="384.3" y1="583.7" x2="384.3" y2="608" stroke="#555" stroke-width="0.6"/>
<rect x="380.5" y="560.4" width="7.6" height="23.3" fill="#E2FBB8" stroke="#555" stroke-width="0.8"/>
<line x1="380.5" y1="571" x2="388.1" y2="571" stroke="#555" stroke-width="0.8"/>
<circle cx="383.24" cy="584.84" r="0.6" fill="#333"/>
<circle cx="385.31" cy="531.08" r="0.6" fill="#333"/>
<circle cx="385.24" cy="564.82" r="0.6" fill="#333"/>
<circle cx="386.51" cy="590.8" r="0.6" fill="#333"/>
<circle cx="382.88" cy="587.3" r="0.6" fill="#333"/>
<circle cx="386.22" cy="598.83" r="0.6" fill="#333"/>
<circle cx="383.82" cy="573.29" r="0.6" fill="#333"/>
<circle cx="385.01" cy="576.91" r="0.6" fill="#333"/>
<circle cx="385.03" cy="580.62" r="0.6" fill="#333"/>
<circle cx="385.04" cy="550.86" r="0.6" fill="#333"/>
<circle cx="384.19" cy="602.1" r="0.6" fill="#333"/>
<circle cx="382.67" cy="566.06" r="0.6" fill="#333"/>
<circle cx="384.29" cy="532.75" r="0.6" fill="#333"/>
<circle cx="383.74" cy="579.88" r="0.6" fill="#333"/>
<circle cx="385.92" cy="603.91" r="0.6" fill="#333"/>
<circle cx="385.12" cy="592.89" r="0.6" fill="#333"/>
<circle cx="383.79" cy="558.81" r="0.6" fill="#333"/>
<circle cx="385.1" cy="555.23" r="0.6" fill="#333"/>
<circle cx="383.24" cy="589.79" r="0.6" fill="#333"/>
<circle cx="384.71" cy="569.05" r="0.6" fill="#333"/>
<circle cx="382.82" cy="579.7" r="0.6" fill="#333"/>
<circle cx="383.83" cy="602.16" r="0.6" fill="#333"/>
<circle cx="382.68" cy="571.59" r="0.6" fill="#333"/>
<circle cx="382.89" cy="585.83" r="0.6" fill="#333"/>
<circle cx="383.24" cy="552.52" r="0.6" fill="#333"/>
<circle cx="384.89" cy="560.45" r="0.6" fill="#333"/>
<circle cx="383.65" cy="539.91" r="0.6" fill="#333"/>
<circle cx="383.66" cy="573.02" r="0.6" fill="#333"/>
<circle cx="385.48" cy="569.84" r="0.6" fill="#333"/>
<circle cx="385.72" cy="559.02" r="0.6" fill="#333"/>
<circle cx="384.52" cy="563.49" r="0.6" fill="#333"/>
<circle cx="385.06" cy="583.37" r="0.6" fill="#333"/>
<circle cx="386.45" cy="573.93" r="0.6" fill="#333"/>
<circle cx="385.15" cy="598.26" r="0.6" fill="#333"/>
<circle cx="382.46" cy="604.75" r="0.6" fill="#333"/>
<circle cx="383.21" cy="563.4" r="0.6" fill="#333"/>
<line x1="392.4" y1="545" x2="392.4" y2="568.5" stroke="#555" stroke-width="0.6"/>
<line x1="392.4" y1="585.7" x2="392.4" y2="600" stroke="#555" stroke-width="0.6"/>
<rect x="388.6" y="568.5" width="7.6" height="17.2" fill="#FBC0A6" stroke="#555" stroke-width="0.8"/>
<line x1="388.6" y1="575" x2="396.2" y2="575" stroke="#555" stroke-width="0.8"/>
<circle cx="393.7" cy="547.88" r="0.6" fill="#333"/>
<circle cx="390.13" cy="580.5" r="0.6" fill="#333"/>
<circle cx="393.24" cy="578.15" r="0.6" fill="#333"/>
<circle cx="391.34" cy="590.2" r="0.6" fill="#333"/>
<circle cx="393.83" cy="581.26" r="0.6" fill="#333"/>
<circle cx="391.76" cy="581.07" r="0.6" fill="#333"/>
<circle cx="391.28" cy="581.35" r="0.6" fill="#333"/>
<circle cx="391.35" cy="555.5" r="0.6" fill="#333"/>
<circle cx="393.76" cy="583.01" r="0.6" fill="#333"/>
<circle cx="392.64" cy="594.13" r="0.6" fill="#333"/>
<circle cx="392.12" cy="562.91" r="0.6" fill="#333"/>
<circle cx="391.6" cy="573.39" r="0.6" fill="#333"/>
<circle cx="392.25" cy="566.21" r="0.6" fill="#333"/>
<circle cx="392.75" cy="574.69" r="0.6" fill="#333"/>
<circle cx="391.33" cy="560.99" r="0.6" fill="#333"/>
<circle cx="391.56" cy="585.95" r="0.6" fill="#333"/>
<circle cx="392.92" cy="573.11" r="0.6" fill="#333"/>
<circle cx="391.62" cy="556.82" r="0.6" fill="#333"/>
<circle cx="390.3" cy="563.84" r="0.6" fill="#333"/>
<circle cx="392.09" cy="559.96" r="0.6" fill="#333"/>
<circle cx="392.67" cy="553.42" r="0.6" fill="#333"/>
<circle cx="394.52" cy="580.41" r="0.6" fill="#333"/>
<circle cx="393.85" cy="558.2" r="0.6" fill="#333"/>
<circle cx="393.01" cy="596.71" r="0.6" fill="#333"/>
<circle cx="394.49" cy="573.68" r="0.6" fill="#333"/>
<circle cx="393.27" cy="573.14" r="0.6" fill="#333"/>
<circle cx="392.86" cy="584.69" r="0.6" fill="#333"/>
<circle cx="392.9" cy="580.31" r="0.6" fill="#333"/>
<circle cx="393.64" cy="578.01" r="0.6" fill="#333"/>
<circle cx="394.09" cy="585.46" r="0.6" fill="#333"/>
<circle cx="394.4" cy="585.6" r="0.6" fill="#333"/>
<circle cx="392.91" cy="569.01" r="0.6" fill="#333"/>
<circle cx="391.28" cy="577.7" r="0.6" fill="#333"/>
<circle cx="391.33" cy="570.66" r="0.6" fill="#333"/>
<circle cx="390.28" cy="571.88" r="0.6" fill="#333"/>
<circle cx="394.53" cy="591.47" r="0.6" fill="#333"/>
<circle cx="391.95" cy="563.48" r="0.6" fill="#333"/>
<circle cx="391.29" cy="585.25" r="0.6" fill="#333"/>
<circle cx="393.87" cy="576.66" r="0.6" fill="#333"/>
<circle cx="390.52" cy="573.71" r="0.6" fill="#333"/>
<circle cx="393.35" cy="599.66" r="0.6" fill="#333"/>
<circle cx="394.1" cy="552.2" r="0.6" fill="#333"/>
<circle cx="391.37" cy="563.03" r="0.6" fill="#333"/>
<circle cx="390.85" cy="574.36" r="0.6" fill="#333"/>
<circle cx="390.82" cy="559.55" r="0.6" fill="#333"/>
<line x1="400" y1="522" x2="400" y2="552" stroke="#555" stroke-width="0.6"/>
<line x1="400" y1="590" x2="400" y2="636" stroke="#555" stroke-width="0.6"/>
<rect x="396.2" y="552" width="7.6" height="38" fill="#C2E6F4" stroke="#555" stroke-width="0.8"/>
<line x1="396.2" y1="570" x2="403.8" y2="570" stroke="#555" stroke-width="0.8"/>
<circle cx="399.94" cy="545.81" r="0.6" fill="#333"/>
<circle cx="401.52" cy="565.12" r="0.6" fill="#333"/>
<circle cx="398.5" cy="555.72" r="0.6" fill="#333"/>
<circle cx="400.17" cy="549.57" r="0.6" fill="#333"/>
<circle cx="398.17" cy="561.49" r="0.6" fill="#333"/>
<circle cx="401.85" cy="564.5" r="0.6" fill="#333"/>
<circle cx="401.39" cy="583.11" r="0.6" fill="#333"/>
<circle cx="402.02" cy="557.11" r="0.6" fill="#333"/>
<circle cx="401.35" cy="568.76" r="0.6" fill="#333"/>
<circle cx="401.75" cy="580.87" r="0.6" fill="#333"/>
<circle cx="398.94" cy="599.4" r="0.6" fill="#333"/>
<circle cx="397.82" cy="553.17" r="0.6" fill="#333"/>
<circle cx="401.08" cy="559.06" r="0.6" fill="#333"/>
<circle cx="399.1" cy="554.1" r="0.6" fill="#333"/>
<circle cx="400.46" cy="552.86" r="0.6" fill="#333"/>
<circle cx="398.6" cy="562.18" r="0.6" fill="#333"/>
<circle cx="402" cy="548.09" r="0.6" fill="#333"/>
<circle cx="400.55" cy="597" r="0.6" fill="#333"/>
<circle cx="399.95" cy="556.82" r="0.6" fill="#333"/>
<circle cx="400.05" cy="601.56" r="0.6" fill="#333"/>
<circle cx="397.75" cy="591.82" r="0.6" fill="#333"/>
<circle cx="400.58" cy="628.8" r="0.6" fill="#333"/>
<circle cx="401.01" cy="629.58" r="0.6" fill="#333"/>
<circle cx="402.2" cy="625.98" r="0.6" fill="#333"/>
<circle cx="399.87" cy="590.66" r="0.6" fill="#333"/>
<circle cx="397.91" cy="579.59" r="0.6" fill="#333"/>
<circle cx="397.92" cy="547.6" r="0.6" fill="#333"/>
<circle cx="402.11" cy="571.66" r="0.6" fill="#333"/>
<circle cx="401.39" cy="622.69" r="0.6" fill="#333"/>
<circle cx="400.3" cy="581.61" r="0.6" fill="#333"/>
<circle cx="397.82" cy="577.57" r="0.6" fill="#333"/>
<circle cx="398.65" cy="570.2" r="0.6" fill="#333"/>
<circle cx="398.86" cy="551.62" r="0.6" fill="#333"/>
<circle cx="400.4" cy="577.86" r="0.6" fill="#333"/>
<circle cx="399.02" cy="570.58" r="0.6" fill="#333"/>
<circle cx="401.36" cy="524.68" r="0.6" fill="#333"/>
<circle cx="399.74" cy="567.78" r="0.6" fill="#333"/>
<circle cx="398.57" cy="537.29" r="0.6" fill="#333"/>
<line x1="408.4" y1="527" x2="408.4" y2="548.2" stroke="#555" stroke-width="0.6"/>
<line x1="408.4" y1="567.2" x2="408.4" y2="590" stroke="#555" stroke-width="0.6"/>
<rect x="404.6" y="548.2" width="7.6" height="19" fill="#DDA6DD" stroke="#555" stroke-width="0.8"/>
<line x1="404.6" y1="559" x2="412.2" y2="559" stroke="#555" stroke-width="0.8"/>
<circle cx="406.33" cy="585.7" r="0.6" fill="#333"/>
<circle cx="409.46" cy="552.85" r="0.6" fill="#333"/>
<circle cx="409.59" cy="559.07" r="0.6" fill="#333"/>
<circle cx="406.58" cy="546.11" r="0.6" fill="#333"/>
<circle cx="409.03" cy="547.67" r="0.6" fill="#333"/>
<circle cx="410.54" cy="564.63" r="0.6" fill="#333"/>
<circle cx="408.07" cy="556.99" r="0.6" fill="#333"/>
<circle cx="407.58" cy="559.77" r="0.6" fill="#333"/>
<circle cx="409.99" cy="560.29" r="0.6" fill="#333"/>
<circle cx="409.26" cy="545.18" r="0.6" fill="#333"/>
<circle cx="409.66" cy="547.55" r="0.6" fill="#333"/>
<circle cx="407.32" cy="538.38" r="0.6" fill="#333"/>
<circle cx="407.69" cy="582.02" r="0.6" fill="#333"/>
<circle cx="406.46" cy="557.77" r="0.6" fill="#333"/>
<circle cx="406.21" cy="556.55" r="0.6" fill="#333"/>
<circle cx="410.43" cy="569.27" r="0.6" fill="#333"/>
<circle cx="409.18" cy="529" r="0.6" fill="#333"/>
<circle cx="408.37" cy="548.67" r="0.6" fill="#333"/>
<circle cx="409.69" cy="541.79" r="0.6" fill="#333"/>
<circle cx="409.75" cy="556.63" r="0.6" fill="#333"/>
<circle cx="408.36" cy="577.46" r="0.6" fill="#333"/>
<circle cx="409.45" cy="567.2" r="0.6" fill="#333"/>
<circle cx="406.22" cy="570.45" r="0.6" fill="#333"/>
<circle cx="410.66" cy="555.96" r="0.6" fill="#333"/>
<circle cx="408.96" cy="532.83" r="0.6" fill="#333"/>
<circle cx="407.49" cy="561.58" r="0.6" fill="#333"/>
<circle cx="409.38" cy="578.29" r="0.6" fill="#333"/>
<circle cx="410.06" cy="561.93" r="0.6" fill="#333"/>
<circle cx="409.47" cy="550.06" r="0.6" fill="#333"/>
<circle cx="410.46" cy="563.24" r="0.6" fill="#333"/>
<circle cx="409.42" cy="585.17" r="0.6" fill="#333"/>
<circle cx="407.54" cy="537.74" r="0.6" fill="#333"/>
<circle cx="407.56" cy="557.61" r="0.6" fill="#333"/>
<circle cx="408.18" cy="554.51" r="0.6" fill="#333"/>
<circle cx="409.31" cy="569.75" r="0.6" fill="#333"/>
<circle cx="408.47" cy="588.29" r="0.6" fill="#333"/>
<circle cx="409.07" cy="563.93" r="0.6" fill="#333"/>
<circle cx="407.48" cy="554.97" r="0.6" fill="#333"/>
<circle cx="407.23" cy="551.64" r="0.6" fill="#333"/>
<circle cx="409.03" cy="550.77" r="0.6" fill="#333"/>
<circle cx="408.14" cy="559.21" r="0.6" fill="#333"/>
<circle cx="406.61" cy="564.76" r="0.6" fill="#333"/>
<circle cx="406.6" cy="580.64" r="0.6" fill="#333"/>
<circle cx="410.36" cy="566.58" r="0.6" fill="#333"/>
<circle cx="406.62" cy="549.45" r="0.6" fill="#333"/>
<line x1="428.05" y1="603" x2="428.05" y2="619.9" stroke="#555" stroke-width="0.6"/>
<line x1="428.05" y1="630.5" x2="428.05" y2="636" stroke="#555" stroke-width="0.6"/>
<rect x="424.4" y="619.9" width="7.3" height="10.6" fill="#E2FBB8" stroke="#555" stroke-width="0.8"/>
<line x1="424.4" y1="627" x2="431.7" y2="627" stroke="#555" stroke-width="0.8"/>
<circle cx="430" cy="624.72" r="0.6" fill="#333"/>
<circle cx="426.25" cy="617.89" r="0.6" fill="#333"/>
<circle cx="427.9" cy="626.13" r="0.6" fill="#333"/>
<circle cx="427.91" cy="624.35" r="0.6" fill="#333"/>
<circle cx="426.98" cy="635.24" r="0.6" fill="#333"/>
<circle cx="427.61" cy="610.52" r="0.6" fill="#333"/>
<circle cx="428.59" cy="623.58" r="0.6" fill="#333"/>
<circle cx="429.23" cy="615.4" r="0.6" fill="#333"/>
<circle cx="426.7" cy="627.66" r="0.6" fill="#333"/>
<circle cx="429.42" cy="624.09" r="0.6" fill="#333"/>
<circle cx="427.59" cy="627.78" r="0.6" fill="#333"/>
<circle cx="428.23" cy="622.77" r="0.6" fill="#333"/>
<circle cx="429.73" cy="622.14" r="0.6" fill="#333"/>
<circle cx="427.61" cy="623.24" r="0.6" fill="#333"/>
<circle cx="427.52" cy="626.75" r="0.6" fill="#333"/>
<circle cx="427.8" cy="621.5" r="0.6" fill="#333"/>
<circle cx="428.57" cy="621.52" r="0.6" fill="#333"/>
<circle cx="428.11" cy="614.71" r="0.6" fill="#333"/>
<circle cx="430" cy="607.82" r="0.6" fill="#333"/>
<circle cx="427.94" cy="630.64" r="0.6" fill="#333"/>
<circle cx="426.05" cy="634.7" r="0.6" fill="#333"/>
<circle cx="426.51" cy="610.47" r="0.6" fill="#333"/>
<circle cx="428.73" cy="625.75" r="0.6" fill="#333"/>
<circle cx="427.76" cy="605.61" r="0.6" fill="#333"/>
<circle cx="427.45" cy="630.52" r="0.6" fill="#333"/>
<circle cx="426.65" cy="624.82" r="0.6" fill="#333"/>
<circle cx="427.14" cy="625.65" r="0.6" fill="#333"/>
<circle cx="426.03" cy="622.34" r="0.6" fill="#333"/>
<circle cx="429.8" cy="622.59" r="0.6" fill="#333"/>
<circle cx="426.27" cy="632.75" r="0.6" fill="#333"/>
<circle cx="427.22" cy="620.69" r="0.6" fill="#333"/>
<circle cx="428.3" cy="628.39" r="0.6" fill="#333"/>
<line x1="436.3" y1="605" x2="436.3" y2="617.1" stroke="#555" stroke-width="0.6"/>
<line x1="436.3" y1="631.8" x2="436.3" y2="636" stroke="#555" stroke-width="0.6"/>
<rect x="432.5" y="617.1" width="7.6" height="14.7" fill="#FBC0A6" stroke="#555" stroke-width="0.8"/>
<line x1="432.5" y1="630" x2="440.1" y2="630" stroke="#555" stroke-width="0.8"/>
<circle cx="438.18" cy="634.97" r="0.6" fill="#333"/>
<circle cx="435.48" cy="617.46" r="0.6" fill="#333"/>
<circle cx="438.23" cy="634.38" r="0.6" fill="#333"/>
<circle cx="436.35" cy="633.37" r="0.6" fill="#333"/>
<circle cx="434.29" cy="629.31" r="0.6" fill="#333"/>
<circle cx="436.79" cy="623.63" r="0.6" fill="#333"/>
<circle cx="434.87" cy="622.98" r="0.6" fill="#333"/>
<circle cx="434.19" cy="624.64" r="0.6" fill="#333"/>
<circle cx="438.56" cy="635.25" r="0.6" fill="#333"/>
<circle cx="436.02" cy="609.67" r="0.6" fill="#333"/>
<circle cx="436.49" cy="612.58" r="0.6" fill="#333"/>
<circle cx="435.59" cy="627.67" r="0.6" fill="#333"/>
<circle cx="435.36" cy="608.78" r="0.6" fill="#333"/>
<circle cx="436.68" cy="620.41" r="0.6" fill="#333"/>
<circle cx="436.41" cy="633.91" r="0.6" fill="#333"/>
<circle cx="435.07" cy="633.06" r="0.6" fill="#333"/>
<circle cx="438.18" cy="631.32" r="0.6" fill="#333"/>
<circle cx="437.68" cy="612.07" r="0.6" fill="#333"/>
<circle cx="437.4" cy="614.84" r="0.6" fill="#333"/>
<circle cx="436.17" cy="635.65" r="0.6" fill="#333"/>
<circle cx="436.59" cy="614.35" r="0.6" fill="#333"/>
<circle cx="436.76" cy="632.46" r="0.6" fill="#333"/>
<circle cx="438.44" cy="631.71" r="0.6" fill="#333"/>
<circle cx="434.33" cy="630.16" r="0.6" fill="#333"/>
<circle cx="436.82" cy="631.16" r="0.6" fill="#333"/>
<circle cx="437.56" cy="635.87" r="0.6" fill="#333"/>
<circle cx="438.4" cy="632.49" r="0.6" fill="#333"/>
<circle cx="435.95" cy="623.29" r="0.6" fill="#333"/>
<circle cx="434.12" cy="627.37" r="0.6" fill="#333"/>
<circle cx="437" cy="633.71" r="0.6" fill="#333"/>
<circle cx="438.2" cy="635.19" r="0.6" fill="#333"/>
<circle cx="437.99" cy="612.94" r="0.6" fill="#333"/>
<circle cx="436.89" cy="630.99" r="0.6" fill="#333"/>
<circle cx="436.03" cy="628.47" r="0.6" fill="#333"/>
<circle cx="435.87" cy="609.69" r="0.6" fill="#333"/>
<circle cx="437.88" cy="618.21" r="0.6" fill="#333"/>
<circle cx="438.31" cy="609.89" r="0.6" fill="#333"/>
<circle cx="435.13" cy="622.23" r="0.6" fill="#333"/>
<circle cx="434.91" cy="622.67" r="0.6" fill="#333"/>
<circle cx="435.61" cy="612.75" r="0.6" fill="#333"/>
<circle cx="436.52" cy="628.27" r="0.6" fill="#333"/>
<circle cx="435.08" cy="618.72" r="0.6" fill="#333"/>
<circle cx="436.83" cy="578" r="0.6" fill="#333"/>
<line x1="444.5" y1="593" x2="444.5" y2="615.3" stroke="#555" stroke-width="0.6"/>
<line x1="444.5" y1="630.5" x2="444.5" y2="636" stroke="#555" stroke-width="0.6"/>
<rect x="440.6" y="615.3" width="7.8" height="15.2" fill="#C2E6F4" stroke="#555" stroke-width="0.8"/>
<line x1="440.6" y1="625" x2="448.4" y2="625" stroke="#555" stroke-width="0.8"/>
<circle cx="445.78" cy="624.77" r="0.6" fill="#333"/>
<circle cx="446.36" cy="623.87" r="0.6" fill="#333"/>
<circle cx="446.72" cy="615.9" r="0.6" fill="#333"/>
<circle cx="445.47" cy="627.38" r="0.6" fill="#333"/>
<circle cx="446.55" cy="630.2" r="0.6" fill="#333"/>
<circle cx="446.43" cy="615.88" r="0.6" fill="#333"/>
<circle cx="446.61" cy="615.8" r="0.6" fill="#333"/>
<circle cx="443.07" cy="612.14" r="0.6" fill="#333"/>
<circle cx="446.29" cy="601.96" r="0.6" fill="#333"/>
<circle cx="444.28" cy="625.16" r="0.6" fill="#333"/>
<circle cx="444.47" cy="635.19" r="0.6" fill="#333"/>
<circle cx="445.25" cy="631.86" r="0.6" fill="#333"/>
<circle cx="442.97" cy="617.88" r="0.6" fill="#333"/>
<circle cx="442.78" cy="620.77" r="0.6" fill="#333"/>
<circle cx="442.27" cy="632.27" r="0.6" fill="#333"/>
<circle cx="442.5" cy="632.32" r="0.6" fill="#333"/>
<circle cx="445.28" cy="621.96" r="0.6" fill="#333"/>
<circle cx="444.95" cy="630.09" r="0.6" fill="#333"/>
<circle cx="444.65" cy="631.84" r="0.6" fill="#333"/>
<circle cx="442.59" cy="619.99" r="0.6" fill="#333"/>
<circle cx="444.1" cy="634.67" r="0.6" fill="#333"/>
<circle cx="444.54" cy="628.27" r="0.6" fill="#333"/>
<circle cx="446.12" cy="614.31" r="0.6" fill="#333"/>
<circle cx="444.19" cy="617.39" r="0.6" fill="#333"/>
<circle cx="444.73" cy="624.48" r="0.6" fill="#333"/>
<circle cx="443.15" cy="601.54" r="0.6" fill="#333"/>
<circle cx="446.3" cy="613.26" r="0.6" fill="#333"/>
<circle cx="446.03" cy="606.15" r="0.6" fill="#333"/>
<circle cx="444.02" cy="618.39" r="0.6" fill="#333"/>
<circle cx="442.81" cy="617.6" r="0.6" fill="#333"/>
<circle cx="445.4" cy="634.14" r="0.6" fill="#333"/>
<circle cx="444.45" cy="630.21" r="0.6" fill="#333"/>
<circle cx="444.23" cy="634.35" r="0.6" fill="#333"/>
<circle cx="446.74" cy="632.85" r="0.6" fill="#333"/>
<circle cx="446.36" cy="617.85" r="0.6" fill="#333"/>
<circle cx="442.26" cy="617.69" r="0.6" fill="#333"/>
<circle cx="446.14" cy="623.92" r="0.6" fill="#333"/>
<circle cx="446.53" cy="621.58" r="0.6" fill="#333"/>
<line x1="452.75" y1="603" x2="452.75" y2="616.6" stroke="#555" stroke-width="0.6"/>
<line x1="452.75" y1="629.3" x2="452.75" y2="636" stroke="#555" stroke-width="0.6"/>
<rect x="449" y="616.6" width="7.5" height="12.7" fill="#DDA6DD" stroke="#555" stroke-width="0.8"/>
<line x1="449" y1="627" x2="456.5" y2="627" stroke="#555" stroke-width="0.8"/>
<circle cx="454.75" cy="607.34" r="0.6" fill="#333"/>
<circle cx="453.32" cy="622.3" r="0.6" fill="#333"/>
<circle cx="454.31" cy="614.92" r="0.6" fill="#333"/>
<circle cx="453.73" cy="627.31" r="0.6" fill="#333"/>
<circle cx="452.39" cy="617.47" r="0.6" fill="#333"/>
<circle cx="453.36" cy="620.9" r="0.6" fill="#333"/>
<circle cx="450.78" cy="619.61" r="0.6" fill="#333"/>
<circle cx="454.63" cy="634.15" r="0.6" fill="#333"/>
<circle cx="451.55" cy="609.61" r="0.6" fill="#333"/>
<circle cx="454.23" cy="630.06" r="0.6" fill="#333"/>
<circle cx="453.81" cy="631.37" r="0.6" fill="#333"/>
<circle cx="452.36" cy="608.7" r="0.6" fill="#333"/>
<circle cx="451.19" cy="617.7" r="0.6" fill="#333"/>
<circle cx="453.08" cy="605.66" r="0.6" fill="#333"/>
<circle cx="452.06" cy="635.44" r="0.6" fill="#333"/>
<circle cx="454.46" cy="630.24" r="0.6" fill="#333"/>
<circle cx="452.06" cy="625.74" r="0.6" fill="#333"/>
<circle cx="451.14" cy="634.15" r="0.6" fill="#333"/>
<circle cx="452.22" cy="612.09" r="0.6" fill="#333"/>
<circle cx="453.75" cy="621.52" r="0.6" fill="#333"/>
<circle cx="453" cy="614.79" r="0.6" fill="#333"/>
<circle cx="451.89" cy="625.4" r="0.6" fill="#333"/>
<circle cx="453.13" cy="619.24" r="0.6" fill="#333"/>
<circle cx="452.07" cy="608.83" r="0.6" fill="#333"/>
<circle cx="450.97" cy="620.37" r="0.6" fill="#333"/>
<circle cx="450.93" cy="606.03" r="0.6" fill="#333"/>
<circle cx="451.07" cy="609.58" r="0.6" fill="#333"/>
<circle cx="453.43" cy="618.98" r="0.6" fill="#333"/>
<circle cx="452.54" cy="617.35" r="0.6" fill="#333"/>
<circle cx="451.04" cy="618.35" r="0.6" fill="#333"/>
<circle cx="454.1" cy="613.32" r="0.6" fill="#333"/>
<circle cx="454.02" cy="622.18" r="0.6" fill="#333"/>
<circle cx="452.78" cy="613.86" r="0.6" fill="#333"/>
<circle cx="452.53" cy="619.5" r="0.6" fill="#333"/>
<circle cx="451.76" cy="616.76" r="0.6" fill="#333"/>
<circle cx="452.73" cy="635.83" r="0.6" fill="#333"/>
<circle cx="451.23" cy="632.04" r="0.6" fill="#333"/>
<circle cx="451.63" cy="622.05" r="0.6" fill="#333"/>
<circle cx="452.32" cy="617.2" r="0.6" fill="#333"/>
<circle cx="451.54" cy="619.55" r="0.6" fill="#333"/>
<circle cx="452.15" cy="617.7" r="0.6" fill="#333"/>
<circle cx="454.68" cy="606.74" r="0.6" fill="#333"/>
<circle cx="453.64" cy="623.79" r="0.6" fill="#333"/>
<circle cx="450.59" cy="625.13" r="0.6" fill="#333"/>
<circle cx="453.71" cy="611.69" r="0.6" fill="#333"/>
<circle cx="452.88" cy="585" r="0.6" fill="#333"/>
<line x1="471" y1="608" x2="471" y2="622.4" stroke="#555" stroke-width="0.6"/>
<line x1="471" y1="630.5" x2="471" y2="636" stroke="#555" stroke-width="0.6"/>
<rect x="467.2" y="622.4" width="7.6" height="8.1" fill="#E2FBB8" stroke="#555" stroke-width="0.8"/>
<line x1="467.2" y1="627" x2="474.8" y2="627" stroke="#555" stroke-width="0.8"/>
<circle cx="473.14" cy="627.55" r="0.6" fill="#333"/>
<circle cx="473.18" cy="627.9" r="0.6" fill="#333"/>
<circle cx="470.99" cy="623.26" r="0.6" fill="#333"/>
<circle cx="472.46" cy="624.45" r="0.6" fill="#333"/>
<circle cx="470.61" cy="619.63" r="0.6" fill="#333"/>
<circle cx="470.26" cy="622.5" r="0.6" fill="#333"/>
<circle cx="472.45" cy="609.73" r="0.6" fill="#333"/>
<circle cx="471.29" cy="633.29" r="0.6" fill="#333"/>
<circle cx="473.23" cy="622.33" r="0.6" fill="#333"/>
<circle cx="472.94" cy="625.88" r="0.6" fill="#333"/>
<circle cx="471.1" cy="623.43" r="0.6" fill="#333"/>
<circle cx="470.19" cy="632.98" r="0.6" fill="#333"/>
<circle cx="469.83" cy="618.2" r="0.6" fill="#333"/>
<circle cx="472.87" cy="619.5" r="0.6" fill="#333"/>
<circle cx="470.82" cy="631.54" r="0.6" fill="#333"/>
<circle cx="469.95" cy="635.69" r="0.6" fill="#333"/>
<circle cx="473.1" cy="623.95" r="0.6" fill="#333"/>
<circle cx="468.77" cy="624.51" r="0.6" fill="#333"/>
<circle cx="471.21" cy="632.61" r="0.6" fill="#333"/>
<circle cx="472.21" cy="634.38" r="0.6" fill="#333"/>
<circle cx="470.76" cy="625.64" r="0.6" fill="#333"/>
<circle cx="469.71" cy="632.65" r="0.6" fill="#333"/>
<circle cx="472.28" cy="635.22" r="0.6" fill="#333"/>
<circle cx="472.54" cy="632.6" r="0.6" fill="#333"/>
<circle cx="471.45" cy="629.13" r="0.6" fill="#333"/>
<circle cx="470.41" cy="631.67" r="0.6" fill="#333"/>
<circle cx="470.73" cy="624.81" r="0.6" fill="#333"/>
<circle cx="471.61" cy="635.52" r="0.6" fill="#333"/>
<circle cx="472.87" cy="627" r="0.6" fill="#333"/>
<circle cx="471.36" cy="631.72" r="0.6" fill="#333"/>
<circle cx="471.53" cy="623.39" r="0.6" fill="#333"/>
<circle cx="472.38" cy="635.93" r="0.6" fill="#333"/>
<circle cx="471.09" cy="628.89" r="0.6" fill="#333"/>
<circle cx="469.6" cy="630.47" r="0.6" fill="#333"/>
<circle cx="472.36" cy="623.33" r="0.6" fill="#333"/>
<circle cx="470.2" cy="614.09" r="0.6" fill="#333"/>
<circle cx="470.13" cy="622.67" r="0.6" fill="#333"/>
<circle cx="472.38" cy="620.56" r="0.6" fill="#333"/>
<circle cx="472.44" cy="628.91" r="0.6" fill="#333"/>
<circle cx="470.84" cy="625.62" r="0.6" fill="#333"/>
<circle cx="469.08" cy="617.37" r="0.6" fill="#333"/>
<circle cx="471.98" cy="614.57" r="0.6" fill="#333"/>
<circle cx="473.19" cy="625.39" r="0.6" fill="#333"/>
<circle cx="470.63" cy="570" r="0.6" fill="#333"/>
<line x1="479.3" y1="615" x2="479.3" y2="624.5" stroke="#555" stroke-width="0.6"/>
<line x1="479.3" y1="632.5" x2="479.3" y2="636" stroke="#555" stroke-width="0.6"/>
<rect x="475.5" y="624.5" width="7.6" height="8" fill="#FBC0A6" stroke="#555" stroke-width="0.8"/>
<line x1="475.5" y1="629" x2="483.1" y2="629" stroke="#555" stroke-width="0.8"/>
<circle cx="477.65" cy="626.51" r="0.6" fill="#333"/>
<circle cx="479.66" cy="630.93" r="0.6" fill="#333"/>
<circle cx="480.69" cy="624.99" r="0.6" fill="#333"/>
<circle cx="478.78" cy="625.6" r="0.6" fill="#333"/>
<circle cx="479.18" cy="627.74" r="0.6" fill="#333"/>
<circle cx="479.93" cy="633.6" r="0.6" fill="#333"/>
<circle cx="478.66" cy="626.77" r="0.6" fill="#333"/>
<circle cx="477.91" cy="632.91" r="0.6" fill="#333"/>
<circle cx="479.63" cy="628.65" r="0.6" fill="#333"/>
<circle cx="478.6" cy="629.9" r="0.6" fill="#333"/>
<circle cx="478.34" cy="620.66" r="0.6" fill="#333"/>
<circle cx="480.29" cy="625.36" r="0.6" fill="#333"/>
<circle cx="478.1" cy="629.56" r="0.6" fill="#333"/>
<circle cx="477.21" cy="634.93" r="0.6" fill="#333"/>
<circle cx="481.32" cy="633.75" r="0.6" fill="#333"/>
<circle cx="481.09" cy="618.64" r="0.6" fill="#333"/>
<circle cx="478.06" cy="635.08" r="0.6" fill="#333"/>
<circle cx="479.63" cy="630.02" r="0.6" fill="#333"/>
<circle cx="481.09" cy="628.43" r="0.6" fill="#333"/>
<circle cx="479.82" cy="623.68" r="0.6" fill="#333"/>
<circle cx="480.27" cy="627.33" r="0.6" fill="#333"/>
<circle cx="477.17" cy="635.84" r="0.6" fill="#333"/>
<circle cx="479.84" cy="633.66" r="0.6" fill="#333"/>
<circle cx="479.29" cy="630.66" r="0.6" fill="#333"/>
<circle cx="479.48" cy="632.61" r="0.6" fill="#333"/>
<circle cx="480.61" cy="626.29" r="0.6" fill="#333"/>
<circle cx="477.18" cy="629.44" r="0.6" fill="#333"/>
<circle cx="479.06" cy="631.75" r="0.6" fill="#333"/>
<circle cx="481.52" cy="635.67" r="0.6" fill="#333"/>
<circle cx="480.76" cy="630.52" r="0.6" fill="#333"/>
<circle cx="479.78" cy="626.88" r="0.6" fill="#333"/>
<circle cx="478.36" cy="632.76" r="0.6" fill="#333"/>
<circle cx="478.57" cy="633.49" r="0.6" fill="#333"/>
<circle cx="481.45" cy="626.12" r="0.6" fill="#333"/>
<circle cx="480.89" cy="630.97" r="0.6" fill="#333"/>
<circle cx="480.52" cy="619.83" r="0.6" fill="#333"/>
<circle cx="478.13" cy="622.5" r="0.6" fill="#333"/>
<circle cx="479.1" cy="633.21" r="0.6" fill="#333"/>
<circle cx="477.28" cy="632.87" r="0.6" fill="#333"/>
<circle cx="480.11" cy="620.53" r="0.6" fill="#333"/>
<circle cx="479.28" cy="624.97" r="0.6" fill="#333"/>
<circle cx="479.65" cy="631.43" r="0.6" fill="#333"/>
<circle cx="480.33" cy="625.9" r="0.6" fill="#333"/>
<circle cx="478.59" cy="630.58" r="0.6" fill="#333"/>
<circle cx="478.08" cy="628.22" r="0.6" fill="#333"/>
<line x1="487.5" y1="622" x2="487.5" y2="628" stroke="#555" stroke-width="0.6"/>
<line x1="487.5" y1="632" x2="487.5" y2="636" stroke="#555" stroke-width="0.6"/>
<rect x="483.7" y="628" width="7.6" height="4" fill="#C2E6F4" stroke="#555" stroke-width="0.8"/>
<line x1="483.7" y1="630" x2="491.3" y2="630" stroke="#555" stroke-width="0.8"/>
<circle cx="486.08" cy="635.46" r="0.6" fill="#333"/>
<circle cx="485.96" cy="629.91" r="0.6" fill="#333"/>
<circle cx="486.74" cy="630.98" r="0.6" fill="#333"/>
<circle cx="487.24" cy="627.75" r="0.6" fill="#333"/>
<circle cx="488.98" cy="632.08" r="0.6" fill="#333"/>
<circle cx="487.46" cy="631.32" r="0.6" fill="#333"/>
<circle cx="487.41" cy="634.42" r="0.6" fill="#333"/>
<circle cx="488.87" cy="628.23" r="0.6" fill="#333"/>
<circle cx="486.46" cy="624.32" r="0.6" fill="#333"/>
<circle cx="487.67" cy="625.93" r="0.6" fill="#333"/>
<circle cx="485.35" cy="627.46" r="0.6" fill="#333"/>
<circle cx="489.61" cy="634.26" r="0.6" fill="#333"/>
<circle cx="486.58" cy="628.14" r="0.6" fill="#333"/>
<circle cx="486.54" cy="630.23" r="0.6" fill="#333"/>
<circle cx="489.52" cy="629.08" r="0.6" fill="#333"/>
<circle cx="486.56" cy="634.37" r="0.6" fill="#333"/>
<circle cx="485.79" cy="631.32" r="0.6" fill="#333"/>
<circle cx="485.99" cy="630.3" r="0.6" fill="#333"/>
<circle cx="486.83" cy="628.27" r="0.6" fill="#333"/>
<circle cx="488.98" cy="635.28" r="0.6" fill="#333"/>
<circle cx="485.66" cy="627.92" r="0.6" fill="#333"/>
<circle cx="489" cy="629.09" r="0.6" fill="#333"/>
<circle cx="486.94" cy="633.96" r="0.6" fill="#333"/>
<circle cx="487.96" cy="631.69" r="0.6" fill="#333"/>
<circle cx="485.61" cy="628.07" r="0.6" fill="#333"/>
<circle cx="486.54" cy="629.59" r="0.6" fill="#333"/>
<circle cx="486.83" cy="622.65" r="0.6" fill="#333"/>
<circle cx="488.82" cy="631.66" r="0.6" fill="#333"/>
<circle cx="486.58" cy="627.98" r="0.6" fill="#333"/>
<circle cx="489.63" cy="632.66" r="0.6" fill="#333"/>
<circle cx="488.05" cy="631.59" r="0.6" fill="#333"/>
<circle cx="486.46" cy="631.17" r="0.6" fill="#333"/>
<circle cx="489.42" cy="630.57" r="0.6" fill="#333"/>
<circle cx="485.96" cy="629.41" r="0.6" fill="#333"/>
<circle cx="485.28" cy="634.36" r="0.6" fill="#333"/>
<circle cx="485.36" cy="631.55" r="0.6" fill="#333"/>
<circle cx="486.29" cy="625.81" r="0.6" fill="#333"/>
<circle cx="485.74" cy="632.37" r="0.6" fill="#333"/>
<circle cx="486.46" cy="630.59" r="0.6" fill="#333"/>
<circle cx="488.41" cy="631.55" r="0.6" fill="#333"/>
<circle cx="485.68" cy="632.37" r="0.6" fill="#333"/>
<circle cx="485.94" cy="572" r="0.6" fill="#333"/>
<circle cx="487.32" cy="580" r="0.6" fill="#333"/>
<circle cx="486.9" cy="590" r="0.6" fill="#333"/>
<circle cx="487.45" cy="600" r="0.6" fill="#333"/>
<line x1="495.8" y1="622" x2="495.8" y2="628" stroke="#555" stroke-width="0.6"/>
<line x1="495.8" y1="632" x2="495.8" y2="636" stroke="#555" stroke-width="0.6"/>
<rect x="492" y="628" width="7.6" height="4" fill="#DDA6DD" stroke="#555" stroke-width="0.8"/>
<line x1="492" y1="630" x2="499.6" y2="630" stroke="#555" stroke-width="0.8"/>
<circle cx="497.86" cy="627.43" r="0.6" fill="#333"/>
<circle cx="497.96" cy="624.32" r="0.6" fill="#333"/>
<circle cx="495.62" cy="633.94" r="0.6" fill="#333"/>
<circle cx="497.2" cy="625.75" r="0.6" fill="#333"/>
<circle cx="496.16" cy="626.71" r="0.6" fill="#333"/>
<circle cx="494.91" cy="623.79" r="0.6" fill="#333"/>
<circle cx="494.34" cy="631.47" r="0.6" fill="#333"/>
<circle cx="495.55" cy="629.35" r="0.6" fill="#333"/>
<circle cx="494.3" cy="630.95" r="0.6" fill="#333"/>
<circle cx="496.57" cy="627.97" r="0.6" fill="#333"/>
<circle cx="497.05" cy="628.41" r="0.6" fill="#333"/>
<circle cx="495.33" cy="626.03" r="0.6" fill="#333"/>
<circle cx="495.77" cy="627.07" r="0.6" fill="#333"/>
<circle cx="497.94" cy="631.03" r="0.6" fill="#333"/>
<circle cx="494.02" cy="632.58" r="0.6" fill="#333"/>
<circle cx="496.37" cy="635.17" r="0.6" fill="#333"/>
<circle cx="496.46" cy="624.94" r="0.6" fill="#333"/>
<circle cx="494.49" cy="630.83" r="0.6" fill="#333"/>
<circle cx="496.98" cy="633.72" r="0.6" fill="#333"/>
<circle cx="496.66" cy="631.05" r="0.6" fill="#333"/>
<circle cx="496.17" cy="629.75" r="0.6" fill="#333"/>
<circle cx="496.01" cy="628.44" r="0.6" fill="#333"/>
<circle cx="496.35" cy="626.45" r="0.6" fill="#333"/>
<circle cx="495.74" cy="631.8" r="0.6" fill="#333"/>
<circle cx="495.54" cy="625.12" r="0.6" fill="#333"/>
<circle cx="496.73" cy="629.19" r="0.6" fill="#333"/>
<circle cx="496.83" cy="623.38" r="0.6" fill="#333"/>
<circle cx="495.58" cy="626.72" r="0.6" fill="#333"/>
<circle cx="497.89" cy="631.65" r="0.6" fill="#333"/>
<circle cx="495.23" cy="634.75" r="0.6" fill="#333"/>
<circle cx="495.79" cy="630.35" r="0.6" fill="#333"/>
<circle cx="496.9" cy="630.6" r="0.6" fill="#333"/>
<circle cx="497.98" cy="628.29" r="0.6" fill="#333"/>
<circle cx="493.58" cy="632.14" r="0.6" fill="#333"/>
<circle cx="496.77" cy="631.44" r="0.6" fill="#333"/>
<circle cx="494.53" cy="629.48" r="0.6" fill="#333"/>
<circle cx="493.82" cy="626.77" r="0.6" fill="#333"/>
<circle cx="495.95" cy="627.31" r="0.6" fill="#333"/>
<circle cx="495.13" cy="624.61" r="0.6" fill="#333"/>
<circle cx="495.12" cy="627.78" r="0.6" fill="#333"/>
<circle cx="498.04" cy="628.56" r="0.6" fill="#333"/>
<circle cx="497.79" cy="631.14" r="0.6" fill="#333"/>
<text x="384.3" y="641" font-size="6.3" text-anchor="middle" fill="#9c9c9c" color="#9c9c9c">36</text>
<text x="392.4" y="641" font-size="6.3" text-anchor="middle" fill="#9c9c9c" color="#9c9c9c">45</text>
<text x="400" y="641" font-size="6.3" text-anchor="middle" fill="#9c9c9c" color="#9c9c9c">38</text>
<text x="408.4" y="641" font-size="6.3" text-anchor="middle" fill="#9c9c9c" color="#9c9c9c">45</text>
<text x="428.05" y="641" font-size="6.3" text-anchor="middle" fill="#9c9c9c" color="#9c9c9c">32</text>
<text x="436.3" y="641" font-size="6.3" text-anchor="middle" fill="#9c9c9c" color="#9c9c9c">42</text>
<text x="444.5" y="641" font-size="6.3" text-anchor="middle" fill="#9c9c9c" color="#9c9c9c">38</text>
<text x="452.75" y="641" font-size="6.3" text-anchor="middle" fill="#9c9c9c" color="#9c9c9c">45</text>
<text x="471" y="641" font-size="6.3" text-anchor="middle" fill="#9c9c9c" color="#9c9c9c">43</text>
<text x="479.3" y="641" font-size="6.3" text-anchor="middle" fill="#9c9c9c" color="#9c9c9c">45</text>
<text x="487.5" y="641" font-size="6.3" text-anchor="middle" fill="#9c9c9c" color="#9c9c9c">41</text>
<text x="495.8" y="641" font-size="6.3" text-anchor="middle" fill="#9c9c9c" color="#9c9c9c">42</text>
<text x="396.2" y="650.4" font-size="7.6" text-anchor="middle" fill="#1a1a1a" color="#1a1a1a">NHS</text>
<text x="440.1" y="650.4" font-size="7.6" text-anchor="middle" fill="#1a1a1a" color="#1a1a1a">4d</text>
<text x="484.4" y="650.4" font-size="7.6" text-anchor="middle" fill="#1a1a1a" color="#1a1a1a">5d</text>
<line x1="431.2" y1="652.5" x2="492" y2="652.5" stroke="#777" stroke-width="1.4"/>
<text x="462.9" y="660.1" font-size="7.6" text-anchor="middle" fill="#1a1a1a" color="#1a1a1a">maTT</text>
<text x="440.1" y="565.7" font-size="8.8" text-anchor="middle" fill="#000" color="#000">ns</text>
<line x1="383.1" y1="512.5" x2="412.2" y2="512.5" stroke="#666" stroke-width="1.1"/>
<text x="398" y="514.14" font-size="8.5" text-anchor="middle" fill="#000" color="#000">*</text>
<line x1="392" y1="514.5" x2="412.2" y2="514.5" stroke="#666" stroke-width="1.1"/>
<text x="400" y="517.14" font-size="8.5" text-anchor="middle" fill="#000" color="#000">*</text>
<line x1="401" y1="517.5" x2="412.2" y2="517.5" stroke="#666" stroke-width="1.1"/>
<text x="406" y="519.64" font-size="8.5" text-anchor="middle" fill="#000" color="#000">*</text>
<line x1="470.5" y1="562.5" x2="498.3" y2="562.5" stroke="#666" stroke-width="1.1"/>
<text x="484" y="564.85" font-size="8.5" text-anchor="middle" fill="#000" color="#000">*</text>
<line x1="485" y1="566.5" x2="498.3" y2="566.5" stroke="#666" stroke-width="1.1"/>
<text x="491.6" y="567.94" font-size="8.5" text-anchor="middle" fill="#000" color="#000">*</text>
<rect x="441" y="511" width="5.8" height="3.5" fill="#E2FBB8" stroke="#666" stroke-width="0.7"/>
<text x="449.5" y="515.3" font-size="7.6" text-anchor="start" fill="#000" color="#000">GP</text>
<rect x="441" y="518.7" width="5.8" height="3.2" fill="#FBC0A6" stroke="#666" stroke-width="0.7"/>
<text x="449.5" y="522.1" font-size="7.6" text-anchor="start" fill="#000" color="#000" font-style="italic">hsfa2−1</text>
<rect x="441" y="526.2" width="5.8" height="3.4" fill="#1CAEE4" stroke="#666" stroke-width="0.7"/>
<text x="449.5" y="529.4" font-size="7.6" text-anchor="start" fill="#000" color="#000" font-style="italic">hsfa3−1</text>
<rect x="441" y="532.6" width="5.8" height="3.4" fill="#DDA6DD" stroke="#666" stroke-width="0.7"/>
<text x="449.5" y="536.3" font-size="7.6" text-anchor="start" fill="#000" color="#000" font-style="italic">hsfa2−1 hsfa3−1</text>
<text x="520.3" y="501" font-size="12.5" text-anchor="start" fill="#000" color="#000" font-weight="bold">p</text>
<rect x="550.3" y="497.6" width="5.6" height="5.3" fill="#CAFF70" stroke="#666" stroke-width="0.7"/>
<text x="558.5" y="503" font-size="7.6" text-anchor="start" fill="#000" color="#000">GP</text>
<rect x="572.2" y="497.6" width="5.7" height="5.3" fill="#FF7F50" stroke="#666" stroke-width="0.7"/>
<text x="581.8" y="503" font-size="7.6" text-anchor="start" fill="#000" color="#000" font-style="italic">hsfa2−1</text>
<rect x="616" y="497.6" width="5.2" height="5.3" fill="#00BDFA" stroke="#666" stroke-width="0.7"/>
<text x="623.8" y="503" font-size="7.6" text-anchor="start" fill="#000" color="#000" font-style="italic">hsfa3−1</text>
<rect x="550.3" y="506.9" width="5.6" height="5.6" fill="#DDA0DD" stroke="#666" stroke-width="0.7"/>
<text x="559" y="512.7" font-size="7.6" text-anchor="start" fill="#000" color="#000" font-style="italic">hsfa2−1 hsfa3−1</text>
<rect x="552.1" y="515.4" width="131.3" height="130.9" fill="none" stroke="#7a7a7a" stroke-width="1.15"/>
<line x1="550.3" y1="640.6" x2="552.1" y2="640.6" stroke="#333" stroke-width="0.8"/>
<text x="548.7" y="643.6" font-size="7.4" text-anchor="end" fill="#383838" color="#383838">0%</text>
<line x1="550.3" y1="615.7" x2="552.1" y2="615.7" stroke="#333" stroke-width="0.8"/>
<text x="548.7" y="618.7" font-size="7.4" text-anchor="end" fill="#383838" color="#383838">25%</text>
<line x1="550.3" y1="590.8" x2="552.1" y2="590.8" stroke="#333" stroke-width="0.8"/>
<text x="548.7" y="593.8" font-size="7.4" text-anchor="end" fill="#383838" color="#383838">50%</text>
<line x1="550.3" y1="565.9" x2="552.1" y2="565.9" stroke="#333" stroke-width="0.8"/>
<text x="548.7" y="568.9" font-size="7.4" text-anchor="end" fill="#383838" color="#383838">75%</text>
<line x1="550.3" y1="541" x2="552.1" y2="541" stroke="#333" stroke-width="0.8"/>
<text x="548.7" y="544" font-size="7.4" text-anchor="end" fill="#383838" color="#383838">100%</text>
<text x="527.9" y="570.7" font-size="9" text-anchor="middle" fill="#000" color="#000" transform="rotate(-90 527.9 570.7)">Survival rate</text>
<rect x="558.5" y="541" width="9" height="99.6" fill="#CAFF70" stroke="#1a1a1a" stroke-width="0.8"/>
<circle cx="563" cy="541" r="1.1" fill="#000"/>
<rect x="567.5" y="541" width="8.9" height="99.6" fill="#FF7F50" stroke="#1a1a1a" stroke-width="0.8"/>
<circle cx="571.95" cy="541" r="1.1" fill="#000"/>
<rect x="576.4" y="543.5" width="9" height="97.1" fill="#00BDFA" stroke="#1a1a1a" stroke-width="0.8"/>
<line x1="580.9" y1="540" x2="580.9" y2="547" stroke="#1a1a1a" stroke-width="0.8"/>
<line x1="579.5" y1="540" x2="582.3" y2="540" stroke="#1a1a1a" stroke-width="0.8"/>
<line x1="579.5" y1="547" x2="582.3" y2="547" stroke="#1a1a1a" stroke-width="0.8"/>
<circle cx="580.9" cy="541" r="1.1" fill="#000"/>
<circle cx="580.9" cy="546" r="1.1" fill="#000"/>
<rect x="585.4" y="541" width="9.7" height="99.6" fill="#DDA0DD" stroke="#1a1a1a" stroke-width="0.8"/>
<circle cx="590.25" cy="541" r="1.1" fill="#000"/>
<rect x="598.9" y="553.3" width="9.5" height="87.3" fill="#CAFF70" stroke="#1a1a1a" stroke-width="0.8"/>
<line x1="603.65" y1="550" x2="603.65" y2="557" stroke="#1a1a1a" stroke-width="0.8"/>
<line x1="602.25" y1="550" x2="605.05" y2="550" stroke="#1a1a1a" stroke-width="0.8"/>
<line x1="602.25" y1="557" x2="605.05" y2="557" stroke="#1a1a1a" stroke-width="0.8"/>
<circle cx="603.65" cy="549" r="1.1" fill="#000"/>
<circle cx="603.65" cy="551" r="1.1" fill="#000"/>
<circle cx="603.65" cy="558" r="1.1" fill="#000"/>
<rect x="608.4" y="585.7" width="8.9" height="54.9" fill="#FF7F50" stroke="#1a1a1a" stroke-width="0.8"/>
<line x1="612.85" y1="570.4" x2="612.85" y2="601" stroke="#1a1a1a" stroke-width="0.8"/>
<line x1="611.45" y1="570.4" x2="614.25" y2="570.4" stroke="#1a1a1a" stroke-width="0.8"/>
<line x1="611.45" y1="601" x2="614.25" y2="601" stroke="#1a1a1a" stroke-width="0.8"/>
<circle cx="612.85" cy="561" r="1.1" fill="#000"/>
<circle cx="612.85" cy="613.8" r="1.1" fill="#000"/>
<rect x="617.3" y="581.1" width="9.7" height="59.5" fill="#00BDFA" stroke="#1a1a1a" stroke-width="0.8"/>
<line x1="622.15" y1="561" x2="622.15" y2="599" stroke="#1a1a1a" stroke-width="0.8"/>
<line x1="620.75" y1="561" x2="623.55" y2="561" stroke="#1a1a1a" stroke-width="0.8"/>
<line x1="620.75" y1="599" x2="623.55" y2="599" stroke="#1a1a1a" stroke-width="0.8"/>
<circle cx="622.15" cy="561" r="1.1" fill="#000"/>
<circle cx="622.15" cy="562" r="1.1" fill="#000"/>
<circle cx="622.15" cy="619.4" r="1.1" fill="#000"/>
<rect x="627" y="589.5" width="9.5" height="51.1" fill="#DDA0DD" stroke="#1a1a1a" stroke-width="0.8"/>
<line x1="631.75" y1="581.4" x2="631.75" y2="595.2" stroke="#1a1a1a" stroke-width="0.8"/>
<line x1="630.35" y1="581.4" x2="633.15" y2="581.4" stroke="#1a1a1a" stroke-width="0.8"/>
<line x1="630.35" y1="595.2" x2="633.15" y2="595.2" stroke="#1a1a1a" stroke-width="0.8"/>
<circle cx="631.75" cy="574.2" r="1.1" fill="#000"/>
<circle cx="631.75" cy="593.4" r="1.1" fill="#000"/>
<circle cx="631.75" cy="601" r="1.1" fill="#000"/>
<rect x="640.3" y="586.5" width="9.5" height="54.1" fill="#CAFF70" stroke="#1a1a1a" stroke-width="0.8"/>
<line x1="645.05" y1="582.4" x2="645.05" y2="590.8" stroke="#1a1a1a" stroke-width="0.8"/>
<line x1="643.65" y1="582.4" x2="646.45" y2="582.4" stroke="#1a1a1a" stroke-width="0.8"/>
<line x1="643.65" y1="590.8" x2="646.45" y2="590.8" stroke="#1a1a1a" stroke-width="0.8"/>
<circle cx="645.05" cy="578.8" r="1.1" fill="#000"/>
<circle cx="645.05" cy="583" r="1.1" fill="#000"/>
<circle cx="645.05" cy="589" r="1.1" fill="#000"/>
<rect x="649.8" y="605.4" width="8.9" height="35.2" fill="#FF7F50" stroke="#1a1a1a" stroke-width="0.8"/>
<line x1="654.25" y1="592.1" x2="654.25" y2="619" stroke="#1a1a1a" stroke-width="0.8"/>
<line x1="652.85" y1="592.1" x2="655.65" y2="592.1" stroke="#1a1a1a" stroke-width="0.8"/>
<line x1="652.85" y1="619" x2="655.65" y2="619" stroke="#1a1a1a" stroke-width="0.8"/>
<circle cx="654.25" cy="580.6" r="1.1" fill="#000"/>
<circle cx="654.25" cy="610" r="1.1" fill="#000"/>
<circle cx="654.25" cy="620.7" r="1.1" fill="#000"/>
<rect x="658.7" y="593.9" width="9.7" height="46.7" fill="#00BDFA" stroke="#1a1a1a" stroke-width="0.8"/>
<line x1="663.55" y1="569" x2="663.55" y2="619" stroke="#1a1a1a" stroke-width="0.8"/>
<line x1="662.15" y1="569" x2="664.95" y2="569" stroke="#1a1a1a" stroke-width="0.8"/>
<line x1="662.15" y1="619" x2="664.95" y2="619" stroke="#1a1a1a" stroke-width="0.8"/>
<circle cx="663.55" cy="548.1" r="1.1" fill="#000"/>
<circle cx="663.55" cy="598.5" r="1.1" fill="#000"/>
<circle cx="663.55" cy="633.7" r="1.1" fill="#000"/>
<rect x="668.4" y="631.2" width="9.5" height="9.4" fill="#DDA0DD" stroke="#1a1a1a" stroke-width="0.8"/>
<line x1="673.15" y1="628" x2="673.15" y2="634" stroke="#1a1a1a" stroke-width="0.8"/>
<line x1="671.75" y1="628" x2="674.55" y2="628" stroke="#1a1a1a" stroke-width="0.8"/>
<line x1="671.75" y1="634" x2="674.55" y2="634" stroke="#1a1a1a" stroke-width="0.8"/>
<circle cx="673.15" cy="628" r="1.1" fill="#000"/>
<circle cx="673.15" cy="631" r="1.1" fill="#000"/>
<circle cx="673.15" cy="633" r="1.1" fill="#000"/>
<text x="576.9" y="536.9" font-size="7.8" text-anchor="middle" fill="#000" color="#000">ns</text>
<line x1="603.5" y1="535.5" x2="631.8" y2="535.5" stroke="#777" stroke-width="1.2"/>
<text x="617.6" y="536.96" font-size="8" text-anchor="middle" fill="#000" color="#000">***</text>
<line x1="603.5" y1="540.5" x2="621.4" y2="540.5" stroke="#777" stroke-width="1.2"/>
<text x="612.3" y="541.86" font-size="8" text-anchor="middle" fill="#000" color="#000">**</text>
<line x1="603.5" y1="545.5" x2="615.4" y2="545.5" stroke="#777" stroke-width="1.2"/>
<text x="609.7" y="546.96" font-size="8" text-anchor="middle" fill="#000" color="#000">**</text>
<line x1="645" y1="535.5" x2="672.3" y2="535.5" stroke="#777" stroke-width="1.2"/>
<text x="659.1" y="536.96" font-size="8" text-anchor="middle" fill="#000" color="#000">***</text>
<line x1="657.2" y1="540.5" x2="672.3" y2="540.5" stroke="#777" stroke-width="1.2"/>
<text x="665.1" y="541.86" font-size="8" text-anchor="middle" fill="#000" color="#000">**</text>
<line x1="662.9" y1="545.5" x2="672.3" y2="545.5" stroke="#777" stroke-width="1.2"/>
<text x="668.2" y="546.96" font-size="8" text-anchor="middle" fill="#000" color="#000">***</text>
<text x="579.5" y="653.4" font-size="7.6" text-anchor="middle" fill="#1a1a1a" color="#1a1a1a">NHS</text>
<text x="616.8" y="653.4" font-size="7.6" text-anchor="middle" fill="#1a1a1a" color="#1a1a1a">4d</text>
<text x="657.7" y="653.4" font-size="7.6" text-anchor="middle" fill="#1a1a1a" color="#1a1a1a">5d</text>
<line x1="604" y1="655.5" x2="677.3" y2="655.5" stroke="#777" stroke-width="1.4"/>
<text x="637.7" y="662.6" font-size="7.6" text-anchor="middle" fill="#1a1a1a" color="#1a1a1a">maTT</text></svg></body></html>
